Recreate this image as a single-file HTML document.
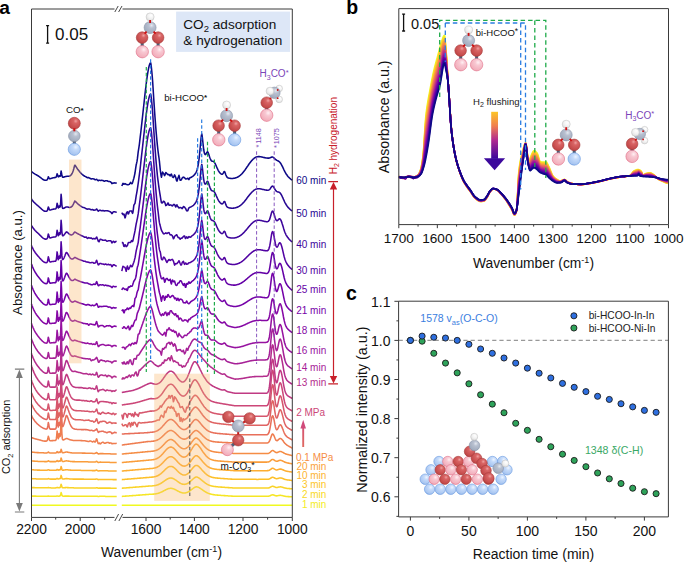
<!DOCTYPE html>
<html><head><meta charset="utf-8"><style>
html,body{margin:0;padding:0;background:#fff;}
svg{display:block;font-family:"Liberation Sans", sans-serif;}
</style></head><body>
<svg width="685" height="562" viewBox="0 0 685 562">
<defs>
<radialGradient id="gO" cx="0.62" cy="0.32" r="0.75"><stop offset="0" stop-color="#f0a0a0"/><stop offset="0.25" stop-color="#d86464"/><stop offset="0.8" stop-color="#c44a4a"/><stop offset="1" stop-color="#b03c3c"/></radialGradient>
<radialGradient id="gP" cx="0.62" cy="0.32" r="0.75"><stop offset="0" stop-color="#fff0f3"/><stop offset="0.3" stop-color="#f8c8d2"/><stop offset="0.85" stop-color="#f2aebb"/><stop offset="1" stop-color="#e8788e"/></radialGradient>
<radialGradient id="gB" cx="0.62" cy="0.32" r="0.75"><stop offset="0" stop-color="#eef5ff"/><stop offset="0.3" stop-color="#c4dafa"/><stop offset="0.85" stop-color="#a6c4f0"/><stop offset="1" stop-color="#6a9ae0"/></radialGradient>
<radialGradient id="gC" cx="0.62" cy="0.32" r="0.75"><stop offset="0" stop-color="#e4e8f0"/><stop offset="0.3" stop-color="#b8c0d0"/><stop offset="0.85" stop-color="#a2acbe"/><stop offset="1" stop-color="#8a94a8"/></radialGradient>
<radialGradient id="gH" cx="0.62" cy="0.32" r="0.75"><stop offset="0" stop-color="#ffffff"/><stop offset="0.5" stop-color="#f2f2f2"/><stop offset="0.9" stop-color="#e0e0e0"/><stop offset="1" stop-color="#c8c8c8"/></radialGradient>
<linearGradient id="gArrowB" x1="0" y1="0" x2="0" y2="1"><stop offset="0" stop-color="#fcc527"/><stop offset="0.3" stop-color="#f07f4f"/><stop offset="0.6" stop-color="#b12a90"/><stop offset="1" stop-color="#3a069c"/></linearGradient>
<linearGradient id="gArrowR" gradientUnits="userSpaceOnUse" x1="0" y1="447" x2="0" y2="420"><stop offset="0" stop-color="#e06a60"/><stop offset="1" stop-color="#d04a7a"/></linearGradient>
</defs>
<text x="-0.80" y="13.60" font-size="19.20" fill="#000" text-anchor="start" font-weight="bold" >a</text>
<path d="M31.5 505.3 31.9 505.3 32.3 505.3 32.7 505.3 33.1 505.3 33.5 505.3 33.9 505.3 34.3 505.3 34.7 505.3 35.1 505.3 35.5 505.3 35.9 505.3 36.3 505.3 36.7 505.3 37.1 505.3 37.5 505.3 37.9 505.3 38.3 505.3 38.7 505.3 39.1 505.3 39.5 505.3 39.9 505.3 40.3 505.3 40.7 505.3 41.1 505.3 41.5 505.3 41.9 505.3 42.3 505.3 42.7 505.3 43.1 505.3 43.5 505.3 43.9 505.3 44.3 505.3 44.7 505.3 45.1 505.3 45.5 505.3 45.9 505.3 46.3 505.3 46.7 505.3 47.1 505.3 47.5 505.3 47.9 505.3 48.3 505.3 48.7 505.3 49.1 505.3 49.5 505.3 49.9 505.3 50.3 505.3 50.7 505.3 51.1 505.3 51.5 505.3 51.9 505.3 52.3 505.3 52.7 505.3 53.1 505.3 53.5 505.3 53.9 505.3 54.3 505.3 54.7 505.3 55.1 505.3 55.5 505.3 55.9 505.3 56.3 505.3 56.7 505.3 57.1 505.3 57.5 505.3 57.9 505.3 58.3 505.3 58.7 505.3 59.1 505.3 59.5 505.3 59.9 505.3 60.3 505.3 60.7 505.3 61.1 505.3 61.5 505.3 61.9 505.3 62.3 505.3 62.7 505.3 63.1 505.3 63.5 505.3 63.9 505.3 64.3 505.3 64.7 505.3 65.1 505.3 65.5 505.3 65.9 505.3 66.3 505.3 66.7 505.3 67.1 505.3 67.5 505.3 67.9 505.3 68.3 505.3 68.7 505.3 69.1 505.3 69.5 505.3 69.9 505.3 70.3 505.3 70.7 505.3 71.1 505.3 71.5 505.3 71.9 505.3 72.3 505.3 72.7 505.3 73.1 505.3 73.5 505.3 73.9 505.3 74.3 505.3 74.7 505.3 75.1 505.3 75.5 505.3 75.9 505.3 76.3 505.3 76.7 505.3 77.1 505.3 77.5 505.3 77.9 505.3 78.3 505.3 78.7 505.3 79.1 505.3 79.5 505.3 79.9 505.3 80.3 505.3 80.7 505.3 81.1 505.3 81.5 505.3 81.9 505.3 82.3 505.3 82.7 505.3 83.1 505.3 83.5 505.3 83.9 505.3 84.3 505.3 84.7 505.3 85.1 505.3 85.5 505.3 85.9 505.3 86.3 505.3 86.7 505.3 87.1 505.3 87.5 505.3 87.9 505.3 88.3 505.3 88.7 505.3 89.1 505.3 89.5 505.3 89.9 505.3 90.3 505.3 90.7 505.3 91.1 505.3 91.5 505.3 91.9 505.3 92.3 505.3 92.7 505.3 93.1 505.3 93.5 505.3 93.9 505.3 94.3 505.3 94.7 505.3 95.1 505.3 95.5 505.3 95.9 505.3 96.3 505.3 96.7 505.3 97.1 505.3 97.5 505.3 97.9 505.3 98.3 505.3 98.7 505.3 99.1 505.3 99.5 505.3 99.9 505.3 100.3 505.3 100.7 505.3 101.1 505.3 101.5 505.3 101.9 505.3 102.3 505.3 102.7 505.3 103.1 505.3 103.5 505.3 103.9 505.3 104.3 505.3 104.7 505.3 105.1 505.3 105.5 505.3 105.9 505.3 106.3 505.3 106.7 505.3 107.1 505.3 107.5 505.3 107.9 505.3 108.3 505.3 108.7 505.3 109.1 505.3 109.5 505.3 109.9 505.3 110.3 505.3 110.7 505.3 111.1 505.3 111.5 505.3 111.9 505.3 112.3 505.3 112.7 505.3 113.1 505.3 113.5 505.3 113.9 505.3 114.3 505.3 114.7 505.3 115.1 505.3 115.5 505.3 115.9 505.3 116.3 505.3 116.7 505.3" fill="none" stroke="#f0f921" stroke-width="1.55" stroke-linejoin="round"/>
<path d="M121.8 505.3 122.2 505.3 122.6 505.3 123.0 505.3 123.4 505.3 123.8 505.3 124.2 505.3 124.6 505.3 125.0 505.3 125.4 505.3 125.8 505.3 126.2 505.3 126.6 505.3 127.0 505.3 127.4 505.3 127.8 505.3 128.2 505.3 128.6 505.3 129.0 505.3 129.4 505.3 129.8 505.3 130.2 505.3 130.6 505.3 131.0 505.3 131.4 505.3 131.8 505.3 132.2 505.3 132.6 505.3 133.0 505.3 133.4 505.3 133.8 505.3 134.2 505.3 134.6 505.3 135.0 505.3 135.4 505.3 135.8 505.3 136.2 505.3 136.6 505.3 137.0 505.3 137.4 505.3 137.8 505.3 138.2 505.3 138.6 505.3 139.0 505.3 139.4 505.3 139.8 505.3 140.2 505.3 140.6 505.3 141.0 505.3 141.4 505.3 141.8 505.3 142.2 505.3 142.6 505.3 143.0 505.3 143.4 505.3 143.8 505.3 144.2 505.3 144.6 505.3 145.0 505.3 145.4 505.3 145.8 505.3 146.2 505.3 146.6 505.3 147.0 505.3 147.4 505.3 147.8 505.3 148.2 505.3 148.6 505.3 149.0 505.3 149.4 505.3 149.8 505.3 150.2 505.3 150.6 505.3 151.0 505.3 151.4 505.3 151.8 505.3 152.2 505.3 152.6 505.3 153.0 505.3 153.4 505.3 153.8 505.3 154.2 505.3 154.6 505.3 155.0 505.3 155.4 505.3 155.8 505.3 156.2 505.3 156.6 505.3 157.0 505.3 157.4 505.3 157.8 505.3 158.2 505.3 158.6 505.3 159.0 505.3 159.4 505.3 159.8 505.3 160.2 505.3 160.6 505.3 161.0 505.3 161.4 505.3 161.8 505.3 162.2 505.3 162.6 505.3 163.0 505.3 163.4 505.3 163.8 505.3 164.2 505.3 164.6 505.3 165.0 505.3 165.4 505.3 165.8 505.3 166.2 505.3 166.6 505.3 167.0 505.3 167.4 505.3 167.8 505.3 168.2 505.3 168.6 505.3 169.0 505.3 169.4 505.3 169.8 505.3 170.2 505.3 170.6 505.3 171.0 505.3 171.4 505.3 171.8 505.3 172.2 505.3 172.6 505.3 173.0 505.3 173.4 505.3 173.8 505.3 174.2 505.3 174.6 505.3 175.0 505.3 175.4 505.3 175.8 505.3 176.2 505.3 176.6 505.3 177.0 505.3 177.4 505.3 177.8 505.3 178.2 505.3 178.6 505.3 179.0 505.3 179.4 505.3 179.8 505.3 180.2 505.3 180.6 505.3 181.0 505.3 181.4 505.3 181.8 505.3 182.2 505.3 182.6 505.3 183.0 505.3 183.4 505.3 183.8 505.3 184.2 505.3 184.6 505.3 185.0 505.3 185.4 505.3 185.8 505.3 186.2 505.3 186.6 505.3 187.0 505.3 187.4 505.3 187.8 505.3 188.2 505.3 188.6 505.3 189.0 505.3 189.4 505.3 189.8 505.3 190.2 505.3 190.6 505.3 191.0 505.3 191.4 505.3 191.8 505.3 192.2 505.3 192.6 505.3 193.0 505.3 193.4 505.3 193.8 505.3 194.2 505.3 194.6 505.3 195.0 505.3 195.4 505.3 195.8 505.3 196.2 505.3 196.6 505.3 197.0 505.3 197.4 505.3 197.8 505.3 198.2 505.3 198.6 505.3 199.0 505.3 199.4 505.3 199.8 505.3 200.2 505.3 200.6 505.3 201.0 505.3 201.4 505.3 201.8 505.3 202.2 505.3 202.6 505.3 203.0 505.3 203.4 505.3 203.8 505.3 204.2 505.3 204.6 505.3 205.0 505.3 205.4 505.3 205.8 505.3 206.2 505.3 206.6 505.3 207.0 505.3 207.4 505.3 207.8 505.3 208.2 505.3 208.6 505.3 209.0 505.3 209.4 505.3 209.8 505.3 210.2 505.3 210.6 505.3 211.0 505.3 211.4 505.3 211.8 505.3 212.2 505.3 212.6 505.3 213.0 505.3 213.4 505.3 213.8 505.3 214.2 505.3 214.6 505.3 215.0 505.3 215.4 505.3 215.8 505.3 216.2 505.3 216.6 505.3 217.0 505.3 217.4 505.3 217.8 505.3 218.2 505.3 218.6 505.3 219.0 505.3 219.4 505.3 219.8 505.3 220.2 505.3 220.6 505.3 221.0 505.3 221.4 505.3 221.8 505.3 222.2 505.3 222.6 505.3 223.0 505.3 223.4 505.3 223.8 505.3 224.2 505.3 224.6 505.3 225.0 505.3 225.4 505.3 225.8 505.3 226.2 505.3 226.6 505.3 227.0 505.3 227.4 505.3 227.8 505.3 228.2 505.3 228.6 505.3 229.0 505.3 229.4 505.3 229.8 505.3 230.2 505.3 230.6 505.3 231.0 505.3 231.4 505.3 231.8 505.3 232.2 505.3 232.6 505.3 233.0 505.3 233.4 505.3 233.8 505.3 234.2 505.3 234.6 505.3 235.0 505.3 235.4 505.3 235.8 505.3 236.2 505.3 236.6 505.3 237.0 505.3 237.4 505.3 237.8 505.3 238.2 505.3 238.6 505.3 239.0 505.3 239.4 505.3 239.8 505.3 240.2 505.3 240.6 505.3 241.0 505.3 241.4 505.3 241.8 505.3 242.2 505.3 242.6 505.3 243.0 505.3 243.4 505.3 243.8 505.3 244.2 505.3 244.6 505.3 245.0 505.3 245.4 505.3 245.8 505.3 246.2 505.3 246.6 505.3 247.0 505.3 247.4 505.3 247.8 505.3 248.2 505.3 248.6 505.3 249.0 505.3 249.4 505.3 249.8 505.3 250.2 505.3 250.6 505.3 251.0 505.3 251.4 505.3 251.8 505.3 252.2 505.3 252.6 505.3 253.0 505.3 253.4 505.3 253.8 505.3 254.2 505.3 254.6 505.3 255.0 505.3 255.4 505.3 255.8 505.3 256.2 505.3 256.6 505.3 257.0 505.3 257.4 505.3 257.8 505.3 258.2 505.3 258.6 505.3 259.0 505.3 259.4 505.3 259.8 505.3 260.2 505.3 260.6 505.3 261.0 505.3 261.4 505.3 261.8 505.3 262.2 505.3 262.6 505.3 263.0 505.3 263.4 505.3 263.8 505.3 264.2 505.3 264.6 505.3 265.0 505.3 265.4 505.3 265.8 505.3 266.2 505.3 266.6 505.3 267.0 505.3 267.4 505.3 267.8 505.3 268.2 505.3 268.6 505.3 269.0 505.3 269.4 505.3 269.8 505.3 270.2 505.3 270.6 505.3 271.0 505.3 271.4 505.3 271.8 505.3 272.2 505.3 272.6 505.3 273.0 505.3 273.4 505.3 273.8 505.3 274.2 505.3 274.6 505.3 275.0 505.3 275.4 505.3 275.8 505.3 276.2 505.3 276.6 505.3 277.0 505.3 277.4 505.3 277.8 505.3 278.2 505.3 278.6 505.3 279.0 505.3 279.4 505.3 279.8 505.3 280.2 505.3 280.6 505.3 281.0 505.3 281.4 505.3 281.8 505.3 282.2 505.3 282.6 505.3 283.0 505.3 283.4 505.3 283.8 505.3 284.2 505.3 284.6 505.3 285.0 505.3 285.4 505.3 285.8 505.3 286.2 505.3 286.6 505.3 287.0 505.3 287.4 505.3 287.8 505.3 288.2 505.3 288.6 505.3 289.0 505.3 289.4 505.3 289.8 505.3 290.2 505.3 290.6 505.3 291.0 505.3 291.4 505.3 291.8 505.3 292.2 505.3" fill="none" stroke="#f0f921" stroke-width="1.55" stroke-linejoin="round"/>
<path d="M31.5 496.1 31.9 496.1 32.3 496.1 32.7 496.1 33.1 496.1 33.5 496.1 33.9 496.1 34.3 496.1 34.7 496.1 35.1 496.1 35.5 496.1 35.9 496.1 36.3 496.2 36.7 496.2 37.1 496.2 37.5 496.2 37.9 496.2 38.3 496.2 38.7 496.2 39.1 496.2 39.5 496.2 39.9 496.2 40.3 496.2 40.7 496.2 41.1 496.2 41.5 496.2 41.9 496.2 42.3 496.2 42.7 496.2 43.1 496.2 43.5 496.2 43.9 496.2 44.3 496.2 44.7 496.2 45.1 496.2 45.5 496.2 45.9 496.2 46.3 496.2 46.7 496.2 47.1 496.2 47.5 496.2 47.9 496.1 48.3 496.1 48.7 496.1 49.1 496.2 49.5 496.2 49.9 496.2 50.3 496.2 50.7 496.2 51.1 496.2 51.5 496.2 51.9 496.2 52.3 496.2 52.7 496.2 53.1 496.2 53.5 496.2 53.9 496.2 54.3 496.2 54.7 496.2 55.1 496.2 55.5 496.2 55.9 496.2 56.3 496.2 56.7 496.1 57.1 496.0 57.5 496.1 57.9 496.2 58.3 496.2 58.7 496.2 59.1 496.1 59.5 496.1 59.9 496.0 60.3 495.7 60.7 494.6 61.1 492.6 61.5 493.6 61.9 495.2 62.3 495.9 62.7 496.1 63.1 496.2 63.5 496.2 63.9 496.2 64.3 496.2 64.7 496.1 65.1 496.1 65.5 496.1 65.9 496.1 66.3 496.1 66.7 496.1 67.1 496.1 67.5 496.1 67.9 496.1 68.3 496.1 68.7 496.1 69.1 496.1 69.5 496.2 69.9 496.2 70.3 496.2 70.7 496.2 71.1 496.2 71.5 496.2 71.9 496.2 72.3 496.2 72.7 496.2 73.1 496.2 73.5 496.2 73.9 496.2 74.3 496.2 74.7 496.2 75.1 496.2 75.5 496.2 75.9 496.2 76.3 496.2 76.7 496.2 77.1 496.2 77.5 496.2 77.9 496.2 78.3 496.2 78.7 496.2 79.1 496.2 79.5 496.2 79.9 496.2 80.3 496.2 80.7 496.2 81.1 496.2 81.5 496.2 81.9 496.2 82.3 496.2 82.7 496.2 83.1 496.2 83.5 496.2 83.9 496.3 84.3 496.3 84.7 496.3 85.1 496.3 85.5 496.3 85.9 496.3 86.3 496.3 86.7 496.3 87.1 496.3 87.5 496.3 87.9 496.3 88.3 496.3 88.7 496.3 89.1 496.3 89.5 496.3 89.9 496.3 90.3 496.3 90.7 496.3 91.1 496.3 91.5 496.3 91.9 496.3 92.3 496.3 92.7 496.3 93.1 496.3 93.5 496.3 93.9 496.3 94.3 496.3 94.7 496.3 95.1 496.3 95.5 496.3 95.9 496.2 96.3 496.2 96.7 496.2 97.1 496.2 97.5 496.3 97.9 496.4 98.3 496.4 98.7 496.4 99.1 496.4 99.5 496.3 99.9 496.3 100.3 496.3 100.7 496.3 101.1 496.3 101.5 496.3 101.9 496.3 102.3 496.3 102.7 496.3 103.1 496.3 103.5 496.3 103.9 496.3 104.3 496.3 104.7 496.3 105.1 496.3 105.5 496.4 105.9 496.4 106.3 496.4 106.7 496.4 107.1 496.4 107.5 496.4 107.9 496.4 108.3 496.4 108.7 496.4 109.1 496.4 109.5 496.4 109.9 496.4 110.3 496.4 110.7 496.4 111.1 496.4 111.5 496.4 111.9 496.4 112.3 496.4 112.7 496.4 113.1 496.4 113.5 496.4 113.9 496.4 114.3 496.4 114.7 496.4 115.1 496.4 115.5 496.4 115.9 496.4 116.3 496.4 116.7 496.4" fill="none" stroke="#f6e624" stroke-width="1.55" stroke-linejoin="round"/>
<path d="M121.8 496.4 122.2 496.4 122.6 496.3 123.0 496.3 123.4 496.3 123.8 496.3 124.2 496.2 124.6 496.2 125.0 496.2 125.4 496.1 125.8 496.1 126.2 496.1 126.6 496.0 127.0 496.0 127.4 496.0 127.8 496.0 128.2 495.9 128.6 495.9 129.0 495.9 129.4 495.8 129.8 495.8 130.2 495.8 130.6 495.7 131.0 495.7 131.4 495.7 131.8 495.7 132.2 495.6 132.6 495.6 133.0 495.6 133.4 495.5 133.8 495.5 134.2 495.5 134.6 495.4 135.0 495.4 135.4 495.4 135.8 495.4 136.2 495.3 136.6 495.3 137.0 495.3 137.4 495.2 137.8 495.2 138.2 495.2 138.6 495.1 139.0 495.1 139.4 495.1 139.8 495.1 140.2 495.0 140.6 495.0 141.0 495.0 141.4 494.9 141.8 494.9 142.2 494.9 142.6 494.8 143.0 494.8 143.4 494.8 143.8 494.8 144.2 494.7 144.6 494.7 145.0 494.7 145.4 494.6 145.8 494.6 146.2 494.6 146.6 494.5 147.0 494.5 147.4 494.5 147.8 494.4 148.2 494.4 148.6 494.4 149.0 494.3 149.4 494.3 149.8 494.3 150.2 494.3 150.6 494.3 151.0 494.2 151.4 494.2 151.8 494.2 152.2 494.2 152.6 494.2 153.0 494.1 153.4 494.1 153.8 494.1 154.2 494.0 154.6 494.0 155.0 493.9 155.4 493.9 155.8 493.8 156.2 493.8 156.6 493.7 157.0 493.6 157.4 493.5 157.8 493.4 158.2 493.3 158.6 493.2 159.0 493.0 159.4 492.9 159.8 492.7 160.2 492.6 160.6 492.4 161.0 492.2 161.4 492.1 161.8 491.9 162.2 491.7 162.6 491.5 163.0 491.3 163.4 491.0 163.8 490.8 164.2 490.6 164.6 490.4 165.0 490.2 165.4 490.0 165.8 489.8 166.2 489.6 166.6 489.4 167.0 489.2 167.4 489.0 167.8 488.9 168.2 488.7 168.6 488.6 169.0 488.5 169.4 488.4 169.8 488.4 170.2 488.3 170.6 488.3 171.0 488.3 171.4 488.3 171.8 488.4 172.2 488.5 172.6 488.5 173.0 488.7 173.4 488.8 173.8 488.9 174.2 489.1 174.6 489.3 175.0 489.5 175.4 489.7 175.8 489.9 176.2 490.1 176.6 490.3 177.0 490.6 177.4 490.8 177.8 491.0 178.2 491.2 178.6 491.4 179.0 491.6 179.4 491.8 179.8 492.0 180.2 492.2 180.6 492.3 181.0 492.5 181.4 492.6 181.8 492.7 182.2 492.8 182.6 492.9 183.0 492.9 183.4 493.0 183.8 493.0 184.2 493.0 184.6 493.0 185.0 493.0 185.4 492.9 185.8 492.8 186.2 492.7 186.6 492.6 187.0 492.5 187.4 492.3 187.8 492.1 188.2 491.9 188.6 491.7 189.0 491.5 189.4 491.2 189.8 490.9 190.2 490.6 190.6 490.4 191.0 490.0 191.4 489.7 191.8 489.4 192.2 489.1 192.6 488.8 193.0 488.5 193.4 488.2 193.8 487.9 194.2 487.7 194.6 487.4 195.0 487.2 195.4 487.0 195.8 486.9 196.2 486.8 196.6 486.8 197.0 486.9 197.4 486.9 197.8 487.1 198.2 487.2 198.6 487.4 199.0 487.6 199.4 487.8 199.8 488.1 200.2 488.3 200.6 488.6 201.0 488.9 201.4 489.1 201.8 489.4 202.2 489.7 202.6 490.0 203.0 490.3 203.4 490.5 203.8 490.8 204.2 491.1 204.6 491.3 205.0 491.6 205.4 491.8 205.8 492.1 206.2 492.3 206.6 492.5 207.0 492.7 207.4 492.9 207.8 493.1 208.2 493.3 208.6 493.4 209.0 493.6 209.4 493.7 209.8 493.8 210.2 494.0 210.6 494.1 211.0 494.2 211.4 494.3 211.8 494.3 212.2 494.4 212.6 494.5 213.0 494.6 213.4 494.6 213.8 494.7 214.2 494.8 214.6 494.8 215.0 494.9 215.4 494.9 215.8 494.9 216.2 495.0 216.6 495.0 217.0 495.1 217.4 495.1 217.8 495.1 218.2 495.2 218.6 495.2 219.0 495.2 219.4 495.3 219.8 495.3 220.2 495.3 220.6 495.3 221.0 495.4 221.4 495.4 221.8 495.4 222.2 495.5 222.6 495.5 223.0 495.5 223.4 495.5 223.8 495.6 224.2 495.6 224.6 495.6 225.0 495.6 225.4 495.7 225.8 495.7 226.2 495.7 226.6 495.8 227.0 495.8 227.4 495.8 227.8 495.8 228.2 495.9 228.6 495.9 229.0 495.9 229.4 495.9 229.8 496.0 230.2 496.0 230.6 496.0 231.0 496.0 231.4 496.1 231.8 496.1 232.2 496.1 232.6 496.2 233.0 496.2 233.4 496.2 233.8 496.2 234.2 496.3 234.6 496.3 235.0 496.3 235.4 496.3 235.8 496.3 236.2 496.3 236.6 496.3 237.0 496.3 237.4 496.3 237.8 496.3 238.2 496.3 238.6 496.3 239.0 496.3 239.4 496.3 239.8 496.3 240.2 496.3 240.6 496.3 241.0 496.3 241.4 496.3 241.8 496.3 242.2 496.3 242.6 496.3 243.0 496.3 243.4 496.3 243.8 496.3 244.2 496.3 244.6 496.3 245.0 496.3 245.4 496.3 245.8 496.3 246.2 496.3 246.6 496.3 247.0 496.3 247.4 496.3 247.8 496.3 248.2 496.3 248.6 496.3 249.0 496.3 249.4 496.3 249.8 496.3 250.2 496.3 250.6 496.3 251.0 496.3 251.4 496.3 251.8 496.3 252.2 496.3 252.6 496.3 253.0 496.3 253.4 496.3 253.8 496.3 254.2 496.3 254.6 496.3 255.0 496.3 255.4 496.3 255.8 496.3 256.2 496.3 256.6 496.3 257.0 496.3 257.4 496.3 257.8 496.3 258.2 496.3 258.6 496.3 259.0 496.3 259.4 496.3 259.8 496.3 260.2 496.3 260.6 496.3 261.0 496.3 261.4 496.3 261.8 496.3 262.2 496.3 262.6 496.3 263.0 496.3 263.4 496.3 263.8 496.3 264.2 496.3 264.6 496.3 265.0 496.3 265.4 496.3 265.8 496.3 266.2 496.3 266.6 496.3 267.0 496.3 267.4 496.3 267.8 496.3 268.2 496.2 268.6 496.2 269.0 496.1 269.4 496.0 269.8 495.9 270.2 495.7 270.6 495.5 271.0 495.3 271.4 495.1 271.8 495.0 272.2 494.9 272.6 494.8 273.0 494.8 273.4 494.9 273.8 495.0 274.2 495.2 274.6 495.4 275.0 495.5 275.4 495.7 275.8 495.8 276.2 495.8 276.6 495.9 277.0 495.8 277.4 495.8 277.8 495.7 278.2 495.6 278.6 495.5 279.0 495.5 279.4 495.4 279.8 495.3 280.2 495.3 280.6 495.3 281.0 495.4 281.4 495.4 281.8 495.5 282.2 495.6 282.6 495.7 283.0 495.8 283.4 495.9 283.8 496.0 284.2 496.1 284.6 496.2 285.0 496.3 285.4 496.3 285.8 496.4 286.2 496.4 286.6 496.5 287.0 496.5 287.4 496.5 287.8 496.6 288.2 496.6 288.6 496.6 289.0 496.6 289.4 496.7 289.8 496.7 290.2 496.7 290.6 496.7 291.0 496.8 291.4 496.8 291.8 496.8 292.2 496.8" fill="none" stroke="#f6e624" stroke-width="1.55" stroke-linejoin="round"/>
<path d="M31.5 487.5 31.9 487.6 32.3 487.6 32.7 487.6 33.1 487.6 33.5 487.6 33.9 487.6 34.3 487.6 34.7 487.7 35.1 487.7 35.5 487.7 35.9 487.7 36.3 487.7 36.7 487.7 37.1 487.7 37.5 487.7 37.9 487.7 38.3 487.7 38.7 487.8 39.1 487.8 39.5 487.8 39.9 487.8 40.3 487.8 40.7 487.8 41.1 487.8 41.5 487.8 41.9 487.8 42.3 487.8 42.7 487.8 43.1 487.8 43.5 487.8 43.9 487.8 44.3 487.8 44.7 487.8 45.1 487.8 45.5 487.8 45.9 487.8 46.3 487.8 46.7 487.8 47.1 487.8 47.5 487.8 47.9 487.7 48.3 487.5 48.7 487.6 49.1 487.7 49.5 487.8 49.9 487.8 50.3 487.8 50.7 487.8 51.1 487.9 51.5 487.9 51.9 487.9 52.3 487.9 52.7 487.9 53.1 487.9 53.5 487.9 53.9 487.9 54.3 487.9 54.7 487.9 55.1 487.9 55.5 487.9 55.9 487.8 56.3 487.8 56.7 487.6 57.1 487.4 57.5 487.5 57.9 487.7 58.3 487.8 58.7 487.7 59.1 487.6 59.5 487.6 59.9 487.6 60.3 487.3 60.7 486.2 61.1 484.2 61.5 485.2 61.9 486.9 62.3 487.5 62.7 487.7 63.1 487.8 63.5 487.8 63.9 487.7 64.3 487.7 64.7 487.7 65.1 487.6 65.5 487.6 65.9 487.6 66.3 487.5 66.7 487.5 67.1 487.6 67.5 487.6 67.9 487.6 68.3 487.6 68.7 487.7 69.1 487.7 69.5 487.7 69.9 487.7 70.3 487.8 70.7 487.8 71.1 487.8 71.5 487.8 71.9 487.8 72.3 487.8 72.7 487.8 73.1 487.8 73.5 487.8 73.9 487.9 74.3 487.9 74.7 487.9 75.1 487.9 75.5 487.9 75.9 487.9 76.3 487.9 76.7 487.9 77.1 487.9 77.5 487.9 77.9 487.9 78.3 487.9 78.7 487.9 79.1 487.9 79.5 487.9 79.9 487.9 80.3 487.9 80.7 487.9 81.1 487.9 81.5 487.9 81.9 487.9 82.3 487.9 82.7 487.9 83.1 487.9 83.5 487.9 83.9 487.9 84.3 487.9 84.7 487.9 85.1 487.9 85.5 487.9 85.9 487.9 86.3 487.9 86.7 487.9 87.1 487.9 87.5 487.9 87.9 487.9 88.3 487.9 88.7 487.9 89.1 488.0 89.5 488.0 89.9 488.0 90.3 488.0 90.7 488.0 91.1 488.0 91.5 488.0 91.9 488.0 92.3 488.0 92.7 488.0 93.1 488.0 93.5 488.0 93.9 488.0 94.3 488.0 94.7 488.0 95.1 488.0 95.5 487.9 95.9 487.9 96.3 487.8 96.7 487.7 97.1 487.8 97.5 488.0 97.9 488.1 98.3 488.2 98.7 488.2 99.1 488.1 99.5 488.1 99.9 488.1 100.3 488.1 100.7 488.1 101.1 488.1 101.5 488.1 101.9 488.1 102.3 488.1 102.7 488.1 103.1 488.1 103.5 488.1 103.9 488.1 104.3 488.1 104.7 488.1 105.1 488.1 105.5 488.1 105.9 488.1 106.3 488.1 106.7 488.1 107.1 488.1 107.5 488.1 107.9 488.1 108.3 488.1 108.7 488.1 109.1 488.1 109.5 488.1 109.9 488.1 110.3 488.1 110.7 488.2 111.1 488.2 111.5 488.2 111.9 488.2 112.3 488.2 112.7 488.2 113.1 488.2 113.5 488.2 113.9 488.2 114.3 488.2 114.7 488.2 115.1 488.2 115.5 488.2 115.9 488.2 116.3 488.2 116.7 488.2" fill="none" stroke="#fad326" stroke-width="1.55" stroke-linejoin="round"/>
<path d="M121.8 488.2 122.2 488.2 122.6 488.1 123.0 488.1 123.4 488.1 123.8 488.0 124.2 488.0 124.6 488.0 125.0 488.0 125.4 487.9 125.8 487.9 126.2 487.9 126.6 487.8 127.0 487.8 127.4 487.8 127.8 487.7 128.2 487.7 128.6 487.7 129.0 487.6 129.4 487.6 129.8 487.6 130.2 487.5 130.6 487.5 131.0 487.5 131.4 487.5 131.8 487.4 132.2 487.4 132.6 487.4 133.0 487.3 133.4 487.3 133.8 487.3 134.2 487.2 134.6 487.2 135.0 487.2 135.4 487.1 135.8 487.1 136.2 487.1 136.6 487.0 137.0 487.0 137.4 487.0 137.8 487.0 138.2 486.9 138.6 486.9 139.0 486.9 139.4 486.8 139.8 486.8 140.2 486.8 140.6 486.7 141.0 486.7 141.4 486.7 141.8 486.6 142.2 486.6 142.6 486.6 143.0 486.5 143.4 486.5 143.8 486.5 144.2 486.4 144.6 486.4 145.0 486.4 145.4 486.4 145.8 486.3 146.2 486.3 146.6 486.3 147.0 486.2 147.4 486.2 147.8 486.2 148.2 486.1 148.6 486.1 149.0 486.0 149.4 486.0 149.8 486.0 150.2 486.0 150.6 485.9 151.0 485.9 151.4 485.9 151.8 485.9 152.2 485.9 152.6 485.8 153.0 485.8 153.4 485.8 153.8 485.7 154.2 485.7 154.6 485.6 155.0 485.5 155.4 485.5 155.8 485.4 156.2 485.3 156.6 485.2 157.0 485.1 157.4 484.9 157.8 484.8 158.2 484.7 158.6 484.5 159.0 484.3 159.4 484.1 159.8 483.9 160.2 483.7 160.6 483.5 161.0 483.3 161.4 483.0 161.8 482.8 162.2 482.5 162.6 482.2 163.0 482.0 163.4 481.7 163.8 481.4 164.2 481.1 164.6 480.8 165.0 480.5 165.4 480.2 165.8 480.0 166.2 479.7 166.6 479.5 167.0 479.2 167.4 479.0 167.8 478.8 168.2 478.6 168.6 478.5 169.0 478.3 169.4 478.2 169.8 478.1 170.2 478.1 170.6 478.0 171.0 478.0 171.4 478.1 171.8 478.1 172.2 478.2 172.6 478.3 173.0 478.5 173.4 478.7 173.8 478.9 174.2 479.1 174.6 479.3 175.0 479.6 175.4 479.9 175.8 480.1 176.2 480.4 176.6 480.7 177.0 481.0 177.4 481.3 177.8 481.6 178.2 481.9 178.6 482.2 179.0 482.5 179.4 482.7 179.8 483.0 180.2 483.2 180.6 483.4 181.0 483.6 181.4 483.8 181.8 483.9 182.2 484.0 182.6 484.2 183.0 484.2 183.4 484.3 183.8 484.3 184.2 484.4 184.6 484.3 185.0 484.3 185.4 484.2 185.8 484.1 186.2 484.0 186.6 483.9 187.0 483.7 187.4 483.5 187.8 483.3 188.2 483.1 188.6 482.8 189.0 482.5 189.4 482.2 189.8 481.9 190.2 481.5 190.6 481.2 191.0 480.8 191.4 480.4 191.8 480.1 192.2 479.7 192.6 479.3 193.0 479.0 193.4 478.6 193.8 478.3 194.2 478.0 194.6 477.7 195.0 477.5 195.4 477.3 195.8 477.1 196.2 477.0 196.6 477.0 197.0 477.1 197.4 477.2 197.8 477.4 198.2 477.6 198.6 477.8 199.0 478.0 199.4 478.3 199.8 478.6 200.2 478.9 200.6 479.2 201.0 479.6 201.4 479.9 201.8 480.2 202.2 480.6 202.6 480.9 203.0 481.2 203.4 481.6 203.8 481.9 204.2 482.2 204.6 482.5 205.0 482.8 205.4 483.1 205.8 483.4 206.2 483.6 206.6 483.9 207.0 484.1 207.4 484.4 207.8 484.6 208.2 484.8 208.6 484.9 209.0 485.1 209.4 485.3 209.8 485.4 210.2 485.6 210.6 485.7 211.0 485.8 211.4 485.9 211.8 486.0 212.2 486.1 212.6 486.2 213.0 486.2 213.4 486.3 213.8 486.4 214.2 486.4 214.6 486.5 215.0 486.5 215.4 486.6 215.8 486.6 216.2 486.7 216.6 486.7 217.0 486.8 217.4 486.8 217.8 486.8 218.2 486.9 218.6 486.9 219.0 486.9 219.4 487.0 219.8 487.0 220.2 487.0 220.6 487.1 221.0 487.1 221.4 487.1 221.8 487.1 222.2 487.2 222.6 487.2 223.0 487.2 223.4 487.3 223.8 487.3 224.2 487.3 224.6 487.3 225.0 487.4 225.4 487.4 225.8 487.4 226.2 487.4 226.6 487.5 227.0 487.5 227.4 487.5 227.8 487.6 228.2 487.6 228.6 487.6 229.0 487.6 229.4 487.7 229.8 487.7 230.2 487.7 230.6 487.7 231.0 487.8 231.4 487.8 231.8 487.8 232.2 487.8 232.6 487.9 233.0 487.9 233.4 487.9 233.8 488.0 234.2 488.0 234.6 488.0 235.0 488.0 235.4 488.0 235.8 488.0 236.2 488.0 236.6 488.0 237.0 488.0 237.4 488.0 237.8 488.0 238.2 488.0 238.6 488.0 239.0 488.0 239.4 488.0 239.8 488.0 240.2 488.0 240.6 488.0 241.0 488.0 241.4 488.0 241.8 488.0 242.2 488.0 242.6 488.0 243.0 488.0 243.4 488.0 243.8 488.0 244.2 488.0 244.6 488.0 245.0 488.0 245.4 488.0 245.8 488.0 246.2 488.0 246.6 488.0 247.0 488.0 247.4 488.0 247.8 488.0 248.2 488.0 248.6 488.0 249.0 488.0 249.4 488.0 249.8 488.0 250.2 488.0 250.6 488.0 251.0 488.0 251.4 488.0 251.8 488.0 252.2 488.0 252.6 488.0 253.0 488.0 253.4 488.0 253.8 488.0 254.2 488.0 254.6 488.0 255.0 488.0 255.4 488.0 255.8 488.0 256.2 488.0 256.6 488.0 257.0 488.0 257.4 488.0 257.8 488.0 258.2 488.0 258.6 488.0 259.0 488.0 259.4 488.0 259.8 488.0 260.2 488.0 260.6 488.0 261.0 488.0 261.4 488.0 261.8 488.0 262.2 488.0 262.6 488.0 263.0 488.0 263.4 488.0 263.8 488.0 264.2 488.0 264.6 488.0 265.0 488.0 265.4 488.0 265.8 488.0 266.2 488.0 266.6 488.0 267.0 488.0 267.4 488.0 267.8 488.0 268.2 488.0 268.6 487.9 269.0 487.8 269.4 487.7 269.8 487.5 270.2 487.3 270.6 487.1 271.0 486.8 271.4 486.6 271.8 486.4 272.2 486.3 272.6 486.2 273.0 486.3 273.4 486.4 273.8 486.5 274.2 486.7 274.6 486.9 275.0 487.1 275.4 487.2 275.8 487.4 276.2 487.5 276.6 487.5 277.0 487.5 277.4 487.4 277.8 487.3 278.2 487.2 278.6 487.1 279.0 487.0 279.4 486.9 279.8 486.9 280.2 486.8 280.6 486.8 281.0 486.9 281.4 487.0 281.8 487.1 282.2 487.2 282.6 487.3 283.0 487.4 283.4 487.5 283.8 487.7 284.2 487.8 284.6 487.9 285.0 488.0 285.4 488.1 285.8 488.2 286.2 488.3 286.6 488.3 287.0 488.4 287.4 488.4 287.8 488.4 288.2 488.5 288.6 488.5 289.0 488.6 289.4 488.6 289.8 488.6 290.2 488.7 290.6 488.7 291.0 488.7 291.4 488.8 291.8 488.8 292.2 488.8" fill="none" stroke="#fad326" stroke-width="1.55" stroke-linejoin="round"/>
<path d="M31.5 478.6 31.9 478.6 32.3 478.7 32.7 478.7 33.1 478.7 33.5 478.7 33.9 478.8 34.3 478.8 34.7 478.8 35.1 478.8 35.5 478.8 35.9 478.8 36.3 478.9 36.7 478.9 37.1 478.9 37.5 478.9 37.9 478.9 38.3 478.9 38.7 478.9 39.1 478.9 39.5 479.0 39.9 479.0 40.3 479.0 40.7 479.0 41.1 479.0 41.5 479.0 41.9 479.0 42.3 479.0 42.7 479.0 43.1 479.0 43.5 479.0 43.9 479.0 44.3 479.0 44.7 479.0 45.1 479.0 45.5 479.0 45.9 479.0 46.3 479.0 46.7 479.0 47.1 479.0 47.5 478.9 47.9 478.8 48.3 478.6 48.7 478.7 49.1 478.9 49.5 479.0 49.9 479.0 50.3 479.1 50.7 479.1 51.1 479.1 51.5 479.1 51.9 479.1 52.3 479.1 52.7 479.1 53.1 479.1 53.5 479.1 53.9 479.1 54.3 479.1 54.7 479.1 55.1 479.1 55.5 479.1 55.9 479.1 56.3 479.0 56.7 478.7 57.1 478.4 57.5 478.6 57.9 478.9 58.3 479.0 58.7 478.9 59.1 478.7 59.5 478.6 59.9 478.8 60.3 478.5 60.7 477.4 61.1 475.4 61.5 476.5 61.9 478.1 62.3 478.8 62.7 478.9 63.1 479.0 63.5 479.0 63.9 478.9 64.3 478.9 64.7 478.8 65.1 478.8 65.5 478.7 65.9 478.6 66.3 478.6 66.7 478.6 67.1 478.6 67.5 478.7 67.9 478.7 68.3 478.7 68.7 478.8 69.1 478.8 69.5 478.9 69.9 478.9 70.3 478.9 70.7 479.0 71.1 479.0 71.5 479.0 71.9 479.0 72.3 479.0 72.7 479.1 73.1 479.1 73.5 479.1 73.9 479.1 74.3 479.1 74.7 479.1 75.1 479.1 75.5 479.1 75.9 479.1 76.3 479.1 76.7 479.1 77.1 479.1 77.5 479.1 77.9 479.1 78.3 479.1 78.7 479.1 79.1 479.1 79.5 479.1 79.9 479.1 80.3 479.1 80.7 479.1 81.1 479.1 81.5 479.1 81.9 479.1 82.3 479.1 82.7 479.1 83.1 479.1 83.5 479.1 83.9 479.2 84.3 479.2 84.7 479.2 85.1 479.2 85.5 479.2 85.9 479.2 86.3 479.2 86.7 479.2 87.1 479.2 87.5 479.2 87.9 479.2 88.3 479.2 88.7 479.2 89.1 479.2 89.5 479.2 89.9 479.2 90.3 479.2 90.7 479.2 91.1 479.3 91.5 479.3 91.9 479.3 92.3 479.3 92.7 479.3 93.1 479.3 93.5 479.3 93.9 479.3 94.3 479.3 94.7 479.3 95.1 479.3 95.5 479.2 95.9 479.1 96.3 478.9 96.7 478.9 97.1 479.1 97.5 479.3 97.9 479.5 98.3 479.6 98.7 479.6 99.1 479.5 99.5 479.4 99.9 479.4 100.3 479.4 100.7 479.4 101.1 479.4 101.5 479.4 101.9 479.4 102.3 479.4 102.7 479.4 103.1 479.4 103.5 479.4 103.9 479.4 104.3 479.4 104.7 479.4 105.1 479.4 105.5 479.5 105.9 479.5 106.3 479.5 106.7 479.5 107.1 479.5 107.5 479.5 107.9 479.5 108.3 479.5 108.7 479.5 109.1 479.5 109.5 479.5 109.9 479.5 110.3 479.5 110.7 479.5 111.1 479.5 111.5 479.5 111.9 479.5 112.3 479.5 112.7 479.6 113.1 479.6 113.5 479.6 113.9 479.6 114.3 479.6 114.7 479.6 115.1 479.6 115.5 479.6 115.9 479.6 116.3 479.6 116.7 479.6" fill="none" stroke="#fdc029" stroke-width="1.55" stroke-linejoin="round"/>
<path d="M121.8 479.6 122.2 479.6 122.6 479.5 123.0 479.5 123.4 479.5 123.8 479.4 124.2 479.4 124.6 479.4 125.0 479.3 125.4 479.3 125.8 479.3 126.2 479.2 126.6 479.2 127.0 479.2 127.4 479.1 127.8 479.1 128.2 479.1 128.6 479.0 129.0 479.0 129.4 479.0 129.8 479.0 130.2 478.9 130.6 478.9 131.0 478.9 131.4 478.8 131.8 478.8 132.2 478.8 132.6 478.7 133.0 478.7 133.4 478.7 133.8 478.6 134.2 478.6 134.6 478.6 135.0 478.5 135.4 478.5 135.8 478.5 136.2 478.4 136.6 478.4 137.0 478.4 137.4 478.3 137.8 478.3 138.2 478.3 138.6 478.2 139.0 478.2 139.4 478.2 139.8 478.1 140.2 478.1 140.6 478.1 141.0 478.0 141.4 478.0 141.8 478.0 142.2 477.9 142.6 477.9 143.0 477.9 143.4 477.8 143.8 477.8 144.2 477.8 144.6 477.7 145.0 477.7 145.4 477.7 145.8 477.6 146.2 477.6 146.6 477.6 147.0 477.5 147.4 477.5 147.8 477.5 148.2 477.4 148.6 477.4 149.0 477.4 149.4 477.3 149.8 477.3 150.2 477.3 150.6 477.2 151.0 477.2 151.4 477.2 151.8 477.1 152.2 477.1 152.6 477.1 153.0 477.0 153.4 477.0 153.8 476.9 154.2 476.8 154.6 476.7 155.0 476.7 155.4 476.6 155.8 476.4 156.2 476.3 156.6 476.2 157.0 476.0 157.4 475.8 157.8 475.7 158.2 475.5 158.6 475.2 159.0 475.0 159.4 474.7 159.8 474.5 160.2 474.2 160.6 473.9 161.0 473.6 161.4 473.2 161.8 472.9 162.2 472.5 162.6 472.1 163.0 471.7 163.4 471.4 163.8 471.0 164.2 470.6 164.6 470.2 165.0 469.8 165.4 469.4 165.8 469.0 166.2 468.6 166.6 468.3 167.0 468.0 167.4 467.7 167.8 467.4 168.2 467.1 168.6 466.9 169.0 466.7 169.4 466.6 169.8 466.5 170.2 466.4 170.6 466.4 171.0 466.4 171.4 466.4 171.8 466.5 172.2 466.6 172.6 466.8 173.0 467.0 173.4 467.2 173.8 467.5 174.2 467.8 174.6 468.1 175.0 468.5 175.4 468.9 175.8 469.2 176.2 469.6 176.6 470.0 177.0 470.5 177.4 470.9 177.8 471.3 178.2 471.7 178.6 472.1 179.0 472.4 179.4 472.8 179.8 473.1 180.2 473.4 180.6 473.7 181.0 474.0 181.4 474.2 181.8 474.4 182.2 474.6 182.6 474.8 183.0 474.9 183.4 475.0 183.8 475.0 184.2 475.0 184.6 475.0 185.0 475.0 185.4 474.9 185.8 474.8 186.2 474.6 186.6 474.4 187.0 474.2 187.4 473.9 187.8 473.6 188.2 473.3 188.6 473.0 189.0 472.6 189.4 472.2 189.8 471.7 190.2 471.3 190.6 470.8 191.0 470.3 191.4 469.8 191.8 469.3 192.2 468.8 192.6 468.3 193.0 467.8 193.4 467.4 193.8 466.9 194.2 466.5 194.6 466.2 195.0 465.9 195.4 465.6 195.8 465.4 196.2 465.4 196.6 465.4 197.0 465.5 197.4 465.6 197.8 465.8 198.2 466.1 198.6 466.4 199.0 466.7 199.4 467.1 199.8 467.5 200.2 467.9 200.6 468.4 201.0 468.8 201.4 469.3 201.8 469.7 202.2 470.2 202.6 470.6 203.0 471.1 203.4 471.5 203.8 471.9 204.2 472.3 204.6 472.7 205.0 473.1 205.4 473.5 205.8 473.8 206.2 474.2 206.6 474.5 207.0 474.8 207.4 475.1 207.8 475.4 208.2 475.6 208.6 475.9 209.0 476.1 209.4 476.3 209.8 476.5 210.2 476.6 210.6 476.8 211.0 476.9 211.4 477.0 211.8 477.2 212.2 477.3 212.6 477.4 213.0 477.5 213.4 477.6 213.8 477.6 214.2 477.7 214.6 477.8 215.0 477.8 215.4 477.9 215.8 477.9 216.2 478.0 216.6 478.0 217.0 478.1 217.4 478.1 217.8 478.1 218.2 478.2 218.6 478.2 219.0 478.2 219.4 478.3 219.8 478.3 220.2 478.3 220.6 478.4 221.0 478.4 221.4 478.4 221.8 478.5 222.2 478.5 222.6 478.5 223.0 478.5 223.4 478.6 223.8 478.6 224.2 478.6 224.6 478.7 225.0 478.7 225.4 478.7 225.8 478.7 226.2 478.8 226.6 478.8 227.0 478.8 227.4 478.8 227.8 478.9 228.2 478.9 228.6 478.9 229.0 478.9 229.4 479.0 229.8 479.0 230.2 479.0 230.6 479.1 231.0 479.1 231.4 479.1 231.8 479.1 232.2 479.2 232.6 479.2 233.0 479.2 233.4 479.2 233.8 479.3 234.2 479.3 234.6 479.3 235.0 479.3 235.4 479.3 235.8 479.3 236.2 479.3 236.6 479.3 237.0 479.3 237.4 479.3 237.8 479.3 238.2 479.3 238.6 479.3 239.0 479.3 239.4 479.3 239.8 479.3 240.2 479.3 240.6 479.3 241.0 479.3 241.4 479.3 241.8 479.3 242.2 479.3 242.6 479.3 243.0 479.3 243.4 479.3 243.8 479.3 244.2 479.3 244.6 479.3 245.0 479.3 245.4 479.3 245.8 479.3 246.2 479.3 246.6 479.3 247.0 479.3 247.4 479.3 247.8 479.3 248.2 479.3 248.6 479.3 249.0 479.3 249.4 479.3 249.8 479.3 250.2 479.3 250.6 479.3 251.0 479.3 251.4 479.3 251.8 479.3 252.2 479.3 252.6 479.3 253.0 479.3 253.4 479.3 253.8 479.3 254.2 479.3 254.6 479.3 255.0 479.3 255.4 479.3 255.8 479.3 256.2 479.3 256.6 479.4 257.0 479.4 257.4 479.4 257.8 479.4 258.2 479.4 258.6 479.3 259.0 479.3 259.4 479.3 259.8 479.3 260.2 479.3 260.6 479.3 261.0 479.3 261.4 479.3 261.8 479.3 262.2 479.3 262.6 479.3 263.0 479.3 263.4 479.3 263.8 479.3 264.2 479.3 264.6 479.3 265.0 479.3 265.4 479.3 265.8 479.3 266.2 479.3 266.6 479.3 267.0 479.3 267.4 479.3 267.8 479.3 268.2 479.3 268.6 479.2 269.0 479.1 269.4 478.9 269.8 478.8 270.2 478.5 270.6 478.2 271.0 478.0 271.4 477.7 271.8 477.5 272.2 477.3 272.6 477.2 273.0 477.3 273.4 477.4 273.8 477.6 274.2 477.8 274.6 478.0 275.0 478.2 275.4 478.4 275.8 478.6 276.2 478.7 276.6 478.7 277.0 478.7 277.4 478.6 277.8 478.5 278.2 478.4 278.6 478.3 279.0 478.1 279.4 478.0 279.8 478.0 280.2 477.9 280.6 478.0 281.0 478.0 281.4 478.1 281.8 478.2 282.2 478.3 282.6 478.5 283.0 478.6 283.4 478.8 283.8 479.0 284.2 479.1 284.6 479.3 285.0 479.4 285.4 479.5 285.8 479.6 286.2 479.7 286.6 479.7 287.0 479.8 287.4 479.9 287.8 479.9 288.2 480.0 288.6 480.0 289.0 480.1 289.4 480.1 289.8 480.2 290.2 480.2 290.6 480.3 291.0 480.3 291.4 480.4 291.8 480.4 292.2 480.4" fill="none" stroke="#fdc029" stroke-width="1.55" stroke-linejoin="round"/>
<path d="M31.5 469.7 31.9 469.7 32.3 469.7 32.7 469.8 33.1 469.8 33.5 469.8 33.9 469.9 34.3 469.9 34.7 469.9 35.1 470.0 35.5 470.0 35.9 470.0 36.3 470.0 36.7 470.0 37.1 470.1 37.5 470.1 37.9 470.1 38.3 470.1 38.7 470.1 39.1 470.1 39.5 470.1 39.9 470.2 40.3 470.2 40.7 470.2 41.1 470.2 41.5 470.2 41.9 470.2 42.3 470.2 42.7 470.2 43.1 470.2 43.5 470.2 43.9 470.2 44.3 470.2 44.7 470.2 45.1 470.3 45.5 470.3 45.9 470.3 46.3 470.3 46.7 470.3 47.1 470.2 47.5 470.1 47.9 469.9 48.3 469.7 48.7 469.8 49.1 470.0 49.5 470.2 49.9 470.3 50.3 470.3 50.7 470.3 51.1 470.3 51.5 470.3 51.9 470.3 52.3 470.3 52.7 470.3 53.1 470.3 53.5 470.3 53.9 470.3 54.3 470.3 54.7 470.3 55.1 470.3 55.5 470.3 55.9 470.3 56.3 470.2 56.7 469.9 57.1 469.4 57.5 469.6 57.9 470.0 58.3 470.2 58.7 470.1 59.1 469.8 59.5 469.7 59.9 469.9 60.3 469.7 60.7 468.6 61.1 466.6 61.5 467.7 61.9 469.3 62.3 470.0 62.7 470.2 63.1 470.2 63.5 470.1 63.9 470.1 64.3 470.0 64.7 469.9 65.1 469.9 65.5 469.8 65.9 469.7 66.3 469.7 66.7 469.7 67.1 469.7 67.5 469.7 67.9 469.8 68.3 469.9 68.7 469.9 69.1 470.0 69.5 470.0 69.9 470.1 70.3 470.1 70.7 470.1 71.1 470.2 71.5 470.2 71.9 470.2 72.3 470.3 72.7 470.3 73.1 470.3 73.5 470.3 73.9 470.3 74.3 470.3 74.7 470.3 75.1 470.3 75.5 470.3 75.9 470.3 76.3 470.3 76.7 470.3 77.1 470.3 77.5 470.3 77.9 470.3 78.3 470.3 78.7 470.3 79.1 470.3 79.5 470.3 79.9 470.3 80.3 470.3 80.7 470.3 81.1 470.4 81.5 470.4 81.9 470.4 82.3 470.4 82.7 470.4 83.1 470.4 83.5 470.4 83.9 470.4 84.3 470.4 84.7 470.4 85.1 470.4 85.5 470.4 85.9 470.4 86.3 470.4 86.7 470.5 87.1 470.5 87.5 470.5 87.9 470.5 88.3 470.5 88.7 470.5 89.1 470.5 89.5 470.5 89.9 470.5 90.3 470.5 90.7 470.5 91.1 470.5 91.5 470.5 91.9 470.6 92.3 470.6 92.7 470.6 93.1 470.6 93.5 470.6 93.9 470.6 94.3 470.6 94.7 470.6 95.1 470.6 95.5 470.5 95.9 470.3 96.3 470.1 96.7 470.0 97.1 470.3 97.5 470.6 97.9 470.8 98.3 471.0 98.7 471.0 99.1 470.9 99.5 470.8 99.9 470.7 100.3 470.7 100.7 470.7 101.1 470.7 101.5 470.7 101.9 470.7 102.3 470.7 102.7 470.8 103.1 470.8 103.5 470.8 103.9 470.8 104.3 470.8 104.7 470.8 105.1 470.8 105.5 470.8 105.9 470.8 106.3 470.8 106.7 470.8 107.1 470.8 107.5 470.8 107.9 470.8 108.3 470.9 108.7 470.9 109.1 470.9 109.5 470.9 109.9 470.9 110.3 470.9 110.7 470.9 111.1 470.9 111.5 470.9 111.9 470.9 112.3 470.9 112.7 470.9 113.1 470.9 113.5 471.0 113.9 471.0 114.3 471.0 114.7 471.0 115.1 471.0 115.5 471.0 115.9 471.0 116.3 471.0 116.7 471.0" fill="none" stroke="#fdae32" stroke-width="1.55" stroke-linejoin="round"/>
<path d="M121.8 471.0 122.2 471.0 122.6 470.9 123.0 470.9 123.4 470.9 123.8 470.8 124.2 470.8 124.6 470.8 125.0 470.7 125.4 470.7 125.8 470.7 126.2 470.6 126.6 470.6 127.0 470.6 127.4 470.5 127.8 470.5 128.2 470.5 128.6 470.4 129.0 470.4 129.4 470.4 129.8 470.3 130.2 470.3 130.6 470.3 131.0 470.2 131.4 470.2 131.8 470.2 132.2 470.1 132.6 470.1 133.0 470.1 133.4 470.0 133.8 470.0 134.2 470.0 134.6 469.9 135.0 469.9 135.4 469.8 135.8 469.8 136.2 469.8 136.6 469.7 137.0 469.7 137.4 469.7 137.8 469.6 138.2 469.6 138.6 469.6 139.0 469.5 139.4 469.5 139.8 469.5 140.2 469.4 140.6 469.4 141.0 469.4 141.4 469.3 141.8 469.3 142.2 469.3 142.6 469.2 143.0 469.2 143.4 469.2 143.8 469.1 144.2 469.1 144.6 469.1 145.0 469.0 145.4 469.0 145.8 469.0 146.2 468.9 146.6 468.9 147.0 468.8 147.4 468.8 147.8 468.8 148.2 468.7 148.6 468.7 149.0 468.7 149.4 468.6 149.8 468.6 150.2 468.6 150.6 468.5 151.0 468.5 151.4 468.5 151.8 468.4 152.2 468.4 152.6 468.4 153.0 468.3 153.4 468.2 153.8 468.2 154.2 468.1 154.6 468.0 155.0 467.9 155.4 467.8 155.8 467.7 156.2 467.5 156.6 467.4 157.0 467.2 157.4 467.0 157.8 466.8 158.2 466.6 158.6 466.4 159.0 466.1 159.4 465.8 159.8 465.5 160.2 465.2 160.6 464.9 161.0 464.5 161.4 464.2 161.8 463.8 162.2 463.4 162.6 463.0 163.0 462.6 163.4 462.1 163.8 461.7 164.2 461.3 164.6 460.8 165.0 460.4 165.4 460.0 165.8 459.6 166.2 459.2 166.6 458.8 167.0 458.4 167.4 458.1 167.8 457.8 168.2 457.5 168.6 457.3 169.0 457.1 169.4 456.9 169.8 456.8 170.2 456.7 170.6 456.7 171.0 456.7 171.4 456.7 171.8 456.8 172.2 456.9 172.6 457.1 173.0 457.4 173.4 457.6 173.8 457.9 174.2 458.3 174.6 458.6 175.0 459.0 175.4 459.4 175.8 459.8 176.2 460.3 176.6 460.7 177.0 461.1 177.4 461.6 177.8 462.0 178.2 462.5 178.6 462.9 179.0 463.3 179.4 463.7 179.8 464.0 180.2 464.4 180.6 464.7 181.0 465.0 181.4 465.2 181.8 465.5 182.2 465.7 182.6 465.8 183.0 466.0 183.4 466.0 183.8 466.1 184.2 466.1 184.6 466.1 185.0 466.0 185.4 465.9 185.8 465.8 186.2 465.6 186.6 465.4 187.0 465.2 187.4 464.9 187.8 464.6 188.2 464.2 188.6 463.8 189.0 463.4 189.4 462.9 189.8 462.5 190.2 462.0 190.6 461.4 191.0 460.9 191.4 460.4 191.8 459.8 192.2 459.3 192.6 458.7 193.0 458.2 193.4 457.7 193.8 457.3 194.2 456.9 194.6 456.5 195.0 456.2 195.4 455.9 195.8 455.7 196.2 455.7 196.6 455.7 197.0 455.8 197.4 456.0 197.8 456.3 198.2 456.6 198.6 456.9 199.0 457.3 199.4 457.7 199.8 458.1 200.2 458.6 200.6 459.0 201.0 459.5 201.4 460.0 201.8 460.5 202.2 461.0 202.6 461.5 203.0 462.0 203.4 462.4 203.8 462.9 204.2 463.3 204.6 463.7 205.0 464.1 205.4 464.5 205.8 464.9 206.2 465.3 206.6 465.6 207.0 466.0 207.4 466.3 207.8 466.6 208.2 466.8 208.6 467.1 209.0 467.3 209.4 467.5 209.8 467.7 210.2 467.9 210.6 468.0 211.0 468.2 211.4 468.3 211.8 468.5 212.2 468.6 212.6 468.7 213.0 468.8 213.4 468.8 213.8 468.9 214.2 469.0 214.6 469.1 215.0 469.1 215.4 469.2 215.8 469.2 216.2 469.3 216.6 469.3 217.0 469.4 217.4 469.4 217.8 469.5 218.2 469.5 218.6 469.5 219.0 469.6 219.4 469.6 219.8 469.6 220.2 469.7 220.6 469.7 221.0 469.7 221.4 469.7 221.8 469.8 222.2 469.8 222.6 469.8 223.0 469.9 223.4 469.9 223.8 469.9 224.2 469.9 224.6 470.0 225.0 470.0 225.4 470.0 225.8 470.1 226.2 470.1 226.6 470.1 227.0 470.1 227.4 470.2 227.8 470.2 228.2 470.2 228.6 470.2 229.0 470.3 229.4 470.3 229.8 470.3 230.2 470.3 230.6 470.4 231.0 470.4 231.4 470.4 231.8 470.5 232.2 470.5 232.6 470.5 233.0 470.5 233.4 470.6 233.8 470.6 234.2 470.6 234.6 470.6 235.0 470.7 235.4 470.7 235.8 470.7 236.2 470.7 236.6 470.7 237.0 470.7 237.4 470.7 237.8 470.7 238.2 470.7 238.6 470.7 239.0 470.7 239.4 470.7 239.8 470.7 240.2 470.7 240.6 470.7 241.0 470.7 241.4 470.7 241.8 470.7 242.2 470.7 242.6 470.7 243.0 470.7 243.4 470.7 243.8 470.7 244.2 470.7 244.6 470.7 245.0 470.7 245.4 470.7 245.8 470.7 246.2 470.7 246.6 470.7 247.0 470.7 247.4 470.7 247.8 470.7 248.2 470.7 248.6 470.7 249.0 470.7 249.4 470.7 249.8 470.7 250.2 470.7 250.6 470.7 251.0 470.7 251.4 470.7 251.8 470.7 252.2 470.7 252.6 470.7 253.0 470.7 253.4 470.7 253.8 470.7 254.2 470.7 254.6 470.7 255.0 470.7 255.4 470.7 255.8 470.7 256.2 470.7 256.6 470.7 257.0 470.7 257.4 470.7 257.8 470.7 258.2 470.7 258.6 470.7 259.0 470.7 259.4 470.7 259.8 470.7 260.2 470.7 260.6 470.7 261.0 470.7 261.4 470.7 261.8 470.7 262.2 470.7 262.6 470.7 263.0 470.7 263.4 470.7 263.8 470.7 264.2 470.7 264.6 470.7 265.0 470.7 265.4 470.7 265.8 470.7 266.2 470.7 266.6 470.7 267.0 470.7 267.4 470.6 267.8 470.6 268.2 470.6 268.6 470.5 269.0 470.4 269.4 470.2 269.8 470.0 270.2 469.7 270.6 469.4 271.0 469.1 271.4 468.8 271.8 468.5 272.2 468.3 272.6 468.3 273.0 468.3 273.4 468.4 273.8 468.6 274.2 468.9 274.6 469.1 275.0 469.4 275.4 469.6 275.8 469.8 276.2 469.9 276.6 469.9 277.0 469.9 277.4 469.8 277.8 469.7 278.2 469.6 278.6 469.4 279.0 469.3 279.4 469.2 279.8 469.1 280.2 469.1 280.6 469.1 281.0 469.1 281.4 469.2 281.8 469.4 282.2 469.5 282.6 469.7 283.0 469.8 283.4 470.0 283.8 470.2 284.2 470.4 284.6 470.6 285.0 470.7 285.4 470.9 285.8 471.0 286.2 471.1 286.6 471.2 287.0 471.3 287.4 471.3 287.8 471.4 288.2 471.5 288.6 471.5 289.0 471.6 289.4 471.7 289.8 471.7 290.2 471.8 290.6 471.8 291.0 471.9 291.4 472.0 291.8 472.0 292.2 472.1" fill="none" stroke="#fdae32" stroke-width="1.55" stroke-linejoin="round"/>
<path d="M31.5 460.8 31.9 460.9 32.3 460.9 32.7 461.0 33.1 461.0 33.5 461.1 33.9 461.1 34.3 461.1 34.7 461.2 35.1 461.2 35.5 461.2 35.9 461.2 36.3 461.3 36.7 461.3 37.1 461.3 37.5 461.3 37.9 461.4 38.3 461.4 38.7 461.4 39.1 461.4 39.5 461.4 39.9 461.4 40.3 461.5 40.7 461.5 41.1 461.5 41.5 461.5 41.9 461.5 42.3 461.5 42.7 461.5 43.1 461.5 43.5 461.5 43.9 461.5 44.3 461.6 44.7 461.6 45.1 461.6 45.5 461.6 45.9 461.6 46.3 461.6 46.7 461.6 47.1 461.5 47.5 461.4 47.9 461.1 48.3 460.8 48.7 461.0 49.1 461.3 49.5 461.5 49.9 461.6 50.3 461.6 50.7 461.6 51.1 461.6 51.5 461.6 51.9 461.6 52.3 461.6 52.7 461.6 53.1 461.6 53.5 461.6 53.9 461.6 54.3 461.6 54.7 461.6 55.1 461.6 55.5 461.6 55.9 461.6 56.3 461.4 56.7 461.1 57.1 460.5 57.5 460.8 57.9 461.3 58.3 461.5 58.7 461.3 59.1 461.0 59.5 460.9 59.9 461.2 60.3 461.0 60.7 459.9 61.1 458.0 61.5 459.0 61.9 460.6 62.3 461.3 62.7 461.5 63.1 461.5 63.5 461.4 63.9 461.4 64.3 461.3 64.7 461.2 65.1 461.1 65.5 461.0 65.9 460.9 66.3 460.8 66.7 460.8 67.1 460.9 67.5 460.9 67.9 461.0 68.3 461.1 68.7 461.1 69.1 461.2 69.5 461.3 69.9 461.3 70.3 461.4 70.7 461.4 71.1 461.5 71.5 461.5 71.9 461.5 72.3 461.6 72.7 461.6 73.1 461.6 73.5 461.6 73.9 461.6 74.3 461.6 74.7 461.6 75.1 461.7 75.5 461.7 75.9 461.7 76.3 461.7 76.7 461.7 77.1 461.7 77.5 461.7 77.9 461.7 78.3 461.7 78.7 461.7 79.1 461.7 79.5 461.7 79.9 461.7 80.3 461.7 80.7 461.7 81.1 461.7 81.5 461.7 81.9 461.7 82.3 461.7 82.7 461.7 83.1 461.7 83.5 461.7 83.9 461.8 84.3 461.8 84.7 461.8 85.1 461.8 85.5 461.8 85.9 461.8 86.3 461.8 86.7 461.8 87.1 461.8 87.5 461.8 87.9 461.8 88.3 461.9 88.7 461.9 89.1 461.9 89.5 461.9 89.9 461.9 90.3 461.9 90.7 461.9 91.1 461.9 91.5 461.9 91.9 461.9 92.3 462.0 92.7 462.0 93.1 462.0 93.5 462.0 93.9 462.0 94.3 462.0 94.7 462.0 95.1 462.0 95.5 461.9 95.9 461.7 96.3 461.4 96.7 461.3 97.1 461.6 97.5 462.0 97.9 462.3 98.3 462.5 98.7 462.5 99.1 462.3 99.5 462.2 99.9 462.2 100.3 462.1 100.7 462.1 101.1 462.2 101.5 462.2 101.9 462.2 102.3 462.2 102.7 462.2 103.1 462.2 103.5 462.2 103.9 462.2 104.3 462.2 104.7 462.2 105.1 462.2 105.5 462.3 105.9 462.3 106.3 462.3 106.7 462.3 107.1 462.3 107.5 462.3 107.9 462.3 108.3 462.3 108.7 462.3 109.1 462.3 109.5 462.3 109.9 462.4 110.3 462.4 110.7 462.4 111.1 462.4 111.5 462.4 111.9 462.4 112.3 462.4 112.7 462.4 113.1 462.4 113.5 462.4 113.9 462.5 114.3 462.5 114.7 462.5 115.1 462.5 115.5 462.5 115.9 462.5 116.3 462.5 116.7 462.5" fill="none" stroke="#fa9d3b" stroke-width="1.55" stroke-linejoin="round"/>
<path d="M121.8 462.5 122.2 462.5 122.6 462.4 123.0 462.4 123.4 462.4 123.8 462.3 124.2 462.3 124.6 462.3 125.0 462.2 125.4 462.2 125.8 462.2 126.2 462.1 126.6 462.1 127.0 462.0 127.4 462.0 127.8 462.0 128.2 461.9 128.6 461.9 129.0 461.9 129.4 461.8 129.8 461.8 130.2 461.8 130.6 461.7 131.0 461.7 131.4 461.7 131.8 461.6 132.2 461.6 132.6 461.6 133.0 461.5 133.4 461.5 133.8 461.4 134.2 461.4 134.6 461.4 135.0 461.3 135.4 461.3 135.8 461.3 136.2 461.2 136.6 461.2 137.0 461.2 137.4 461.1 137.8 461.1 138.2 461.1 138.6 461.0 139.0 461.0 139.4 461.0 139.8 460.9 140.2 460.9 140.6 460.8 141.0 460.8 141.4 460.8 141.8 460.7 142.2 460.7 142.6 460.7 143.0 460.6 143.4 460.6 143.8 460.6 144.2 460.5 144.6 460.5 145.0 460.5 145.4 460.4 145.8 460.4 146.2 460.3 146.6 460.3 147.0 460.3 147.4 460.2 147.8 460.2 148.2 460.2 148.6 460.1 149.0 460.1 149.4 460.0 149.8 460.0 150.2 460.0 150.6 459.9 151.0 459.9 151.4 459.9 151.8 459.8 152.2 459.8 152.6 459.8 153.0 459.7 153.4 459.6 153.8 459.6 154.2 459.5 154.6 459.4 155.0 459.3 155.4 459.1 155.8 459.0 156.2 458.9 156.6 458.7 157.0 458.5 157.4 458.3 157.8 458.1 158.2 457.8 158.6 457.6 159.0 457.3 159.4 457.0 159.8 456.7 160.2 456.3 160.6 456.0 161.0 455.6 161.4 455.2 161.8 454.8 162.2 454.4 162.6 453.9 163.0 453.5 163.4 453.0 163.8 452.5 164.2 452.1 164.6 451.6 165.0 451.1 165.4 450.7 165.8 450.2 166.2 449.8 166.6 449.4 167.0 449.0 167.4 448.6 167.8 448.3 168.2 448.0 168.6 447.8 169.0 447.5 169.4 447.4 169.8 447.2 170.2 447.1 170.6 447.1 171.0 447.1 171.4 447.1 171.8 447.2 172.2 447.4 172.6 447.6 173.0 447.8 173.4 448.1 173.8 448.4 174.2 448.8 174.6 449.2 175.0 449.6 175.4 450.0 175.8 450.5 176.2 451.0 176.6 451.4 177.0 451.9 177.4 452.4 177.8 452.9 178.2 453.3 178.6 453.8 179.0 454.2 179.4 454.6 179.8 455.0 180.2 455.4 180.6 455.7 181.0 456.0 181.4 456.3 181.8 456.5 182.2 456.7 182.6 456.9 183.0 457.0 183.4 457.1 183.8 457.1 184.2 457.1 184.6 457.0 185.0 456.9 185.4 456.8 185.8 456.6 186.2 456.4 186.6 456.1 187.0 455.8 187.4 455.4 187.8 455.0 188.2 454.5 188.6 454.0 189.0 453.5 189.4 452.9 189.8 452.3 190.2 451.7 190.6 451.1 191.0 450.4 191.4 449.7 191.8 449.1 192.2 448.4 192.6 447.7 193.0 447.1 193.4 446.5 193.8 446.0 194.2 445.4 194.6 445.0 195.0 444.6 195.4 444.3 195.8 444.1 196.2 444.1 196.6 444.2 197.0 444.3 197.4 444.6 197.8 444.9 198.2 445.3 198.6 445.7 199.0 446.2 199.4 446.7 199.8 447.2 200.2 447.8 200.6 448.3 201.0 448.9 201.4 449.5 201.8 450.2 202.2 450.8 202.6 451.4 203.0 451.9 203.4 452.5 203.8 453.1 204.2 453.6 204.6 454.1 205.0 454.6 205.4 455.1 205.8 455.6 206.2 456.0 206.6 456.4 207.0 456.8 207.4 457.2 207.8 457.5 208.2 457.8 208.6 458.1 209.0 458.4 209.4 458.6 209.8 458.9 210.2 459.1 210.6 459.3 211.0 459.4 211.4 459.6 211.8 459.7 212.2 459.9 212.6 460.0 213.0 460.1 213.4 460.2 213.8 460.3 214.2 460.4 214.6 460.4 215.0 460.5 215.4 460.6 215.8 460.6 216.2 460.7 216.6 460.7 217.0 460.8 217.4 460.8 217.8 460.9 218.2 460.9 218.6 460.9 219.0 461.0 219.4 461.0 219.8 461.0 220.2 461.1 220.6 461.1 221.0 461.1 221.4 461.2 221.8 461.2 222.2 461.2 222.6 461.2 223.0 461.3 223.4 461.3 223.8 461.3 224.2 461.4 224.6 461.4 225.0 461.4 225.4 461.4 225.8 461.5 226.2 461.5 226.6 461.5 227.0 461.5 227.4 461.6 227.8 461.6 228.2 461.6 228.6 461.7 229.0 461.7 229.4 461.7 229.8 461.7 230.2 461.8 230.6 461.8 231.0 461.8 231.4 461.8 231.8 461.9 232.2 461.9 232.6 461.9 233.0 461.9 233.4 462.0 233.8 462.0 234.2 462.0 234.6 462.1 235.0 462.1 235.4 462.1 235.8 462.1 236.2 462.1 236.6 462.1 237.0 462.1 237.4 462.1 237.8 462.1 238.2 462.1 238.6 462.1 239.0 462.1 239.4 462.1 239.8 462.1 240.2 462.1 240.6 462.1 241.0 462.1 241.4 462.1 241.8 462.1 242.2 462.1 242.6 462.1 243.0 462.1 243.4 462.1 243.8 462.1 244.2 462.1 244.6 462.1 245.0 462.1 245.4 462.1 245.8 462.1 246.2 462.1 246.6 462.1 247.0 462.1 247.4 462.1 247.8 462.1 248.2 462.1 248.6 462.1 249.0 462.1 249.4 462.1 249.8 462.1 250.2 462.1 250.6 462.1 251.0 462.1 251.4 462.1 251.8 462.1 252.2 462.1 252.6 462.1 253.0 462.1 253.4 462.1 253.8 462.1 254.2 462.1 254.6 462.1 255.0 462.1 255.4 462.1 255.8 462.1 256.2 462.1 256.6 462.1 257.0 462.1 257.4 462.1 257.8 462.1 258.2 462.1 258.6 462.1 259.0 462.1 259.4 462.1 259.8 462.1 260.2 462.1 260.6 462.1 261.0 462.1 261.4 462.1 261.8 462.1 262.2 462.1 262.6 462.1 263.0 462.1 263.4 462.1 263.8 462.1 264.2 462.1 264.6 462.1 265.0 462.1 265.4 462.1 265.8 462.1 266.2 462.1 266.6 462.1 267.0 462.1 267.4 462.0 267.8 462.0 268.2 462.0 268.6 461.9 269.0 461.7 269.4 461.6 269.8 461.3 270.2 461.0 270.6 460.7 271.0 460.3 271.4 459.9 271.8 459.6 272.2 459.4 272.6 459.4 273.0 459.4 273.4 459.6 273.8 459.8 274.2 460.1 274.6 460.4 275.0 460.7 275.4 460.9 275.8 461.1 276.2 461.2 276.6 461.3 277.0 461.2 277.4 461.2 277.8 461.0 278.2 460.9 278.6 460.7 279.0 460.5 279.4 460.4 279.8 460.3 280.2 460.3 280.6 460.3 281.0 460.4 281.4 460.5 281.8 460.6 282.2 460.8 282.6 461.0 283.0 461.1 283.4 461.4 283.8 461.6 284.2 461.8 284.6 462.0 285.0 462.2 285.4 462.3 285.8 462.5 286.2 462.6 286.6 462.7 287.0 462.8 287.4 462.9 287.8 463.0 288.2 463.1 288.6 463.1 289.0 463.2 289.4 463.3 289.8 463.4 290.2 463.4 290.6 463.5 291.0 463.6 291.4 463.7 291.8 463.7 292.2 463.8" fill="none" stroke="#fa9d3b" stroke-width="1.55" stroke-linejoin="round"/>
<path d="M31.5 452.0 31.9 452.1 32.3 452.1 32.7 452.2 33.1 452.2 33.5 452.3 33.9 452.3 34.3 452.3 34.7 452.4 35.1 452.4 35.5 452.5 35.9 452.5 36.3 452.5 36.7 452.6 37.1 452.6 37.5 452.6 37.9 452.6 38.3 452.6 38.7 452.7 39.1 452.7 39.5 452.7 39.9 452.7 40.3 452.7 40.7 452.8 41.1 452.8 41.5 452.8 41.9 452.8 42.3 452.8 42.7 452.8 43.1 452.8 43.5 452.8 43.9 452.9 44.3 452.9 44.7 452.9 45.1 452.9 45.5 452.9 45.9 452.9 46.3 452.9 46.7 452.9 47.1 452.8 47.5 452.7 47.9 452.4 48.3 452.0 48.7 452.2 49.1 452.6 49.5 452.8 49.9 452.9 50.3 452.9 50.7 452.9 51.1 453.0 51.5 453.0 51.9 453.0 52.3 453.0 52.7 453.0 53.1 453.0 53.5 453.0 53.9 453.0 54.3 453.0 54.7 453.0 55.1 453.0 55.5 453.0 55.9 452.9 56.3 452.7 56.7 452.3 57.1 451.6 57.5 451.9 57.9 452.5 58.3 452.7 58.7 452.6 59.1 452.1 59.5 452.1 59.9 452.5 60.3 452.3 60.7 451.3 61.1 449.3 61.5 450.3 61.9 451.9 62.3 452.6 62.7 452.8 63.1 452.8 63.5 452.7 63.9 452.6 64.3 452.5 64.7 452.4 65.1 452.3 65.5 452.2 65.9 452.1 66.3 452.0 66.7 452.0 67.1 452.1 67.5 452.1 67.9 452.2 68.3 452.3 68.7 452.4 69.1 452.4 69.5 452.5 69.9 452.6 70.3 452.7 70.7 452.7 71.1 452.8 71.5 452.8 71.9 452.9 72.3 452.9 72.7 452.9 73.1 452.9 73.5 452.9 73.9 453.0 74.3 453.0 74.7 453.0 75.1 453.0 75.5 453.0 75.9 453.0 76.3 453.0 76.7 453.0 77.1 453.0 77.5 453.0 77.9 453.0 78.3 453.0 78.7 453.0 79.1 453.0 79.5 453.0 79.9 453.0 80.3 453.0 80.7 453.0 81.1 453.0 81.5 453.0 81.9 453.1 82.3 453.1 82.7 453.1 83.1 453.1 83.5 453.1 83.9 453.1 84.3 453.1 84.7 453.1 85.1 453.1 85.5 453.2 85.9 453.2 86.3 453.2 86.7 453.2 87.1 453.2 87.5 453.2 87.9 453.2 88.3 453.2 88.7 453.2 89.1 453.3 89.5 453.3 89.9 453.3 90.3 453.3 90.7 453.3 91.1 453.3 91.5 453.3 91.9 453.3 92.3 453.3 92.7 453.4 93.1 453.4 93.5 453.4 93.9 453.4 94.3 453.4 94.7 453.4 95.1 453.3 95.5 453.2 95.9 453.0 96.3 452.7 96.7 452.5 97.1 452.9 97.5 453.4 97.9 453.7 98.3 454.0 98.7 454.0 99.1 453.8 99.5 453.7 99.9 453.6 100.3 453.6 100.7 453.6 101.1 453.6 101.5 453.6 101.9 453.6 102.3 453.6 102.7 453.6 103.1 453.6 103.5 453.7 103.9 453.7 104.3 453.7 104.7 453.7 105.1 453.7 105.5 453.7 105.9 453.7 106.3 453.7 106.7 453.7 107.1 453.8 107.5 453.8 107.9 453.8 108.3 453.8 108.7 453.8 109.1 453.8 109.5 453.8 109.9 453.8 110.3 453.8 110.7 453.9 111.1 453.9 111.5 453.9 111.9 453.9 112.3 453.9 112.7 453.9 113.1 453.9 113.5 453.9 113.9 453.9 114.3 454.0 114.7 454.0 115.1 454.0 115.5 454.0 115.9 454.0 116.3 454.0 116.7 454.0" fill="none" stroke="#f58d45" stroke-width="1.55" stroke-linejoin="round"/>
<path d="M121.8 454.0 122.2 454.0 122.6 453.9 123.0 453.9 123.4 453.9 123.8 453.8 124.2 453.8 124.6 453.7 125.0 453.7 125.4 453.7 125.8 453.6 126.2 453.6 126.6 453.6 127.0 453.5 127.4 453.5 127.8 453.5 128.2 453.4 128.6 453.4 129.0 453.3 129.4 453.3 129.8 453.3 130.2 453.2 130.6 453.2 131.0 453.2 131.4 453.1 131.8 453.1 132.2 453.1 132.6 453.0 133.0 453.0 133.4 452.9 133.8 452.9 134.2 452.9 134.6 452.8 135.0 452.8 135.4 452.8 135.8 452.7 136.2 452.7 136.6 452.7 137.0 452.6 137.4 452.6 137.8 452.5 138.2 452.5 138.6 452.5 139.0 452.4 139.4 452.4 139.8 452.4 140.2 452.3 140.6 452.3 141.0 452.2 141.4 452.2 141.8 452.2 142.2 452.1 142.6 452.1 143.0 452.1 143.4 452.0 143.8 452.0 144.2 452.0 144.6 451.9 145.0 451.9 145.4 451.8 145.8 451.8 146.2 451.8 146.6 451.7 147.0 451.7 147.4 451.6 147.8 451.6 148.2 451.6 148.6 451.5 149.0 451.5 149.4 451.5 149.8 451.4 150.2 451.4 150.6 451.4 151.0 451.3 151.4 451.3 151.8 451.3 152.2 451.2 152.6 451.2 153.0 451.1 153.4 451.1 153.8 451.0 154.2 450.9 154.6 450.8 155.0 450.7 155.4 450.6 155.8 450.5 156.2 450.4 156.6 450.2 157.0 450.0 157.4 449.9 157.8 449.7 158.2 449.4 158.6 449.2 159.0 448.9 159.4 448.7 159.8 448.4 160.2 448.0 160.6 447.7 161.0 447.4 161.4 447.0 161.8 446.6 162.2 446.2 162.6 445.8 163.0 445.4 163.4 445.0 163.8 444.5 164.2 444.1 164.6 443.7 165.0 443.2 165.4 442.8 165.8 442.4 166.2 442.0 166.6 441.6 167.0 441.3 167.4 440.9 167.8 440.6 168.2 440.4 168.6 440.1 169.0 439.9 169.4 439.8 169.8 439.6 170.2 439.5 170.6 439.5 171.0 439.5 171.4 439.6 171.8 439.6 172.2 439.8 172.6 440.0 173.0 440.2 173.4 440.5 173.8 440.8 174.2 441.1 174.6 441.4 175.0 441.8 175.4 442.2 175.8 442.7 176.2 443.1 176.6 443.5 177.0 444.0 177.4 444.4 177.8 444.9 178.2 445.3 178.6 445.7 179.0 446.1 179.4 446.5 179.8 446.8 180.2 447.2 180.6 447.5 181.0 447.8 181.4 448.0 181.8 448.2 182.2 448.4 182.6 448.6 183.0 448.7 183.4 448.8 183.8 448.8 184.2 448.8 184.6 448.8 185.0 448.7 185.4 448.6 185.8 448.4 186.2 448.2 186.6 448.0 187.0 447.7 187.4 447.4 187.8 447.1 188.2 446.7 188.6 446.3 189.0 445.8 189.4 445.3 189.8 444.8 190.2 444.3 190.6 443.8 191.0 443.2 191.4 442.6 191.8 442.1 192.2 441.5 192.6 441.0 193.0 440.4 193.4 439.9 193.8 439.5 194.2 439.1 194.6 438.7 195.0 438.4 195.4 438.2 195.8 438.0 196.2 438.0 196.6 438.1 197.0 438.2 197.4 438.5 197.8 438.7 198.2 439.1 198.6 439.4 199.0 439.8 199.4 440.3 199.8 440.7 200.2 441.2 200.6 441.7 201.0 442.2 201.4 442.7 201.8 443.2 202.2 443.7 202.6 444.2 203.0 444.7 203.4 445.2 203.8 445.7 204.2 446.1 204.6 446.6 205.0 447.0 205.4 447.4 205.8 447.8 206.2 448.1 206.6 448.5 207.0 448.8 207.4 449.1 207.8 449.4 208.2 449.7 208.6 449.9 209.0 450.2 209.4 450.4 209.8 450.6 210.2 450.7 210.6 450.9 211.0 451.0 211.4 451.2 211.8 451.3 212.2 451.4 212.6 451.5 213.0 451.6 213.4 451.7 213.8 451.8 214.2 451.8 214.6 451.9 215.0 452.0 215.4 452.0 215.8 452.1 216.2 452.1 216.6 452.2 217.0 452.2 217.4 452.3 217.8 452.3 218.2 452.3 218.6 452.4 219.0 452.4 219.4 452.4 219.8 452.5 220.2 452.5 220.6 452.5 221.0 452.6 221.4 452.6 221.8 452.6 222.2 452.6 222.6 452.7 223.0 452.7 223.4 452.7 223.8 452.8 224.2 452.8 224.6 452.8 225.0 452.8 225.4 452.9 225.8 452.9 226.2 452.9 226.6 452.9 227.0 453.0 227.4 453.0 227.8 453.0 228.2 453.0 228.6 453.1 229.0 453.1 229.4 453.1 229.8 453.2 230.2 453.2 230.6 453.2 231.0 453.2 231.4 453.3 231.8 453.3 232.2 453.3 232.6 453.3 233.0 453.4 233.4 453.4 233.8 453.4 234.2 453.4 234.6 453.5 235.0 453.5 235.4 453.5 235.8 453.5 236.2 453.5 236.6 453.5 237.0 453.5 237.4 453.5 237.8 453.5 238.2 453.5 238.6 453.5 239.0 453.5 239.4 453.5 239.8 453.5 240.2 453.5 240.6 453.5 241.0 453.5 241.4 453.5 241.8 453.5 242.2 453.5 242.6 453.5 243.0 453.5 243.4 453.5 243.8 453.5 244.2 453.5 244.6 453.5 245.0 453.5 245.4 453.5 245.8 453.5 246.2 453.5 246.6 453.5 247.0 453.5 247.4 453.5 247.8 453.5 248.2 453.5 248.6 453.5 249.0 453.5 249.4 453.5 249.8 453.5 250.2 453.5 250.6 453.5 251.0 453.5 251.4 453.5 251.8 453.5 252.2 453.5 252.6 453.5 253.0 453.5 253.4 453.5 253.8 453.5 254.2 453.5 254.6 453.5 255.0 453.5 255.4 453.5 255.8 453.5 256.2 453.5 256.6 453.5 257.0 453.5 257.4 453.5 257.8 453.5 258.2 453.5 258.6 453.5 259.0 453.5 259.4 453.5 259.8 453.5 260.2 453.5 260.6 453.5 261.0 453.5 261.4 453.5 261.8 453.5 262.2 453.5 262.6 453.5 263.0 453.5 263.4 453.5 263.8 453.5 264.2 453.5 264.6 453.5 265.0 453.5 265.4 453.5 265.8 453.5 266.2 453.5 266.6 453.5 267.0 453.5 267.4 453.5 267.8 453.4 268.2 453.4 268.6 453.3 269.0 453.1 269.4 452.9 269.8 452.6 270.2 452.3 270.6 451.9 271.0 451.5 271.4 451.1 271.8 450.8 272.2 450.6 272.6 450.5 273.0 450.6 273.4 450.7 273.8 451.0 274.2 451.3 274.6 451.6 275.0 451.9 275.4 452.2 275.8 452.4 276.2 452.5 276.6 452.6 277.0 452.6 277.4 452.5 277.8 452.3 278.2 452.1 278.6 451.9 279.0 451.8 279.4 451.6 279.8 451.5 280.2 451.5 280.6 451.5 281.0 451.6 281.4 451.7 281.8 451.9 282.2 452.1 282.6 452.3 283.0 452.4 283.4 452.7 283.8 453.0 284.2 453.2 284.6 453.4 285.0 453.6 285.4 453.8 285.8 454.0 286.2 454.1 286.6 454.2 287.0 454.3 287.4 454.4 287.8 454.5 288.2 454.6 288.6 454.7 289.0 454.8 289.4 454.9 289.8 455.0 290.2 455.1 290.6 455.2 291.0 455.3 291.4 455.4 291.8 455.5 292.2 455.5" fill="none" stroke="#f58d45" stroke-width="1.55" stroke-linejoin="round"/>
<path d="M31.5 437.5 31.9 437.7 32.3 437.8 32.7 438.0 33.1 438.2 33.5 438.3 33.9 438.4 34.3 438.6 34.7 438.7 35.1 438.8 35.5 438.9 35.9 439.0 36.3 439.1 36.7 439.2 37.1 439.3 37.5 439.4 37.9 439.5 38.3 439.6 38.7 439.7 39.1 439.8 39.5 439.9 39.9 440.0 40.3 440.1 40.7 440.2 41.1 440.4 41.5 440.5 41.9 440.6 42.3 440.7 42.7 440.8 43.1 440.9 43.5 440.9 43.9 441.0 44.3 441.1 44.7 441.1 45.1 441.1 45.5 441.1 45.9 441.1 46.3 441.1 46.7 441.0 47.1 440.7 47.5 439.9 47.9 438.3 48.3 436.3 48.7 437.2 49.1 439.1 49.5 440.2 49.9 440.6 50.3 440.7 50.7 440.7 51.1 440.7 51.5 440.7 51.9 440.6 52.3 440.6 52.7 440.6 53.1 440.6 53.5 440.5 53.9 440.5 54.3 440.5 54.7 440.5 55.1 440.5 55.5 440.4 55.9 440.1 56.3 438.9 56.7 435.8 57.1 431.1 57.5 433.4 57.9 437.4 58.3 438.7 58.7 437.3 59.1 433.8 59.5 433.6 59.9 436.6 60.3 436.0 60.7 429.3 61.1 416.6 61.5 423.4 61.9 433.9 62.3 438.4 62.7 439.7 63.1 440.0 63.5 439.9 63.9 439.7 64.3 439.6 64.7 439.3 65.1 439.1 65.5 438.9 65.9 438.7 66.3 438.5 66.7 438.5 67.1 438.6 67.5 438.7 67.9 438.9 68.3 439.1 68.7 439.2 69.1 439.4 69.5 439.5 69.9 439.7 70.3 439.8 70.7 439.9 71.1 440.0 71.5 440.1 71.9 440.2 72.3 440.3 72.7 440.3 73.1 440.4 73.5 440.4 73.9 440.4 74.3 440.4 74.7 440.4 75.1 440.5 75.5 440.5 75.9 440.5 76.3 440.5 76.7 440.5 77.1 440.5 77.5 440.5 77.9 440.5 78.3 440.5 78.7 440.5 79.1 440.5 79.5 440.5 79.9 440.5 80.3 440.5 80.7 440.6 81.1 440.6 81.5 440.6 81.9 440.6 82.3 440.7 82.7 440.7 83.1 440.7 83.5 440.8 83.9 440.8 84.3 440.7 84.7 440.7 85.1 440.8 85.5 440.9 85.9 441.0 86.3 441.1 86.7 441.2 87.1 441.3 87.5 441.3 87.9 441.4 88.3 441.5 88.7 441.5 89.1 441.4 89.5 441.1 89.9 440.9 90.3 440.9 90.7 441.1 91.1 441.2 91.5 441.4 91.9 441.6 92.3 441.9 92.7 442.0 93.1 441.7 93.5 441.4 93.9 441.1 94.3 441.5 94.7 441.8 95.1 442.1 95.5 441.6 95.9 440.6 96.3 439.3 96.7 438.8 97.1 440.0 97.5 441.4 97.9 442.6 98.3 443.6 98.7 443.5 99.1 443.0 99.5 443.1 99.9 443.4 100.3 443.9 100.7 443.7 101.1 443.3 101.5 442.9 101.9 442.6 102.3 442.4 102.7 442.2 103.1 442.2 103.5 442.5 103.9 442.9 104.3 443.2 104.7 443.2 105.1 443.1 105.5 443.1 105.9 442.9 106.3 442.8 106.7 442.6 107.1 442.5 107.5 442.5 107.9 442.5 108.3 442.5 108.7 442.7 109.1 443.0 109.5 443.2 109.9 443.1 110.3 443.0 110.7 442.9 111.1 443.0 111.5 443.4 111.9 443.8 112.3 443.7 112.7 443.5 113.1 443.5 113.5 443.6 113.9 443.5 114.3 443.5 114.7 443.5 115.1 443.4 115.5 443.4 115.9 443.4 116.3 443.3 116.7 443.2" fill="none" stroke="#ef7d50" stroke-width="1.55" stroke-linejoin="round"/>
<path d="M121.8 445.0 122.2 445.0 122.6 444.9 123.0 444.9 123.4 444.8 123.8 444.7 124.2 444.7 124.6 444.6 125.0 444.6 125.4 444.5 125.8 444.5 126.2 444.4 126.6 444.4 127.0 444.3 127.4 444.3 127.8 444.2 128.2 444.2 128.6 444.1 129.0 444.1 129.4 444.0 129.8 443.9 130.2 443.9 130.6 443.8 131.0 443.8 131.4 443.7 131.8 443.7 132.2 443.6 132.6 443.6 133.0 443.5 133.4 443.5 133.8 443.4 134.2 443.4 134.6 443.3 135.0 443.3 135.4 443.2 135.8 443.1 136.2 443.1 136.6 443.0 137.0 443.0 137.4 442.9 137.8 442.9 138.2 442.8 138.6 442.8 139.0 442.7 139.4 442.7 139.8 442.6 140.2 442.6 140.6 442.5 141.0 442.5 141.4 442.4 141.8 442.3 142.2 442.3 142.6 442.2 143.0 442.2 143.4 442.1 143.8 442.1 144.2 442.0 144.6 442.0 145.0 441.9 145.4 441.9 145.8 441.8 146.2 441.7 146.6 441.7 147.0 441.6 147.4 441.6 147.8 441.6 148.2 441.5 148.6 441.5 149.0 441.5 149.4 441.5 149.8 441.4 150.2 441.4 150.6 441.4 151.0 441.4 151.4 441.3 151.8 441.3 152.2 441.3 152.6 441.2 153.0 441.2 153.4 441.1 153.8 441.1 154.2 441.0 154.6 440.9 155.0 440.8 155.4 440.7 155.8 440.6 156.2 440.5 156.6 440.3 157.0 440.2 157.4 440.0 157.8 439.8 158.2 439.6 158.6 439.4 159.0 439.1 159.4 438.9 159.8 438.6 160.2 438.3 160.6 438.0 161.0 437.7 161.4 437.4 161.8 437.0 162.2 436.7 162.6 436.3 163.0 435.9 163.4 435.5 163.8 435.1 164.2 434.7 164.6 434.3 165.0 433.9 165.4 433.5 165.8 433.2 166.2 432.8 166.6 432.5 167.0 432.1 167.4 431.8 167.8 431.5 168.2 431.3 168.6 431.1 169.0 430.9 169.4 430.7 169.8 430.6 170.2 430.5 170.6 430.5 171.0 430.5 171.4 430.5 171.8 430.6 172.2 430.8 172.6 430.9 173.0 431.1 173.4 431.4 173.8 431.6 174.2 432.0 174.6 432.3 175.0 432.6 175.4 433.0 175.8 433.4 176.2 433.8 176.6 434.2 177.0 434.6 177.4 435.0 177.8 435.4 178.2 435.8 178.6 436.2 179.0 436.6 179.4 436.9 179.8 437.3 180.2 437.6 180.6 437.9 181.0 438.1 181.4 438.4 181.8 438.6 182.2 438.7 182.6 438.9 183.0 439.0 183.4 439.1 183.8 439.1 184.2 439.2 184.6 439.1 185.0 439.1 185.4 439.0 185.8 438.9 186.2 438.7 186.6 438.5 187.0 438.3 187.4 438.1 187.8 437.8 188.2 437.5 188.6 437.1 189.0 436.8 189.4 436.4 189.8 436.0 190.2 435.5 190.6 435.1 191.0 434.6 191.4 434.2 191.8 433.7 192.2 433.3 192.6 432.8 193.0 432.4 193.4 432.0 193.8 431.6 194.2 431.3 194.6 431.0 195.0 430.8 195.4 430.6 195.8 430.5 196.2 430.5 196.6 430.6 197.0 430.7 197.4 430.9 197.8 431.2 198.2 431.4 198.6 431.7 199.0 432.1 199.4 432.4 199.8 432.8 200.2 433.2 200.6 433.6 201.0 434.0 201.4 434.4 201.8 434.8 202.2 435.3 202.6 435.7 203.0 436.1 203.4 436.5 203.8 436.8 204.2 437.2 204.6 437.5 205.0 437.9 205.4 438.2 205.8 438.5 206.2 438.8 206.6 439.1 207.0 439.4 207.4 439.6 207.8 439.8 208.2 440.0 208.6 440.2 209.0 440.4 209.4 440.6 209.8 440.7 210.2 440.9 210.6 441.0 211.0 441.1 211.4 441.2 211.8 441.3 212.2 441.4 212.6 441.5 213.0 441.6 213.4 441.6 213.8 441.7 214.2 441.7 214.6 441.8 215.0 441.8 215.4 441.9 215.8 441.9 216.2 442.0 216.6 442.0 217.0 442.0 217.4 442.1 217.8 442.1 218.2 442.1 218.6 442.1 219.0 442.2 219.4 442.2 219.8 442.2 220.2 442.2 220.6 442.3 221.0 442.3 221.4 442.3 221.8 442.3 222.2 442.4 222.6 442.4 223.0 442.4 223.4 442.4 223.8 442.4 224.2 442.5 224.6 442.5 225.0 442.5 225.4 442.5 225.8 442.5 226.2 442.6 226.6 442.6 227.0 442.6 227.4 442.6 227.8 442.6 228.2 442.7 228.6 442.7 229.0 442.7 229.4 442.7 229.8 442.7 230.2 442.8 230.6 442.8 231.0 442.8 231.4 442.8 231.8 442.8 232.2 442.9 232.6 442.9 233.0 442.9 233.4 442.9 233.8 442.9 234.2 443.0 234.6 443.0 235.0 443.0 235.4 443.0 235.8 443.0 236.2 443.0 236.6 443.0 237.0 443.0 237.4 443.0 237.8 443.0 238.2 443.0 238.6 443.0 239.0 443.0 239.4 443.0 239.8 443.0 240.2 443.0 240.6 443.0 241.0 443.0 241.4 443.0 241.8 443.0 242.2 443.0 242.6 443.0 243.0 443.0 243.4 443.0 243.8 443.0 244.2 443.0 244.6 443.0 245.0 443.0 245.4 443.0 245.8 443.0 246.2 443.0 246.6 443.0 247.0 443.0 247.4 443.0 247.8 443.0 248.2 443.0 248.6 443.0 249.0 443.0 249.4 443.0 249.8 443.0 250.2 443.0 250.6 443.0 251.0 443.0 251.4 443.0 251.8 443.0 252.2 443.0 252.6 443.0 253.0 443.0 253.4 443.0 253.8 443.0 254.2 443.0 254.6 443.0 255.0 443.0 255.4 443.0 255.8 443.0 256.2 443.0 256.6 443.0 257.0 443.0 257.4 443.0 257.8 443.0 258.2 443.0 258.6 443.0 259.0 443.0 259.4 443.0 259.8 443.0 260.2 443.0 260.6 443.0 261.0 443.0 261.4 443.0 261.8 443.0 262.2 443.0 262.6 443.0 263.0 443.0 263.4 443.0 263.8 443.0 264.2 443.0 264.6 443.0 265.0 443.0 265.4 443.0 265.8 443.0 266.2 443.0 266.6 443.0 267.0 442.9 267.4 442.9 267.8 442.8 268.2 442.6 268.6 442.3 269.0 441.9 269.4 441.3 269.8 440.4 270.2 439.4 270.6 438.3 271.0 437.0 271.4 435.9 271.8 434.9 272.2 434.2 272.6 434.0 273.0 434.2 273.4 434.7 273.8 435.4 274.2 436.3 274.6 437.3 275.0 438.3 275.4 439.2 275.8 439.9 276.2 440.4 276.6 440.6 277.0 440.7 277.4 440.5 277.8 440.3 278.2 439.9 278.6 439.5 279.0 439.1 279.4 438.8 279.8 438.6 280.2 438.5 280.6 438.6 281.0 438.7 281.4 439.0 281.8 439.3 282.2 439.8 282.6 440.2 283.0 440.6 283.4 441.3 283.8 441.9 284.2 442.4 284.6 443.0 285.0 443.4 285.4 443.8 285.8 444.2 286.2 444.5 286.6 444.8 287.0 445.1 287.4 445.4 287.8 445.6 288.2 445.9 288.6 446.1 289.0 446.3 289.4 446.6 289.8 446.8 290.2 447.0 290.6 447.2 291.0 447.4 291.4 447.7 291.8 447.9 292.2 448.0" fill="none" stroke="#ef7d50" stroke-width="1.55" stroke-linejoin="round"/>
<path d="M31.5 415.4 31.9 416.3 32.3 417.0 32.7 417.8 33.1 418.5 33.5 419.1 33.9 419.7 34.3 420.3 34.7 420.9 35.1 421.4 35.5 421.9 35.9 422.3 36.3 422.8 36.7 423.2 37.1 423.6 37.5 424.0 37.9 424.3 38.3 424.7 38.7 425.0 39.1 425.4 39.5 425.7 39.9 426.0 40.3 426.3 40.7 426.6 41.1 426.9 41.5 427.1 41.9 427.4 42.3 427.6 42.7 427.9 43.1 428.1 43.5 428.3 43.9 428.5 44.3 428.6 44.7 428.7 45.1 428.9 45.5 428.9 45.9 429.0 46.3 429.1 46.7 429.0 47.1 428.6 47.5 427.6 47.9 425.4 48.3 422.6 48.7 423.9 49.1 426.6 49.5 428.2 49.9 428.9 50.3 429.1 50.7 429.1 51.1 429.1 51.5 429.1 51.9 429.1 52.3 429.1 52.7 429.1 53.1 429.1 53.5 429.1 53.9 429.1 54.3 429.1 54.7 429.1 55.1 429.1 55.5 429.0 55.9 428.6 56.3 426.9 56.7 422.6 57.1 416.1 57.5 419.3 57.9 425.0 58.3 427.1 58.7 426.0 59.1 422.6 59.5 422.4 59.9 425.3 60.3 424.5 60.7 417.7 61.1 404.6 61.5 411.3 61.9 421.6 62.3 425.8 62.7 426.6 63.1 426.2 63.5 425.3 63.9 424.2 64.3 422.8 64.7 421.3 65.1 419.7 65.5 418.1 65.9 416.6 66.3 415.6 66.7 415.5 67.1 416.1 67.5 417.1 67.9 418.1 68.3 419.3 68.7 420.5 69.1 421.6 69.5 422.7 69.9 423.8 70.3 424.7 70.7 425.5 71.1 426.2 71.5 426.8 71.9 427.3 72.3 427.8 72.7 428.1 73.1 428.4 73.5 428.6 73.9 428.8 74.3 429.0 74.7 429.1 75.1 429.2 75.5 429.2 75.9 429.3 76.3 429.3 76.7 429.3 77.1 429.4 77.5 429.4 77.9 429.4 78.3 429.4 78.7 429.4 79.1 429.4 79.5 429.4 79.9 429.4 80.3 429.4 80.7 429.5 81.1 429.6 81.5 429.6 81.9 429.6 82.3 429.7 82.7 429.6 83.1 429.6 83.5 429.6 83.9 429.6 84.3 429.6 84.7 429.5 85.1 429.6 85.5 429.6 85.9 429.6 86.3 429.6 86.7 429.7 87.1 429.7 87.5 429.8 87.9 429.9 88.3 429.9 88.7 430.0 89.1 430.2 89.5 430.4 89.9 430.6 90.3 430.5 90.7 430.4 91.1 430.2 91.5 430.2 91.9 430.4 92.3 430.5 92.7 430.7 93.1 430.7 93.5 430.8 93.9 430.9 94.3 430.7 94.7 430.5 95.1 430.2 95.5 430.1 95.9 429.9 96.3 429.3 96.7 428.9 97.1 429.7 97.5 430.6 97.9 431.4 98.3 432.4 98.7 432.3 99.1 431.8 99.5 431.5 99.9 431.4 100.3 431.5 100.7 431.5 101.1 431.4 101.5 431.3 101.9 431.2 102.3 431.2 102.7 431.2 103.1 431.2 103.5 431.5 103.9 431.7 104.3 431.9 104.7 432.0 105.1 432.0 105.5 432.0 105.9 432.3 106.3 432.5 106.7 432.8 107.1 432.8 107.5 432.5 107.9 432.2 108.3 432.0 108.7 431.9 109.1 431.9 109.5 431.8 109.9 431.9 110.3 432.0 110.7 432.1 111.1 432.4 111.5 433.0 111.9 433.7 112.3 433.5 112.7 433.2 113.1 433.0 113.5 432.9 113.9 432.7 114.3 432.5 114.7 432.3 115.1 432.5 115.5 432.6 115.9 432.8 116.3 432.7 116.7 432.4" fill="none" stroke="#e86f5a" stroke-width="1.55" stroke-linejoin="round"/>
<path d="M121.8 434.0 122.2 434.0 122.6 434.0 123.0 433.9 123.4 433.9 123.8 433.9 124.2 433.9 124.6 433.8 125.0 433.8 125.4 433.8 125.8 433.8 126.2 433.8 126.6 433.7 127.0 433.7 127.4 433.7 127.8 433.7 128.2 433.7 128.6 433.6 129.0 433.6 129.4 433.6 129.8 433.6 130.2 433.6 130.6 433.5 131.0 433.5 131.4 433.5 131.8 433.5 132.2 433.5 132.6 433.4 133.0 433.4 133.4 433.4 133.8 433.4 134.2 433.4 134.6 433.3 135.0 433.3 135.4 433.3 135.8 433.3 136.2 433.3 136.6 433.2 137.0 433.2 137.4 433.2 137.8 433.2 138.2 433.2 138.6 433.1 139.0 433.1 139.4 433.1 139.8 433.1 140.2 433.0 140.6 433.0 141.0 433.0 141.4 433.0 141.8 433.0 142.2 432.9 142.6 432.9 143.0 432.9 143.4 432.9 143.8 432.9 144.2 432.8 144.6 432.8 145.0 432.8 145.4 432.8 145.8 432.7 146.2 432.7 146.6 432.7 147.0 432.7 147.4 432.6 147.8 432.6 148.2 432.6 148.6 432.5 149.0 432.5 149.4 432.4 149.8 432.4 150.2 432.3 150.6 432.3 151.0 432.3 151.4 432.3 151.8 432.2 152.2 432.2 152.6 432.1 153.0 432.1 153.4 432.0 153.8 431.9 154.2 431.9 154.6 431.8 155.0 431.6 155.4 431.5 155.8 431.4 156.2 431.2 156.6 431.1 157.0 430.9 157.4 430.7 157.8 430.5 158.2 430.2 158.6 430.0 159.0 429.7 159.4 429.4 159.8 429.1 160.2 428.7 160.6 428.4 161.0 428.0 161.4 427.6 161.8 427.2 162.2 426.7 162.6 426.3 163.0 425.8 163.4 425.4 163.8 424.9 164.2 424.4 164.6 424.0 165.0 423.5 165.4 423.1 165.8 422.6 166.2 422.2 166.6 421.8 167.0 421.4 167.4 421.0 167.8 420.7 168.2 420.4 168.6 420.1 169.0 419.9 169.4 419.7 169.8 419.6 170.2 419.5 170.6 419.5 171.0 419.5 171.4 419.5 171.8 419.6 172.2 419.8 172.6 420.0 173.0 420.2 173.4 420.5 173.8 420.8 174.2 421.2 174.6 421.6 175.0 422.0 175.4 422.4 175.8 422.9 176.2 423.3 176.6 423.8 177.0 424.3 177.4 424.8 177.8 425.3 178.2 425.7 178.6 426.2 179.0 426.6 179.4 427.0 179.8 427.4 180.2 427.8 180.6 428.1 181.0 428.4 181.4 428.7 181.8 428.9 182.2 429.1 182.6 429.3 183.0 429.4 183.4 429.5 183.8 429.6 184.2 429.6 184.6 429.5 185.0 429.5 185.4 429.3 185.8 429.2 186.2 429.0 186.6 428.7 187.0 428.5 187.4 428.2 187.8 427.8 188.2 427.4 188.6 427.0 189.0 426.5 189.4 426.1 189.8 425.6 190.2 425.1 190.6 424.5 191.0 424.0 191.4 423.4 191.8 422.9 192.2 422.4 192.6 421.9 193.0 421.4 193.4 420.9 193.8 420.5 194.2 420.2 194.6 419.9 195.0 419.7 195.4 419.5 195.8 419.5 196.2 419.5 196.6 419.7 197.0 419.9 197.4 420.1 197.8 420.4 198.2 420.8 198.6 421.2 199.0 421.6 199.4 422.0 199.8 422.5 200.2 423.0 200.6 423.5 201.0 423.9 201.4 424.4 201.8 424.9 202.2 425.4 202.6 425.9 203.0 426.4 203.4 426.8 203.8 427.2 204.2 427.7 204.6 428.0 205.0 428.4 205.4 428.8 205.8 429.2 206.2 429.5 206.6 429.8 207.0 430.2 207.4 430.4 207.8 430.7 208.2 430.9 208.6 431.2 209.0 431.4 209.4 431.6 209.8 431.7 210.2 431.9 210.6 432.1 211.0 432.2 211.4 432.3 211.8 432.4 212.2 432.5 212.6 432.6 213.0 432.7 213.4 432.8 213.8 432.9 214.2 433.0 214.6 433.0 215.0 433.1 215.4 433.1 215.8 433.2 216.2 433.2 216.6 433.3 217.0 433.3 217.4 433.4 217.8 433.4 218.2 433.5 218.6 433.5 219.0 433.5 219.4 433.6 219.8 433.6 220.2 433.6 220.6 433.7 221.0 433.7 221.4 433.7 221.8 433.8 222.2 433.8 222.6 433.8 223.0 433.9 223.4 433.9 223.8 433.9 224.2 434.0 224.6 434.0 225.0 434.0 225.4 434.1 225.8 434.1 226.2 434.1 226.6 434.1 227.0 434.2 227.4 434.2 227.8 434.2 228.2 434.3 228.6 434.3 229.0 434.3 229.4 434.4 229.8 434.4 230.2 434.4 230.6 434.5 231.0 434.5 231.4 434.5 231.8 434.6 232.2 434.6 232.6 434.6 233.0 434.6 233.4 434.7 233.8 434.7 234.2 434.7 234.6 434.8 235.0 434.8 235.4 434.8 235.8 434.8 236.2 434.8 236.6 434.8 237.0 434.8 237.4 434.8 237.8 434.8 238.2 434.8 238.6 434.8 239.0 434.8 239.4 434.8 239.8 434.8 240.2 434.8 240.6 434.8 241.0 434.8 241.4 434.8 241.8 434.8 242.2 434.8 242.6 434.8 243.0 434.8 243.4 434.8 243.8 434.8 244.2 434.8 244.6 434.8 245.0 434.8 245.4 434.8 245.8 434.8 246.2 434.8 246.6 434.8 247.0 434.8 247.4 434.8 247.8 434.8 248.2 434.8 248.6 434.8 249.0 434.8 249.4 434.8 249.8 434.8 250.2 434.8 250.6 434.8 251.0 434.8 251.4 434.8 251.8 434.8 252.2 434.8 252.6 434.8 253.0 434.8 253.4 434.8 253.8 434.8 254.2 434.8 254.6 434.8 255.0 434.8 255.4 434.8 255.8 434.8 256.2 434.8 256.6 434.8 257.0 434.8 257.4 434.8 257.8 434.8 258.2 434.8 258.6 434.8 259.0 434.8 259.4 434.8 259.8 434.8 260.2 434.8 260.6 434.8 261.0 434.8 261.4 434.8 261.8 434.8 262.2 434.8 262.6 434.8 263.0 434.8 263.4 434.8 263.8 434.8 264.2 434.8 264.6 434.8 265.0 434.8 265.4 434.8 265.8 434.8 266.2 434.8 266.6 434.7 267.0 434.7 267.4 434.5 267.8 434.3 268.2 433.9 268.6 433.3 269.0 432.4 269.4 431.1 269.8 429.4 270.2 427.2 270.6 424.8 271.0 422.2 271.4 419.7 271.8 417.6 272.2 416.3 272.6 415.8 273.0 416.1 273.4 417.2 273.8 418.8 274.2 420.7 274.6 422.8 275.0 424.9 275.4 426.7 275.8 428.2 276.2 429.2 276.6 429.7 277.0 429.7 277.4 429.4 277.8 428.7 278.2 427.9 278.6 427.0 279.0 426.1 279.4 425.4 279.8 424.9 280.2 424.8 280.6 424.9 281.0 425.3 281.4 425.9 281.8 426.7 282.2 427.6 282.6 428.6 283.0 429.5 283.4 430.7 283.8 431.8 284.2 432.8 284.6 433.6 285.0 434.4 285.4 435.0 285.8 435.6 286.2 436.0 286.6 436.4 287.0 436.8 287.4 437.1 287.8 437.4 288.2 437.6 288.6 437.9 289.0 438.1 289.4 438.3 289.8 438.6 290.2 438.8 290.6 439.0 291.0 439.2 291.4 439.5 291.8 439.7 292.2 439.8" fill="none" stroke="#e86f5a" stroke-width="1.55" stroke-linejoin="round"/>
<path d="M31.5 403.8 31.9 404.8 32.3 405.7 32.7 406.5 33.1 407.3 33.5 408.1 33.9 408.8 34.3 409.4 34.7 410.1 35.1 410.7 35.5 411.2 35.9 411.8 36.3 412.3 36.7 412.7 37.1 413.2 37.5 413.6 37.9 414.0 38.3 414.4 38.7 414.8 39.1 415.2 39.5 415.6 39.9 415.9 40.3 416.3 40.7 416.6 41.1 416.9 41.5 417.2 41.9 417.5 42.3 417.8 42.7 418.1 43.1 418.3 43.5 418.5 43.9 418.7 44.3 418.9 44.7 419.1 45.1 419.2 45.5 419.3 45.9 419.4 46.3 419.4 46.7 419.4 47.1 419.0 47.5 418.0 47.9 415.8 48.3 413.1 48.7 414.4 49.1 417.1 49.5 418.6 49.9 419.3 50.3 419.5 50.7 419.5 51.1 419.5 51.5 419.5 51.9 419.5 52.3 419.5 52.7 419.5 53.1 419.5 53.5 419.5 53.9 419.5 54.3 419.5 54.7 419.5 55.1 419.5 55.5 419.4 55.9 418.9 56.3 417.3 56.7 413.0 57.1 406.6 57.5 409.8 57.9 415.4 58.3 417.5 58.7 416.5 59.1 413.1 59.5 413.0 59.9 415.7 60.3 414.9 60.7 407.9 61.1 394.6 61.5 401.4 61.9 411.9 62.3 416.2 62.7 417.0 63.1 416.6 63.5 415.8 63.9 414.6 64.3 413.3 64.7 411.8 65.1 410.2 65.5 408.6 65.9 407.2 66.3 406.2 66.7 406.1 67.1 406.7 67.5 407.6 67.9 408.7 68.3 409.9 68.7 411.0 69.1 412.2 69.5 413.2 69.9 414.2 70.3 415.2 70.7 416.0 71.1 416.7 71.5 417.3 71.9 417.8 72.3 418.2 72.7 418.5 73.1 418.8 73.5 419.0 73.9 419.2 74.3 419.4 74.7 419.5 75.1 419.6 75.5 419.6 75.9 419.7 76.3 419.7 76.7 419.7 77.1 419.8 77.5 419.8 77.9 419.8 78.3 419.8 78.7 419.8 79.1 419.8 79.5 419.8 79.9 419.8 80.3 419.8 80.7 419.8 81.1 419.9 81.5 419.9 81.9 419.9 82.3 420.0 82.7 420.1 83.1 420.2 83.5 420.4 83.9 420.4 84.3 420.4 84.7 420.5 85.1 420.4 85.5 420.3 85.9 420.2 86.3 420.2 86.7 420.2 87.1 420.2 87.5 420.2 87.9 420.2 88.3 420.1 88.7 420.0 89.1 420.2 89.5 420.5 89.9 420.7 90.3 420.9 90.7 421.0 91.1 421.1 91.5 421.1 91.9 421.1 92.3 421.0 92.7 421.1 93.1 421.4 93.5 421.8 93.9 422.2 94.3 421.9 94.7 421.7 95.1 421.4 95.5 420.9 95.9 420.2 96.3 419.1 96.7 418.7 97.1 419.9 97.5 421.2 97.9 422.4 98.3 423.4 98.7 423.3 99.1 422.8 99.5 422.2 99.9 421.9 100.3 421.6 100.7 421.6 101.1 421.6 101.5 421.7 101.9 421.6 102.3 421.5 102.7 421.3 103.1 421.3 103.5 421.3 103.9 421.3 104.3 421.3 104.7 421.4 105.1 421.5 105.5 421.7 105.9 422.1 106.3 422.6 106.7 423.1 107.1 423.3 107.5 423.1 107.9 422.9 108.3 422.7 108.7 422.5 109.1 422.3 109.5 422.1 109.9 422.2 110.3 422.3 110.7 422.5 111.1 422.7 111.5 423.0 111.9 423.5 112.3 423.3 112.7 423.0 113.1 422.9 113.5 422.9 113.9 423.0 114.3 423.0 114.7 423.1 115.1 423.1 115.5 423.1 115.9 423.2 116.3 423.0 116.7 422.9" fill="none" stroke="#df6363" stroke-width="1.55" stroke-linejoin="round"/>
<path d="M121.8 423.6 122.2 424.4 122.6 425.2 123.0 425.7 123.4 425.7 123.8 425.7 124.2 425.5 124.6 425.1 125.0 424.7 125.4 424.7 125.8 424.8 126.2 425.0 126.6 425.8 127.0 426.6 127.4 426.9 127.8 425.6 128.2 424.2 128.6 423.4 129.0 423.1 129.4 422.8 129.8 423.8 130.2 425.3 130.6 426.7 131.0 425.1 131.4 423.4 131.8 422.5 132.2 423.8 132.6 425.1 133.0 425.1 133.4 423.8 133.8 422.5 134.2 422.3 134.6 422.4 135.0 422.5 135.4 423.3 135.8 424.1 136.2 424.9 136.6 425.8 137.0 426.7 137.4 426.0 137.8 424.4 138.2 423.1 138.6 422.7 139.0 422.6 139.4 422.5 139.8 422.7 140.2 422.9 140.6 422.9 141.0 422.9 141.4 422.9 141.8 422.9 142.2 422.8 142.6 422.8 143.0 422.8 143.4 422.7 143.8 422.7 144.2 422.7 144.6 422.6 145.0 422.6 145.4 422.6 145.8 422.5 146.2 422.5 146.6 422.5 147.0 422.4 147.4 422.4 147.8 422.3 148.2 422.3 148.6 422.2 149.0 422.1 149.4 422.1 149.8 422.0 150.2 422.0 150.6 422.0 151.0 421.9 151.4 421.9 151.8 421.9 152.2 421.8 152.6 421.8 153.0 421.7 153.4 421.6 153.8 421.5 154.2 421.4 154.6 421.3 155.0 421.2 155.4 421.0 155.8 420.9 156.2 420.7 156.6 420.5 157.0 420.3 157.4 420.2 157.8 420.1 158.2 420.0 158.6 420.0 159.0 420.1 159.4 419.7 159.8 418.7 160.2 417.3 160.6 416.5 161.0 415.8 161.4 415.2 161.8 415.6 162.2 415.9 162.6 416.3 163.0 416.9 163.4 417.4 163.8 416.5 164.2 414.0 164.6 411.5 165.0 411.3 165.4 411.9 165.8 412.6 166.2 411.3 166.6 410.0 167.0 408.9 167.4 408.1 167.8 407.4 168.2 407.0 168.6 407.1 169.0 407.2 169.4 407.5 169.8 407.8 170.2 408.3 170.6 407.4 171.0 406.7 171.4 406.3 171.8 407.2 172.2 408.1 172.6 408.4 173.0 407.9 173.4 407.4 173.8 408.3 174.2 409.7 174.6 411.1 175.0 411.2 175.4 411.4 175.8 412.0 176.2 414.0 176.6 416.1 177.0 416.4 177.4 415.1 177.8 413.8 178.2 413.5 178.6 413.7 179.0 413.8 179.4 416.7 179.8 419.5 180.2 421.2 180.6 419.6 181.0 417.9 181.4 418.0 181.8 419.9 182.2 421.7 182.6 421.2 183.0 420.0 183.4 418.8 183.8 419.2 184.2 419.7 184.6 419.9 185.0 419.5 185.4 419.1 185.8 418.9 186.2 418.7 186.6 418.5 187.0 418.1 187.4 417.6 187.8 417.1 188.2 416.1 188.6 415.3 189.0 414.5 189.4 414.1 189.8 413.7 190.2 413.1 190.6 412.4 191.0 411.8 191.4 411.2 191.8 410.6 192.2 410.1 192.6 409.5 193.0 409.0 193.4 408.5 193.8 408.1 194.2 407.7 194.6 407.4 195.0 407.2 195.4 407.1 195.8 407.2 196.2 407.3 196.6 407.5 197.0 407.8 197.4 408.1 197.8 408.5 198.2 409.0 198.6 409.4 199.0 409.9 199.4 410.4 199.8 411.0 200.2 411.5 200.6 412.1 201.0 412.7 201.4 413.2 201.8 413.8 202.2 414.4 202.6 414.9 203.0 415.4 203.4 415.9 203.8 416.4 204.2 416.9 204.6 417.3 205.0 417.7 205.4 418.2 205.8 418.6 206.2 419.0 206.6 419.3 207.0 419.7 207.4 420.0 207.8 420.3 208.2 420.6 208.6 420.8 209.0 421.1 209.4 421.3 209.8 421.5 210.2 421.7 210.6 421.8 211.0 422.0 211.4 422.1 211.8 422.3 212.2 422.4 212.6 422.5 213.0 422.6 213.4 422.7 213.8 422.8 214.2 422.9 214.6 422.9 215.0 423.0 215.4 423.1 215.8 423.2 216.2 423.2 216.6 423.3 217.0 423.3 217.4 423.4 217.8 423.4 218.2 423.5 218.6 423.5 219.0 423.6 219.4 423.6 219.8 423.7 220.2 423.7 220.6 423.8 221.0 423.8 221.4 423.9 221.8 423.9 222.2 423.9 222.6 424.0 223.0 424.0 223.4 424.1 223.8 424.1 224.2 424.2 224.6 424.2 225.0 424.2 225.4 424.3 225.8 424.3 226.2 424.4 226.6 424.4 227.0 424.5 227.4 424.5 227.8 424.5 228.2 424.6 228.6 424.6 229.0 424.7 229.4 424.7 229.8 424.8 230.2 424.8 230.6 424.8 231.0 424.9 231.4 424.9 231.8 425.0 232.2 425.0 232.6 425.0 233.0 425.1 233.4 425.1 233.8 425.2 234.2 425.2 234.6 425.3 235.0 425.3 235.4 425.3 235.8 425.3 236.2 425.3 236.6 425.3 237.0 425.3 237.4 425.3 237.8 425.3 238.2 425.3 238.6 425.3 239.0 425.3 239.4 425.3 239.8 425.3 240.2 425.3 240.6 425.3 241.0 425.3 241.4 425.3 241.8 425.3 242.2 425.3 242.6 425.3 243.0 425.3 243.4 425.3 243.8 425.3 244.2 425.3 244.6 425.3 245.0 425.3 245.4 425.3 245.8 425.3 246.2 425.3 246.6 425.3 247.0 425.3 247.4 425.3 247.8 425.3 248.2 425.3 248.6 425.3 249.0 425.3 249.4 425.3 249.8 425.3 250.2 425.3 250.6 425.3 251.0 425.3 251.4 425.3 251.8 425.3 252.2 425.3 252.6 425.3 253.0 425.3 253.4 425.3 253.8 425.3 254.2 425.3 254.6 425.3 255.0 425.3 255.4 425.3 255.8 425.3 256.2 425.3 256.6 425.3 257.0 425.3 257.4 425.3 257.8 425.3 258.2 425.3 258.6 425.3 259.0 425.3 259.4 425.3 259.8 425.3 260.2 425.3 260.6 425.3 261.0 425.3 261.4 425.3 261.8 425.3 262.2 425.3 262.6 425.3 263.0 425.3 263.4 425.3 263.8 425.3 264.2 425.3 264.6 425.3 265.0 425.3 265.4 425.3 265.8 425.3 266.2 425.3 266.6 425.2 267.0 425.1 267.4 425.0 267.8 424.7 268.2 424.2 268.6 423.4 269.0 422.2 269.4 420.5 269.8 418.3 270.2 415.6 270.6 412.4 271.0 409.0 271.4 405.8 271.8 403.2 272.2 401.4 272.6 400.8 273.0 401.2 273.4 402.5 273.8 404.6 274.2 407.1 274.6 409.8 275.0 412.4 275.4 414.7 275.8 416.4 276.2 417.6 276.6 418.0 277.0 417.9 277.4 417.2 277.8 416.1 278.2 414.7 278.6 413.2 279.0 411.9 279.4 410.7 279.8 410.0 280.2 409.8 280.6 410.0 281.0 410.6 281.4 411.5 281.8 412.7 282.2 414.1 282.6 415.6 283.0 417.1 283.4 418.8 283.8 420.4 284.2 421.8 284.6 423.0 285.0 424.0 285.4 424.9 285.8 425.7 286.2 426.3 286.6 426.8 287.0 427.2 287.4 427.5 287.8 427.8 288.2 428.1 288.6 428.4 289.0 428.6 289.4 428.8 289.8 429.1 290.2 429.3 290.6 429.5 291.0 429.7 291.4 430.0 291.8 430.2 292.2 430.3" fill="none" stroke="#df6363" stroke-width="1.55" stroke-linejoin="round"/>
<path d="M31.5 392.8 31.9 393.8 32.3 394.8 32.7 395.8 33.1 396.7 33.5 397.5 33.9 398.3 34.3 399.1 34.7 399.8 35.1 400.4 35.5 401.1 35.9 401.7 36.3 402.2 36.7 402.8 37.1 403.3 37.5 403.8 37.9 404.2 38.3 404.7 38.7 405.1 39.1 405.5 39.5 405.9 39.9 406.3 40.3 406.7 40.7 407.1 41.1 407.5 41.5 407.8 41.9 408.1 42.3 408.5 42.7 408.8 43.1 409.0 43.5 409.3 43.9 409.5 44.3 409.7 44.7 409.9 45.1 410.0 45.5 410.1 45.9 410.2 46.3 410.3 46.7 410.2 47.1 409.9 47.5 408.9 47.9 406.8 48.3 404.0 48.7 405.3 49.1 408.0 49.5 409.5 49.9 410.2 50.3 410.4 50.7 410.4 51.1 410.4 51.5 410.4 51.9 410.4 52.3 410.4 52.7 410.3 53.1 410.3 53.5 410.3 53.9 410.3 54.3 410.3 54.7 410.3 55.1 410.3 55.5 410.3 55.9 409.8 56.3 408.2 56.7 404.0 57.1 397.5 57.5 400.7 57.9 406.3 58.3 408.4 58.7 407.4 59.1 404.2 59.5 404.0 59.9 406.6 60.3 405.7 60.7 398.6 61.1 385.2 61.5 392.0 61.9 402.8 62.3 407.1 62.7 408.0 63.1 407.6 63.5 406.7 63.9 405.6 64.3 404.3 64.7 402.8 65.1 401.3 65.5 399.7 65.9 398.3 66.3 397.3 66.7 397.2 67.1 397.8 67.5 398.7 67.9 399.8 68.3 400.9 68.7 402.1 69.1 403.2 69.5 404.3 69.9 405.2 70.3 406.1 70.7 406.9 71.1 407.6 71.5 408.2 71.9 408.7 72.3 409.1 72.7 409.5 73.1 409.7 73.5 410.0 73.9 410.2 74.3 410.3 74.7 410.4 75.1 410.5 75.5 410.6 75.9 410.6 76.3 410.6 76.7 410.7 77.1 410.7 77.5 410.7 77.9 410.7 78.3 410.7 78.7 410.7 79.1 410.7 79.5 410.7 79.9 410.7 80.3 410.8 80.7 410.8 81.1 410.8 81.5 410.9 81.9 410.9 82.3 411.0 82.7 411.0 83.1 410.9 83.5 410.9 83.9 410.9 84.3 411.1 84.7 411.2 85.1 411.2 85.5 411.2 85.9 411.2 86.3 411.2 86.7 411.2 87.1 411.1 87.5 411.2 87.9 411.3 88.3 411.4 88.7 411.5 89.1 411.6 89.5 411.6 89.9 411.7 90.3 411.7 90.7 411.7 91.1 411.7 91.5 411.7 91.9 411.6 92.3 411.5 92.7 411.4 93.1 411.6 93.5 411.9 93.9 412.1 94.3 411.9 94.7 411.7 95.1 411.4 95.5 411.0 95.9 410.3 96.3 409.3 96.7 409.0 97.1 410.3 97.5 411.7 97.9 412.9 98.3 413.8 98.7 413.6 99.1 413.0 99.5 413.2 99.9 413.7 100.3 414.3 100.7 414.1 101.1 413.6 101.5 413.1 101.9 412.7 102.3 412.5 102.7 412.3 103.1 412.2 103.5 412.6 103.9 412.9 104.3 413.3 104.7 413.3 105.1 413.4 105.5 413.4 105.9 413.4 106.3 413.4 106.7 413.4 107.1 413.3 107.5 413.1 107.9 412.8 108.3 412.7 108.7 413.0 109.1 413.2 109.5 413.4 109.9 413.5 110.3 413.6 110.7 413.8 111.1 413.8 111.5 414.1 111.9 414.4 112.3 414.0 112.7 413.5 113.1 413.2 113.5 413.2 113.9 413.7 114.3 414.2 114.7 414.7 115.1 414.4 115.5 414.1 115.9 413.8 116.3 413.7 116.7 413.7" fill="none" stroke="#d6566d" stroke-width="1.55" stroke-linejoin="round"/>
<path d="M121.8 414.5 122.2 416.4 122.6 418.2 123.0 419.1 123.4 416.9 123.8 414.7 124.2 413.6 124.6 413.5 125.0 413.4 125.4 413.6 125.8 414.0 126.2 414.3 126.6 415.6 127.0 416.9 127.4 417.4 127.8 415.9 128.2 414.3 128.6 413.6 129.0 413.8 129.4 414.1 129.8 414.0 130.2 413.8 130.6 413.6 131.0 414.5 131.4 415.4 131.8 415.9 132.2 414.9 132.6 413.9 133.0 414.1 133.4 415.4 133.8 416.7 134.2 415.7 134.6 414.0 135.0 412.3 135.4 413.3 135.8 414.2 136.2 414.9 136.6 414.5 137.0 414.2 137.4 414.6 137.8 415.6 138.2 416.4 138.6 415.2 139.0 413.9 139.4 412.9 139.8 412.8 140.2 412.8 140.6 412.9 141.0 412.9 141.4 412.9 141.8 412.8 142.2 412.7 142.6 412.6 143.0 412.6 143.4 412.5 143.8 412.4 144.2 412.3 144.6 412.3 145.0 412.2 145.4 412.1 145.8 412.0 146.2 411.9 146.6 411.9 147.0 411.8 147.4 411.7 147.8 411.6 148.2 411.5 148.6 411.4 149.0 411.4 149.4 411.3 149.8 411.2 150.2 411.1 150.6 411.1 151.0 411.1 151.4 411.1 151.8 411.1 152.2 411.0 152.6 411.0 153.0 411.0 153.4 411.0 153.8 410.9 154.2 410.9 154.6 410.8 155.0 410.7 155.4 410.6 155.8 410.5 156.2 410.3 156.6 410.1 157.0 409.9 157.4 409.7 157.8 409.4 158.2 409.0 158.6 408.8 159.0 408.6 159.4 408.0 159.8 407.1 160.2 406.0 160.6 406.0 161.0 406.5 161.4 407.1 161.8 406.3 162.2 405.4 162.6 404.6 163.0 404.2 163.4 403.8 163.8 403.2 164.2 402.5 164.6 401.8 165.0 401.3 165.4 400.8 165.8 400.4 166.2 399.8 166.6 399.3 167.0 398.8 167.4 398.6 167.8 398.5 168.2 397.8 168.6 396.7 169.0 395.6 169.4 396.1 169.8 397.1 170.2 398.2 170.6 397.2 171.0 396.3 171.4 395.7 171.8 395.6 172.2 395.6 172.6 396.8 173.0 399.3 173.4 401.8 173.8 400.9 174.2 398.8 174.6 396.8 175.0 397.2 175.4 397.7 175.8 398.2 176.2 398.9 176.6 399.6 177.0 400.3 177.4 401.2 177.8 402.0 178.2 402.6 178.6 403.0 179.0 403.5 179.4 405.0 179.8 406.4 180.2 407.4 180.6 407.4 181.0 407.3 181.4 407.1 181.8 406.8 182.2 406.5 182.6 407.2 183.0 408.1 183.4 408.9 183.8 409.9 184.2 410.9 184.6 411.7 185.0 412.0 185.4 412.2 185.8 411.3 186.2 409.3 186.6 407.3 187.0 407.3 187.4 407.7 187.8 407.9 188.2 406.6 188.6 405.4 189.0 404.2 189.4 403.0 189.8 402.0 190.2 401.3 190.6 400.8 191.0 400.3 191.4 399.5 191.8 398.8 192.2 398.2 192.6 397.6 193.0 397.0 193.4 396.5 193.8 396.1 194.2 395.7 194.6 395.5 195.0 395.3 195.4 395.3 195.8 395.4 196.2 395.7 196.6 395.9 197.0 396.3 197.4 396.7 197.8 397.2 198.2 397.7 198.6 398.3 199.0 398.9 199.4 399.5 199.8 400.1 200.2 400.7 200.6 401.4 201.0 402.0 201.4 402.7 201.8 403.3 202.2 403.9 202.6 404.5 203.0 405.1 203.4 405.6 203.8 406.2 204.2 406.7 204.6 407.2 205.0 407.6 205.4 408.1 205.8 408.6 206.2 409.0 206.6 409.4 207.0 409.8 207.4 410.1 207.8 410.4 208.2 410.7 208.6 411.0 209.0 411.3 209.4 411.5 209.8 411.7 210.2 411.9 210.6 412.1 211.0 412.3 211.4 412.5 211.8 412.6 212.2 412.7 212.6 412.9 213.0 413.0 213.4 413.1 213.8 413.2 214.2 413.3 214.6 413.4 215.0 413.5 215.4 413.5 215.8 413.6 216.2 413.7 216.6 413.8 217.0 413.8 217.4 413.9 217.8 414.0 218.2 414.0 218.6 414.1 219.0 414.1 219.4 414.2 219.8 414.3 220.2 414.3 220.6 414.4 221.0 414.4 221.4 414.5 221.8 414.5 222.2 414.6 222.6 414.6 223.0 414.7 223.4 414.8 223.8 414.8 224.2 414.9 224.6 414.9 225.0 415.0 225.4 415.0 225.8 415.1 226.2 415.1 226.6 415.2 227.0 415.2 227.4 415.3 227.8 415.3 228.2 415.4 228.6 415.4 229.0 415.5 229.4 415.6 229.8 415.6 230.2 415.7 230.6 415.7 231.0 415.8 231.4 415.8 231.8 415.9 232.2 415.9 232.6 416.0 233.0 416.0 233.4 416.1 233.8 416.1 234.2 416.2 234.6 416.2 235.0 416.3 235.4 416.3 235.8 416.3 236.2 416.3 236.6 416.3 237.0 416.3 237.4 416.3 237.8 416.3 238.2 416.3 238.6 416.3 239.0 416.3 239.4 416.3 239.8 416.3 240.2 416.3 240.6 416.3 241.0 416.3 241.4 416.3 241.8 416.3 242.2 416.3 242.6 416.3 243.0 416.3 243.4 416.3 243.8 416.3 244.2 416.3 244.6 416.3 245.0 416.3 245.4 416.3 245.8 416.3 246.2 416.3 246.6 416.3 247.0 416.3 247.4 416.3 247.8 416.3 248.2 416.3 248.6 416.3 249.0 416.3 249.4 416.3 249.8 416.3 250.2 416.3 250.6 416.3 251.0 416.3 251.4 416.3 251.8 416.3 252.2 416.3 252.6 416.3 253.0 416.3 253.4 416.3 253.8 416.3 254.2 416.3 254.6 416.3 255.0 416.3 255.4 416.3 255.8 416.3 256.2 416.3 256.6 416.3 257.0 416.3 257.4 416.3 257.8 416.3 258.2 416.3 258.6 416.3 259.0 416.3 259.4 416.3 259.8 416.3 260.2 416.3 260.6 416.3 261.0 416.3 261.4 416.3 261.8 416.3 262.2 416.3 262.6 416.3 263.0 416.3 263.4 416.3 263.8 416.3 264.2 416.3 264.6 416.3 265.0 416.3 265.4 416.3 265.8 416.3 266.2 416.3 266.6 416.2 267.0 416.1 267.4 415.9 267.8 415.5 268.2 414.9 268.6 413.9 269.0 412.3 269.4 410.2 269.8 407.3 270.2 403.8 270.6 399.7 271.0 395.4 271.4 391.3 271.8 387.9 272.2 385.6 272.6 384.8 273.0 385.3 273.4 387.0 273.8 389.7 274.2 392.9 274.6 396.3 275.0 399.7 275.4 402.6 275.8 404.8 276.2 406.2 276.6 406.8 277.0 406.6 277.4 405.6 277.8 404.1 278.2 402.3 278.6 400.4 279.0 398.5 279.4 397.1 279.8 396.1 280.2 395.8 280.6 396.1 281.0 396.8 281.4 398.1 281.8 399.7 282.2 401.5 282.6 403.5 283.0 405.5 283.4 407.6 283.8 409.6 284.2 411.4 284.6 413.0 285.0 414.3 285.4 415.4 285.8 416.3 286.2 417.0 286.6 417.6 287.0 418.1 287.4 418.4 287.8 418.8 288.2 419.1 288.6 419.3 289.0 419.6 289.4 419.8 289.8 420.1 290.2 420.3 290.6 420.5 291.0 420.7 291.4 421.0 291.8 421.2 292.2 421.3" fill="none" stroke="#d6566d" stroke-width="1.55" stroke-linejoin="round"/>
<path d="M31.5 380.2 31.9 381.4 32.3 382.5 32.7 383.5 33.1 384.5 33.5 385.5 33.9 386.4 34.3 387.2 34.7 388.0 35.1 388.7 35.5 389.4 35.9 390.1 36.3 390.7 36.7 391.3 37.1 391.9 37.5 392.4 37.9 392.9 38.3 393.4 38.7 393.9 39.1 394.4 39.5 394.8 39.9 395.3 40.3 395.7 40.7 396.1 41.1 396.5 41.5 396.9 41.9 397.3 42.3 397.6 42.7 397.9 43.1 398.3 43.5 398.5 43.9 398.8 44.3 399.0 44.7 399.2 45.1 399.4 45.5 399.5 45.9 399.6 46.3 399.7 46.7 399.6 47.1 399.3 47.5 398.3 47.9 396.2 48.3 393.5 48.7 394.8 49.1 397.4 49.5 398.9 49.9 399.6 50.3 399.7 50.7 399.8 51.1 399.8 51.5 399.8 51.9 399.7 52.3 399.7 52.7 399.7 53.1 399.7 53.5 399.7 53.9 399.7 54.3 399.7 54.7 399.7 55.1 399.7 55.5 399.6 55.9 399.2 56.3 397.6 56.7 393.4 57.1 387.0 57.5 390.2 57.9 395.7 58.3 397.8 58.7 396.9 59.1 393.7 59.5 393.5 59.9 396.1 60.3 395.1 60.7 387.9 61.1 374.2 61.5 381.2 61.9 392.1 62.3 396.5 62.7 397.4 63.1 397.0 63.5 396.2 63.9 395.1 64.3 393.8 64.7 392.4 65.1 390.8 65.5 389.3 65.9 387.9 66.3 386.9 66.7 386.8 67.1 387.4 67.5 388.3 67.9 389.3 68.3 390.5 68.7 391.6 69.1 392.7 69.5 393.8 69.9 394.7 70.3 395.6 70.7 396.4 71.1 397.1 71.5 397.7 71.9 398.1 72.3 398.6 72.7 398.9 73.1 399.2 73.5 399.4 73.9 399.6 74.3 399.7 74.7 399.8 75.1 399.9 75.5 400.0 75.9 400.0 76.3 400.1 76.7 400.1 77.1 400.1 77.5 400.1 77.9 400.1 78.3 400.1 78.7 400.1 79.1 400.1 79.5 400.1 79.9 400.2 80.3 400.2 80.7 400.2 81.1 400.3 81.5 400.4 81.9 400.5 82.3 400.7 82.7 400.6 83.1 400.5 83.5 400.4 83.9 400.5 84.3 400.7 84.7 400.9 85.1 400.9 85.5 400.8 85.9 400.6 86.3 400.6 86.7 400.8 87.1 401.0 87.5 401.2 87.9 401.2 88.3 401.3 88.7 401.3 89.1 401.3 89.5 401.4 89.9 401.4 90.3 401.2 90.7 400.9 91.1 400.7 91.5 400.7 91.9 401.1 92.3 401.5 92.7 401.8 93.1 401.8 93.5 401.8 93.9 401.9 94.3 401.8 94.7 401.7 95.1 401.6 95.5 401.1 95.9 400.3 96.3 399.2 96.7 398.8 97.1 400.2 97.5 401.7 97.9 402.9 98.3 403.6 98.7 403.2 99.1 402.4 99.5 402.0 99.9 401.8 100.3 401.7 100.7 401.6 101.1 401.5 101.5 401.4 101.9 401.4 102.3 401.5 102.7 401.5 103.1 401.5 103.5 401.6 103.9 401.6 104.3 401.7 104.7 401.7 105.1 401.8 105.5 401.8 105.9 401.9 106.3 401.9 106.7 401.8 107.1 401.9 107.5 402.0 107.9 402.1 108.3 402.2 108.7 402.4 109.1 402.5 109.5 402.7 109.9 402.6 110.3 402.5 110.7 402.5 111.1 402.7 111.5 403.2 111.9 403.8 112.3 403.6 112.7 403.0 113.1 402.7 113.5 402.7 113.9 402.8 114.3 403.1 114.7 403.3 115.1 403.2 115.5 403.2 115.9 403.1 116.3 403.2 116.7 403.3" fill="none" stroke="#cc4778" stroke-width="1.55" stroke-linejoin="round"/>
<path d="M121.8 405.0 122.2 404.9 122.6 404.9 123.0 404.8 123.4 404.8 123.8 404.7 124.2 404.6 124.6 404.6 125.0 404.5 125.4 404.5 125.8 404.4 126.2 404.3 126.6 404.3 127.0 404.2 127.4 404.2 127.8 404.1 128.2 404.1 128.6 404.0 129.0 403.9 129.4 403.9 129.8 403.8 130.2 403.8 130.6 403.7 131.0 403.6 131.4 403.6 131.8 403.5 132.2 403.5 132.6 403.4 133.0 403.3 133.4 403.2 133.8 403.1 134.2 403.1 134.6 403.0 135.0 402.9 135.4 402.8 135.8 402.7 136.2 402.6 136.6 402.5 137.0 402.4 137.4 402.3 137.8 402.2 138.2 402.1 138.6 402.0 139.0 401.9 139.4 401.8 139.8 401.7 140.2 401.6 140.6 401.4 141.0 401.3 141.4 401.2 141.8 401.1 142.2 401.0 142.6 400.8 143.0 400.7 143.4 400.6 143.8 400.5 144.2 400.4 144.6 400.2 145.0 400.1 145.4 400.0 145.8 399.9 146.2 399.8 146.6 399.6 147.0 399.5 147.4 399.4 147.8 399.3 148.2 399.2 148.6 399.0 149.0 398.9 149.4 398.8 149.8 398.7 150.2 398.7 150.6 398.6 151.0 398.6 151.4 398.6 151.8 398.6 152.2 398.7 152.6 398.7 153.0 398.7 153.4 398.8 153.8 398.8 154.2 398.8 154.6 398.7 155.0 398.7 155.4 398.6 155.8 398.6 156.2 398.5 156.6 398.3 157.0 398.2 157.4 398.0 157.8 397.8 158.2 397.5 158.6 397.2 159.0 396.9 159.4 396.6 159.8 396.2 160.2 395.8 160.6 395.4 161.0 395.0 161.4 394.5 161.8 394.0 162.2 393.4 162.6 392.9 163.0 392.3 163.4 391.7 163.8 391.1 164.2 390.5 164.6 389.9 165.0 389.3 165.4 388.8 165.8 388.2 166.2 387.7 166.6 387.1 167.0 386.7 167.4 386.2 167.8 385.8 168.2 385.4 168.6 385.1 169.0 384.8 169.4 384.6 169.8 384.4 170.2 384.3 170.6 384.2 171.0 384.2 171.4 384.3 171.8 384.4 172.2 384.6 172.6 384.9 173.0 385.2 173.4 385.5 173.8 386.0 174.2 386.4 174.6 386.9 175.0 387.4 175.4 388.0 175.8 388.5 176.2 389.1 176.6 389.7 177.0 390.3 177.4 390.9 177.8 391.5 178.2 392.1 178.6 392.6 179.0 393.1 179.4 393.6 179.8 394.1 180.2 394.5 180.6 394.9 181.0 395.2 181.4 395.5 181.8 395.7 182.2 395.9 182.6 396.0 183.0 396.1 183.4 396.1 183.8 396.0 184.2 395.9 184.6 395.7 185.0 395.4 185.4 395.1 185.8 394.7 186.2 394.3 186.6 393.8 187.0 393.2 187.4 392.6 187.8 391.9 188.2 391.2 188.6 390.4 189.0 389.6 189.4 388.8 189.8 387.9 190.2 387.1 190.6 386.2 191.0 385.3 191.4 384.5 191.8 383.7 192.2 382.9 192.6 382.2 193.0 381.5 193.4 380.9 193.8 380.5 194.2 380.1 194.6 379.9 195.0 379.8 195.4 379.9 195.8 380.1 196.2 380.5 196.6 380.9 197.0 381.4 197.4 381.9 197.8 382.6 198.2 383.2 198.6 383.9 199.0 384.7 199.4 385.5 199.8 386.2 200.2 387.0 200.6 387.8 201.0 388.6 201.4 389.4 201.8 390.2 202.2 390.9 202.6 391.6 203.0 392.3 203.4 393.0 203.8 393.7 204.2 394.3 204.6 394.8 205.0 395.4 205.4 396.0 205.8 396.5 206.2 397.0 206.6 397.5 207.0 397.9 207.4 398.3 207.8 398.7 208.2 399.1 208.6 399.4 209.0 399.7 209.4 400.0 209.8 400.2 210.2 400.5 210.6 400.7 211.0 400.9 211.4 401.1 211.8 401.3 212.2 401.4 212.6 401.6 213.0 401.7 213.4 401.8 213.8 402.0 214.2 402.1 214.6 402.2 215.0 402.3 215.4 402.4 215.8 402.5 216.2 402.6 216.6 402.6 217.0 402.7 217.4 402.8 217.8 402.9 218.2 403.0 218.6 403.0 219.0 403.1 219.4 403.2 219.8 403.2 220.2 403.3 220.6 403.4 221.0 403.5 221.4 403.5 221.8 403.6 222.2 403.7 222.6 403.7 223.0 403.8 223.4 403.9 223.8 403.9 224.2 404.0 224.6 404.1 225.0 404.1 225.4 404.2 225.8 404.3 226.2 404.3 226.6 404.4 227.0 404.5 227.4 404.5 227.8 404.6 228.2 404.7 228.6 404.7 229.0 404.8 229.4 404.9 229.8 404.9 230.2 405.0 230.6 405.1 231.0 405.1 231.4 405.2 231.8 405.3 232.2 405.3 232.6 405.4 233.0 405.5 233.4 405.5 233.8 405.6 234.2 405.7 234.6 405.7 235.0 405.8 235.4 405.8 235.8 405.8 236.2 405.8 236.6 405.8 237.0 405.8 237.4 405.8 237.8 405.8 238.2 405.8 238.6 405.8 239.0 405.8 239.4 405.8 239.8 405.8 240.2 405.8 240.6 405.8 241.0 405.8 241.4 405.8 241.8 405.8 242.2 405.8 242.6 405.8 243.0 405.8 243.4 405.8 243.8 405.8 244.2 405.8 244.6 405.8 245.0 405.8 245.4 405.8 245.8 405.8 246.2 405.8 246.6 405.8 247.0 405.8 247.4 405.8 247.8 405.8 248.2 405.8 248.6 405.8 249.0 405.8 249.4 405.8 249.8 405.8 250.2 405.8 250.6 405.8 251.0 405.8 251.4 405.8 251.8 405.8 252.2 405.8 252.6 405.8 253.0 405.8 253.4 405.8 253.8 405.8 254.2 405.8 254.6 405.8 255.0 405.8 255.4 405.8 255.8 405.8 256.2 405.8 256.6 405.8 257.0 405.8 257.4 405.8 257.8 405.8 258.2 405.8 258.6 405.8 259.0 405.8 259.4 405.8 259.8 405.8 260.2 405.8 260.6 405.8 261.0 405.8 261.4 405.8 261.8 405.8 262.2 405.8 262.6 405.8 263.0 405.8 263.4 405.8 263.8 405.8 264.2 405.8 264.6 405.8 265.0 405.8 265.4 405.8 265.8 405.8 266.2 405.7 266.6 405.7 267.0 405.6 267.4 405.3 267.8 404.9 268.2 404.2 268.6 403.1 269.0 401.3 269.4 398.9 269.8 395.7 270.2 391.7 270.6 387.1 271.0 382.2 271.4 377.6 271.8 373.7 272.2 371.2 272.6 370.3 273.0 370.9 273.4 372.8 273.8 375.8 274.2 379.4 274.6 383.3 275.0 387.1 275.4 390.3 275.8 392.9 276.2 394.5 276.6 395.1 277.0 394.9 277.4 393.8 277.8 392.1 278.2 390.1 278.6 387.9 279.0 385.9 279.4 384.2 279.8 383.1 280.2 382.8 280.6 383.1 281.0 384.0 281.4 385.3 281.8 387.1 282.2 389.2 282.6 391.4 283.0 393.7 283.4 396.1 283.8 398.3 284.2 400.2 284.6 402.0 285.0 403.4 285.4 404.6 285.8 405.6 286.2 406.4 286.6 407.0 287.0 407.5 287.4 407.9 287.8 408.3 288.2 408.6 288.6 408.8 289.0 409.1 289.4 409.3 289.8 409.6 290.2 409.8 290.6 410.0 291.0 410.2 291.4 410.5 291.8 410.7 292.2 410.8" fill="none" stroke="#cc4778" stroke-width="1.55" stroke-linejoin="round"/>
<path d="M31.5 365.6 31.9 366.9 32.3 368.1 32.7 369.3 33.1 370.4 33.5 371.4 33.9 372.4 34.3 373.3 34.7 374.2 35.1 375.0 35.5 375.7 35.9 376.5 36.3 377.2 36.7 377.8 37.1 378.4 37.5 379.0 37.9 379.6 38.3 380.2 38.7 380.7 39.1 381.2 39.5 381.7 39.9 382.2 40.3 382.7 40.7 383.1 41.1 383.6 41.5 384.0 41.9 384.4 42.3 384.8 42.7 385.1 43.1 385.5 43.5 385.8 43.9 386.1 44.3 386.3 44.7 386.5 45.1 386.7 45.5 386.8 45.9 387.0 46.3 387.0 46.7 387.0 47.1 386.7 47.5 385.7 47.9 383.6 48.3 381.0 48.7 382.3 49.1 384.8 49.5 386.3 49.9 386.9 50.3 387.1 50.7 387.2 51.1 387.2 51.5 387.1 51.9 387.1 52.3 387.1 52.7 387.1 53.1 387.1 53.5 387.1 53.9 387.1 54.3 387.1 54.7 387.1 55.1 387.1 55.5 387.0 55.9 386.6 56.3 385.0 56.7 380.8 57.1 374.5 57.5 377.6 57.9 383.2 58.3 385.2 58.7 384.3 59.1 381.2 59.5 381.1 59.9 383.5 60.3 382.4 60.7 375.1 61.1 361.2 61.5 368.3 61.9 379.4 62.3 383.9 62.7 384.8 63.1 384.5 63.5 383.7 63.9 382.6 64.3 381.3 64.7 379.9 65.1 378.4 65.5 376.8 65.9 375.5 66.3 374.5 66.7 374.4 67.1 375.0 67.5 375.9 67.9 376.9 68.3 378.0 68.7 379.1 69.1 380.2 69.5 381.3 69.9 382.2 70.3 383.1 70.7 383.9 71.1 384.5 71.5 385.1 71.9 385.6 72.3 386.0 72.7 386.3 73.1 386.6 73.5 386.8 73.9 387.0 74.3 387.1 74.7 387.2 75.1 387.3 75.5 387.4 75.9 387.4 76.3 387.5 76.7 387.5 77.1 387.5 77.5 387.5 77.9 387.5 78.3 387.6 78.7 387.6 79.1 387.6 79.5 387.6 79.9 387.6 80.3 387.6 80.7 387.6 81.1 387.6 81.5 387.6 81.9 387.7 82.3 387.7 82.7 387.8 83.1 388.0 83.5 388.2 83.9 388.2 84.3 388.2 84.7 388.1 85.1 388.1 85.5 388.2 85.9 388.3 86.3 388.3 86.7 388.4 87.1 388.5 87.5 388.5 87.9 388.4 88.3 388.2 88.7 388.0 89.1 388.0 89.5 387.9 89.9 387.8 90.3 388.1 90.7 388.4 91.1 388.7 91.5 388.7 91.9 388.6 92.3 388.4 92.7 388.3 93.1 388.6 93.5 388.8 93.9 389.1 94.3 389.2 94.7 389.2 95.1 389.1 95.5 388.6 95.9 387.5 96.3 386.2 96.7 385.9 97.1 387.7 97.5 389.6 97.9 391.1 98.3 391.7 98.7 391.3 99.1 390.4 99.5 390.1 99.9 389.9 100.3 389.9 100.7 389.9 101.1 389.8 101.5 389.8 101.9 389.7 102.3 389.6 102.7 389.4 103.1 389.3 103.5 389.6 103.9 389.8 104.3 390.1 104.7 390.4 105.1 390.7 105.5 391.0 105.9 390.8 106.3 390.4 106.7 390.0 107.1 389.9 107.5 390.1 107.9 390.3 108.3 390.4 108.7 390.4 109.1 390.4 109.5 390.4 109.9 390.4 110.3 390.4 110.7 390.5 111.1 390.7 111.5 391.1 111.9 391.6 112.3 391.4 112.7 391.0 113.1 390.8 113.5 390.9 113.9 391.0 114.3 391.1 114.7 391.3 115.1 390.9 115.5 390.5 115.9 390.2 116.3 390.2 116.7 390.4" fill="none" stroke="#c03a83" stroke-width="1.55" stroke-linejoin="round"/>
<path d="M121.8 392.5 122.2 392.4 122.6 392.3 123.0 392.3 123.4 392.2 123.8 392.1 124.2 392.1 124.6 392.0 125.0 391.9 125.4 391.8 125.8 391.8 126.2 391.7 126.6 391.6 127.0 391.5 127.4 391.5 127.8 391.4 128.2 391.3 128.6 391.3 129.0 391.2 129.4 391.1 129.8 391.0 130.2 391.0 130.6 390.9 131.0 390.8 131.4 390.7 131.8 390.7 132.2 390.6 132.6 390.5 133.0 390.4 133.4 390.3 133.8 390.1 134.2 390.0 134.6 389.9 135.0 389.7 135.4 389.6 135.8 389.5 136.2 389.3 136.6 389.2 137.0 389.0 137.4 388.9 137.8 388.7 138.2 388.5 138.6 388.4 139.0 388.2 139.4 388.0 139.8 387.8 140.2 387.7 140.6 387.5 141.0 387.3 141.4 387.1 141.8 386.9 142.2 386.7 142.6 386.5 143.0 386.3 143.4 386.1 143.8 385.9 144.2 385.7 144.6 385.5 145.0 385.3 145.4 385.1 145.8 384.9 146.2 384.7 146.6 384.6 147.0 384.4 147.4 384.2 147.8 384.0 148.2 383.8 148.6 383.7 149.0 383.5 149.4 383.4 149.8 383.2 150.2 383.2 150.6 383.1 151.0 383.1 151.4 383.2 151.8 383.3 152.2 383.4 152.6 383.5 153.0 383.7 153.4 383.8 153.8 383.9 154.2 384.0 154.6 384.1 155.0 384.2 155.4 384.2 155.8 384.2 156.2 384.2 156.6 384.2 157.0 384.1 157.4 384.0 157.8 383.8 158.2 383.6 158.6 383.4 159.0 383.2 159.4 382.9 159.8 382.6 160.2 382.3 160.6 381.9 161.0 381.5 161.4 381.1 161.8 380.6 162.2 380.0 162.6 379.5 163.0 379.0 163.4 378.4 163.8 377.8 164.2 377.2 164.6 376.7 165.0 376.1 165.4 375.5 165.8 375.0 166.2 374.5 166.6 374.0 167.0 373.5 167.4 373.1 167.8 372.7 168.2 372.3 168.6 372.0 169.0 371.7 169.4 371.5 169.8 371.3 170.2 371.2 170.6 371.2 171.0 371.2 171.4 371.2 171.8 371.4 172.2 371.6 172.6 371.8 173.0 372.1 173.4 372.4 173.8 372.8 174.2 373.3 174.6 373.8 175.0 374.3 175.4 374.8 175.8 375.3 176.2 375.9 176.6 376.5 177.0 377.0 177.4 377.6 177.8 378.2 178.2 378.7 178.6 379.2 179.0 379.7 179.4 380.1 179.8 380.6 180.2 380.9 180.6 381.2 181.0 381.5 181.4 381.7 181.8 381.9 182.2 382.0 182.6 382.0 183.0 382.0 183.4 381.9 183.8 381.7 184.2 381.5 184.6 381.2 185.0 380.8 185.4 380.3 185.8 379.8 186.2 379.2 186.6 378.5 187.0 377.8 187.4 377.0 187.8 376.1 188.2 375.2 188.6 374.3 189.0 373.3 189.4 372.3 189.8 371.2 190.2 370.1 190.6 369.1 191.0 368.0 191.4 367.0 191.8 366.0 192.2 365.1 192.6 364.3 193.0 363.5 193.4 362.8 193.8 362.3 194.2 361.9 194.6 361.7 195.0 361.7 195.4 361.8 195.8 362.1 196.2 362.5 196.6 363.0 197.0 363.5 197.4 364.1 197.8 364.8 198.2 365.5 198.6 366.3 199.0 367.1 199.4 367.9 199.8 368.7 200.2 369.6 200.6 370.4 201.0 371.2 201.4 372.0 201.8 372.8 202.2 373.6 202.6 374.4 203.0 375.1 203.4 375.8 203.8 376.5 204.2 377.1 204.6 377.7 205.0 378.3 205.4 378.9 205.8 379.5 206.2 380.1 206.6 380.7 207.0 381.2 207.4 381.7 207.8 382.1 208.2 382.5 208.6 382.9 209.0 383.3 209.4 383.7 209.8 384.0 210.2 384.3 210.6 384.6 211.0 384.9 211.4 385.2 211.8 385.5 212.2 385.7 212.6 386.0 213.0 386.2 213.4 386.4 213.8 386.6 214.2 386.8 214.6 387.0 215.0 387.2 215.4 387.4 215.8 387.6 216.2 387.8 216.6 388.0 217.0 388.1 217.4 388.3 217.8 388.5 218.2 388.6 218.6 388.8 219.0 389.0 219.4 389.1 219.8 389.3 220.2 389.4 220.6 389.5 221.0 389.7 221.4 389.8 221.8 389.9 222.2 390.0 222.6 390.0 223.0 389.9 223.4 389.9 223.8 389.8 224.2 389.8 224.6 389.8 225.0 390.1 225.4 390.4 225.8 390.7 226.2 390.9 226.6 391.2 227.0 391.4 227.4 391.5 227.8 391.7 228.2 391.8 228.6 391.9 229.0 392.0 229.4 392.1 229.8 392.2 230.2 392.2 230.6 392.3 231.0 392.4 231.4 392.5 231.8 392.6 232.2 392.7 232.6 392.8 233.0 392.9 233.4 392.9 233.8 393.0 234.2 393.1 234.6 393.2 235.0 393.3 235.4 393.3 235.8 393.3 236.2 393.3 236.6 393.3 237.0 393.3 237.4 393.3 237.8 393.3 238.2 393.3 238.6 393.3 239.0 393.3 239.4 393.3 239.8 393.3 240.2 393.3 240.6 393.3 241.0 393.3 241.4 393.3 241.8 393.3 242.2 393.3 242.6 393.3 243.0 393.3 243.4 393.3 243.8 393.3 244.2 393.3 244.6 393.3 245.0 393.3 245.4 393.3 245.8 393.3 246.2 393.3 246.6 393.3 247.0 393.3 247.4 393.3 247.8 393.3 248.2 393.3 248.6 393.3 249.0 393.3 249.4 393.3 249.8 393.3 250.2 393.3 250.6 393.3 251.0 393.3 251.4 393.3 251.8 393.3 252.2 393.3 252.6 393.3 253.0 393.3 253.4 393.3 253.8 393.3 254.2 393.3 254.6 393.3 255.0 393.3 255.4 393.3 255.8 393.3 256.2 393.3 256.6 393.3 257.0 393.3 257.4 393.3 257.8 393.3 258.2 393.3 258.6 393.3 259.0 393.3 259.4 393.3 259.8 393.3 260.2 393.3 260.6 393.3 261.0 393.3 261.4 393.3 261.8 393.3 262.2 393.3 262.6 393.3 263.0 393.3 263.4 393.3 263.8 393.3 264.2 393.3 264.6 393.3 265.0 393.3 265.4 393.3 265.8 393.3 266.2 393.3 266.6 393.2 267.0 393.1 267.4 392.9 267.8 392.4 268.2 391.8 268.6 390.7 269.0 389.0 269.4 386.7 269.8 383.6 270.2 379.8 270.6 375.4 271.0 370.7 271.4 366.3 271.8 362.6 272.2 360.1 272.6 359.3 273.0 359.9 273.4 361.7 273.8 364.5 274.2 368.0 274.6 371.7 275.0 375.3 275.4 378.4 275.8 380.8 276.2 382.3 276.6 382.8 277.0 382.5 277.4 381.4 277.8 379.7 278.2 377.6 278.6 375.4 279.0 373.4 279.4 371.7 279.8 370.6 280.2 370.3 280.6 370.6 281.0 371.5 281.4 372.8 281.8 374.6 282.2 376.7 282.6 378.9 283.0 381.2 283.4 383.6 283.8 385.8 284.2 387.7 284.6 389.5 285.0 390.9 285.4 392.1 285.8 393.1 286.2 393.9 286.6 394.5 287.0 395.0 287.4 395.4 287.8 395.8 288.2 396.1 288.6 396.3 289.0 396.6 289.4 396.8 289.8 397.1 290.2 397.3 290.6 397.5 291.0 397.7 291.4 398.0 291.8 398.2 292.2 398.3" fill="none" stroke="#c03a83" stroke-width="1.55" stroke-linejoin="round"/>
<path d="M31.5 353.5 31.9 354.7 32.3 355.8 32.7 356.9 33.1 357.9 33.5 358.8 33.9 359.7 34.3 360.5 34.7 361.3 35.1 362.0 35.5 362.7 35.9 363.4 36.3 364.0 36.7 364.6 37.1 365.2 37.5 365.8 37.9 366.3 38.3 366.8 38.7 367.3 39.1 367.8 39.5 368.3 39.9 368.7 40.3 369.2 40.7 369.6 41.1 370.0 41.5 370.4 41.9 370.8 42.3 371.2 42.7 371.5 43.1 371.9 43.5 372.2 43.9 372.4 44.3 372.7 44.7 372.9 45.1 373.0 45.5 373.2 45.9 373.3 46.3 373.3 46.7 373.3 47.1 372.9 47.5 372.0 47.9 369.9 48.3 367.3 48.7 368.5 49.1 371.0 49.5 372.5 49.9 373.1 50.3 373.2 50.7 373.3 51.1 373.2 51.5 373.2 51.9 373.2 52.3 373.1 52.7 373.1 53.1 373.1 53.5 373.1 53.9 373.1 54.3 373.1 54.7 373.1 55.1 373.1 55.5 373.0 55.9 372.6 56.3 371.0 56.7 366.8 57.1 360.6 57.5 363.7 57.9 369.1 58.3 371.2 58.7 370.3 59.1 367.3 59.5 367.1 59.9 369.5 60.3 368.5 60.7 361.3 61.1 347.8 61.5 354.7 61.9 365.5 62.3 369.9 62.7 370.8 63.1 370.5 63.5 369.6 63.9 368.6 64.3 367.3 64.7 365.9 65.1 364.4 65.5 362.9 65.9 361.6 66.3 360.6 66.7 360.5 67.1 361.1 67.5 361.9 67.9 362.9 68.3 364.0 68.7 365.1 69.1 366.1 69.5 367.1 69.9 368.0 70.3 368.8 70.7 369.5 71.1 370.1 71.5 370.6 71.9 371.0 72.3 371.2 72.7 371.4 73.1 371.5 73.5 371.5 73.9 371.5 74.3 371.3 74.7 371.2 75.1 371.3 75.5 371.5 75.9 371.6 76.3 371.7 76.7 371.9 77.1 372.0 77.5 372.1 77.9 372.2 78.3 372.3 78.7 372.4 79.1 372.5 79.5 372.5 79.9 372.6 80.3 372.7 80.7 372.8 81.1 372.9 81.5 373.1 81.9 373.2 82.3 373.4 82.7 373.5 83.1 373.6 83.5 373.8 83.9 373.8 84.3 373.8 84.7 373.8 85.1 373.7 85.5 373.7 85.9 373.6 86.3 373.6 86.7 373.7 87.1 373.9 87.5 374.1 87.9 374.2 88.3 374.4 88.7 374.5 89.1 374.4 89.5 374.2 89.9 374.0 90.3 374.2 90.7 374.5 91.1 374.8 91.5 374.8 91.9 374.5 92.3 374.2 92.7 374.1 93.1 374.3 93.5 374.6 93.9 374.9 94.3 375.0 94.7 375.0 95.1 375.0 95.5 374.6 95.9 373.8 96.3 372.7 96.7 372.4 97.1 373.7 97.5 375.2 97.9 376.4 98.3 377.3 98.7 377.1 99.1 376.4 99.5 375.9 99.9 375.5 100.3 375.3 100.7 375.1 101.1 375.0 101.5 374.9 101.9 375.0 102.3 375.1 102.7 375.3 103.1 375.4 103.5 375.5 103.9 375.5 104.3 375.6 104.7 375.4 105.1 375.2 105.5 375.1 105.9 375.5 106.3 376.0 106.7 376.6 107.1 376.7 107.5 376.2 107.9 375.7 108.3 375.4 108.7 375.5 109.1 375.7 109.5 375.8 109.9 375.9 110.3 376.1 110.7 376.3 111.1 376.6 111.5 377.2 111.9 378.0 112.3 377.7 112.7 377.1 113.1 376.7 113.5 376.5 113.9 376.4 114.3 376.3 114.7 376.3 115.1 376.5 115.5 376.7 115.9 376.9 116.3 377.0 116.7 377.0" fill="none" stroke="#b42d8d" stroke-width="1.55" stroke-linejoin="round"/>
<path d="M121.8 379.7 122.2 378.9 122.6 378.2 123.0 377.7 123.4 378.2 123.8 378.7 124.2 378.8 124.6 378.4 125.0 378.1 125.4 377.6 125.8 377.2 126.2 376.7 126.6 377.0 127.0 377.4 127.4 377.5 127.8 376.8 128.2 376.2 128.6 375.7 129.0 375.3 129.4 375.0 129.8 375.5 130.2 376.3 130.6 377.1 131.0 376.4 131.4 375.7 131.8 375.1 132.2 375.1 132.6 375.0 133.0 375.1 133.4 375.5 133.8 375.9 134.2 375.2 134.6 374.2 135.0 373.1 135.4 372.5 135.8 372.0 136.2 372.0 136.6 373.8 137.0 375.6 137.4 376.0 137.8 375.3 138.2 374.6 138.6 372.9 139.0 371.2 139.4 370.0 139.8 370.2 140.2 370.2 140.6 369.7 141.0 369.0 141.4 368.7 141.8 368.3 142.2 367.9 142.6 367.5 143.0 367.1 143.4 366.7 143.8 366.3 144.2 365.9 144.6 365.5 145.0 365.1 145.4 364.7 145.8 364.3 146.2 364.0 146.6 363.6 147.0 363.3 147.4 362.9 147.8 362.6 148.2 362.3 148.6 362.0 149.0 361.7 149.4 361.4 149.8 361.2 150.2 361.1 150.6 361.1 151.0 361.1 151.4 361.4 151.8 361.6 152.2 362.0 152.6 362.3 153.0 362.7 153.4 363.1 153.8 363.6 154.2 364.0 154.6 364.3 155.0 364.7 155.4 365.0 155.8 365.2 156.2 365.5 156.6 365.7 157.0 365.8 157.4 366.1 157.8 366.4 158.2 366.6 158.6 366.4 159.0 365.9 159.4 365.5 159.8 365.6 160.2 365.6 160.6 365.4 161.0 365.0 161.4 364.6 161.8 363.9 162.2 363.1 162.6 362.6 163.0 362.9 163.4 363.3 163.8 362.8 164.2 361.4 164.6 360.0 165.0 359.9 165.4 360.2 165.8 360.6 166.2 360.4 166.6 360.3 167.0 360.0 167.4 359.3 167.8 358.6 168.2 358.2 168.6 357.9 169.0 357.7 169.4 358.4 169.8 359.5 170.2 360.6 170.6 358.7 171.0 356.9 171.4 355.8 171.8 357.0 172.2 358.2 172.6 359.4 173.0 360.5 173.4 361.6 173.8 361.6 174.2 361.1 174.6 360.7 175.0 361.1 175.4 361.5 175.8 361.9 176.2 362.1 176.6 362.3 177.0 362.4 177.4 362.5 177.8 362.5 178.2 363.2 178.6 364.2 179.0 365.0 179.4 365.2 179.8 365.4 180.2 365.4 180.6 365.3 181.0 365.1 181.4 365.5 181.8 366.4 182.2 367.3 182.6 367.1 183.0 366.5 183.4 365.9 183.8 366.2 184.2 366.5 184.6 366.6 185.0 366.3 185.4 365.8 185.8 365.1 186.2 364.2 186.6 363.2 187.0 362.8 187.4 362.5 187.8 362.2 188.2 360.8 188.6 359.6 189.0 358.6 189.4 358.2 189.8 357.7 190.2 356.9 190.6 356.0 191.0 355.1 191.4 354.2 191.8 353.4 192.2 352.8 192.6 352.1 193.0 351.6 193.4 351.1 193.8 350.7 194.2 350.4 194.6 350.3 195.0 350.3 195.4 350.4 195.8 350.6 196.2 350.9 196.6 351.2 197.0 351.6 197.4 352.0 197.8 352.4 198.2 352.9 198.6 353.4 199.0 353.9 199.4 354.4 199.8 355.0 200.2 355.5 200.6 356.0 201.0 356.6 201.4 357.1 201.8 357.6 202.2 358.0 202.6 358.5 203.0 359.0 203.4 359.4 203.8 359.9 204.2 360.3 204.6 360.7 205.0 361.1 205.4 361.6 205.8 362.1 206.2 362.5 206.6 363.0 207.0 363.4 207.4 363.9 207.8 364.3 208.2 364.7 208.6 365.0 209.0 365.4 209.4 365.8 209.8 366.1 210.2 366.5 210.6 366.8 211.0 367.1 211.4 367.4 211.8 367.7 212.2 368.0 212.6 368.3 213.0 368.6 213.4 368.9 213.8 369.2 214.2 369.5 214.6 369.8 215.0 370.1 215.4 370.3 215.8 370.6 216.2 370.9 216.6 371.1 217.0 371.4 217.4 371.7 217.8 371.9 218.2 372.2 218.6 372.4 219.0 372.6 219.4 372.9 219.8 373.1 220.2 373.3 220.6 373.5 221.0 373.7 221.4 373.9 221.8 374.1 222.2 374.2 222.6 374.2 223.0 374.2 223.4 374.1 223.8 374.0 224.2 373.9 224.6 374.0 225.0 374.4 225.4 374.8 225.8 375.3 226.2 375.7 226.6 376.1 227.0 376.3 227.4 376.6 227.8 376.8 228.2 376.9 228.6 377.1 229.0 377.2 229.4 377.4 229.8 377.5 230.2 377.6 230.6 377.8 231.0 377.9 231.4 378.0 231.8 378.2 232.2 378.3 232.6 378.4 233.0 378.5 233.4 378.6 233.8 378.8 234.2 378.9 234.6 379.0 235.0 379.1 235.4 379.1 235.8 379.1 236.2 379.0 236.6 379.0 237.0 379.0 237.4 379.0 237.8 378.9 238.2 378.9 238.6 378.9 239.0 378.8 239.4 378.8 239.8 378.8 240.2 378.7 240.6 378.7 241.0 378.6 241.4 378.6 241.8 378.5 242.2 378.5 242.6 378.4 243.0 378.3 243.4 378.3 243.8 378.2 244.2 378.1 244.6 378.1 245.0 378.0 245.4 377.9 245.8 377.8 246.2 377.8 246.6 377.7 247.0 377.6 247.4 377.5 247.8 377.5 248.2 377.4 248.6 377.3 249.0 377.3 249.4 377.2 249.8 377.1 250.2 377.1 250.6 377.0 251.0 377.0 251.4 376.9 251.8 376.9 252.2 376.8 252.6 376.8 253.0 376.7 253.4 376.7 253.8 376.7 254.2 376.6 254.6 376.6 255.0 376.6 255.4 376.6 255.8 376.5 256.2 376.5 256.6 376.5 257.0 376.5 257.4 376.5 257.8 376.5 258.2 376.4 258.6 376.4 259.0 376.4 259.4 376.4 259.8 376.4 260.2 376.4 260.6 376.4 261.0 376.4 261.4 376.4 261.8 376.4 262.2 376.4 262.6 376.4 263.0 376.4 263.4 376.3 263.8 376.3 264.2 376.3 264.6 376.3 265.0 376.3 265.4 376.3 265.8 376.3 266.2 376.3 266.6 376.2 267.0 376.1 267.4 375.9 267.8 375.6 268.2 374.9 268.6 373.9 269.0 372.4 269.4 370.2 269.8 367.4 270.2 363.8 270.6 359.8 271.0 355.5 271.4 351.4 271.8 348.0 272.2 345.7 272.6 344.9 273.0 345.5 273.4 347.2 273.8 349.8 274.2 353.1 274.6 356.5 275.0 359.8 275.4 362.7 275.8 364.9 276.2 366.3 276.6 366.7 277.0 366.4 277.4 365.3 277.8 363.6 278.2 361.6 278.6 359.5 279.0 357.5 279.4 356.0 279.8 355.0 280.2 354.7 280.6 355.1 281.0 356.0 281.4 357.5 281.8 359.3 282.2 361.4 282.6 363.7 283.0 365.9 283.4 368.4 283.8 370.6 284.2 372.6 284.6 374.4 285.0 375.9 285.4 377.2 285.8 378.2 286.2 379.0 286.6 379.7 287.0 380.3 287.4 380.8 287.8 381.2 288.2 381.5 288.6 381.8 289.0 382.1 289.4 382.4 289.8 382.7 290.2 383.0 290.6 383.2 291.0 383.5 291.4 383.7 291.8 384.0 292.2 384.1" fill="none" stroke="#b42d8d" stroke-width="1.55" stroke-linejoin="round"/>
<path d="M31.5 338.7 31.9 339.9 32.3 341.0 32.7 342.0 33.1 343.0 33.5 344.0 33.9 344.8 34.3 345.7 34.7 346.4 35.1 347.2 35.5 347.9 35.9 348.5 36.3 349.1 36.7 349.7 37.1 350.3 37.5 350.9 37.9 351.4 38.3 351.9 38.7 352.4 39.1 352.9 39.5 353.4 39.9 353.8 40.3 354.3 40.7 354.7 41.1 355.2 41.5 355.6 41.9 356.0 42.3 356.4 42.7 356.7 43.1 357.1 43.5 357.4 43.9 357.6 44.3 357.9 44.7 358.1 45.1 358.2 45.5 358.4 45.9 358.5 46.3 358.5 46.7 358.4 47.1 358.1 47.5 357.1 47.9 355.1 48.3 352.5 48.7 353.7 49.1 356.2 49.5 357.6 49.9 358.2 50.3 358.3 50.7 358.3 51.1 358.3 51.5 358.3 51.9 358.2 52.3 358.2 52.7 358.2 53.1 358.1 53.5 358.1 53.9 358.1 54.3 358.1 54.7 358.1 55.1 358.1 55.5 358.0 55.9 357.6 56.3 356.0 56.7 351.9 57.1 345.7 57.5 348.8 57.9 354.2 58.3 356.3 58.7 355.4 59.1 352.4 59.5 352.3 59.9 354.6 60.3 353.6 60.7 346.6 61.1 333.4 61.5 340.2 61.9 350.7 62.3 355.0 62.7 355.9 63.1 355.6 63.5 354.8 63.9 353.8 64.3 352.6 64.7 351.3 65.1 349.8 65.5 348.4 65.9 347.1 66.3 346.2 66.7 346.1 67.1 346.7 67.5 347.5 67.9 348.4 68.3 349.4 68.7 350.5 69.1 351.5 69.5 352.4 69.9 353.3 70.3 354.0 70.7 354.7 71.1 355.2 71.5 355.6 71.9 356.0 72.3 356.2 72.7 356.3 73.1 356.4 73.5 356.3 73.9 356.2 74.3 356.1 74.7 355.9 75.1 356.0 75.5 356.2 75.9 356.3 76.3 356.5 76.7 356.6 77.1 356.7 77.5 356.9 77.9 357.0 78.3 357.1 78.7 357.2 79.1 357.3 79.5 357.4 79.9 357.5 80.3 357.6 80.7 357.7 81.1 357.8 81.5 357.9 81.9 358.0 82.3 358.2 82.7 358.2 83.1 358.3 83.5 358.4 83.9 358.4 84.3 358.5 84.7 358.6 85.1 358.6 85.5 358.7 85.9 358.7 86.3 358.7 86.7 358.7 87.1 358.7 87.5 358.7 87.9 358.8 88.3 358.9 88.7 359.1 89.1 359.0 89.5 358.9 89.9 358.8 90.3 359.3 90.7 359.9 91.1 360.6 91.5 360.8 91.9 360.4 92.3 360.1 92.7 359.8 93.1 359.9 93.5 359.9 93.9 359.9 94.3 359.6 94.7 359.4 95.1 359.0 95.5 358.8 95.9 358.4 96.3 357.7 96.7 357.4 97.1 358.3 97.5 359.4 97.9 360.4 98.3 361.9 98.7 362.3 99.1 362.3 99.5 361.4 99.9 360.8 100.3 360.3 100.7 360.1 101.1 360.1 101.5 360.1 101.9 360.2 102.3 360.4 102.7 360.5 103.1 360.7 103.5 360.7 103.9 360.7 104.3 360.7 104.7 361.0 105.1 361.4 105.5 361.7 105.9 361.6 106.3 361.3 106.7 361.0 107.1 360.9 107.5 361.0 107.9 361.0 108.3 361.1 108.7 361.3 109.1 361.4 109.5 361.5 109.9 361.5 110.3 361.6 110.7 361.8 111.1 362.0 111.5 362.4 111.9 362.9 112.3 362.6 112.7 362.0 113.1 361.7 113.5 361.5 113.9 361.3 114.3 361.1 114.7 361.0 115.1 361.0 115.5 361.1 115.9 361.1 116.3 361.1 116.7 361.1" fill="none" stroke="#a62097" stroke-width="1.55" stroke-linejoin="round"/>
<path d="M121.8 362.2 122.2 362.9 122.6 363.7 123.0 364.0 123.4 363.0 123.8 361.9 124.2 361.9 124.6 362.9 125.0 363.9 125.4 364.1 125.8 364.0 126.2 363.9 126.6 363.0 127.0 362.1 127.4 361.7 127.8 362.7 128.2 363.7 128.6 363.5 129.0 362.0 129.4 360.5 129.8 360.1 130.2 360.1 130.6 360.1 131.0 361.5 131.4 363.0 131.8 364.1 132.2 364.4 132.6 364.6 133.0 363.6 133.4 361.5 133.8 359.4 134.2 358.8 134.6 358.7 135.0 358.6 135.4 358.9 135.8 359.2 136.2 359.0 136.6 357.4 137.0 355.9 137.4 355.2 137.8 355.3 138.2 355.2 138.6 355.0 139.0 354.6 139.4 354.1 139.8 353.4 140.2 352.7 140.6 352.0 141.0 351.3 141.4 350.7 141.8 350.1 142.2 349.5 142.6 348.9 143.0 348.3 143.4 347.7 143.8 347.1 144.2 346.5 144.6 345.9 145.0 345.3 145.4 344.8 145.8 344.2 146.2 343.6 146.6 343.1 147.0 342.6 147.4 342.1 147.8 341.6 148.2 341.2 148.6 340.8 149.0 340.4 149.4 340.0 149.8 339.8 150.2 339.6 150.6 339.6 151.0 339.7 151.4 340.2 151.8 340.7 152.2 341.2 152.6 341.9 153.0 342.7 153.4 343.5 153.8 344.3 154.2 345.0 154.6 345.7 155.0 346.4 155.4 347.0 155.8 347.6 156.2 348.2 156.6 348.6 157.0 349.0 157.4 349.5 157.8 349.8 158.2 350.1 158.6 350.3 159.0 350.5 159.4 350.8 159.8 351.0 160.2 351.3 160.6 352.3 161.0 353.9 161.4 355.1 161.8 352.7 162.2 350.3 162.6 348.5 163.0 348.9 163.4 349.3 163.8 349.1 164.2 348.3 164.6 347.5 165.0 347.4 165.4 347.6 165.8 347.7 166.2 346.2 166.6 344.8 167.0 343.6 167.4 343.4 167.8 343.3 168.2 343.0 168.6 342.6 169.0 342.3 169.4 342.8 169.8 343.6 170.2 344.5 170.6 343.6 171.0 342.7 171.4 342.2 171.8 342.7 172.2 343.3 172.6 344.1 173.0 345.1 173.4 346.1 173.8 345.7 174.2 344.7 174.6 343.8 175.0 344.5 175.4 345.2 175.8 346.3 176.2 348.4 176.6 350.5 177.0 351.2 177.4 350.5 177.8 349.9 178.2 349.8 178.6 349.9 179.0 349.9 179.4 349.8 179.8 349.6 180.2 349.6 180.6 350.1 181.0 350.6 181.4 351.0 181.8 351.4 182.2 351.7 182.6 351.3 183.0 350.8 183.4 350.2 183.8 351.6 184.2 353.0 184.6 353.9 185.0 353.3 185.4 352.5 185.8 351.4 186.2 349.9 186.6 348.4 187.0 348.9 187.4 349.7 187.8 350.3 188.2 348.9 188.6 347.6 189.0 346.6 189.4 346.1 189.8 345.6 190.2 344.8 190.6 343.9 191.0 343.1 191.4 342.3 191.8 341.6 192.2 341.0 192.6 340.5 193.0 340.0 193.4 339.6 193.8 339.3 194.2 339.2 194.6 339.1 195.0 339.1 195.4 339.3 195.8 339.5 196.2 339.7 196.6 340.0 197.0 340.3 197.4 340.6 197.8 341.0 198.2 341.3 198.6 341.6 199.0 341.8 199.4 342.1 199.8 342.3 200.2 342.4 200.6 342.5 201.0 342.7 201.4 342.9 201.8 343.3 202.2 344.0 202.6 344.9 203.0 345.7 203.4 346.5 203.8 347.3 204.2 347.9 204.6 348.3 205.0 348.7 205.4 349.0 205.8 349.3 206.2 349.4 206.6 349.6 207.0 349.7 207.4 350.0 207.8 350.3 208.2 350.8 208.6 351.3 209.0 351.8 209.4 352.3 209.8 352.9 210.2 353.3 210.6 353.7 211.0 354.0 211.4 354.3 211.8 354.5 212.2 354.7 212.6 354.8 213.0 354.9 213.4 355.0 213.8 355.2 214.2 355.4 214.6 355.6 215.0 355.8 215.4 356.1 215.8 356.4 216.2 356.7 216.6 357.0 217.0 357.3 217.4 357.6 217.8 357.8 218.2 358.1 218.6 358.3 219.0 358.5 219.4 358.7 219.8 358.9 220.2 359.1 220.6 359.3 221.0 359.4 221.4 359.5 221.8 359.6 222.2 359.7 222.6 359.6 223.0 359.5 223.4 359.3 223.8 359.1 224.2 358.9 224.6 359.0 225.0 359.3 225.4 359.8 225.8 360.3 226.2 360.8 226.6 361.1 227.0 361.4 227.4 361.6 227.8 361.8 228.2 362.0 228.6 362.1 229.0 362.2 229.4 362.3 229.8 362.5 230.2 362.6 230.6 362.7 231.0 362.8 231.4 362.9 231.8 363.0 232.2 363.1 232.6 363.2 233.0 363.3 233.4 363.4 233.8 363.5 234.2 363.6 234.6 363.7 235.0 363.8 235.4 363.8 235.8 363.8 236.2 363.7 236.6 363.7 237.0 363.7 237.4 363.6 237.8 363.6 238.2 363.6 238.6 363.5 239.0 363.5 239.4 363.4 239.8 363.3 240.2 363.3 240.6 363.2 241.0 363.1 241.4 363.1 241.8 363.0 242.2 362.9 242.6 362.8 243.0 362.7 243.4 362.6 243.8 362.5 244.2 362.4 244.6 362.3 245.0 362.2 245.4 362.1 245.8 362.0 246.2 361.9 246.6 361.8 247.0 361.7 247.4 361.6 247.8 361.5 248.2 361.4 248.6 361.3 249.0 361.2 249.4 361.1 249.8 361.0 250.2 360.9 250.6 360.8 251.0 360.8 251.4 360.7 251.8 360.6 252.2 360.6 252.6 360.5 253.0 360.4 253.4 360.4 253.8 360.3 254.2 360.3 254.6 360.2 255.0 360.2 255.4 360.2 255.8 360.1 256.2 360.1 256.6 360.1 257.0 360.1 257.4 360.0 257.8 360.0 258.2 360.0 258.6 360.0 259.0 360.0 259.4 360.0 259.8 359.9 260.2 359.9 260.6 359.9 261.0 359.9 261.4 359.9 261.8 359.9 262.2 359.9 262.6 359.9 263.0 359.9 263.4 359.9 263.8 359.9 264.2 359.9 264.6 359.9 265.0 359.9 265.4 359.9 265.8 359.8 266.2 359.8 266.6 359.8 267.0 359.7 267.4 359.5 267.8 359.1 268.2 358.5 268.6 357.5 269.0 356.0 269.4 353.9 269.8 351.1 270.2 347.6 270.6 343.6 271.0 339.4 271.4 335.3 271.8 332.0 272.2 329.8 272.6 329.0 273.0 329.6 273.4 331.3 273.8 333.9 274.2 337.0 274.6 340.5 275.0 343.7 275.4 346.6 275.8 348.8 276.2 350.1 276.6 350.6 277.0 350.3 277.4 349.2 277.8 347.6 278.2 345.7 278.6 343.7 279.0 341.8 279.4 340.3 279.8 339.4 280.2 339.1 280.6 339.5 281.0 340.5 281.4 341.9 281.8 343.7 282.2 345.8 282.6 348.1 283.0 350.3 283.4 352.8 283.8 355.0 284.2 357.0 284.6 358.8 285.0 360.3 285.4 361.6 285.8 362.6 286.2 363.5 286.6 364.2 287.0 364.8 287.4 365.3 287.8 365.7 288.2 366.1 288.6 366.4 289.0 366.7 289.4 367.0 289.8 367.3 290.2 367.6 290.6 367.9 291.0 368.1 291.4 368.4 291.8 368.7 292.2 368.8" fill="none" stroke="#a62097" stroke-width="1.55" stroke-linejoin="round"/>
<path d="M31.5 323.4 31.9 324.6 32.3 325.7 32.7 326.7 33.1 327.7 33.5 328.6 33.9 329.5 34.3 330.3 34.7 331.1 35.1 331.8 35.5 332.5 35.9 333.1 36.3 333.7 36.7 334.3 37.1 334.9 37.5 335.5 37.9 336.0 38.3 336.5 38.7 337.0 39.1 337.5 39.5 338.0 39.9 338.4 40.3 338.9 40.7 339.4 41.1 339.8 41.5 340.2 41.9 340.6 42.3 341.0 42.7 341.4 43.1 341.7 43.5 342.0 43.9 342.3 44.3 342.6 44.7 342.8 45.1 342.9 45.5 343.0 45.9 343.1 46.3 343.2 46.7 343.1 47.1 342.8 47.5 341.8 47.9 339.8 48.3 337.2 48.7 338.4 49.1 340.8 49.5 342.2 49.9 342.8 50.3 342.9 50.7 342.9 51.1 342.9 51.5 342.8 51.9 342.8 52.3 342.7 52.7 342.7 53.1 342.7 53.5 342.6 53.9 342.6 54.3 342.6 54.7 342.6 55.1 342.6 55.5 342.5 55.9 342.1 56.3 340.5 56.7 336.5 57.1 330.3 57.5 333.3 57.9 338.7 58.3 340.8 58.7 340.0 59.1 337.1 59.5 336.9 59.9 339.2 60.3 338.2 60.7 331.4 61.1 318.6 61.5 325.2 61.9 335.4 62.3 339.6 62.7 340.5 63.1 340.2 63.5 339.5 63.9 338.5 64.3 337.4 64.7 336.1 65.1 334.8 65.5 333.4 65.9 332.2 66.3 331.3 66.7 331.2 67.1 331.8 67.5 332.5 67.9 333.4 68.3 334.4 68.7 335.4 69.1 336.3 69.5 337.2 69.9 338.0 70.3 338.7 70.7 339.3 71.1 339.8 71.5 340.2 71.9 340.5 72.3 340.7 72.7 340.7 73.1 340.8 73.5 340.7 73.9 340.5 74.3 340.3 74.7 340.1 75.1 340.2 75.5 340.4 75.9 340.5 76.3 340.7 76.7 340.8 77.1 341.0 77.5 341.1 77.9 341.3 78.3 341.4 78.7 341.5 79.1 341.6 79.5 341.7 79.9 341.8 80.3 341.9 80.7 342.1 81.1 342.2 81.5 342.3 81.9 342.5 82.3 342.6 82.7 342.6 83.1 342.7 83.5 342.7 83.9 342.8 84.3 342.9 84.7 343.0 85.1 343.2 85.5 343.3 85.9 343.4 86.3 343.4 86.7 343.3 87.1 343.1 87.5 343.0 87.9 343.2 88.3 343.4 88.7 343.6 89.1 343.7 89.5 343.8 89.9 343.9 90.3 343.9 90.7 343.7 91.1 343.6 91.5 343.7 91.9 344.0 92.3 344.3 92.7 344.4 93.1 344.3 93.5 344.1 93.9 343.9 94.3 344.2 94.7 344.4 95.1 344.5 95.5 344.1 95.9 343.3 96.3 342.2 96.7 341.7 97.1 343.0 97.5 344.3 97.9 345.4 98.3 346.5 98.7 346.5 99.1 346.0 99.5 345.5 99.9 345.2 100.3 345.0 100.7 344.9 101.1 344.8 101.5 344.7 101.9 344.6 102.3 344.5 102.7 344.5 103.1 344.5 103.5 344.6 103.9 344.8 104.3 344.9 104.7 345.1 105.1 345.3 105.5 345.4 105.9 345.4 106.3 345.4 106.7 345.3 107.1 345.2 107.5 345.2 107.9 345.1 108.3 345.1 108.7 345.1 109.1 345.2 109.5 345.3 109.9 345.3 110.3 345.4 110.7 345.5 111.1 345.8 111.5 346.2 111.9 346.8 112.3 346.5 112.7 346.0 113.1 345.8 113.5 345.7 113.9 345.5 114.3 345.4 114.7 345.4 115.1 345.5 115.5 345.7 115.9 345.9 116.3 346.2 116.7 346.5" fill="none" stroke="#9713a0" stroke-width="1.55" stroke-linejoin="round"/>
<path d="M121.8 348.0 122.2 347.7 122.6 347.4 123.0 347.2 123.4 347.2 123.8 347.2 124.2 347.6 124.6 348.4 125.0 349.2 125.4 348.8 125.8 348.0 126.2 347.2 126.6 347.0 127.0 346.7 127.4 346.5 127.8 346.1 128.2 345.8 128.6 345.3 129.0 344.8 129.4 344.3 129.8 344.6 130.2 345.1 130.6 345.6 131.0 344.9 131.4 344.1 131.8 343.6 132.2 343.5 132.6 343.3 133.0 343.3 133.4 343.7 133.8 344.1 134.2 343.7 134.6 343.1 135.0 342.5 135.4 343.0 135.8 343.5 136.2 343.6 136.6 342.6 137.0 341.6 137.4 339.4 137.8 336.7 138.2 334.4 138.6 334.0 139.0 333.9 139.4 333.5 139.8 331.8 140.2 330.3 140.6 329.2 141.0 328.2 141.4 327.1 141.8 325.9 142.2 324.8 142.6 323.7 143.0 322.5 143.4 321.3 143.8 320.2 144.2 319.0 144.6 317.9 145.0 316.8 145.4 315.7 145.8 314.6 146.2 313.6 146.6 312.6 147.0 311.6 147.4 310.7 147.8 309.9 148.2 309.1 148.6 308.4 149.0 307.7 149.4 307.2 149.8 306.7 150.2 306.5 150.6 306.4 151.0 306.8 151.4 307.7 151.8 308.8 152.2 310.1 152.6 311.4 153.0 313.2 153.4 315.0 153.8 316.7 154.2 318.4 154.6 320.0 155.0 321.6 155.4 323.1 155.8 324.5 156.2 325.8 156.6 326.9 157.0 328.0 157.4 329.2 157.8 330.1 158.2 331.0 158.6 331.6 159.0 331.9 159.4 332.3 159.8 332.7 160.2 333.2 160.6 333.6 161.0 334.0 161.4 334.3 161.8 334.7 162.2 334.9 162.6 335.1 163.0 334.7 163.4 334.4 163.8 333.8 164.2 333.1 164.6 332.4 165.0 333.2 165.4 334.6 165.8 336.0 166.2 333.7 166.6 331.3 167.0 329.6 167.4 329.8 167.8 329.9 168.2 329.5 168.6 328.6 169.0 327.7 169.4 328.1 169.8 329.1 170.2 330.0 170.6 329.9 171.0 329.8 171.4 329.9 171.8 330.6 172.2 331.3 172.6 331.3 173.0 330.7 173.4 330.2 173.8 330.7 174.2 331.5 174.6 332.4 175.0 331.9 175.4 331.4 175.8 331.4 176.2 332.5 176.6 333.7 177.0 334.8 177.4 335.8 177.8 336.8 178.2 336.0 178.6 334.7 179.0 333.3 179.4 334.1 179.8 334.8 180.2 335.5 180.6 335.9 181.0 336.3 181.4 336.7 181.8 337.2 182.2 337.7 182.6 337.6 183.0 337.3 183.4 337.0 183.8 336.4 184.2 335.7 184.6 335.2 185.0 335.3 185.4 335.3 185.8 335.4 186.2 335.4 186.6 335.4 187.0 335.0 187.4 334.4 187.8 333.8 188.2 333.6 188.6 333.4 189.0 333.0 189.4 332.5 189.8 332.0 190.2 331.8 190.6 331.7 191.0 331.3 191.4 330.4 191.8 329.6 192.2 329.2 192.6 328.8 193.0 328.5 193.4 328.2 193.8 328.0 194.2 327.9 194.6 327.9 195.0 327.9 195.4 328.0 195.8 328.1 196.2 328.3 196.6 328.4 197.0 328.5 197.4 328.5 197.8 328.4 198.2 328.2 198.6 327.8 199.0 327.2 199.4 326.4 199.8 325.4 200.2 324.3 200.6 323.1 201.0 322.0 201.4 321.1 201.8 321.2 202.2 322.8 202.6 325.0 203.0 327.3 203.4 329.4 203.8 331.3 204.2 332.7 204.6 333.8 205.0 334.5 205.4 335.0 205.8 335.2 206.2 335.3 206.6 335.2 207.0 335.2 207.4 335.2 207.8 335.5 208.2 336.0 208.6 336.6 209.0 337.3 209.4 337.9 209.8 338.5 210.2 339.0 210.6 339.5 211.0 339.8 211.4 340.0 211.8 340.1 212.2 340.1 212.6 340.0 213.0 340.0 213.4 339.9 213.8 339.9 214.2 340.0 214.6 340.1 215.0 340.4 215.4 340.7 215.8 341.0 216.2 341.3 216.6 341.7 217.0 342.0 217.4 342.4 217.8 342.7 218.2 342.9 218.6 343.2 219.0 343.4 219.4 343.5 219.8 343.7 220.2 343.8 220.6 344.0 221.0 344.1 221.4 344.1 221.8 344.2 222.2 344.1 222.6 344.0 223.0 343.8 223.4 343.5 223.8 343.2 224.2 343.0 224.6 343.0 225.0 343.3 225.4 343.8 225.8 344.4 226.2 344.9 226.6 345.3 227.0 345.5 227.4 345.8 227.8 345.9 228.2 346.1 228.6 346.2 229.0 346.3 229.4 346.4 229.8 346.5 230.2 346.6 230.6 346.7 231.0 346.8 231.4 346.9 231.8 347.0 232.2 347.1 232.6 347.2 233.0 347.2 233.4 347.3 233.8 347.4 234.2 347.5 234.6 347.6 235.0 347.7 235.4 347.6 235.8 347.6 236.2 347.5 236.6 347.5 237.0 347.5 237.4 347.4 237.8 347.3 238.2 347.3 238.6 347.2 239.0 347.2 239.4 347.1 239.8 347.0 240.2 346.9 240.6 346.8 241.0 346.7 241.4 346.6 241.8 346.5 242.2 346.4 242.6 346.3 243.0 346.2 243.4 346.0 243.8 345.9 244.2 345.8 244.6 345.6 245.0 345.5 245.4 345.4 245.8 345.2 246.2 345.1 246.6 344.9 247.0 344.8 247.4 344.7 247.8 344.5 248.2 344.4 248.6 344.3 249.0 344.1 249.4 344.0 249.8 343.9 250.2 343.8 250.6 343.7 251.0 343.6 251.4 343.5 251.8 343.4 252.2 343.3 252.6 343.2 253.0 343.1 253.4 343.1 253.8 343.0 254.2 343.0 254.6 342.9 255.0 342.8 255.4 342.8 255.8 342.8 256.2 342.7 256.6 342.7 257.0 342.6 257.4 342.6 257.8 342.6 258.2 342.6 258.6 342.5 259.0 342.5 259.4 342.5 259.8 342.5 260.2 342.5 260.6 342.5 261.0 342.4 261.4 342.4 261.8 342.4 262.2 342.4 262.6 342.4 263.0 342.4 263.4 342.4 263.8 342.4 264.2 342.4 264.6 342.4 265.0 342.4 265.4 342.4 265.8 342.4 266.2 342.3 266.6 342.3 267.0 342.2 267.4 342.0 267.8 341.7 268.2 341.1 268.6 340.2 269.0 338.8 269.4 336.9 269.8 334.3 270.2 331.1 270.6 327.4 271.0 323.6 271.4 319.9 271.8 316.8 272.2 314.8 272.6 314.0 273.0 314.6 273.4 316.2 273.8 318.6 274.2 321.5 274.6 324.7 275.0 327.7 275.4 330.4 275.8 332.4 276.2 333.7 276.6 334.3 277.0 334.1 277.4 333.2 277.8 331.8 278.2 330.2 278.6 328.4 279.0 326.8 279.4 325.5 279.8 324.7 280.2 324.5 280.6 325.0 281.0 325.8 281.4 327.2 281.8 328.8 282.2 330.8 282.6 332.8 283.0 334.9 283.4 337.1 283.8 339.1 284.2 341.0 284.6 342.7 285.0 344.1 285.4 345.3 285.8 346.3 286.2 347.1 286.6 347.8 287.0 348.4 287.4 348.9 287.8 349.3 288.2 349.7 288.6 350.1 289.0 350.4 289.4 350.7 289.8 351.1 290.2 351.3 290.6 351.6 291.0 351.9 291.4 352.2 291.8 352.5 292.2 352.6" fill="none" stroke="#9713a0" stroke-width="1.55" stroke-linejoin="round"/>
<path d="M31.5 304.1 31.9 305.3 32.3 306.4 32.7 307.4 33.1 308.3 33.5 309.3 33.9 310.1 34.3 310.9 34.7 311.7 35.1 312.4 35.5 313.1 35.9 313.7 36.3 314.4 36.7 314.9 37.1 315.5 37.5 316.1 37.9 316.6 38.3 317.1 38.7 317.6 39.1 318.1 39.5 318.6 39.9 319.1 40.3 319.5 40.7 320.0 41.1 320.4 41.5 320.9 41.9 321.3 42.3 321.7 42.7 322.1 43.1 322.4 43.5 322.7 43.9 323.0 44.3 323.2 44.7 323.4 45.1 323.6 45.5 323.7 45.9 323.8 46.3 323.9 46.7 323.8 47.1 323.5 47.5 322.5 47.9 320.5 48.3 317.9 48.7 319.1 49.1 321.5 49.5 322.8 49.9 323.4 50.3 323.5 50.7 323.5 51.1 323.4 51.5 323.4 51.9 323.3 52.3 323.3 52.7 323.2 53.1 323.2 53.5 323.2 53.9 323.2 54.3 323.1 54.7 323.1 55.1 323.1 55.5 323.0 55.9 322.6 56.3 321.1 56.7 317.0 57.1 310.9 57.5 313.9 57.9 319.3 58.3 321.3 58.7 320.5 59.1 317.7 59.5 317.6 59.9 319.8 60.3 318.9 60.7 312.2 61.1 299.7 61.5 306.1 61.9 316.2 62.3 320.2 62.7 321.1 63.1 320.9 63.5 320.2 63.9 319.3 64.3 318.2 64.7 317.0 65.1 315.7 65.5 314.4 65.9 313.3 66.3 312.4 66.7 312.4 67.1 312.9 67.5 313.6 67.9 314.4 68.3 315.3 68.7 316.2 69.1 317.1 69.5 317.9 69.9 318.7 70.3 319.4 70.7 319.9 71.1 320.4 71.5 320.7 71.9 321.0 72.3 321.1 72.7 321.2 73.1 321.1 73.5 321.0 73.9 320.8 74.3 320.5 74.7 320.3 75.1 320.4 75.5 320.6 75.9 320.7 76.3 320.9 76.7 321.1 77.1 321.3 77.5 321.4 77.9 321.6 78.3 321.7 78.7 321.8 79.1 321.9 79.5 322.1 79.9 322.2 80.3 322.3 80.7 322.5 81.1 322.6 81.5 322.7 81.9 322.8 82.3 322.9 82.7 323.1 83.1 323.3 83.5 323.5 83.9 323.5 84.3 323.5 84.7 323.5 85.1 323.6 85.5 323.7 85.9 323.8 86.3 323.9 86.7 323.8 87.1 323.7 87.5 323.8 87.9 324.2 88.3 324.7 88.7 325.3 89.1 324.9 89.5 324.4 89.9 323.9 90.3 323.9 90.7 324.0 91.1 324.1 91.5 324.2 91.9 324.3 92.3 324.4 92.7 324.5 93.1 324.6 93.5 324.6 93.9 324.7 94.3 324.8 94.7 324.9 95.1 324.9 95.5 324.3 95.9 323.4 96.3 322.1 96.7 321.6 97.1 323.1 97.5 324.6 97.9 325.9 98.3 326.9 98.7 326.8 99.1 326.3 99.5 325.9 99.9 325.8 100.3 325.7 100.7 325.6 101.1 325.5 101.5 325.4 101.9 325.4 102.3 325.5 102.7 325.6 103.1 325.8 103.5 326.2 103.9 326.5 104.3 326.9 104.7 326.7 105.1 326.6 105.5 326.5 105.9 326.3 106.3 326.0 106.7 325.8 107.1 325.7 107.5 325.8 107.9 325.8 108.3 325.9 108.7 325.8 109.1 325.7 109.5 325.6 109.9 325.8 110.3 326.0 110.7 326.2 111.1 326.4 111.5 326.8 111.9 327.4 112.3 327.1 112.7 326.7 113.1 326.6 113.5 326.5 113.9 326.3 114.3 326.2 114.7 326.0 115.1 326.2 115.5 326.3 115.9 326.4 116.3 326.4 116.7 326.5" fill="none" stroke="#8608a5" stroke-width="1.55" stroke-linejoin="round"/>
<path d="M121.8 328.3 122.2 328.2 122.6 328.2 123.0 328.0 123.4 327.4 123.8 326.7 124.2 326.7 124.6 327.2 125.0 327.8 125.4 328.2 125.8 328.4 126.2 328.7 126.6 328.3 127.0 327.9 127.4 327.4 127.8 326.7 128.2 326.1 128.6 326.5 129.0 328.1 129.4 329.8 129.8 329.6 130.2 328.9 130.6 328.2 131.0 327.1 131.4 326.0 131.8 325.4 132.2 326.1 132.6 326.5 133.0 325.9 133.4 324.6 133.8 323.3 134.2 322.2 134.6 321.2 135.0 320.2 135.4 320.1 135.8 320.0 136.2 319.3 136.6 316.9 137.0 314.6 137.4 313.0 137.8 312.1 138.2 311.1 138.6 310.2 139.0 309.3 139.4 308.1 139.8 306.4 140.2 304.7 140.6 303.1 141.0 301.6 141.4 300.0 141.8 298.3 142.2 296.7 142.6 295.0 143.0 293.3 143.4 291.6 143.8 289.9 144.2 288.2 144.6 286.5 145.0 284.9 145.4 283.2 145.8 281.7 146.2 280.1 146.6 278.7 147.0 277.3 147.4 276.0 147.8 274.8 148.2 273.7 148.6 272.6 149.0 271.8 149.4 271.0 149.8 270.4 150.2 270.1 150.6 269.9 151.0 270.6 151.4 271.9 151.8 273.7 152.2 275.7 152.6 277.8 153.0 280.5 153.4 283.3 153.8 286.0 154.2 288.7 154.6 291.2 155.0 293.7 155.4 296.0 155.8 298.2 156.2 300.3 156.6 302.2 157.0 304.0 157.4 305.6 157.8 307.1 158.2 308.3 158.6 309.7 159.0 310.9 159.4 312.1 159.8 313.1 160.2 314.1 160.6 314.8 161.0 315.2 161.4 315.6 161.8 315.0 162.2 314.3 162.6 313.9 163.0 314.5 163.4 315.2 163.8 315.0 164.2 314.0 164.6 312.9 165.0 312.5 165.4 312.3 165.8 312.1 166.2 313.5 166.6 314.9 167.0 315.6 167.4 314.4 167.8 313.1 168.2 312.9 168.6 313.8 169.0 314.7 169.4 313.8 169.8 312.3 170.2 310.9 170.6 310.8 171.0 310.7 171.4 310.8 171.8 311.6 172.2 312.5 172.6 313.0 173.0 313.2 173.4 313.4 173.8 313.9 174.2 314.4 174.6 315.0 175.0 314.4 175.4 313.8 175.8 313.7 176.2 315.0 176.6 316.2 177.0 316.6 177.4 316.1 177.8 315.5 178.2 316.6 178.6 318.1 179.0 319.6 179.4 319.0 179.8 318.4 180.2 318.0 180.6 318.3 181.0 318.6 181.4 319.2 181.8 320.0 182.2 320.7 182.6 320.9 183.0 320.9 183.4 320.9 183.8 320.6 184.2 320.2 184.6 319.9 185.0 320.0 185.4 319.9 185.8 320.0 186.2 320.3 186.6 320.5 187.0 321.0 187.4 321.5 187.8 321.9 188.2 320.8 188.6 319.8 189.0 319.2 189.4 319.5 189.8 319.6 190.2 319.1 190.6 318.4 191.0 317.8 191.4 317.6 191.8 317.3 192.2 317.0 192.6 316.8 193.0 316.5 193.4 316.3 193.8 316.1 194.2 315.9 194.6 315.6 195.0 315.4 195.4 315.2 195.8 314.9 196.2 314.6 196.6 314.2 197.0 313.8 197.4 313.2 197.8 312.5 198.2 311.5 198.6 310.4 199.0 308.9 199.4 307.2 199.8 305.3 200.2 303.2 200.6 300.9 201.0 298.8 201.4 297.1 201.8 296.5 202.2 297.9 202.6 300.0 203.0 302.2 203.4 304.3 203.8 306.0 204.2 307.4 204.6 308.2 205.0 308.7 205.4 308.9 205.8 308.8 206.2 308.5 206.6 308.1 207.0 307.8 207.4 307.6 207.8 307.9 208.2 308.4 208.6 309.2 209.0 310.0 209.4 310.9 209.8 311.7 210.2 312.4 210.6 313.0 211.0 313.5 211.4 313.8 211.8 314.0 212.2 314.1 212.6 314.1 213.0 314.0 213.4 314.1 213.8 314.2 214.2 314.4 214.6 314.8 215.0 315.2 215.4 315.8 215.8 316.4 216.2 317.0 216.6 317.7 217.0 318.3 217.4 319.0 217.8 319.5 218.2 320.1 218.6 320.5 219.0 321.0 219.4 321.3 219.8 321.7 220.2 322.0 220.6 322.3 221.0 322.5 221.4 322.7 221.8 322.9 222.2 322.9 222.6 322.9 223.0 322.7 223.4 322.5 223.8 322.2 224.2 322.0 224.6 322.1 225.0 322.5 225.4 323.2 225.8 323.8 226.2 324.4 226.6 324.9 227.0 325.3 227.4 325.5 227.8 325.8 228.2 325.9 228.6 326.1 229.0 326.2 229.4 326.3 229.8 326.4 230.2 326.5 230.6 326.6 231.0 326.7 231.4 326.8 231.8 326.9 232.2 327.0 232.6 327.1 233.0 327.2 233.4 327.2 233.8 327.3 234.2 327.4 234.6 327.4 235.0 327.5 235.4 327.5 235.8 327.4 236.2 327.4 236.6 327.3 237.0 327.3 237.4 327.2 237.8 327.1 238.2 327.0 238.6 327.0 239.0 326.9 239.4 326.8 239.8 326.7 240.2 326.6 240.6 326.4 241.0 326.3 241.4 326.2 241.8 326.0 242.2 325.9 242.6 325.7 243.0 325.6 243.4 325.4 243.8 325.2 244.2 325.1 244.6 324.9 245.0 324.7 245.4 324.5 245.8 324.3 246.2 324.1 246.6 323.9 247.0 323.7 247.4 323.5 247.8 323.3 248.2 323.1 248.6 322.9 249.0 322.8 249.4 322.6 249.8 322.4 250.2 322.2 250.6 322.1 251.0 321.9 251.4 321.8 251.8 321.6 252.2 321.5 252.6 321.3 253.0 321.2 253.4 321.1 253.8 321.0 254.2 320.9 254.6 320.8 255.0 320.7 255.4 320.7 255.8 320.6 256.2 320.5 256.6 320.5 257.0 320.5 257.4 320.4 257.8 320.4 258.2 320.4 258.6 320.4 259.0 320.3 259.4 320.3 259.8 320.3 260.2 320.3 260.6 320.3 261.0 320.3 261.4 320.4 261.8 320.4 262.2 320.4 262.6 320.4 263.0 320.4 263.4 320.4 263.8 320.4 264.2 320.5 264.6 320.5 265.0 320.5 265.4 320.5 265.8 320.5 266.2 320.5 266.6 320.5 267.0 320.4 267.4 320.3 267.8 320.0 268.2 319.6 268.6 318.9 269.0 317.9 269.4 316.4 269.8 314.4 270.2 311.9 270.6 309.1 271.0 306.1 271.4 303.3 271.8 300.9 272.2 299.4 272.6 298.8 273.0 299.3 273.4 300.5 273.8 302.4 274.2 304.6 274.6 307.0 275.0 309.3 275.4 311.3 275.8 312.7 276.2 313.6 276.6 313.8 277.0 313.3 277.4 312.3 277.8 310.9 278.2 309.2 278.6 307.5 279.0 305.9 279.4 304.7 279.8 303.9 280.2 303.8 280.6 304.3 281.0 305.2 281.4 306.5 281.8 308.2 282.2 310.1 282.6 312.2 283.0 314.2 283.4 316.5 283.8 318.5 284.2 320.4 284.6 322.1 285.0 323.5 285.4 324.7 285.8 325.8 286.2 326.6 286.6 327.4 287.0 328.0 287.4 328.5 287.8 329.0 288.2 329.4 288.6 329.8 289.0 330.2 289.4 330.5 289.8 330.8 290.2 331.1 290.6 331.5 291.0 331.8 291.4 332.0 291.8 332.3 292.2 332.5" fill="none" stroke="#8608a5" stroke-width="1.55" stroke-linejoin="round"/>
<path d="M31.5 285.3 31.9 286.4 32.3 287.5 32.7 288.5 33.1 289.5 33.5 290.4 33.9 291.2 34.3 292.0 34.7 292.8 35.1 293.5 35.5 294.2 35.9 294.8 36.3 295.5 36.7 296.0 37.1 296.6 37.5 297.2 37.9 297.7 38.3 298.2 38.7 298.7 39.1 299.2 39.5 299.7 39.9 300.2 40.3 300.6 40.7 301.1 41.1 301.6 41.5 302.0 41.9 302.4 42.3 302.8 42.7 303.2 43.1 303.6 43.5 303.9 43.9 304.2 44.3 304.4 44.7 304.6 45.1 304.8 45.5 304.9 45.9 305.0 46.3 305.0 46.7 305.0 47.1 304.6 47.5 303.7 47.9 301.7 48.3 299.2 48.7 300.3 49.1 302.6 49.5 304.0 49.9 304.5 50.3 304.6 50.7 304.6 51.1 304.5 51.5 304.4 51.9 304.4 52.3 304.3 52.7 304.3 53.1 304.2 53.5 304.2 53.9 304.2 54.3 304.2 54.7 304.2 55.1 304.1 55.5 304.0 55.9 303.6 56.3 302.1 56.7 298.1 57.1 292.0 57.5 295.0 57.9 300.3 58.3 302.4 58.7 301.6 59.1 298.9 59.5 298.7 59.9 300.9 60.3 300.0 60.7 293.5 61.1 281.3 61.5 287.6 61.9 297.4 62.3 301.3 62.7 302.2 63.1 302.0 63.5 301.4 63.9 300.5 64.3 299.5 64.7 298.3 65.1 297.1 65.5 295.9 65.9 294.8 66.3 294.0 66.7 294.0 67.1 294.4 67.5 295.1 67.9 295.9 68.3 296.8 68.7 297.6 69.1 298.4 69.5 299.2 69.9 299.9 70.3 300.5 70.7 301.0 71.1 301.4 71.5 301.8 71.9 302.0 72.3 302.1 72.7 302.1 73.1 302.0 73.5 301.8 73.9 301.6 74.3 301.3 74.7 301.0 75.1 301.0 75.5 301.3 75.9 301.5 76.3 301.6 76.7 301.8 77.1 302.0 77.5 302.2 77.9 302.3 78.3 302.5 78.7 302.6 79.1 302.8 79.5 302.9 79.9 303.0 80.3 303.2 80.7 303.4 81.1 303.5 81.5 303.6 81.9 303.7 82.3 303.7 82.7 303.8 83.1 304.0 83.5 304.2 83.9 304.3 84.3 304.4 84.7 304.6 85.1 304.7 85.5 304.9 85.9 305.1 86.3 305.1 86.7 304.9 87.1 304.7 87.5 304.5 87.9 304.6 88.3 304.6 88.7 304.6 89.1 304.8 89.5 305.0 89.9 305.2 90.3 305.4 90.7 305.5 91.1 305.6 91.5 305.6 91.9 305.4 92.3 305.2 92.7 305.1 93.1 305.3 93.5 305.6 93.9 305.8 94.3 305.6 94.7 305.4 95.1 305.0 95.5 304.9 95.9 304.5 96.3 303.8 96.7 303.5 97.1 304.4 97.5 305.3 97.9 306.2 98.3 307.3 98.7 307.2 99.1 306.8 99.5 306.5 99.9 306.3 100.3 306.4 100.7 306.4 101.1 306.5 101.5 306.6 101.9 306.6 102.3 306.5 102.7 306.4 103.1 306.4 103.5 306.3 103.9 306.3 104.3 306.3 104.7 306.3 105.1 306.3 105.5 306.3 105.9 306.3 106.3 306.3 106.7 306.3 107.1 306.4 107.5 306.7 107.9 306.9 108.3 307.1 108.7 307.1 109.1 307.0 109.5 307.0 109.9 307.1 110.3 307.3 110.7 307.5 111.1 307.7 111.5 308.0 111.9 308.5 112.3 308.2 112.7 307.8 113.1 307.5 113.5 307.5 113.9 307.7 114.3 307.8 114.7 308.0 115.1 307.9 115.5 307.9 115.9 307.8 116.3 307.7 116.7 307.7" fill="none" stroke="#7502a8" stroke-width="1.55" stroke-linejoin="round"/>
<path d="M121.8 311.1 122.2 310.5 122.6 309.9 123.0 309.8 123.4 311.3 123.8 312.7 124.2 312.8 124.6 311.4 125.0 310.1 125.4 309.7 125.8 309.8 126.2 309.8 126.6 309.1 127.0 308.3 127.4 308.0 127.8 308.7 128.2 309.4 128.6 309.4 129.0 308.7 129.4 308.1 129.8 308.0 130.2 308.2 130.6 308.4 131.0 307.6 131.4 306.8 131.8 306.2 132.2 306.2 132.6 305.7 133.0 305.6 133.4 306.1 133.8 306.6 134.2 304.5 134.6 301.5 135.0 298.4 135.4 298.0 135.8 297.5 136.2 296.6 136.6 294.7 137.0 292.7 137.4 291.4 137.8 290.7 138.2 289.8 138.6 287.3 139.0 284.6 139.4 282.1 139.8 280.5 140.2 278.7 140.6 276.6 141.0 274.5 141.4 272.3 141.8 270.1 142.2 267.9 142.6 265.6 143.0 263.3 143.4 261.1 143.8 258.8 144.2 256.5 144.6 254.3 145.0 252.1 145.4 249.9 145.8 247.8 146.2 245.8 146.6 243.9 147.0 242.0 147.4 240.3 147.8 238.7 148.2 237.3 148.6 236.0 149.0 234.8 149.4 233.9 149.8 233.1 150.2 232.6 150.6 232.5 151.0 233.3 151.4 235.2 151.8 237.6 152.2 240.3 152.6 243.2 153.0 247.0 153.4 250.7 153.8 254.4 154.2 258.1 154.6 261.6 155.0 265.0 155.4 268.2 155.8 271.3 156.2 274.1 156.6 276.8 157.0 279.4 157.4 281.7 157.8 283.9 158.2 286.0 158.6 288.3 159.0 290.5 159.4 292.5 159.8 293.9 160.2 295.2 160.6 297.2 161.0 299.4 161.4 301.2 161.8 299.5 162.2 297.5 162.6 296.1 163.0 296.0 163.4 295.9 163.8 296.8 164.2 298.5 164.6 300.2 165.0 299.4 165.4 297.8 165.8 296.3 166.2 296.7 166.6 297.2 167.0 297.2 167.4 296.0 167.8 294.8 168.2 294.6 168.6 295.4 169.0 296.2 169.4 296.7 169.8 297.1 170.2 297.5 170.6 297.1 171.0 296.7 171.4 296.4 171.8 295.9 172.2 295.5 172.6 295.5 173.0 295.7 173.4 296.1 173.8 296.8 174.2 297.7 174.6 298.7 175.0 298.3 175.4 297.9 175.8 297.9 176.2 299.0 176.6 300.2 177.0 300.2 177.4 299.3 177.8 298.3 178.2 298.8 178.6 299.8 179.0 300.7 179.4 300.1 179.8 299.5 180.2 299.1 180.6 299.2 181.0 299.2 181.4 299.4 181.8 299.7 182.2 299.9 182.6 300.7 183.0 301.7 183.4 302.7 183.8 302.7 184.2 302.7 184.6 302.7 185.0 302.9 185.4 303.0 185.8 302.7 186.2 301.8 186.6 301.0 187.0 301.5 187.4 302.3 187.8 303.0 188.2 303.4 188.6 303.7 189.0 303.7 189.4 303.3 189.8 302.9 190.2 302.4 190.6 301.9 191.0 301.5 191.4 301.3 191.8 301.0 192.2 300.8 192.6 300.5 193.0 300.3 193.4 300.1 193.8 299.8 194.2 299.5 194.6 299.1 195.0 298.7 195.4 298.3 195.8 297.8 196.2 297.2 196.6 296.5 197.0 295.6 197.4 294.6 197.8 293.4 198.2 291.9 198.6 290.1 199.0 288.0 199.4 285.6 199.8 282.8 200.2 279.8 200.6 276.7 201.0 273.8 201.4 271.3 201.8 270.3 202.2 271.7 202.6 274.0 203.0 276.5 203.4 278.9 203.8 280.8 204.2 282.3 204.6 283.2 205.0 283.5 205.4 283.6 205.8 283.2 206.2 282.7 206.6 282.1 207.0 281.5 207.4 281.3 207.8 281.5 208.2 282.1 208.6 283.0 209.0 284.0 209.4 285.1 209.8 286.2 210.2 287.1 210.6 287.9 211.0 288.6 211.4 289.0 211.8 289.4 212.2 289.6 212.6 289.7 213.0 289.8 213.4 289.9 213.8 290.1 214.2 290.5 214.6 291.0 215.0 291.6 215.4 292.3 215.8 293.0 216.2 293.8 216.6 294.7 217.0 295.5 217.4 296.2 217.8 296.9 218.2 297.6 218.6 298.2 219.0 298.7 219.4 299.2 219.8 299.7 220.2 300.1 220.6 300.5 221.0 300.8 221.4 301.1 221.8 301.3 222.2 301.4 222.6 301.4 223.0 301.2 223.4 300.8 223.8 300.5 224.2 300.2 224.6 300.3 225.0 300.9 225.4 301.7 225.8 302.5 226.2 303.3 226.6 303.9 227.0 304.3 227.4 304.7 227.8 304.9 228.2 305.1 228.6 305.3 229.0 305.4 229.4 305.5 229.8 305.6 230.2 305.8 230.6 305.9 231.0 305.9 231.4 306.0 231.8 306.1 232.2 306.2 232.6 306.3 233.0 306.3 233.4 306.4 233.8 306.4 234.2 306.5 234.6 306.5 235.0 306.5 235.4 306.5 235.8 306.4 236.2 306.4 236.6 306.3 237.0 306.3 237.4 306.2 237.8 306.1 238.2 306.0 238.6 305.9 239.0 305.8 239.4 305.7 239.8 305.5 240.2 305.4 240.6 305.3 241.0 305.1 241.4 304.9 241.8 304.8 242.2 304.6 242.6 304.4 243.0 304.2 243.4 304.0 243.8 303.7 244.2 303.5 244.6 303.3 245.0 303.0 245.4 302.8 245.8 302.5 246.2 302.3 246.6 302.0 247.0 301.7 247.4 301.5 247.8 301.2 248.2 300.9 248.6 300.7 249.0 300.4 249.4 300.2 249.8 299.9 250.2 299.7 250.6 299.4 251.0 299.2 251.4 299.0 251.8 298.7 252.2 298.5 252.6 298.3 253.0 298.1 253.4 297.9 253.8 297.8 254.2 297.6 254.6 297.5 255.0 297.4 255.4 297.3 255.8 297.2 256.2 297.1 256.6 297.0 257.0 297.0 257.4 296.9 257.8 296.9 258.2 296.9 258.6 296.9 259.0 296.9 259.4 296.9 259.8 297.0 260.2 297.0 260.6 297.1 261.0 297.1 261.4 297.2 261.8 297.2 262.2 297.3 262.6 297.4 263.0 297.4 263.4 297.5 263.8 297.5 264.2 297.6 264.6 297.6 265.0 297.7 265.4 297.7 265.8 297.8 266.2 297.8 266.6 297.8 267.0 297.7 267.4 297.6 267.8 297.3 268.2 296.8 268.6 296.1 269.0 294.9 269.4 293.2 269.8 291.0 270.2 288.2 270.6 285.0 271.0 281.6 271.4 278.4 271.8 275.7 272.2 273.9 272.6 273.3 273.0 273.8 273.4 275.2 273.8 277.4 274.2 280.0 274.6 282.8 275.0 285.5 275.4 287.9 275.8 289.8 276.2 291.0 276.6 291.5 277.0 291.4 277.4 290.7 277.8 289.6 278.2 288.2 278.6 286.8 279.0 285.4 279.4 284.4 279.8 283.8 280.2 283.8 280.6 284.2 281.0 285.1 281.4 286.4 281.8 288.0 282.2 289.8 282.6 291.7 283.0 293.6 283.4 295.7 283.8 297.6 284.2 299.4 284.6 301.0 285.0 302.4 285.4 303.5 285.8 304.6 286.2 305.4 286.6 306.2 287.0 306.8 287.4 307.3 287.8 307.8 288.2 308.3 288.6 308.7 289.0 309.1 289.4 309.5 289.8 309.8 290.2 310.1 290.6 310.5 291.0 310.8 291.4 311.1 291.8 311.4 292.2 311.6" fill="none" stroke="#7502a8" stroke-width="1.55" stroke-linejoin="round"/>
<path d="M31.5 264.0 31.9 265.1 32.3 266.2 32.7 267.2 33.1 268.2 33.5 269.0 33.9 269.9 34.3 270.7 34.7 271.4 35.1 272.1 35.5 272.8 35.9 273.4 36.3 274.1 36.7 274.6 37.1 275.2 37.5 275.8 37.9 276.3 38.3 276.8 38.7 277.3 39.1 277.8 39.5 278.3 39.9 278.8 40.3 279.3 40.7 279.7 41.1 280.2 41.5 280.7 41.9 281.1 42.3 281.5 42.7 281.9 43.1 282.3 43.5 282.6 43.9 282.9 44.3 283.1 44.7 283.3 45.1 283.5 45.5 283.6 45.9 283.7 46.3 283.7 46.7 283.6 47.1 283.3 47.5 282.3 47.9 280.4 48.3 277.9 48.7 279.0 49.1 281.3 49.5 282.6 49.9 283.1 50.3 283.2 50.7 283.1 51.1 283.1 51.5 283.0 51.9 282.9 52.3 282.9 52.7 282.8 53.1 282.8 53.5 282.7 53.9 282.7 54.3 282.7 54.7 282.7 55.1 282.6 55.5 282.6 55.9 282.2 56.3 280.8 56.7 277.3 57.1 271.9 57.5 274.6 57.9 279.3 58.3 281.0 58.7 280.2 59.1 277.5 59.5 277.4 59.9 279.5 60.3 278.6 60.7 272.3 61.1 260.5 61.5 266.6 61.9 276.1 62.3 280.0 62.7 280.9 63.1 280.7 63.5 280.1 63.9 279.3 64.3 278.3 64.7 277.3 65.1 276.1 65.5 275.0 65.9 274.0 66.3 273.3 66.7 273.2 67.1 273.6 67.5 274.3 67.9 275.0 68.3 275.8 68.7 276.6 69.1 277.3 69.5 278.0 69.9 278.7 70.3 279.2 70.7 279.7 71.1 280.1 71.5 280.3 71.9 280.5 72.3 280.5 72.7 280.5 73.1 280.4 73.5 280.2 73.9 279.9 74.3 279.5 74.7 279.2 75.1 279.2 75.5 279.5 75.9 279.7 76.3 279.9 76.7 280.1 77.1 280.3 77.5 280.5 77.9 280.6 78.3 280.8 78.7 281.0 79.1 281.1 79.5 281.2 79.9 281.4 80.3 281.6 80.7 281.7 81.1 281.9 81.5 282.0 81.9 282.1 82.3 282.2 82.7 282.3 83.1 282.5 83.5 282.6 83.9 282.7 84.3 282.8 84.7 282.9 85.1 283.0 85.5 283.0 85.9 283.0 86.3 283.0 86.7 283.0 87.1 283.0 87.5 283.1 87.9 283.3 88.3 283.6 88.7 283.8 89.1 283.9 89.5 284.1 89.9 284.2 90.3 284.3 90.7 284.5 91.1 284.7 91.5 284.8 91.9 284.7 92.3 284.7 92.7 284.7 93.1 284.4 93.5 284.2 93.9 284.0 94.3 284.2 94.7 284.4 95.1 284.5 95.5 284.1 95.9 283.3 96.3 282.2 96.7 281.6 97.1 282.7 97.5 283.9 97.9 284.9 98.3 285.8 98.7 285.7 99.1 285.2 99.5 284.9 99.9 284.8 100.3 284.8 100.7 284.8 101.1 284.9 101.5 284.9 101.9 284.9 102.3 284.8 102.7 284.8 103.1 284.8 103.5 285.1 103.9 285.3 104.3 285.6 104.7 285.4 105.1 285.3 105.5 285.1 105.9 285.2 106.3 285.4 106.7 285.6 107.1 285.6 107.5 285.6 107.9 285.6 108.3 285.6 108.7 285.8 109.1 285.9 109.5 286.1 109.9 286.2 110.3 286.3 110.7 286.5 111.1 286.7 111.5 287.1 111.9 287.6 112.3 287.3 112.7 286.7 113.1 286.3 113.5 286.2 113.9 286.4 114.3 286.6 114.7 286.8 115.1 286.7 115.5 286.7 115.9 286.6 116.3 286.6 116.7 286.8" fill="none" stroke="#6400a6" stroke-width="1.55" stroke-linejoin="round"/>
<path d="M121.8 290.0 122.2 289.2 122.6 288.5 123.0 288.0 123.4 288.2 123.8 288.5 124.2 288.8 124.6 289.1 125.0 289.5 125.4 289.4 125.8 289.2 126.2 288.9 126.6 289.6 127.0 290.3 127.4 290.4 127.8 289.0 128.2 287.5 128.6 286.9 129.0 287.1 129.4 287.2 129.8 286.9 130.2 286.4 130.6 285.9 131.0 286.1 131.4 286.3 131.8 286.3 132.2 286.0 132.6 285.0 133.0 283.7 133.4 282.6 133.8 281.3 134.2 280.7 134.6 280.1 135.0 279.5 135.4 278.4 135.8 277.2 136.2 275.5 136.6 272.4 137.0 269.1 137.4 267.1 137.8 266.0 138.2 264.6 138.6 262.1 139.0 259.4 139.4 256.6 139.8 254.0 140.2 251.3 140.6 248.8 141.0 246.2 141.4 243.4 141.8 240.7 142.2 237.8 142.6 235.0 143.0 232.1 143.4 229.3 143.8 226.4 144.2 223.6 144.6 220.7 145.0 218.0 145.4 215.2 145.8 212.6 146.2 210.0 146.6 207.6 147.0 205.3 147.4 203.1 147.8 201.1 148.2 199.3 148.6 197.7 149.0 196.3 149.4 195.1 149.8 194.2 150.2 193.6 150.6 193.4 151.0 194.5 151.4 197.0 151.8 200.1 152.2 203.6 152.6 207.3 153.0 212.1 153.4 217.0 153.8 221.8 154.2 226.5 154.6 231.1 155.0 235.5 155.4 239.7 155.8 243.7 156.2 247.4 156.6 251.0 157.0 254.3 157.4 257.3 157.8 260.0 158.2 262.6 158.6 265.4 159.0 268.1 159.4 270.6 159.8 272.6 160.2 274.5 160.6 276.0 161.0 277.4 161.4 278.5 161.8 278.7 162.2 278.7 162.6 278.5 163.0 278.0 163.4 277.5 163.8 278.3 164.2 280.2 164.6 282.2 165.0 281.7 165.4 280.4 165.8 279.1 166.2 278.8 166.6 278.5 167.0 278.4 167.4 279.0 167.8 279.6 168.2 280.0 168.6 280.3 169.0 280.5 169.4 280.2 169.8 279.7 170.2 279.2 170.6 281.1 171.0 283.0 171.4 284.0 171.8 282.2 172.2 280.5 172.6 280.1 173.0 280.9 173.4 281.8 173.8 281.8 174.2 281.5 174.6 281.1 175.0 282.5 175.4 283.9 175.8 285.0 176.2 285.3 176.6 285.5 177.0 285.2 177.4 284.3 177.8 283.3 178.2 283.1 178.6 283.0 179.0 283.0 179.4 282.2 179.8 281.4 180.2 280.8 180.6 280.8 181.0 280.9 181.4 281.3 181.8 282.2 182.2 283.1 182.6 283.9 183.0 284.7 183.4 285.4 183.8 284.6 184.2 283.8 184.6 283.6 185.0 285.5 185.4 287.2 185.8 287.3 186.2 285.5 186.6 283.7 187.0 283.6 187.4 283.9 187.8 284.2 188.2 283.1 188.6 282.2 189.0 281.9 189.4 282.7 189.8 283.3 190.2 283.2 190.6 282.8 191.0 282.4 191.4 281.9 191.8 281.5 192.2 281.2 192.6 280.9 193.0 280.6 193.4 280.3 193.8 279.9 194.2 279.5 194.6 279.1 195.0 278.6 195.4 278.0 195.8 277.3 196.2 276.6 196.6 275.7 197.0 274.6 197.4 273.3 197.8 271.6 198.2 269.7 198.6 267.3 199.0 264.6 199.4 261.3 199.8 257.6 200.2 253.6 200.6 249.5 201.0 245.5 201.4 242.3 201.8 240.9 202.2 242.8 202.6 246.0 203.0 249.5 203.4 252.7 203.8 255.4 204.2 257.4 204.6 258.7 205.0 259.3 205.4 259.3 205.8 259.0 206.2 258.3 206.6 257.5 207.0 256.8 207.4 256.4 207.8 256.7 208.2 257.4 208.6 258.5 209.0 259.7 209.4 261.0 209.8 262.3 210.2 263.4 210.6 264.4 211.0 265.2 211.4 265.8 211.8 266.3 212.2 266.5 212.6 266.7 213.0 266.9 213.4 267.1 213.8 267.4 214.2 267.8 214.6 268.4 215.0 269.1 215.4 269.9 215.8 270.7 216.2 271.6 216.6 272.5 217.0 273.4 217.4 274.3 217.8 275.1 218.2 275.8 218.6 276.5 219.0 277.1 219.4 277.7 219.8 278.2 220.2 278.7 220.6 279.1 221.0 279.5 221.4 279.8 221.8 280.0 222.2 280.1 222.6 280.0 223.0 279.7 223.4 279.3 223.8 278.9 224.2 278.5 224.6 278.6 225.0 279.3 225.4 280.2 225.8 281.2 226.2 282.1 226.6 282.8 227.0 283.3 227.4 283.6 227.8 283.9 228.2 284.1 228.6 284.3 229.0 284.4 229.4 284.5 229.8 284.6 230.2 284.7 230.6 284.8 231.0 284.8 231.4 284.9 231.8 285.0 232.2 285.0 232.6 285.0 233.0 285.1 233.4 285.1 233.8 285.1 234.2 285.1 234.6 285.1 235.0 285.1 235.4 285.1 235.8 285.0 236.2 284.9 236.6 284.8 237.0 284.7 237.4 284.6 237.8 284.5 238.2 284.4 238.6 284.3 239.0 284.1 239.4 284.0 239.8 283.8 240.2 283.6 240.6 283.4 241.0 283.2 241.4 283.0 241.8 282.7 242.2 282.5 242.6 282.2 243.0 281.9 243.4 281.7 243.8 281.4 244.2 281.1 244.6 280.7 245.0 280.4 245.4 280.1 245.8 279.7 246.2 279.4 246.6 279.1 247.0 278.7 247.4 278.4 247.8 278.0 248.2 277.7 248.6 277.3 249.0 277.0 249.4 276.6 249.8 276.3 250.2 276.0 250.6 275.7 251.0 275.4 251.4 275.1 251.8 274.8 252.2 274.5 252.6 274.3 253.0 274.0 253.4 273.8 253.8 273.6 254.2 273.4 254.6 273.2 255.0 273.0 255.4 272.9 255.8 272.8 256.2 272.7 256.6 272.6 257.0 272.5 257.4 272.5 257.8 272.4 258.2 272.4 258.6 272.4 259.0 272.4 259.4 272.4 259.8 272.5 260.2 272.5 260.6 272.6 261.0 272.6 261.4 272.7 261.8 272.8 262.2 272.8 262.6 272.9 263.0 273.0 263.4 273.0 263.8 273.1 264.2 273.1 264.6 273.2 265.0 273.3 265.4 273.3 265.8 273.4 266.2 273.4 266.6 273.4 267.0 273.4 267.4 273.3 267.8 273.0 268.2 272.6 268.6 272.0 269.0 271.0 269.4 269.5 269.8 267.6 270.2 265.2 270.6 262.5 271.0 259.6 271.4 256.9 271.8 254.6 272.2 253.1 272.6 252.6 273.0 253.1 273.4 254.3 273.8 256.2 274.2 258.5 274.6 260.9 275.0 263.3 275.4 265.4 275.8 267.1 276.2 268.2 276.6 268.8 277.0 268.8 277.4 268.3 277.8 267.5 278.2 266.5 278.6 265.4 279.0 264.4 279.4 263.7 279.8 263.3 280.2 263.4 280.6 263.9 281.0 264.7 281.4 265.9 281.8 267.3 282.2 268.9 282.6 270.6 283.0 272.4 283.4 274.3 283.8 276.0 284.2 277.7 284.6 279.2 285.0 280.5 285.4 281.6 285.8 282.6 286.2 283.5 286.6 284.2 287.0 284.9 287.4 285.5 287.8 286.0 288.2 286.5 288.6 287.0 289.0 287.4 289.4 287.8 289.8 288.2 290.2 288.6 290.6 288.9 291.0 289.3 291.4 289.6 291.8 290.0 292.2 290.2" fill="none" stroke="#6400a6" stroke-width="1.55" stroke-linejoin="round"/>
<path d="M31.5 245.5 31.9 246.5 32.3 247.4 32.7 248.2 33.1 249.0 33.5 249.8 33.9 250.5 34.3 251.1 34.7 251.8 35.1 252.4 35.5 252.9 35.9 253.5 36.3 254.0 36.7 254.5 37.1 255.0 37.5 255.5 37.9 255.9 38.3 256.4 38.7 256.8 39.1 257.3 39.5 257.7 39.9 258.2 40.3 258.6 40.7 259.0 41.1 259.5 41.5 259.9 41.9 260.3 42.3 260.7 42.7 261.1 43.1 261.4 43.5 261.7 43.9 262.0 44.3 262.2 44.7 262.4 45.1 262.5 45.5 262.6 45.9 262.7 46.3 262.7 46.7 262.6 47.1 262.2 47.5 261.3 47.9 259.3 48.3 256.8 48.7 257.9 49.1 260.1 49.5 261.4 49.9 261.8 50.3 261.9 50.7 261.9 51.1 261.8 51.5 261.7 51.9 261.6 52.3 261.5 52.7 261.5 53.1 261.4 53.5 261.4 53.9 261.3 54.3 261.3 54.7 261.3 55.1 261.2 55.5 261.2 55.9 260.8 56.3 259.6 56.7 256.6 57.1 251.9 57.5 254.2 57.9 258.2 58.3 259.7 58.7 258.8 59.1 256.2 59.5 256.1 59.9 258.2 60.3 257.6 60.7 252.2 61.1 241.8 61.5 247.1 61.9 255.4 62.3 258.8 62.7 259.6 63.1 259.4 63.5 258.8 63.9 258.1 64.3 257.2 64.7 256.2 65.1 255.2 65.5 254.1 65.9 253.2 66.3 252.5 66.7 252.5 67.1 252.9 67.5 253.4 67.9 254.1 68.3 254.8 68.7 255.5 69.1 256.2 69.5 256.9 69.9 257.5 70.3 258.0 70.7 258.4 71.1 258.7 71.5 258.9 71.9 259.0 72.3 259.0 72.7 258.9 73.1 258.8 73.5 258.5 73.9 258.2 74.3 257.8 74.7 257.4 75.1 257.4 75.5 257.7 75.9 257.9 76.3 258.1 76.7 258.3 77.1 258.5 77.5 258.7 77.9 258.9 78.3 259.1 78.7 259.3 79.1 259.4 79.5 259.6 79.9 259.7 80.3 259.9 80.7 260.1 81.1 260.2 81.5 260.3 81.9 260.4 82.3 260.6 82.7 260.7 83.1 260.9 83.5 261.2 83.9 261.2 84.3 261.2 84.7 261.2 85.1 261.3 85.5 261.5 85.9 261.7 86.3 261.9 86.7 261.9 87.1 262.0 87.5 262.1 87.9 262.1 88.3 262.2 88.7 262.3 89.1 262.5 89.5 262.6 89.9 262.8 90.3 262.8 90.7 262.8 91.1 262.7 91.5 262.6 91.9 262.5 92.3 262.4 92.7 262.4 93.1 262.7 93.5 263.0 93.9 263.2 94.3 263.2 94.7 263.1 95.1 263.0 95.5 262.6 95.9 261.8 96.3 260.8 96.7 260.4 97.1 261.6 97.5 263.0 97.9 264.1 98.3 264.9 98.7 264.7 99.1 264.1 99.5 263.7 99.9 263.5 100.3 263.4 100.7 263.5 101.1 263.6 101.5 263.8 101.9 263.9 102.3 263.9 102.7 263.9 103.1 263.9 103.5 264.2 103.9 264.4 104.3 264.6 104.7 264.4 105.1 264.2 105.5 264.0 105.9 264.1 106.3 264.4 106.7 264.7 107.1 264.8 107.5 264.6 107.9 264.4 108.3 264.3 108.7 264.5 109.1 264.7 109.5 264.9 109.9 264.7 110.3 264.7 110.7 264.6 111.1 265.0 111.5 265.8 111.9 266.7 112.3 266.4 112.7 265.6 113.1 265.0 113.5 264.8 113.9 264.8 114.3 265.0 114.7 265.1 115.1 265.4 115.5 265.6 115.9 265.9 116.3 265.8 116.7 265.6" fill="none" stroke="#5102a2" stroke-width="1.55" stroke-linejoin="round"/>
<path d="M121.8 271.1 122.2 269.3 122.6 267.6 123.0 266.3 123.4 266.6 123.8 266.9 124.2 267.1 124.6 267.2 125.0 267.4 125.4 268.5 125.8 269.9 126.2 271.3 126.6 269.2 127.0 267.2 127.4 266.0 127.8 267.5 128.2 269.1 128.6 269.4 129.0 268.6 129.4 267.8 129.8 267.0 130.2 266.1 130.6 265.2 131.0 265.8 131.4 266.4 131.8 266.8 132.2 266.5 132.6 265.6 133.0 264.4 133.4 263.3 133.8 262.2 134.2 260.9 134.6 259.4 135.0 257.9 135.4 255.6 135.8 253.2 136.2 250.8 136.6 249.1 137.0 247.3 137.4 245.8 137.8 244.3 138.2 242.6 138.6 239.4 139.0 235.9 139.4 232.6 139.8 230.1 140.2 227.4 140.6 224.2 141.0 220.8 141.4 217.8 141.8 214.7 142.2 211.5 142.6 208.3 143.0 205.1 143.4 201.9 143.8 198.6 144.2 195.4 144.6 192.3 145.0 189.1 145.4 186.1 145.8 183.1 146.2 180.3 146.6 177.5 147.0 174.9 147.4 172.5 147.8 170.2 148.2 168.2 148.6 166.4 149.0 164.8 149.4 163.5 149.8 162.5 150.2 161.8 150.6 161.5 151.0 162.8 151.4 165.6 151.8 169.2 152.2 173.1 152.6 177.3 153.0 182.8 153.4 188.3 153.8 193.8 154.2 199.1 154.6 204.3 155.0 209.3 155.4 214.0 155.8 218.5 156.2 222.8 156.6 226.8 157.0 230.6 157.4 234.0 157.8 237.2 158.2 240.4 158.6 243.6 159.0 246.9 159.4 249.4 159.8 250.8 160.2 251.6 160.6 253.7 161.0 256.3 161.4 258.9 161.8 259.5 162.2 259.8 162.6 259.7 163.0 258.6 163.4 257.4 163.8 257.1 164.2 257.5 164.6 257.9 165.0 258.6 165.4 259.4 165.8 260.2 166.2 261.1 166.6 262.0 167.0 262.5 167.4 261.7 167.8 261.0 168.2 260.4 168.6 259.9 169.0 259.5 169.4 259.7 169.8 260.1 170.2 260.5 170.6 260.2 171.0 259.9 171.4 259.7 171.8 259.6 172.2 259.4 172.6 259.7 173.0 260.4 173.4 261.1 173.8 262.3 174.2 263.7 174.6 265.1 175.0 264.5 175.4 263.9 175.8 263.6 176.2 263.7 176.6 263.8 177.0 263.6 177.4 263.1 177.8 262.6 178.2 262.0 178.6 261.4 179.0 260.7 179.4 261.6 179.8 262.6 180.2 263.5 180.6 264.3 181.0 265.1 181.4 264.9 181.8 263.8 182.2 262.6 182.6 262.0 183.0 261.7 183.4 261.3 183.8 262.5 184.2 263.7 184.6 264.4 185.0 263.8 185.4 263.0 185.8 263.0 186.2 263.6 186.6 264.2 187.0 264.2 187.4 264.1 187.8 264.0 188.2 263.4 188.6 263.0 189.0 262.7 189.4 262.7 189.8 262.7 190.2 262.6 190.6 262.3 191.0 262.1 191.4 261.8 191.8 261.6 192.2 261.3 192.6 261.1 193.0 260.8 193.4 260.5 193.8 260.1 194.2 259.7 194.6 259.2 195.0 258.7 195.4 258.1 195.8 257.5 196.2 256.7 196.6 255.8 197.0 254.7 197.4 253.3 197.8 251.7 198.2 249.7 198.6 247.3 199.0 244.5 199.4 241.2 199.8 237.4 200.2 233.3 200.6 229.1 201.0 225.1 201.4 221.8 201.8 220.4 202.2 222.4 202.6 225.6 203.0 229.2 203.4 232.5 203.8 235.3 204.2 237.4 204.6 238.7 205.0 239.3 205.4 239.4 205.8 239.1 206.2 238.4 206.6 237.6 207.0 236.9 207.4 236.5 207.8 236.7 208.2 237.5 208.6 238.5 209.0 239.8 209.4 241.1 209.8 242.3 210.2 243.4 210.6 244.4 211.0 245.2 211.4 245.8 211.8 246.2 212.2 246.4 212.6 246.6 213.0 246.7 213.4 246.9 213.8 247.1 214.2 247.6 214.6 248.1 215.0 248.8 215.4 249.6 215.8 250.5 216.2 251.4 216.6 252.3 217.0 253.2 217.4 254.1 217.8 254.9 218.2 255.6 218.6 256.3 219.0 256.9 219.4 257.4 219.8 258.0 220.2 258.4 220.6 258.8 221.0 259.2 221.4 259.5 221.8 259.7 222.2 259.7 222.6 259.6 223.0 259.2 223.4 258.6 223.8 258.0 224.2 257.6 224.6 257.6 225.0 258.4 225.4 259.4 225.8 260.5 226.2 261.5 226.6 262.2 227.0 262.8 227.4 263.2 227.8 263.5 228.2 263.6 228.6 263.8 229.0 263.9 229.4 264.0 229.8 264.1 230.2 264.2 230.6 264.2 231.0 264.3 231.4 264.3 231.8 264.4 232.2 264.4 232.6 264.4 233.0 264.5 233.4 264.5 233.8 264.5 234.2 264.4 234.6 264.4 235.0 264.4 235.4 264.3 235.8 264.3 236.2 264.2 236.6 264.1 237.0 264.0 237.4 263.8 237.8 263.7 238.2 263.6 238.6 263.4 239.0 263.2 239.4 263.0 239.8 262.8 240.2 262.6 240.6 262.4 241.0 262.1 241.4 261.9 241.8 261.6 242.2 261.3 242.6 261.0 243.0 260.7 243.4 260.4 243.8 260.0 244.2 259.7 244.6 259.3 245.0 258.9 245.4 258.5 245.8 258.1 246.2 257.7 246.6 257.3 247.0 256.9 247.4 256.5 247.8 256.1 248.2 255.7 248.6 255.3 249.0 254.9 249.4 254.5 249.8 254.2 250.2 253.8 250.6 253.4 251.0 253.1 251.4 252.7 251.8 252.4 252.2 252.1 252.6 251.8 253.0 251.5 253.4 251.2 253.8 251.0 254.2 250.8 254.6 250.6 255.0 250.4 255.4 250.2 255.8 250.1 256.2 250.0 256.6 249.9 257.0 249.8 257.4 249.7 257.8 249.7 258.2 249.7 258.6 249.7 259.0 249.7 259.4 249.7 259.8 249.7 260.2 249.8 260.6 249.8 261.0 249.9 261.4 250.0 261.8 250.1 262.2 250.1 262.6 250.2 263.0 250.3 263.4 250.4 263.8 250.4 264.2 250.5 264.6 250.6 265.0 250.6 265.4 250.7 265.8 250.7 266.2 250.8 266.6 250.8 267.0 250.8 267.4 250.7 267.8 250.5 268.2 250.1 268.6 249.5 269.0 248.6 269.4 247.3 269.8 245.5 270.2 243.3 270.6 240.8 271.0 238.1 271.4 235.5 271.8 233.4 272.2 232.0 272.6 231.6 273.0 232.0 273.4 233.2 273.8 235.0 274.2 237.1 274.6 239.5 275.0 241.7 275.4 243.7 275.8 245.3 276.2 246.4 276.6 247.0 277.0 247.1 277.4 246.8 277.8 246.1 278.2 245.3 278.6 244.4 279.0 243.6 279.4 243.0 279.8 242.7 280.2 242.9 280.6 243.4 281.0 244.3 281.4 245.4 281.8 246.8 282.2 248.3 282.6 249.9 283.0 251.6 283.4 253.4 283.8 255.1 284.2 256.7 284.6 258.1 285.0 259.4 285.4 260.5 285.8 261.5 286.2 262.4 286.6 263.1 287.0 263.8 287.4 264.5 287.8 265.0 288.2 265.5 288.6 266.0 289.0 266.5 289.4 266.9 289.8 267.4 290.2 267.8 290.6 268.1 291.0 268.5 291.4 268.9 291.8 269.2 292.2 269.4" fill="none" stroke="#5102a2" stroke-width="1.55" stroke-linejoin="round"/>
<path d="M31.5 225.5 31.9 226.2 32.3 226.8 32.7 227.4 33.1 228.0 33.5 228.6 33.9 229.1 34.3 229.6 34.7 230.0 35.1 230.5 35.5 230.9 35.9 231.3 36.3 231.7 36.7 232.1 37.1 232.4 37.5 232.8 37.9 233.2 38.3 233.5 38.7 233.9 39.1 234.3 39.5 234.7 39.9 235.1 40.3 235.5 40.7 235.9 41.1 236.3 41.5 236.7 41.9 237.1 42.3 237.4 42.7 237.8 43.1 238.1 43.5 238.4 43.9 238.6 44.3 238.8 44.7 239.0 45.1 239.1 45.5 239.1 45.9 239.2 46.3 239.1 46.7 239.0 47.1 238.7 47.5 237.8 47.9 236.1 48.3 234.0 48.7 234.8 49.1 236.6 49.5 237.6 49.9 237.9 50.3 237.9 50.7 237.8 51.1 237.7 51.5 237.6 51.9 237.4 52.3 237.3 52.7 237.2 53.1 237.2 53.5 237.1 53.9 237.0 54.3 237.0 54.7 236.9 55.1 236.9 55.5 236.8 55.9 236.6 56.3 235.7 56.7 233.6 57.1 230.3 57.5 231.9 57.9 234.7 58.3 235.7 58.7 235.0 59.1 232.9 59.5 232.8 59.9 234.4 60.3 233.8 60.7 229.1 61.1 220.2 61.5 224.9 61.9 232.0 62.3 235.0 62.7 235.8 63.1 235.8 63.5 235.5 63.9 235.1 64.3 234.6 64.7 234.0 65.1 233.5 65.5 232.9 65.9 232.4 66.3 232.0 66.7 231.9 67.1 232.1 67.5 232.4 67.9 232.8 68.3 233.2 68.7 233.6 69.1 233.9 69.5 234.2 69.9 234.5 70.3 234.7 70.7 234.8 71.1 234.9 71.5 234.9 71.9 234.8 72.3 234.6 72.7 234.4 73.1 234.0 73.5 233.6 73.9 233.1 74.3 232.5 74.7 232.0 75.1 232.0 75.5 232.3 75.9 232.6 76.3 232.8 76.7 233.1 77.1 233.3 77.5 233.6 77.9 233.8 78.3 234.0 78.7 234.2 79.1 234.4 79.5 234.6 79.9 234.8 80.3 235.0 80.7 235.3 81.1 235.5 81.5 235.7 81.9 235.8 82.3 235.9 82.7 236.1 83.1 236.3 83.5 236.6 83.9 236.8 84.3 237.0 84.7 237.3 85.1 237.3 85.5 237.2 85.9 237.0 86.3 237.1 86.7 237.6 87.1 238.2 87.5 238.5 87.9 238.3 88.3 238.0 88.7 237.6 89.1 237.8 89.5 237.9 89.9 238.1 90.3 238.1 90.7 238.1 91.1 238.0 91.5 238.1 91.9 238.5 92.3 238.8 92.7 239.0 93.1 238.8 93.5 238.6 93.9 238.4 94.3 238.6 94.7 238.8 95.1 239.0 95.5 238.7 95.9 238.2 96.3 237.3 96.7 237.0 97.1 238.0 97.5 239.1 97.9 240.1 98.3 241.3 98.7 241.6 99.1 241.7 99.5 240.7 99.9 239.9 100.3 239.2 100.7 239.2 101.1 239.4 101.5 239.6 101.9 239.8 102.3 240.0 102.7 240.2 103.1 240.3 103.5 240.3 103.9 240.3 104.3 240.3 104.7 240.2 105.1 240.1 105.5 240.0 105.9 240.3 106.3 240.7 106.7 241.1 107.1 241.3 107.5 241.1 107.9 240.9 108.3 240.8 108.7 240.8 109.1 240.8 109.5 240.8 109.9 240.7 110.3 240.7 110.7 240.7 111.1 241.1 111.5 242.0 111.9 242.9 112.3 242.7 112.7 241.9 113.1 241.4 113.5 241.2 113.9 241.6 114.3 242.1 114.7 242.5 115.1 242.1 115.5 241.7 115.9 241.4 116.3 241.4 116.7 241.5" fill="none" stroke="#3c049b" stroke-width="1.55" stroke-linejoin="round"/>
<path d="M121.8 242.6 122.2 242.6 122.6 242.5 123.0 242.9 123.4 244.5 123.8 246.2 124.2 246.5 124.6 245.6 125.0 244.7 125.4 245.0 125.8 245.8 126.2 246.6 126.6 246.3 127.0 246.0 127.4 245.5 127.8 244.2 128.2 243.0 128.6 242.4 129.0 242.4 129.4 242.5 129.8 242.5 130.2 242.5 130.6 242.5 131.0 241.7 131.4 240.9 131.8 240.5 132.2 241.4 132.6 241.4 133.0 240.3 133.4 238.4 133.8 236.4 134.2 234.6 134.6 232.8 135.0 230.9 135.4 228.5 135.8 226.1 136.2 223.8 136.6 222.1 137.0 220.2 137.4 218.3 137.8 216.2 138.2 213.9 138.6 210.9 139.0 207.7 139.4 204.5 139.8 201.7 140.2 198.6 140.6 195.4 141.0 192.1 141.4 188.7 141.8 185.3 142.2 181.9 142.6 178.4 143.0 174.9 143.4 171.4 143.8 167.9 144.2 164.4 144.6 161.0 145.0 157.6 145.4 154.3 145.8 151.1 146.2 148.0 146.6 145.0 147.0 142.1 147.4 139.5 147.8 137.1 148.2 134.9 148.6 133.0 149.0 131.3 149.4 129.9 149.8 128.8 150.2 128.1 150.6 127.8 151.0 129.2 151.4 132.2 151.8 136.0 152.2 140.3 152.6 144.8 153.0 150.7 153.4 156.7 153.8 162.6 154.2 168.4 154.6 174.0 155.0 179.3 155.4 184.5 155.8 189.3 156.2 193.9 156.6 198.3 157.0 202.3 157.4 206.0 157.8 209.3 158.2 212.5 158.6 216.0 159.0 219.6 159.4 222.4 159.8 224.3 160.2 225.7 160.6 227.2 161.0 228.7 161.4 230.1 161.8 231.0 162.2 231.6 162.6 232.3 163.0 233.0 163.4 233.7 163.8 234.0 164.2 233.8 164.6 233.6 165.0 233.4 165.4 233.1 165.8 232.8 166.2 233.1 166.6 233.4 167.0 233.5 167.4 233.3 167.8 233.0 168.2 232.8 168.6 232.7 169.0 232.6 169.4 233.2 169.8 234.1 170.2 234.9 170.6 234.8 171.0 234.8 171.4 234.8 171.8 235.2 172.2 235.6 172.6 236.4 173.0 237.6 173.4 238.8 173.8 238.4 174.2 237.4 174.6 236.3 175.0 236.0 175.4 235.7 175.8 235.3 176.2 235.0 176.6 234.7 177.0 235.1 177.4 236.1 177.8 237.0 178.2 237.4 178.6 237.5 179.0 237.6 179.4 238.2 179.8 238.8 180.2 239.1 180.6 238.7 181.0 238.3 181.4 238.1 181.8 238.1 182.2 238.1 182.6 237.6 183.0 237.0 183.4 236.4 183.8 236.2 184.2 236.0 184.6 236.1 185.0 237.3 185.4 238.4 185.8 238.5 186.2 237.7 186.6 236.9 187.0 237.2 187.4 237.7 187.8 238.1 188.2 237.4 188.6 236.9 189.0 236.6 189.4 236.9 189.8 237.1 190.2 237.1 190.6 237.1 191.0 236.9 191.4 236.4 191.8 236.0 192.2 235.7 192.6 235.4 193.0 235.1 193.4 234.8 193.8 234.4 194.2 234.0 194.6 233.6 195.0 233.1 195.4 232.5 195.8 231.8 196.2 231.0 196.6 230.1 197.0 229.0 197.4 227.6 197.8 226.0 198.2 224.0 198.6 221.5 199.0 218.6 199.4 215.2 199.8 211.4 200.2 207.2 200.6 202.9 201.0 198.8 201.4 195.5 201.8 194.0 202.2 196.1 202.6 199.4 203.0 203.1 203.4 206.6 203.8 209.4 204.2 211.5 204.6 212.9 205.0 213.6 205.4 213.7 205.8 213.4 206.2 212.7 206.6 211.9 207.0 211.2 207.4 210.8 207.8 211.0 208.2 211.7 208.6 212.8 209.0 214.0 209.4 215.3 209.8 216.5 210.2 217.7 210.6 218.6 211.0 219.4 211.4 219.9 211.8 220.3 212.2 220.5 212.6 220.6 213.0 220.7 213.4 220.9 213.8 221.1 214.2 221.5 214.6 222.1 215.0 222.7 215.4 223.5 215.8 224.4 216.2 225.3 216.6 226.3 217.0 227.2 217.4 228.0 217.8 228.8 218.2 229.6 218.6 230.3 219.0 230.9 219.4 231.4 219.8 231.9 220.2 232.4 220.6 232.8 221.0 233.1 221.4 233.4 221.8 233.6 222.2 233.6 222.6 233.4 223.0 233.0 223.4 232.4 223.8 231.7 224.2 231.3 224.6 231.3 225.0 232.0 225.4 233.1 225.8 234.2 226.2 235.2 226.6 236.0 227.0 236.6 227.4 236.9 227.8 237.2 228.2 237.4 228.6 237.5 229.0 237.6 229.4 237.7 229.8 237.8 230.2 237.8 230.6 237.9 231.0 237.9 231.4 238.0 231.8 238.0 232.2 238.0 232.6 238.0 233.0 238.0 233.4 238.0 233.8 238.0 234.2 237.9 234.6 237.9 235.0 237.8 235.4 237.8 235.8 237.7 236.2 237.5 236.6 237.4 237.0 237.3 237.4 237.1 237.8 237.0 238.2 236.8 238.6 236.6 239.0 236.4 239.4 236.2 239.8 236.0 240.2 235.7 240.6 235.4 241.0 235.1 241.4 234.8 241.8 234.5 242.2 234.2 242.6 233.8 243.0 233.4 243.4 233.0 243.8 232.6 244.2 232.2 244.6 231.8 245.0 231.3 245.4 230.8 245.8 230.4 246.2 229.9 246.6 229.4 247.0 228.9 247.4 228.5 247.8 228.0 248.2 227.5 248.6 227.0 249.0 226.5 249.4 226.1 249.8 225.6 250.2 225.2 250.6 224.7 251.0 224.3 251.4 223.9 251.8 223.5 252.2 223.1 252.6 222.8 253.0 222.4 253.4 222.1 253.8 221.8 254.2 221.5 254.6 221.3 255.0 221.1 255.4 220.9 255.8 220.7 256.2 220.6 256.6 220.4 257.0 220.4 257.4 220.3 257.8 220.2 258.2 220.2 258.6 220.2 259.0 220.2 259.4 220.3 259.8 220.3 260.2 220.4 260.6 220.5 261.0 220.5 261.4 220.6 261.8 220.7 262.2 220.8 262.6 220.9 263.0 221.0 263.4 221.1 263.8 221.2 264.2 221.3 264.6 221.4 265.0 221.5 265.4 221.5 265.8 221.6 266.2 221.7 266.6 221.7 267.0 221.7 267.4 221.7 267.8 221.6 268.2 221.4 268.6 221.1 269.0 220.6 269.4 219.9 269.8 218.9 270.2 217.6 270.6 216.2 271.0 214.7 271.4 213.3 271.8 212.1 272.2 211.3 272.6 211.1 273.0 211.4 273.4 212.2 273.8 213.2 274.2 214.5 274.6 215.9 275.0 217.3 275.4 218.5 275.8 219.5 276.2 220.2 276.6 220.6 277.0 220.7 277.4 220.6 277.8 220.3 278.2 219.8 278.6 219.4 279.0 219.0 279.4 218.8 279.8 218.8 280.2 219.1 280.6 219.7 281.0 220.4 281.4 221.4 281.8 222.4 282.2 223.7 282.6 224.9 283.0 226.2 283.4 227.6 283.8 229.0 284.2 230.2 284.6 231.4 285.0 232.5 285.4 233.4 285.8 234.3 286.2 235.1 286.6 235.8 287.0 236.4 287.4 237.0 287.8 237.6 288.2 238.1 288.6 238.6 289.0 239.0 289.4 239.5 289.8 239.9 290.2 240.2 290.6 240.6 291.0 241.0 291.4 241.3 291.8 241.6 292.2 241.8" fill="none" stroke="#3c049b" stroke-width="1.55" stroke-linejoin="round"/>
<path d="M31.5 199.0 31.9 199.6 32.3 200.2 32.7 200.7 33.1 201.2 33.5 201.7 33.9 202.1 34.3 202.5 34.7 202.9 35.1 203.3 35.5 203.7 35.9 204.0 36.3 204.4 36.7 204.7 37.1 205.1 37.5 205.4 37.9 205.7 38.3 206.1 38.7 206.4 39.1 206.8 39.5 207.1 39.9 207.5 40.3 207.9 40.7 208.2 41.1 208.6 41.5 209.0 41.9 209.4 42.3 209.7 42.7 210.0 43.1 210.4 43.5 210.6 43.9 210.9 44.3 211.0 44.7 211.2 45.1 211.3 45.5 211.3 45.9 211.3 46.3 211.3 46.7 211.2 47.1 210.9 47.5 210.2 47.9 208.8 48.3 207.0 48.7 207.7 49.1 209.1 49.5 209.8 49.9 210.0 50.3 210.0 50.7 209.9 51.1 209.8 51.5 209.6 51.9 209.5 52.3 209.4 52.7 209.3 53.1 209.2 53.5 209.1 53.9 209.1 54.3 209.0 54.7 209.0 55.1 208.9 55.5 208.9 55.9 208.6 56.3 207.9 56.7 206.1 57.1 203.3 57.5 204.6 57.9 207.1 58.3 208.0 58.7 207.5 59.1 206.1 59.5 206.0 59.9 207.1 60.3 206.3 60.7 202.1 61.1 194.2 61.5 198.4 61.9 204.8 62.3 207.5 62.7 208.3 63.1 208.4 63.5 208.3 63.9 208.2 64.3 208.0 64.7 207.8 65.1 207.5 65.5 207.3 65.9 207.1 66.3 206.9 66.7 206.9 67.1 206.9 67.5 207.0 67.9 207.1 68.3 207.2 68.7 207.3 69.1 207.4 69.5 207.4 69.9 207.4 70.3 207.3 70.7 207.2 71.1 207.0 71.5 206.8 71.9 206.4 72.3 205.9 72.7 205.4 73.1 204.7 73.5 203.9 73.9 203.0 74.3 202.1 74.7 201.1 75.1 201.2 75.5 201.5 75.9 201.9 76.3 202.4 76.7 202.8 77.1 203.2 77.5 203.5 77.9 203.9 78.3 204.3 78.7 204.6 79.1 204.9 79.5 205.2 79.9 205.5 80.3 205.8 80.7 206.1 81.1 206.3 81.5 206.6 81.9 206.9 82.3 207.1 82.7 207.3 83.1 207.4 83.5 207.4 83.9 207.6 84.3 207.7 84.7 207.9 85.1 208.1 85.5 208.3 85.9 208.6 86.3 208.8 86.7 209.0 87.1 209.1 87.5 209.2 87.9 209.1 88.3 209.0 88.7 208.9 89.1 209.0 89.5 209.1 89.9 209.2 90.3 209.3 90.7 209.6 91.1 209.8 91.5 209.8 91.9 209.7 92.3 209.5 92.7 209.5 93.1 209.8 93.5 210.0 93.9 210.3 94.3 210.2 94.7 210.1 95.1 210.0 95.5 209.9 95.9 209.6 96.3 209.2 96.7 209.0 97.1 209.6 97.5 210.3 97.9 210.8 98.3 211.2 98.7 210.9 99.1 210.4 99.5 210.3 99.9 210.3 100.3 210.3 100.7 210.5 101.1 210.6 101.5 210.8 101.9 210.8 102.3 210.7 102.7 210.5 103.1 210.5 103.5 210.7 103.9 210.8 104.3 211.0 104.7 210.9 105.1 210.8 105.5 210.7 105.9 210.7 106.3 210.7 106.7 210.7 107.1 210.7 107.5 210.8 107.9 210.9 108.3 211.0 108.7 211.1 109.1 211.3 109.5 211.4 109.9 211.6 110.3 211.8 110.7 212.1 111.1 212.4 111.5 213.0 111.9 213.7 112.3 213.4 112.7 212.6 113.1 212.1 113.5 211.8 113.9 211.8 114.3 211.8 114.7 211.8 115.1 211.9 115.5 212.0 115.9 212.1 116.3 212.1 116.7 212.0" fill="none" stroke="#260692" stroke-width="1.55" stroke-linejoin="round"/>
<path d="M121.8 212.7 122.2 213.4 122.6 214.1 123.0 214.6 123.4 214.3 123.8 214.0 124.2 214.7 124.6 216.3 125.0 217.9 125.4 217.1 125.8 215.4 126.2 213.7 126.6 212.9 127.0 212.1 127.4 211.8 127.8 212.8 128.2 213.9 128.6 213.8 129.0 212.5 129.4 211.3 129.8 211.0 130.2 211.0 130.6 211.0 131.0 210.9 131.4 210.9 131.8 211.2 132.2 212.7 132.6 213.4 133.0 212.0 133.4 208.9 133.8 205.6 134.2 204.4 134.6 203.9 135.0 203.3 135.4 200.8 135.8 198.3 136.2 195.7 136.6 193.6 137.0 191.3 137.4 188.8 137.8 186.2 138.2 183.4 138.6 180.5 139.0 177.4 139.4 174.3 139.8 171.3 140.2 168.1 140.6 164.5 141.0 160.7 141.4 157.2 141.8 153.7 142.2 150.2 142.6 146.6 143.0 142.9 143.4 139.3 143.8 135.7 144.2 132.1 144.6 128.5 145.0 125.0 145.4 121.5 145.8 118.2 146.2 114.9 146.6 111.8 147.0 108.9 147.4 106.2 147.8 103.7 148.2 101.4 148.6 99.4 149.0 97.7 149.4 96.2 149.8 95.1 150.2 94.3 150.6 94.0 151.0 95.5 151.4 98.6 151.8 102.6 152.2 107.0 152.6 111.7 153.0 117.9 153.4 124.1 153.8 130.2 154.2 136.2 154.6 142.0 155.0 147.6 155.4 152.9 155.8 157.9 156.2 162.7 156.6 167.2 157.0 171.4 157.4 175.5 157.8 178.9 158.2 181.9 158.6 185.0 159.0 187.8 159.4 190.5 159.8 193.1 160.2 195.5 160.6 198.0 161.0 200.4 161.4 202.6 161.8 202.9 162.2 202.9 162.6 202.7 163.0 202.0 163.4 201.3 163.8 201.2 164.2 201.6 164.6 202.0 165.0 203.1 165.4 204.3 165.8 205.6 166.2 205.4 166.6 205.2 167.0 204.8 167.4 203.9 167.8 203.0 168.2 203.0 168.6 204.1 169.0 205.2 169.4 205.3 169.8 205.1 170.2 204.9 170.6 205.0 171.0 205.1 171.4 205.3 171.8 205.6 172.2 205.9 172.6 205.8 173.0 205.2 173.4 204.6 173.8 204.5 174.2 204.6 174.6 204.6 175.0 205.5 175.4 206.4 175.8 206.9 176.2 205.9 176.6 205.0 177.0 204.9 177.4 205.8 177.8 206.6 178.2 207.1 178.6 207.6 179.0 208.0 179.4 207.8 179.8 207.6 180.2 207.5 180.6 207.6 181.0 207.8 181.4 208.0 181.8 208.3 182.2 208.6 182.6 208.1 183.0 207.3 183.4 206.5 183.8 206.7 184.2 206.9 184.6 207.2 185.0 207.8 185.4 208.2 185.8 208.9 186.2 209.9 186.6 210.7 187.0 210.9 187.4 210.8 187.8 210.7 188.2 209.5 188.6 208.5 189.0 207.8 189.4 207.6 189.8 207.3 190.2 207.2 190.6 207.1 191.0 206.9 191.4 206.6 191.8 206.4 192.2 206.1 192.6 205.9 193.0 205.6 193.4 205.3 193.8 204.9 194.2 204.5 194.6 204.0 195.0 203.5 195.4 202.9 195.8 202.3 196.2 201.5 196.6 200.6 197.0 199.4 197.4 198.1 197.8 196.4 198.2 194.4 198.6 192.0 199.0 189.1 199.4 185.7 199.8 181.8 200.2 177.6 200.6 173.3 201.0 169.2 201.4 165.8 201.8 164.4 202.2 166.4 202.6 169.8 203.0 173.5 203.4 177.0 203.8 179.8 204.2 182.0 204.6 183.4 205.0 184.0 205.4 184.1 205.8 183.8 206.2 183.1 206.6 182.3 207.0 181.6 207.4 181.2 207.8 181.4 208.2 182.2 208.6 183.2 209.0 184.4 209.4 185.7 209.8 186.9 210.2 188.1 210.6 189.0 211.0 189.7 211.4 190.3 211.8 190.6 212.2 190.8 212.6 190.9 213.0 191.0 213.4 191.1 213.8 191.3 214.2 191.7 214.6 192.3 215.0 193.0 215.4 193.8 215.8 194.6 216.2 195.6 216.6 196.5 217.0 197.4 217.4 198.3 217.8 199.1 218.2 199.9 218.6 200.6 219.0 201.2 219.4 201.7 219.8 202.2 220.2 202.7 220.6 203.1 221.0 203.5 221.4 203.7 221.8 203.9 222.2 203.9 222.6 203.7 223.0 203.2 223.4 202.6 223.8 201.9 224.2 201.4 224.6 201.4 225.0 202.2 225.4 203.3 225.8 204.4 226.2 205.4 226.6 206.2 227.0 206.8 227.4 207.2 227.8 207.4 228.2 207.6 228.6 207.7 229.0 207.8 229.4 207.9 229.8 208.0 230.2 208.0 230.6 208.1 231.0 208.1 231.4 208.2 231.8 208.2 232.2 208.2 232.6 208.2 233.0 208.2 233.4 208.1 233.8 208.1 234.2 208.0 234.6 208.0 235.0 207.9 235.4 207.8 235.8 207.7 236.2 207.6 236.6 207.5 237.0 207.3 237.4 207.2 237.8 207.0 238.2 206.8 238.6 206.6 239.0 206.4 239.4 206.1 239.8 205.8 240.2 205.6 240.6 205.3 241.0 204.9 241.4 204.6 241.8 204.2 242.2 203.9 242.6 203.5 243.0 203.0 243.4 202.6 243.8 202.2 244.2 201.7 244.6 201.2 245.0 200.7 245.4 200.2 245.8 199.7 246.2 199.2 246.6 198.7 247.0 198.1 247.4 197.6 247.8 197.1 248.2 196.6 248.6 196.0 249.0 195.5 249.4 195.0 249.8 194.5 250.2 194.0 250.6 193.6 251.0 193.1 251.4 192.7 251.8 192.2 252.2 191.8 252.6 191.5 253.0 191.1 253.4 190.8 253.8 190.4 254.2 190.1 254.6 189.9 255.0 189.6 255.4 189.4 255.8 189.2 256.2 189.1 256.6 189.0 257.0 188.9 257.4 188.8 257.8 188.7 258.2 188.7 258.6 188.7 259.0 188.7 259.4 188.7 259.8 188.8 260.2 188.8 260.6 188.9 261.0 189.0 261.4 189.1 261.8 189.2 262.2 189.3 262.6 189.4 263.0 189.4 263.4 189.5 263.8 189.6 264.2 189.7 264.6 189.8 265.0 189.9 265.4 190.0 265.8 190.0 266.2 190.1 266.6 190.1 267.0 190.2 267.4 190.2 267.8 190.2 268.2 190.2 268.6 190.1 269.0 189.9 269.4 189.6 269.8 189.2 270.2 188.7 270.6 188.1 271.0 187.5 271.4 186.9 271.8 186.4 272.2 186.2 272.6 186.1 273.0 186.3 273.4 186.7 273.8 187.3 274.2 187.9 274.6 188.6 275.0 189.3 275.4 190.0 275.8 190.6 276.2 191.0 276.6 191.4 277.0 191.6 277.4 191.8 277.8 191.9 278.2 192.0 278.6 192.1 279.0 192.2 279.4 192.4 279.8 192.7 280.2 193.1 280.6 193.6 281.0 194.2 281.4 194.9 281.8 195.7 282.2 196.5 282.6 197.3 283.0 198.1 283.4 199.1 283.8 200.0 284.2 200.9 284.6 201.8 285.0 202.6 285.4 203.3 285.8 204.0 286.2 204.7 286.6 205.3 287.0 205.9 287.4 206.4 287.8 206.9 288.2 207.4 288.6 207.9 289.0 208.3 289.4 208.7 289.8 209.1 290.2 209.4 290.6 209.8 291.0 210.1 291.4 210.4 291.8 210.7 292.2 210.9" fill="none" stroke="#260692" stroke-width="1.55" stroke-linejoin="round"/>
<path d="M31.5 171.5 31.9 171.9 32.3 172.2 32.7 172.5 33.1 172.8 33.5 173.1 33.9 173.4 34.3 173.6 34.7 173.9 35.1 174.1 35.5 174.4 35.9 174.6 36.3 174.8 36.7 175.0 37.1 175.3 37.5 175.5 37.9 175.7 38.3 176.0 38.7 176.2 39.1 176.5 39.5 176.8 39.9 177.1 40.3 177.4 40.7 177.7 41.1 178.0 41.5 178.4 41.9 178.7 42.3 179.0 42.7 179.3 43.1 179.5 43.5 179.8 43.9 179.9 44.3 180.1 44.7 180.2 45.1 180.3 45.5 180.3 45.9 180.3 46.3 180.2 46.7 180.1 47.1 179.8 47.5 179.2 47.9 178.1 48.3 176.8 48.7 177.2 49.1 178.2 49.5 178.7 49.9 178.8 50.3 178.7 50.7 178.6 51.1 178.4 51.5 178.3 51.9 178.2 52.3 178.1 52.7 177.9 53.1 177.8 53.5 177.8 53.9 177.7 54.3 177.6 54.7 177.6 55.1 177.5 55.5 177.5 55.9 177.3 56.3 176.8 56.7 175.6 57.1 173.7 57.5 174.6 57.9 176.2 58.3 176.9 58.7 176.6 59.1 175.7 59.5 175.7 59.9 176.4 60.3 176.2 60.7 174.4 61.1 171.0 61.5 172.8 61.9 175.6 62.3 176.8 62.7 177.2 63.1 177.2 63.5 177.1 63.9 177.1 64.3 177.0 64.7 176.8 65.1 176.7 65.5 176.6 65.9 176.5 66.3 176.4 66.7 176.3 67.1 176.3 67.5 176.3 67.9 176.3 68.3 176.3 68.7 176.3 69.1 176.2 69.5 176.1 69.9 175.9 70.3 175.7 70.7 175.3 71.1 174.9 71.5 174.4 71.9 173.8 72.3 173.0 72.7 172.1 73.1 171.0 73.5 169.7 73.9 168.3 74.3 166.7 74.7 165.2 75.1 165.3 75.5 165.9 75.9 166.5 76.3 167.1 76.7 167.8 77.1 168.4 77.5 169.0 77.9 169.5 78.3 170.1 78.7 170.6 79.1 171.1 79.5 171.6 79.9 172.0 80.3 172.5 80.7 172.9 81.1 173.4 81.5 173.8 81.9 174.1 82.3 174.5 82.7 174.8 83.1 175.1 83.5 175.5 83.9 175.7 84.3 176.0 84.7 176.2 85.1 176.4 85.5 176.6 85.9 176.8 86.3 177.0 86.7 177.3 87.1 177.5 87.5 177.7 87.9 177.7 88.3 177.6 88.7 177.6 89.1 177.8 89.5 178.1 89.9 178.3 90.3 178.5 90.7 178.7 91.1 178.9 91.5 178.9 91.9 178.8 92.3 178.7 92.7 178.7 93.1 178.8 93.5 178.9 93.9 178.9 94.3 179.2 94.7 179.5 95.1 179.7 95.5 179.8 95.9 179.6 96.3 179.4 96.7 179.3 97.1 179.8 97.5 180.2 97.9 180.6 98.3 180.7 98.7 180.5 99.1 180.2 99.5 180.2 99.9 180.3 100.3 180.4 100.7 180.4 101.1 180.4 101.5 180.3 101.9 180.3 102.3 180.4 102.7 180.4 103.1 180.5 103.5 180.8 103.9 181.0 104.3 181.3 104.7 181.1 105.1 180.9 105.5 180.8 105.9 180.7 106.3 180.7 106.7 180.7 107.1 180.8 107.5 181.0 107.9 181.2 108.3 181.4 108.7 181.4 109.1 181.4 109.5 181.4 109.9 181.6 110.3 181.8 110.7 182.0 111.1 182.3 111.5 182.9 111.9 183.6 112.3 183.5 112.7 183.1 113.1 183.1 113.5 183.1 113.9 183.0 114.3 182.9 114.7 182.8 115.1 182.9 115.5 183.0 115.9 183.0 116.3 183.2 116.7 183.4" fill="none" stroke="#0d0887" stroke-width="1.55" stroke-linejoin="round"/>
<path d="M121.8 186.0 122.2 185.1 122.6 184.1 123.0 183.4 123.4 183.8 123.8 184.2 124.2 184.2 124.6 183.9 125.0 183.6 125.4 183.8 125.8 184.1 126.2 184.4 126.6 184.5 127.0 184.6 127.4 184.7 127.8 184.7 128.2 184.8 128.6 184.6 129.0 184.4 129.4 184.2 129.8 183.6 130.2 183.0 130.6 182.3 131.0 182.9 131.4 183.4 131.8 183.8 132.2 183.5 132.6 182.5 133.0 181.1 133.4 179.8 133.8 178.4 134.2 176.7 134.6 174.9 135.0 173.0 135.4 170.2 135.8 167.4 136.2 164.8 136.6 163.2 137.0 161.4 137.4 158.7 137.8 155.3 138.2 151.9 138.6 149.4 139.0 146.9 139.4 144.1 139.8 140.6 140.2 137.2 140.6 133.8 141.0 130.5 141.4 126.9 141.8 123.4 142.2 119.7 142.6 116.1 143.0 112.4 143.4 108.7 143.8 105.0 144.2 101.4 144.6 97.7 145.0 94.2 145.4 90.7 145.8 87.3 146.2 84.0 146.6 80.8 147.0 77.8 147.4 75.1 147.8 72.6 148.2 70.3 148.6 68.2 149.0 66.5 149.4 65.0 149.8 63.9 150.2 63.1 150.6 62.8 151.0 64.3 151.4 67.5 151.8 71.5 152.2 75.9 152.6 80.7 153.0 87.0 153.4 93.3 153.8 99.5 154.2 105.6 154.6 111.5 155.0 117.2 155.4 122.6 155.8 127.7 156.2 132.6 156.6 137.1 157.0 141.4 157.4 145.4 157.8 149.0 158.2 152.3 158.6 155.3 159.0 158.0 159.4 161.2 159.8 165.1 160.2 169.1 160.6 172.3 161.0 175.1 161.4 177.2 161.8 175.5 162.2 173.5 162.6 172.1 163.0 172.7 163.4 173.2 163.8 173.9 164.2 174.8 164.6 175.6 165.0 174.9 165.4 173.7 165.8 172.5 166.2 172.9 166.6 173.3 167.0 173.7 167.4 174.1 167.8 174.5 168.2 174.7 168.6 174.6 169.0 174.5 169.4 174.9 169.8 175.4 170.2 175.9 170.6 175.2 171.0 174.4 171.4 174.1 171.8 175.2 172.2 176.3 172.6 177.0 173.0 177.3 173.4 177.5 173.8 176.9 174.2 175.9 174.6 174.9 175.0 175.7 175.4 176.5 175.8 177.5 176.2 179.2 176.6 180.9 177.0 181.1 177.4 179.9 177.8 178.6 178.2 177.5 178.6 176.4 179.0 175.3 179.4 177.1 179.8 178.9 180.2 180.3 180.6 180.2 181.0 180.1 181.4 179.7 181.8 178.8 182.2 178.0 182.6 177.6 183.0 177.3 183.4 177.1 183.8 177.3 184.2 177.5 184.6 177.8 185.0 178.3 185.4 178.8 185.8 179.0 186.2 178.9 186.6 178.8 187.0 178.6 187.4 178.4 187.8 178.2 188.2 178.9 188.6 179.4 189.0 179.5 189.4 178.5 189.8 177.8 190.2 177.5 190.6 177.6 191.0 177.5 191.4 177.2 191.8 177.0 192.2 176.7 192.6 176.4 193.0 176.1 193.4 175.8 193.8 175.4 194.2 175.0 194.6 174.6 195.0 174.1 195.4 173.5 195.8 172.8 196.2 172.0 196.6 171.1 197.0 169.9 197.4 168.6 197.8 166.9 198.2 164.8 198.6 162.3 199.0 159.3 199.4 155.8 199.8 151.9 200.2 147.5 200.6 143.1 201.0 138.9 201.4 135.4 201.8 133.9 202.2 136.1 202.6 139.6 203.0 143.5 203.4 147.1 203.8 150.0 204.2 152.3 204.6 153.7 205.0 154.5 205.4 154.6 205.8 154.3 206.2 153.6 206.6 152.9 207.0 152.2 207.4 151.8 207.8 152.0 208.2 152.7 208.6 153.7 209.0 154.9 209.4 156.2 209.8 157.4 210.2 158.5 210.6 159.5 211.0 160.2 211.4 160.7 211.8 161.1 212.2 161.2 212.6 161.3 213.0 161.3 213.4 161.4 213.8 161.6 214.2 162.0 214.6 162.6 215.0 163.3 215.4 164.1 215.8 165.0 216.2 165.9 216.6 166.9 217.0 167.8 217.4 168.7 217.8 169.5 218.2 170.3 218.6 171.0 219.0 171.6 219.4 172.2 219.8 172.7 220.2 173.1 220.6 173.5 221.0 173.9 221.4 174.1 221.8 174.3 222.2 174.3 222.6 174.0 223.0 173.5 223.4 172.9 223.8 172.1 224.2 171.6 224.6 171.6 225.0 172.4 225.4 173.5 225.8 174.7 226.2 175.7 226.6 176.5 227.0 177.1 227.4 177.5 227.8 177.8 228.2 177.9 228.6 178.1 229.0 178.2 229.4 178.2 229.8 178.3 230.2 178.3 230.6 178.4 231.0 178.4 231.4 178.4 231.8 178.4 232.2 178.4 232.6 178.4 233.0 178.4 233.4 178.3 233.8 178.3 234.2 178.2 234.6 178.2 235.0 178.1 235.4 178.0 235.8 177.8 236.2 177.7 236.6 177.6 237.0 177.4 237.4 177.2 237.8 177.0 238.2 176.8 238.6 176.5 239.0 176.3 239.4 176.0 239.8 175.7 240.2 175.4 240.6 175.0 241.0 174.7 241.4 174.3 241.8 173.9 242.2 173.5 242.6 173.0 243.0 172.5 243.4 172.0 243.8 171.5 244.2 171.0 244.6 170.5 245.0 169.9 245.4 169.4 245.8 168.8 246.2 168.2 246.6 167.6 247.0 167.0 247.4 166.4 247.8 165.9 248.2 165.3 248.6 164.7 249.0 164.1 249.4 163.6 249.8 163.0 250.2 162.5 250.6 162.0 251.0 161.5 251.4 161.0 251.8 160.5 252.2 160.1 252.6 159.7 253.0 159.3 253.4 158.9 253.8 158.6 254.2 158.2 254.6 157.9 255.0 157.7 255.4 157.5 255.8 157.2 256.2 157.1 256.6 156.9 257.0 156.8 257.4 156.7 257.8 156.7 258.2 156.6 258.6 156.6 259.0 156.6 259.4 156.6 259.8 156.7 260.2 156.7 260.6 156.8 261.0 156.8 261.4 156.9 261.8 157.0 262.2 157.1 262.6 157.2 263.0 157.3 263.4 157.4 263.8 157.5 264.2 157.6 264.6 157.6 265.0 157.7 265.4 157.8 265.8 157.9 266.2 157.9 266.6 158.0 267.0 158.0 267.4 158.1 267.8 158.1 268.2 158.1 268.6 158.1 269.0 158.1 269.4 158.0 269.8 157.9 270.2 157.7 270.6 157.5 271.0 157.4 271.4 157.2 271.8 157.0 272.2 157.0 272.6 157.1 273.0 157.2 273.4 157.5 273.8 157.8 274.2 158.1 274.6 158.5 275.0 158.9 275.4 159.3 275.8 159.6 276.2 159.9 276.6 160.2 277.0 160.4 277.4 160.6 277.8 160.8 278.2 161.0 278.6 161.2 279.0 161.5 279.4 161.8 279.8 162.2 280.2 162.7 280.6 163.2 281.0 163.9 281.4 164.6 281.8 165.3 282.2 166.1 282.6 166.9 283.0 167.7 283.4 168.6 283.8 169.5 284.2 170.3 284.6 171.1 285.0 171.9 285.4 172.6 285.8 173.3 286.2 174.0 286.6 174.6 287.0 175.1 287.4 175.7 287.8 176.2 288.2 176.7 288.6 177.1 289.0 177.5 289.4 177.9 289.8 178.3 290.2 178.7 290.6 179.0 291.0 179.3 291.4 179.6 291.8 179.8 292.2 180.1" fill="none" stroke="#0d0887" stroke-width="1.55" stroke-linejoin="round"/>
<rect x="69" y="159.6" width="12.5" height="203.7" fill="#f9b56a" fill-opacity="0.34"/>
<rect x="154.2" y="373.7" width="55.6" height="127.2" fill="#f9b56a" fill-opacity="0.34"/>
<line x1="150.60" y1="59.20" x2="150.60" y2="362.00" stroke="#2a7de1" stroke-width="1.20" stroke-dasharray="3.5 2.2"/>
<line x1="146.30" y1="67.00" x2="146.30" y2="372.00" stroke="#1faa4a" stroke-width="1.20" stroke-dasharray="3.5 2.2"/>
<line x1="197.60" y1="138.30" x2="197.60" y2="363.00" stroke="#2a7de1" stroke-width="1.20" stroke-dasharray="3.5 2.2"/>
<line x1="201.70" y1="119.60" x2="201.70" y2="362.00" stroke="#2a7de1" stroke-width="1.20" stroke-dasharray="3.5 2.2"/>
<line x1="207.50" y1="141.80" x2="207.50" y2="372.00" stroke="#1faa4a" stroke-width="1.20" stroke-dasharray="3.5 2.2"/>
<line x1="214.40" y1="159.60" x2="214.40" y2="375.00" stroke="#1faa4a" stroke-width="1.20" stroke-dasharray="3.5 2.2"/>
<line x1="256.60" y1="151.30" x2="256.60" y2="364.00" stroke="#7a44b8" stroke-width="0.90" stroke-dasharray="3.5 2.2"/>
<line x1="274.20" y1="151.30" x2="274.20" y2="340.00" stroke="#7a44b8" stroke-width="0.90" stroke-dasharray="3.5 2.2"/>
<line x1="189.80" y1="378.50" x2="189.80" y2="498.00" stroke="#555" stroke-width="1.00" stroke-dasharray="3.5 2.2"/>
<path d="M31.5 9 H292.3 V517.4 H31.5 Z" fill="none" stroke="#3a3a3a" stroke-width="1"/>
<rect x="114.5" y="6" width="8" height="6" fill="#fff"/>
<path d="M114.8 12 L118.2 6 M118.6 12 L122 6" stroke="#333" stroke-width="0.9"/>
<rect x="114.5" y="514" width="8" height="7" fill="#fff"/>
<path d="M114.8 521 L118.6 514 M118.9 521 L122.7 514" stroke="#333" stroke-width="0.9"/>
<line x1="31.50" y1="517.4" x2="31.50" y2="521" stroke="#3a3a3a" stroke-width="1"/>
<line x1="80.20" y1="517.4" x2="80.20" y2="521" stroke="#3a3a3a" stroke-width="1"/>
<line x1="146.00" y1="517.4" x2="146.00" y2="521" stroke="#3a3a3a" stroke-width="1"/>
<line x1="194.40" y1="517.4" x2="194.40" y2="521" stroke="#3a3a3a" stroke-width="1"/>
<line x1="243.00" y1="517.4" x2="243.00" y2="521" stroke="#3a3a3a" stroke-width="1"/>
<line x1="292.30" y1="517.4" x2="292.30" y2="521" stroke="#3a3a3a" stroke-width="1"/>
<line x1="55.70" y1="517.4" x2="55.70" y2="519.6" stroke="#3a3a3a" stroke-width="1"/>
<line x1="104.70" y1="517.4" x2="104.70" y2="519.6" stroke="#3a3a3a" stroke-width="1"/>
<line x1="170.20" y1="517.4" x2="170.20" y2="519.6" stroke="#3a3a3a" stroke-width="1"/>
<line x1="218.70" y1="517.4" x2="218.70" y2="519.6" stroke="#3a3a3a" stroke-width="1"/>
<line x1="267.60" y1="517.4" x2="267.60" y2="519.6" stroke="#3a3a3a" stroke-width="1"/>
<text x="31.50" y="534.00" font-size="13.80" fill="#111" text-anchor="middle" font-weight="normal" >2200</text>
<text x="80.20" y="534.00" font-size="13.80" fill="#111" text-anchor="middle" font-weight="normal" >2000</text>
<text x="146.00" y="534.00" font-size="13.80" fill="#111" text-anchor="middle" font-weight="normal" >1600</text>
<text x="194.40" y="534.00" font-size="13.80" fill="#111" text-anchor="middle" font-weight="normal" >1400</text>
<text x="243.00" y="534.00" font-size="13.80" fill="#111" text-anchor="middle" font-weight="normal" >1200</text>
<text x="292.30" y="534.00" font-size="13.80" fill="#111" text-anchor="middle" font-weight="normal" >1000</text>
<text x="161.50" y="557.00" font-size="13.80" fill="#111" text-anchor="middle" font-weight="normal" >Wavenumber (cm<tspan dy="-5" font-size="9">-1</tspan><tspan dy="5">)</tspan></text>
<text x="0.00" y="0.00" font-size="13.20" fill="#111" text-anchor="middle" font-weight="normal" transform="translate(22.2 262.5) rotate(-90)">Absorbance (a.u.)</text>
<path d="M47.6 25.7 V43.2 M46.1 25.7 H49.1 M46.1 43.2 H49.1" stroke="#111" stroke-width="1.3" fill="none"/>
<text x="55.00" y="40.00" font-size="17.00" fill="#111" text-anchor="start" font-weight="normal" >0.05</text>
<rect x="176.1" y="11.6" width="113.9" height="40.3" fill="#dde7f7"/>
<text x="183.30" y="28.70" font-size="13.60" fill="#111" text-anchor="start" font-weight="normal" >CO<tspan dy="3" font-size="9.5">2</tspan><tspan dy="-3"> adsorption</tspan></text>
<text x="183.30" y="44.90" font-size="13.60" fill="#111" text-anchor="start" font-weight="normal" >&amp; hydrogenation</text>
<text x="66.00" y="113.30" font-size="9.70" fill="#111" text-anchor="start" font-weight="normal" >CO<tspan dy="-0.8" font-size="8" font-weight="bold">*</tspan></text>
<text x="164.20" y="100.90" font-size="9.70" fill="#111" text-anchor="start" font-weight="normal" >bi-HCOO<tspan dy="-0.8" font-size="8" font-weight="bold">*</tspan></text>
<text x="259.50" y="77.10" font-size="10.00" fill="#7a44b8" text-anchor="start" font-weight="normal" >H<tspan dy="2.5" font-size="7">3</tspan><tspan dy="-2.5">CO</tspan><tspan dy="-2.5" font-size="7.5">*</tspan></text>
<text x="220.60" y="469.60" font-size="10.00" fill="#111" text-anchor="start" font-weight="normal" >m-CO<tspan dy="2.5" font-size="7">3</tspan><tspan dy="-4.5" font-size="9">*</tspan></text>
<text x="0.00" y="0.00" font-size="7.20" fill="#7a44b8" text-anchor="end" font-weight="normal" transform="translate(261.2 128.3) rotate(-90)"><tspan font-size="7.5">*</tspan><tspan dx="0.8">1148</tspan></text>
<text x="0.00" y="0.00" font-size="7.20" fill="#7a44b8" text-anchor="end" font-weight="normal" transform="translate(279.2 128.3) rotate(-90)"><tspan font-size="7.5">*</tspan><tspan dx="0.8">1075</tspan></text>
<line x1="142.10" y1="37.60" x2="142.30" y2="51.70" stroke="#4e5e76" stroke-width="3.00"/>
<line x1="158.10" y1="37.60" x2="158.10" y2="51.70" stroke="#4e5e76" stroke-width="3.00"/>
<circle cx="142.30" cy="51.70" r="6.20" fill="url(#gP)" stroke="#e0708a" stroke-width="0.6"/>
<circle cx="158.10" cy="51.70" r="6.20" fill="url(#gP)" stroke="#e0708a" stroke-width="0.6"/>
<circle cx="150.10" cy="16.90" r="4.00" fill="url(#gH)" stroke="#c4c4c4" stroke-width="0.6"/>
<circle cx="150.10" cy="27.60" r="6.00" fill="url(#gC)" stroke="#8a94a8" stroke-width="0.6"/>
<circle cx="142.10" cy="37.60" r="5.80" fill="url(#gO)" stroke="#a83a3a" stroke-width="0.6"/>
<circle cx="158.10" cy="37.60" r="5.80" fill="url(#gO)" stroke="#a83a3a" stroke-width="0.6"/>
<line x1="150.10" y1="19.90" x2="150.10" y2="22.90" stroke="#d01010" stroke-width="1.80"/>
<line x1="144.60" y1="33.60" x2="146.60" y2="31.60" stroke="#d01010" stroke-width="1.80"/>
<line x1="155.60" y1="33.60" x2="153.60" y2="31.60" stroke="#d01010" stroke-width="1.80"/>
<line x1="74.30" y1="136.00" x2="74.30" y2="149.30" stroke="#4e5e76" stroke-width="3.00"/>
<circle cx="74.30" cy="149.30" r="6.10" fill="url(#gB)" stroke="#6a9ae0" stroke-width="0.6"/>
<circle cx="74.30" cy="136.00" r="5.80" fill="url(#gC)" stroke="#8a94a8" stroke-width="0.6"/>
<circle cx="74.30" cy="123.30" r="6.00" fill="url(#gO)" stroke="#a83a3a" stroke-width="0.6"/>
<line x1="74.30" y1="128.30" x2="74.30" y2="131.30" stroke="#d01010" stroke-width="2.00"/>
<line x1="218.60" y1="125.70" x2="218.80" y2="139.80" stroke="#4e5e76" stroke-width="3.00"/>
<line x1="234.60" y1="125.70" x2="234.60" y2="139.80" stroke="#4e5e76" stroke-width="3.00"/>
<circle cx="218.80" cy="139.80" r="6.20" fill="url(#gP)" stroke="#e0708a" stroke-width="0.6"/>
<circle cx="234.60" cy="139.80" r="6.20" fill="url(#gB)" stroke="#6a9ae0" stroke-width="0.6"/>
<circle cx="226.60" cy="105.00" r="4.00" fill="url(#gH)" stroke="#c4c4c4" stroke-width="0.6"/>
<circle cx="226.60" cy="115.70" r="6.00" fill="url(#gC)" stroke="#8a94a8" stroke-width="0.6"/>
<circle cx="218.60" cy="125.70" r="5.80" fill="url(#gO)" stroke="#a83a3a" stroke-width="0.6"/>
<circle cx="234.60" cy="125.70" r="5.80" fill="url(#gO)" stroke="#a83a3a" stroke-width="0.6"/>
<line x1="226.60" y1="108.00" x2="226.60" y2="111.00" stroke="#d01010" stroke-width="1.80"/>
<line x1="221.10" y1="121.70" x2="223.10" y2="119.70" stroke="#d01010" stroke-width="1.80"/>
<line x1="232.10" y1="121.70" x2="230.10" y2="119.70" stroke="#d01010" stroke-width="1.80"/>
<line x1="266.70" y1="102.70" x2="266.70" y2="115.20" stroke="#4e5e76" stroke-width="3.00"/>
<circle cx="266.70" cy="115.20" r="6.20" fill="url(#gP)" stroke="#e0708a" stroke-width="0.6"/>
<circle cx="279.20" cy="88.50" r="3.30" fill="url(#gH)" stroke="#c4c4c4" stroke-width="0.6"/>
<circle cx="279.20" cy="99.40" r="3.30" fill="url(#gH)" stroke="#c4c4c4" stroke-width="0.6"/>
<circle cx="274.40" cy="92.80" r="5.70" fill="url(#gC)" stroke="#8a94a8" stroke-width="0.6"/>
<circle cx="266.70" cy="102.70" r="5.80" fill="url(#gO)" stroke="#a83a3a" stroke-width="0.6"/>
<circle cx="270.00" cy="91.10" r="3.90" fill="url(#gH)" stroke="#c4c4c4" stroke-width="0.6"/>
<circle cx="277.70" cy="90.00" r="0.9" fill="#d01010"/>
<circle cx="277.70" cy="98.20" r="0.9" fill="#d01010"/>
<line x1="269.70" y1="99.20" x2="271.20" y2="97.70" stroke="#d01010" stroke-width="1.60"/>
<line x1="238.20" y1="440.30" x2="227.40" y2="449.70" stroke="#4e5e76" stroke-width="3.00"/>
<line x1="238.20" y1="426.00" x2="228.30" y2="416.90" stroke="#d01010" stroke-width="2.00"/>
<line x1="238.20" y1="426.00" x2="249.60" y2="418.40" stroke="#d01010" stroke-width="2.00"/>
<line x1="238.20" y1="426.00" x2="238.20" y2="440.30" stroke="#d01010" stroke-width="2.00"/>
<circle cx="227.40" cy="449.70" r="6.00" fill="url(#gP)" stroke="#e0708a" stroke-width="0.6"/>
<circle cx="228.30" cy="416.90" r="5.70" fill="url(#gO)" stroke="#a83a3a" stroke-width="0.6"/>
<circle cx="249.60" cy="418.40" r="5.70" fill="url(#gO)" stroke="#a83a3a" stroke-width="0.6"/>
<circle cx="238.20" cy="426.00" r="6.00" fill="url(#gC)" stroke="#8a94a8" stroke-width="0.6"/>
<circle cx="238.20" cy="440.30" r="5.70" fill="url(#gO)" stroke="#a83a3a" stroke-width="0.6"/>
<text x="296.20" y="183.50" font-size="10.00" fill="#0d0887" text-anchor="start" font-weight="normal" >60 min</text>
<text x="296.20" y="217.00" font-size="10.00" fill="#260692" text-anchor="start" font-weight="normal" >50 min</text>
<text x="296.20" y="247.50" font-size="10.00" fill="#3c049b" text-anchor="start" font-weight="normal" >40 min</text>
<text x="296.20" y="273.50" font-size="10.00" fill="#5102a2" text-anchor="start" font-weight="normal" >30 min</text>
<text x="296.20" y="293.00" font-size="10.00" fill="#6400a6" text-anchor="start" font-weight="normal" >25 min</text>
<text x="296.20" y="314.20" font-size="10.00" fill="#7502a8" text-anchor="start" font-weight="normal" >21 min</text>
<text x="296.20" y="334.10" font-size="10.00" fill="#8608a5" text-anchor="start" font-weight="normal" >18 min</text>
<text x="296.20" y="354.00" font-size="10.00" fill="#9713a0" text-anchor="start" font-weight="normal" >16 min</text>
<text x="296.20" y="370.50" font-size="10.00" fill="#a62097" text-anchor="start" font-weight="normal" >14 min</text>
<text x="296.20" y="386.10" font-size="10.00" fill="#b42d8d" text-anchor="start" font-weight="normal" >13 min</text>
<text x="296.20" y="415.50" font-size="10.00" fill="#cc4778" text-anchor="start" font-weight="normal" >2 MPa</text>
<text x="296.00" y="460.50" font-size="10.00" fill="#f58d45" text-anchor="start" font-weight="normal" >0.1 MPa</text>
<text x="296.40" y="470.20" font-size="10.00" fill="#fba238" text-anchor="start" font-weight="normal" >20 min</text>
<text x="296.40" y="479.00" font-size="10.00" fill="#fdb42f" text-anchor="start" font-weight="normal" >10 min</text>
<text x="301.96" y="488.20" font-size="10.00" fill="#fdc627" text-anchor="start" font-weight="normal" >3 min</text>
<text x="301.96" y="497.90" font-size="10.00" fill="#f9d925" text-anchor="start" font-weight="normal" >2 min</text>
<text x="301.96" y="507.70" font-size="10.00" fill="#f4ec23" text-anchor="start" font-weight="normal" >1 min</text>
<path d="M333.5 186 V379.5 M328.3 181.7 H338 M328.3 383.8 H338" stroke="#c8202a" stroke-width="1.2" fill="none"/>
<path d="M333.5 182 L329.8 189.5 L337.2 189.5 Z M333.5 383.5 L329.8 376 L337.2 376 Z" fill="#c8202a"/>
<text x="0.00" y="0.00" font-size="10.00" fill="#c8202a" text-anchor="middle" font-weight="normal" transform="translate(336.8 135.7) rotate(-90)">H<tspan dy="2.5" font-size="7">2</tspan><tspan dy="-2.5"> hydrogenation</tspan></text>
<path d="M303.2 447 V427" stroke="url(#gArrowR)" stroke-width="1.9"/>
<path d="M303.2 419.8 L300.4 428.5 L306 428.5 Z" fill="#d04a7a"/>
<path d="M19.4 375 V506 M14.9 369.1 H24.3 M14.9 512 H24.3" stroke="#7a7a7a" stroke-width="1.1" fill="none"/>
<path d="M19.4 369.5 L16 378 L22.8 378 Z M19.4 511.5 L16 503 L22.8 503 Z" fill="#7a7a7a"/>
<text x="0.00" y="0.00" font-size="10.90" fill="#111" text-anchor="middle" font-weight="normal" transform="translate(10.4 436.8) rotate(-90)">CO<tspan dy="2.8" font-size="7.5">2</tspan><tspan dy="-2.8"> adsorption</tspan></text>
<text x="346.20" y="14.00" font-size="19.50" fill="#000" text-anchor="start" font-weight="bold" >b</text>
<path d="M399.0 177.0 399.4 177.0 399.8 176.9 400.2 176.8 400.6 177.1 401.0 177.3 401.4 177.6 401.8 177.8 402.2 177.8 402.6 177.8 403.0 177.8 403.4 177.7 403.8 177.5 404.2 177.4 404.6 177.4 405.0 177.4 405.4 177.4 405.8 177.4 406.2 177.3 406.6 177.1 407.0 177.0 407.4 176.8 407.8 176.6 408.2 176.5 408.6 176.5 409.0 176.4 409.4 176.4 409.8 176.5 410.2 176.5 410.6 176.6 411.0 176.7 411.4 176.9 411.8 177.1 412.2 177.2 412.6 177.1 413.0 177.0 413.4 176.9 413.8 176.9 414.2 176.9 414.6 176.8 415.0 176.7 415.4 176.5 415.8 176.4 416.2 176.2 416.6 176.0 417.0 175.7 417.4 175.5 417.8 175.3 418.2 175.0 418.6 174.6 419.0 173.8 419.4 172.9 419.8 171.9 420.2 170.8 420.6 169.6 421.0 168.2 421.4 166.4 421.8 164.2 422.2 161.8 422.6 159.0 423.0 156.0 423.4 152.1 423.8 146.8 424.2 140.7 424.6 134.2 425.0 127.8 425.4 121.9 425.8 116.9 426.2 113.3 426.6 110.1 427.0 107.2 427.4 104.6 427.8 102.1 428.2 99.8 428.6 97.5 429.0 95.4 429.4 93.3 429.8 91.1 430.2 88.9 430.6 86.7 431.0 84.6 431.4 82.4 431.8 80.4 432.2 78.4 432.6 76.4 433.0 74.5 433.4 72.6 433.8 70.9 434.2 69.2 434.6 67.5 435.0 65.9 435.4 64.4 435.8 63.0 436.2 61.5 436.6 60.1 437.0 58.6 437.4 57.2 437.8 55.7 438.2 54.2 438.6 52.7 439.0 51.1 439.4 49.5 439.8 47.9 440.2 46.4 440.6 44.9 441.0 43.5 441.4 42.3 441.8 41.1 442.2 39.9 442.6 38.7 443.0 37.6 443.4 36.6 443.8 35.9 444.2 35.5 444.6 35.8 445.0 38.4 445.4 42.7 445.8 47.6 446.2 52.5 446.6 58.3 447.0 64.9 447.4 71.7 447.8 78.0 448.2 83.8 448.6 89.3 449.0 94.9 449.4 100.5 449.8 106.7 450.2 113.3 450.6 119.7 451.0 125.0 451.4 129.3 451.8 133.1 452.2 136.5 452.6 139.6 453.0 142.5 453.4 145.2 453.8 147.8 454.2 150.2 454.6 152.5 455.0 154.7 455.4 156.7 455.8 158.5 456.2 160.2 456.6 161.8 457.0 163.3 457.4 164.7 457.8 166.1 458.2 167.4 458.6 168.6 459.0 169.8 459.4 171.0 459.8 172.1 460.2 173.2 460.6 174.3 461.0 175.4 461.4 176.4 461.8 177.4 462.2 178.4 462.6 179.3 463.0 180.2 463.4 181.0 463.8 181.8 464.2 182.6 464.6 183.3 465.0 183.9 465.4 184.6 465.8 185.2 466.2 185.8 466.6 186.4 467.0 187.0 467.4 187.6 467.8 188.1 468.2 188.7 468.6 189.2 469.0 189.8 469.4 190.3 469.8 190.8 470.2 191.4 470.6 191.9 471.0 192.5 471.4 193.1 471.8 193.7 472.2 194.4 472.6 195.0 473.0 195.6 473.4 196.1 473.8 196.7 474.2 197.2 474.6 197.6 475.0 198.0 475.4 198.3 475.8 198.7 476.2 199.0 476.6 199.4 477.0 199.7 477.4 200.0 477.8 200.3 478.2 200.6 478.6 200.8 479.0 201.1 479.4 201.2 479.8 201.4 480.2 201.5 480.6 201.5 481.0 201.5 481.4 201.5 481.8 201.4 482.2 201.4 482.6 201.3 483.0 201.2 483.4 201.2 483.8 201.1 484.2 200.9 484.6 200.7 485.0 200.3 485.4 199.8 485.8 199.3 486.2 198.7 486.6 198.1 487.0 197.5 487.4 196.9 487.8 196.1 488.2 195.3 488.6 194.5 489.0 193.7 489.4 192.9 489.8 192.3 490.2 191.7 490.6 191.2 491.0 190.7 491.4 190.2 491.8 189.7 492.2 189.4 492.6 189.1 493.0 189.0 493.4 189.0 493.8 189.0 494.2 189.1 494.6 189.2 495.0 189.3 495.4 189.4 495.8 189.5 496.2 189.7 496.6 189.8 497.0 190.0 497.4 190.2 497.8 190.5 498.2 190.8 498.6 191.2 499.0 191.7 499.4 192.1 499.8 192.6 500.2 193.1 500.6 193.6 501.0 194.0 501.4 194.4 501.8 194.9 502.2 195.3 502.6 195.8 503.0 196.2 503.4 196.7 503.8 197.2 504.2 197.7 504.6 198.2 505.0 198.7 505.4 199.2 505.8 199.8 506.2 200.4 506.6 201.0 507.0 201.6 507.4 202.3 507.8 203.0 508.2 203.7 508.6 204.3 509.0 205.0 509.4 205.7 509.8 206.3 510.2 206.9 510.6 207.6 511.0 208.3 511.4 208.9 511.8 209.6 512.2 210.4 512.6 211.4 513.0 212.4 513.4 213.4 513.8 214.3 514.2 214.9 514.6 215.0 515.0 214.7 515.4 214.1 515.8 213.2 516.2 212.0 516.6 210.5 517.0 206.3 517.4 199.3 517.8 190.8 518.2 182.3 518.6 174.9 519.0 170.0 519.4 167.0 519.8 164.3 520.2 161.8 520.6 159.7 521.0 157.7 521.4 155.9 521.8 154.3 522.2 152.8 522.6 151.4 523.0 150.0 523.4 148.6 523.8 147.1 524.2 145.7 524.6 144.5 525.0 143.6 525.4 143.1 525.8 143.2 526.2 144.8 526.6 147.5 527.0 150.9 527.4 154.4 527.8 157.6 528.2 160.1 528.6 161.3 529.0 161.2 529.4 160.5 529.8 159.4 530.2 158.2 530.6 157.0 531.0 156.0 531.4 155.2 531.8 154.2 532.2 153.3 532.6 152.5 533.0 151.7 533.4 151.1 533.8 150.8 534.2 150.7 534.6 150.8 535.0 151.0 535.4 151.3 535.8 151.7 536.2 152.1 536.6 152.5 537.0 153.0 537.4 153.7 537.8 154.7 538.2 156.0 538.6 157.4 539.0 158.8 539.4 160.1 539.8 161.1 540.2 161.7 540.6 161.9 541.0 161.9 541.4 162.0 541.8 162.0 542.2 162.0 542.6 162.0 543.0 162.0 543.4 162.0 543.8 162.0 544.2 162.0 544.6 162.0 545.0 162.0 545.4 162.0 545.8 162.0 546.2 162.0 546.6 162.3 547.0 162.9 547.4 163.6 547.8 164.4 548.2 165.3 548.6 166.2 549.0 167.0 549.4 167.8 549.8 168.7 550.2 169.7 550.6 170.8 551.0 171.8 551.4 172.8 551.8 173.8 552.2 174.7 552.6 175.4 553.0 176.0 553.4 176.5 553.8 176.9 554.2 177.3 554.6 177.7 555.0 178.1 555.4 178.4 555.8 178.7 556.2 179.0 556.6 179.2 557.0 179.5 557.4 179.8 557.8 180.0 558.2 180.3 558.6 180.5 559.0 180.8 559.4 180.9 559.8 181.0 560.2 181.0 560.6 180.9 561.0 180.8 561.4 180.7 561.8 180.5 562.2 180.3 562.6 180.1 563.0 179.9 563.4 179.7 563.8 179.6 564.2 179.5 564.6 179.5 565.0 179.7 565.4 180.0 565.8 180.4 566.2 180.8 566.6 181.2 567.0 181.5 567.4 181.7 567.8 181.9 568.2 182.1 568.6 182.3 569.0 182.5 569.4 182.7 569.8 182.9 570.2 183.0 570.6 183.1 571.0 183.3 571.4 183.4 571.8 183.5 572.2 183.5 572.6 183.6 573.0 183.7 573.4 183.8 573.8 183.8 574.2 183.9 574.6 183.9 575.0 184.0 575.4 184.1 575.8 184.1 576.2 184.2 576.6 184.2 577.0 184.3 577.4 184.3 577.8 184.4 578.2 184.4 578.6 184.4 579.0 184.4 579.4 184.5 579.8 184.5 580.2 184.5 580.6 184.5 581.0 184.5 581.4 184.5 581.8 184.5 582.2 184.5 582.6 184.4 583.0 184.4 583.4 184.4 583.8 184.3 584.2 184.3 584.6 184.3 585.0 184.2 585.4 184.2 585.8 184.1 586.2 184.1 586.6 184.0 587.0 183.9 587.4 183.9 587.8 183.8 588.2 183.8 588.6 183.7 589.0 183.6 589.4 183.6 589.8 183.5 590.2 183.5 590.6 183.4 591.0 183.3 591.4 183.3 591.8 183.2 592.2 183.1 592.6 183.1 593.0 183.0 593.4 182.9 593.8 182.8 594.2 182.8 594.6 182.7 595.0 182.6 595.4 182.5 595.8 182.4 596.2 182.3 596.6 182.3 597.0 182.2 597.4 182.1 597.8 182.0 598.2 181.9 598.6 181.8 599.0 181.7 599.4 181.6 599.8 181.5 600.2 181.5 600.6 181.4 601.0 181.3 601.4 181.2 601.8 181.1 602.2 181.0 602.6 180.9 603.0 180.8 603.4 180.7 603.8 180.6 604.2 180.4 604.6 180.3 605.0 180.2 605.4 180.1 605.8 180.0 606.2 179.9 606.6 179.8 607.0 179.7 607.4 179.6 607.8 179.5 608.2 179.4 608.6 179.3 609.0 179.2 609.4 179.1 609.8 179.0 610.2 179.0 610.6 178.9 611.0 178.8 611.4 178.7 611.8 178.6 612.2 178.6 612.6 178.5 613.0 178.4 613.4 178.3 613.8 178.3 614.2 178.2 614.6 178.1 615.0 178.0 615.4 178.0 615.8 177.9 616.2 177.8 616.6 177.8 617.0 177.7 617.4 177.6 617.8 177.5 618.2 177.5 618.6 177.4 619.0 177.3 619.4 177.3 619.8 177.2 620.2 177.1 620.6 177.1 621.0 177.0 621.4 176.9 621.8 176.9 622.2 176.8 622.6 176.8 623.0 176.7 623.4 176.7 623.8 176.6 624.2 176.6 624.6 176.5 625.0 176.5 625.4 176.4 625.8 176.4 626.2 176.3 626.6 176.3 627.0 176.2 627.4 176.1 627.8 176.1 628.2 176.0 628.6 175.9 629.0 175.8 629.4 175.7 629.8 175.6 630.2 175.4 630.6 175.1 631.0 174.7 631.4 174.2 631.8 173.7 632.2 173.1 632.6 172.5 633.0 172.0 633.4 171.5 633.8 171.1 634.2 170.9 634.6 170.7 635.0 170.4 635.4 170.2 635.8 170.1 636.2 169.9 636.6 169.7 637.0 169.6 637.4 169.5 637.8 169.5 638.2 169.5 638.6 169.6 639.0 169.7 639.4 169.9 639.8 170.1 640.2 170.4 640.6 170.7 641.0 171.0 641.4 171.6 641.8 172.6 642.2 173.8 642.6 174.6 643.0 175.0 643.4 174.9 643.8 174.8 644.2 174.5 644.6 174.3 645.0 174.0 645.4 173.8 645.8 173.6 646.2 173.4 646.6 173.3 647.0 173.2 647.4 173.1 647.8 173.1 648.2 173.0 648.6 172.9 649.0 172.9 649.4 172.8 649.8 172.8 650.2 172.8 650.6 172.9 651.0 173.0 651.4 173.2 651.8 173.4 652.2 173.7 652.6 174.0 653.0 174.3 653.4 174.6 653.8 174.9 654.2 175.2 654.6 175.5 655.0 175.9 655.4 176.3 655.8 176.8 656.2 177.3 656.6 177.7 657.0 178.1 657.4 178.5 657.8 178.9 658.2 179.1 658.6 179.4 659.0 179.6 659.4 179.8 659.8 180.0 660.2 180.2 660.6 180.4 661.0 180.5 661.4 180.7 661.8 180.9 662.2 181.1 662.6 181.3 663.0 181.5 663.4 181.7 663.8 181.8 664.2 182.0 664.6 182.2 665.0 182.4 665.4 182.6 665.8 182.7 666.2 182.9 666.6 183.1 667.0 183.3 667.4 183.4 667.8 183.6" fill="none" stroke="#f0f921" stroke-width="1.7" stroke-linejoin="round"/>
<path d="M399.0 176.5 399.4 176.8 399.8 177.0 400.2 177.2 400.6 177.3 401.0 177.2 401.4 177.2 401.8 177.2 402.2 177.2 402.6 177.3 403.0 177.3 403.4 177.6 403.8 177.8 404.2 178.1 404.6 178.0 405.0 177.9 405.4 177.7 405.8 177.6 406.2 177.4 406.6 177.2 407.0 177.0 407.4 176.8 407.8 176.6 408.2 176.5 408.6 176.7 409.0 176.8 409.4 177.0 409.8 177.0 410.2 177.0 410.6 177.1 411.0 177.0 411.4 176.8 411.8 176.7 412.2 176.7 412.6 177.0 413.0 177.2 413.4 177.3 413.8 177.3 414.2 177.2 414.6 177.1 415.0 177.0 415.4 176.9 415.8 176.7 416.2 176.5 416.6 176.3 417.0 176.0 417.4 175.7 417.8 175.3 418.2 174.9 418.6 174.4 419.0 173.9 419.4 173.2 419.8 172.3 420.2 171.2 420.6 170.0 421.0 168.6 421.4 166.9 421.8 164.8 422.2 162.5 422.6 159.8 423.0 157.0 423.4 153.2 423.8 148.2 424.2 142.5 424.6 136.3 425.0 130.2 425.4 124.6 425.8 119.9 426.2 116.4 426.6 113.3 427.0 110.4 427.4 107.8 427.8 105.3 428.2 103.0 428.6 100.7 429.0 98.5 429.4 96.3 429.8 94.1 430.2 91.8 430.6 89.6 431.0 87.4 431.4 85.2 431.8 83.1 432.2 81.1 432.6 79.1 433.0 77.2 433.4 75.3 433.8 73.5 434.2 71.8 434.6 70.2 435.0 68.6 435.4 67.1 435.8 65.6 436.2 64.1 436.6 62.7 437.0 61.3 437.4 59.8 437.8 58.4 438.2 56.9 438.6 55.4 439.0 53.8 439.4 52.2 439.8 50.6 440.2 49.1 440.6 47.5 441.0 46.1 441.4 44.8 441.8 43.5 442.2 42.2 442.6 40.9 443.0 39.7 443.4 38.6 443.8 37.9 444.2 37.5 444.6 37.8 445.0 40.3 445.4 44.4 445.8 49.1 446.2 53.8 446.6 59.4 447.0 65.6 447.4 72.1 447.8 78.1 448.2 83.8 448.6 89.3 449.0 94.9 449.4 100.6 449.8 106.7 450.2 113.4 450.6 119.8 451.0 125.1 451.4 129.3 451.8 133.1 452.2 136.5 452.6 139.7 453.0 142.5 453.4 145.3 453.8 147.8 454.2 150.3 454.6 152.5 455.0 154.7 455.4 156.6 455.8 158.5 456.2 160.2 456.6 161.8 457.0 163.3 457.4 164.7 457.8 166.0 458.2 167.3 458.6 168.5 459.0 169.7 459.4 170.9 459.8 172.1 460.2 173.2 460.6 174.3 461.0 175.3 461.4 176.3 461.8 177.3 462.2 178.3 462.6 179.2 463.0 180.1 463.4 180.9 463.8 181.7 464.2 182.5 464.6 183.2 465.0 183.8 465.4 184.5 465.8 185.1 466.2 185.7 466.6 186.3 467.0 186.9 467.4 187.5 467.8 188.0 468.2 188.6 468.6 189.1 469.0 189.7 469.4 190.2 469.8 190.7 470.2 191.3 470.6 191.8 471.0 192.4 471.4 193.0 471.8 193.6 472.2 194.3 472.6 194.9 473.0 195.5 473.4 196.1 473.8 196.6 474.2 197.1 474.6 197.5 475.0 197.9 475.4 198.3 475.8 198.6 476.2 198.9 476.6 199.3 477.0 199.6 477.4 199.9 477.8 200.2 478.2 200.5 478.6 200.7 479.0 201.0 479.4 201.1 479.8 201.3 480.2 201.4 480.6 201.4 481.0 201.4 481.4 201.4 481.8 201.3 482.2 201.3 482.6 201.2 483.0 201.1 483.4 201.0 483.8 200.9 484.2 200.8 484.6 200.6 485.0 200.2 485.4 199.7 485.8 199.2 486.2 198.6 486.6 198.0 487.0 197.4 487.4 196.8 487.8 196.0 488.2 195.2 488.6 194.4 489.0 193.6 489.4 192.8 489.8 192.2 490.2 191.7 490.6 191.1 491.0 190.6 491.4 190.1 491.8 189.7 492.2 189.3 492.6 189.1 493.0 189.0 493.4 189.0 493.8 189.0 494.2 189.1 494.6 189.2 495.0 189.3 495.4 189.4 495.8 189.5 496.2 189.6 496.6 189.8 497.0 190.0 497.4 190.2 497.8 190.4 498.2 190.8 498.6 191.2 499.0 191.6 499.4 192.1 499.8 192.5 500.2 193.0 500.6 193.5 501.0 193.9 501.4 194.4 501.8 194.8 502.2 195.2 502.6 195.7 503.0 196.2 503.4 196.6 503.8 197.1 504.2 197.6 504.6 198.1 505.0 198.6 505.4 199.1 505.8 199.7 506.2 200.3 506.6 200.9 507.0 201.5 507.4 202.2 507.8 202.9 508.2 203.5 508.6 204.2 509.0 204.9 509.4 205.5 509.8 206.2 510.2 206.8 510.6 207.4 511.0 208.1 511.4 208.8 511.8 209.5 512.2 210.3 512.6 211.2 513.0 212.3 513.4 213.3 513.8 214.2 514.2 214.7 514.6 214.9 515.0 214.6 515.4 214.0 515.8 213.1 516.2 211.9 516.6 210.5 517.0 206.4 517.4 199.7 517.8 191.6 518.2 183.4 518.6 176.3 519.0 171.6 519.4 168.5 519.8 165.8 520.2 163.3 520.6 161.1 521.0 159.0 521.4 157.2 521.8 155.5 522.2 153.8 522.6 152.3 523.0 150.8 523.4 149.3 523.8 147.7 524.2 146.2 524.6 144.8 525.0 143.8 525.4 143.2 525.8 143.3 526.2 145.0 526.6 147.8 527.0 151.2 527.4 154.8 527.8 157.9 528.2 160.4 528.6 161.7 529.0 161.7 529.4 161.1 529.8 160.2 530.2 159.1 530.6 157.9 531.0 157.0 531.4 156.2 531.8 155.3 532.2 154.4 532.6 153.6 533.0 152.9 533.4 152.3 533.8 152.0 534.2 151.9 534.6 152.0 535.0 152.2 535.4 152.5 535.8 152.9 536.2 153.3 536.6 153.7 537.0 154.2 537.4 154.8 537.8 155.8 538.2 157.1 538.6 158.4 539.0 159.7 539.4 160.9 539.8 161.9 540.2 162.5 540.6 162.7 541.0 162.7 541.4 162.8 541.8 162.8 542.2 162.8 542.6 162.8 543.0 162.8 543.4 162.8 543.8 162.9 544.2 162.9 544.6 162.9 545.0 162.9 545.4 162.9 545.8 162.9 546.2 163.0 546.6 163.3 547.0 163.8 547.4 164.5 547.8 165.3 548.2 166.1 548.6 167.0 549.0 167.8 549.4 168.6 549.8 169.4 550.2 170.4 550.6 171.4 551.0 172.4 551.4 173.3 551.8 174.3 552.2 175.1 552.6 175.8 553.0 176.4 553.4 176.8 553.8 177.3 554.2 177.7 554.6 178.0 555.0 178.4 555.4 178.7 555.8 179.0 556.2 179.2 556.6 179.5 557.0 179.7 557.4 180.0 557.8 180.2 558.2 180.5 558.6 180.7 559.0 180.9 559.4 181.0 559.8 181.1 560.2 181.1 560.6 181.0 561.0 180.9 561.4 180.8 561.8 180.6 562.2 180.4 562.6 180.2 563.0 180.0 563.4 179.8 563.8 179.7 564.2 179.6 564.6 179.6 565.0 179.7 565.4 180.0 565.8 180.5 566.2 180.9 566.6 181.3 567.0 181.6 567.4 181.8 567.8 182.0 568.2 182.2 568.6 182.4 569.0 182.6 569.4 182.7 569.8 182.9 570.2 183.1 570.6 183.2 571.0 183.3 571.4 183.4 571.8 183.5 572.2 183.6 572.6 183.6 573.0 183.7 573.4 183.8 573.8 183.8 574.2 183.9 574.6 184.0 575.0 184.0 575.4 184.1 575.8 184.1 576.2 184.2 576.6 184.2 577.0 184.3 577.4 184.3 577.8 184.3 578.2 184.4 578.6 184.4 579.0 184.4 579.4 184.4 579.8 184.5 580.2 184.5 580.6 184.5 581.0 184.5 581.4 184.5 581.8 184.5 582.2 184.4 582.6 184.4 583.0 184.4 583.4 184.4 583.8 184.3 584.2 184.3 584.6 184.2 585.0 184.2 585.4 184.1 585.8 184.1 586.2 184.0 586.6 184.0 587.0 183.9 587.4 183.9 587.8 183.8 588.2 183.7 588.6 183.7 589.0 183.6 589.4 183.6 589.8 183.5 590.2 183.4 590.6 183.4 591.0 183.3 591.4 183.2 591.8 183.2 592.2 183.1 592.6 183.0 593.0 183.0 593.4 182.9 593.8 182.8 594.2 182.7 594.6 182.6 595.0 182.6 595.4 182.5 595.8 182.4 596.2 182.3 596.6 182.2 597.0 182.1 597.4 182.0 597.8 182.0 598.2 181.9 598.6 181.8 599.0 181.7 599.4 181.6 599.8 181.5 600.2 181.4 600.6 181.3 601.0 181.2 601.4 181.1 601.8 181.0 602.2 180.9 602.6 180.8 603.0 180.7 603.4 180.6 603.8 180.5 604.2 180.4 604.6 180.3 605.0 180.2 605.4 180.1 605.8 180.0 606.2 179.9 606.6 179.8 607.0 179.7 607.4 179.6 607.8 179.5 608.2 179.4 608.6 179.3 609.0 179.2 609.4 179.1 609.8 179.0 610.2 178.9 610.6 178.8 611.0 178.8 611.4 178.7 611.8 178.6 612.2 178.5 612.6 178.4 613.0 178.4 613.4 178.3 613.8 178.2 614.2 178.1 614.6 178.1 615.0 178.0 615.4 177.9 615.8 177.9 616.2 177.8 616.6 177.7 617.0 177.6 617.4 177.6 617.8 177.5 618.2 177.4 618.6 177.4 619.0 177.3 619.4 177.2 619.8 177.2 620.2 177.1 620.6 177.0 621.0 177.0 621.4 176.9 621.8 176.8 622.2 176.8 622.6 176.7 623.0 176.7 623.4 176.6 623.8 176.6 624.2 176.5 624.6 176.5 625.0 176.5 625.4 176.4 625.8 176.4 626.2 176.3 626.6 176.3 627.0 176.2 627.4 176.1 627.8 176.1 628.2 176.0 628.6 175.9 629.0 175.8 629.4 175.7 629.8 175.6 630.2 175.5 630.6 175.2 631.0 174.8 631.4 174.3 631.8 173.8 632.2 173.3 632.6 172.7 633.0 172.2 633.4 171.8 633.8 171.5 634.2 171.2 634.6 171.0 635.0 170.8 635.4 170.6 635.8 170.5 636.2 170.3 636.6 170.2 637.0 170.1 637.4 170.0 637.8 169.9 638.2 169.9 638.6 169.9 639.0 170.0 639.4 170.3 639.8 170.5 640.2 170.8 640.6 171.1 641.0 171.4 641.4 172.0 641.8 172.9 642.2 173.9 642.6 174.8 643.0 175.1 643.4 175.0 643.8 174.9 644.2 174.7 644.6 174.4 645.0 174.2 645.4 174.0 645.8 173.8 646.2 173.7 646.6 173.6 647.0 173.5 647.4 173.4 647.8 173.3 648.2 173.2 648.6 173.2 649.0 173.1 649.4 173.1 649.8 173.1 650.2 173.1 650.6 173.2 651.0 173.3 651.4 173.5 651.8 173.7 652.2 173.9 652.6 174.2 653.0 174.5 653.4 174.7 653.8 175.0 654.2 175.3 654.6 175.6 655.0 176.0 655.4 176.4 655.8 176.8 656.2 177.3 656.6 177.7 657.0 178.1 657.4 178.5 657.8 178.8 658.2 179.0 658.6 179.3 659.0 179.5 659.4 179.7 659.8 179.9 660.2 180.1 660.6 180.2 661.0 180.4 661.4 180.6 661.8 180.8 662.2 180.9 662.6 181.1 663.0 181.3 663.4 181.5 663.8 181.7 664.2 181.8 664.6 182.0 665.0 182.2 665.4 182.4 665.8 182.5 666.2 182.7 666.6 182.9 667.0 183.0 667.4 183.2 667.8 183.3" fill="none" stroke="#f9db25" stroke-width="1.7" stroke-linejoin="round"/>
<path d="M399.0 176.4 399.4 176.7 399.8 177.0 400.2 177.2 400.6 177.5 401.0 177.7 401.4 177.9 401.8 178.1 402.2 178.2 402.6 178.3 403.0 178.3 403.4 178.0 403.8 177.8 404.2 177.5 404.6 177.4 405.0 177.3 405.4 177.2 405.8 177.1 406.2 177.1 406.6 177.2 407.0 177.1 407.4 177.0 407.8 176.9 408.2 176.9 408.6 176.8 409.0 176.7 409.4 176.7 409.8 176.9 410.2 177.1 410.6 177.3 411.0 177.2 411.4 177.0 411.8 176.9 412.2 176.8 412.6 176.7 413.0 176.7 413.4 176.7 413.8 177.0 414.2 177.2 414.6 177.4 415.0 177.1 415.4 176.7 415.8 176.2 416.2 176.1 416.6 176.1 417.0 176.0 417.4 175.8 417.8 175.5 418.2 175.2 418.6 174.7 419.0 174.0 419.4 173.3 419.8 172.4 420.2 171.5 420.6 170.4 421.0 169.1 421.4 167.4 421.8 165.4 422.2 163.2 422.6 160.7 423.0 157.9 423.4 154.3 423.8 149.6 424.2 144.2 424.6 138.4 425.0 132.7 425.4 127.3 425.8 122.8 426.2 119.4 426.6 116.4 427.0 113.6 427.4 111.0 427.8 108.5 428.2 106.2 428.6 103.9 429.0 101.7 429.4 99.4 429.8 97.1 430.2 94.8 430.6 92.5 431.0 90.2 431.4 88.0 431.8 85.8 432.2 83.8 432.6 81.8 433.0 79.8 433.4 78.0 433.8 76.2 434.2 74.5 434.6 72.8 435.0 71.2 435.4 69.7 435.8 68.2 436.2 66.7 436.6 65.3 437.0 63.9 437.4 62.5 437.8 61.0 438.2 59.6 438.6 58.0 439.0 56.5 439.4 54.9 439.8 53.3 440.2 51.8 440.6 50.2 441.0 48.7 441.4 47.3 441.8 45.9 442.2 44.5 442.6 43.1 443.0 41.8 443.4 40.7 443.8 39.9 444.2 39.5 444.6 39.7 445.0 42.2 445.4 46.1 445.8 50.7 446.2 55.1 446.6 60.4 447.0 66.3 447.4 72.5 447.8 78.3 448.2 83.8 448.6 89.3 449.0 94.9 449.4 100.7 449.8 106.8 450.2 113.5 450.6 119.8 451.0 125.1 451.4 129.4 451.8 133.2 452.2 136.6 452.6 139.7 453.0 142.6 453.4 145.3 453.8 147.8 454.2 150.3 454.6 152.5 455.0 154.6 455.4 156.6 455.8 158.4 456.2 160.1 456.6 161.7 457.0 163.2 457.4 164.6 457.8 166.0 458.2 167.3 458.6 168.5 459.0 169.7 459.4 170.9 459.8 172.0 460.2 173.1 460.6 174.2 461.0 175.2 461.4 176.3 461.8 177.3 462.2 178.2 462.6 179.1 463.0 180.0 463.4 180.8 463.8 181.6 464.2 182.4 464.6 183.1 465.0 183.7 465.4 184.4 465.8 185.0 466.2 185.6 466.6 186.2 467.0 186.8 467.4 187.4 467.8 187.9 468.2 188.5 468.6 189.0 469.0 189.5 469.4 190.1 469.8 190.6 470.2 191.1 470.6 191.7 471.0 192.3 471.4 192.9 471.8 193.5 472.2 194.2 472.6 194.8 473.0 195.4 473.4 196.0 473.8 196.5 474.2 197.0 474.6 197.4 475.0 197.8 475.4 198.2 475.8 198.5 476.2 198.9 476.6 199.2 477.0 199.5 477.4 199.8 477.8 200.1 478.2 200.4 478.6 200.6 479.0 200.8 479.4 201.0 479.8 201.2 480.2 201.2 480.6 201.3 481.0 201.3 481.4 201.3 481.8 201.2 482.2 201.2 482.6 201.1 483.0 201.0 483.4 200.9 483.8 200.8 484.2 200.7 484.6 200.5 485.0 200.1 485.4 199.6 485.8 199.1 486.2 198.5 486.6 197.9 487.0 197.3 487.4 196.7 487.8 195.9 488.2 195.1 488.6 194.3 489.0 193.5 489.4 192.8 489.8 192.1 490.2 191.6 490.6 191.1 491.0 190.6 491.4 190.1 491.8 189.6 492.2 189.3 492.6 189.0 493.0 188.9 493.4 188.9 493.8 189.0 494.2 189.0 494.6 189.1 495.0 189.2 495.4 189.3 495.8 189.5 496.2 189.6 496.6 189.8 497.0 189.9 497.4 190.1 497.8 190.4 498.2 190.7 498.6 191.1 499.0 191.6 499.4 192.0 499.8 192.5 500.2 193.0 500.6 193.4 501.0 193.9 501.4 194.3 501.8 194.7 502.2 195.2 502.6 195.6 503.0 196.1 503.4 196.5 503.8 197.0 504.2 197.5 504.6 198.0 505.0 198.5 505.4 199.1 505.8 199.6 506.2 200.2 506.6 200.8 507.0 201.4 507.4 202.1 507.8 202.7 508.2 203.4 508.6 204.1 509.0 204.7 509.4 205.4 509.8 206.0 510.2 206.6 510.6 207.3 511.0 208.0 511.4 208.6 511.8 209.4 512.2 210.1 512.6 211.1 513.0 212.2 513.4 213.2 513.8 214.1 514.2 214.6 514.6 214.8 515.0 214.5 515.4 213.9 515.8 213.0 516.2 211.8 516.6 210.4 517.0 206.5 517.4 200.1 517.8 192.4 518.2 184.6 518.6 177.8 519.0 173.2 519.4 170.1 519.8 167.3 520.2 164.8 520.6 162.5 521.0 160.4 521.4 158.4 521.8 156.6 522.2 154.9 522.6 153.2 523.0 151.6 523.4 150.0 523.8 148.3 524.2 146.7 524.6 145.1 525.0 144.0 525.4 143.3 525.8 143.4 526.2 145.2 526.6 148.1 527.0 151.6 527.4 155.1 527.8 158.2 528.2 160.7 528.6 162.0 529.0 162.2 529.4 161.8 529.8 161.0 530.2 160.0 530.6 158.9 531.0 158.0 531.4 157.2 531.8 156.4 532.2 155.6 532.6 154.8 533.0 154.1 533.4 153.6 533.8 153.2 534.2 153.1 534.6 153.2 535.0 153.4 535.4 153.7 535.8 154.1 536.2 154.5 536.6 154.9 537.0 155.4 537.4 156.0 537.8 157.0 538.2 158.1 538.6 159.4 539.0 160.6 539.4 161.8 539.8 162.7 540.2 163.3 540.6 163.4 541.0 163.5 541.4 163.5 541.8 163.6 542.2 163.6 542.6 163.7 543.0 163.7 543.4 163.7 543.8 163.7 544.2 163.7 544.6 163.7 545.0 163.8 545.4 163.8 545.8 163.8 546.2 163.9 546.6 164.2 547.0 164.7 547.4 165.4 547.8 166.1 548.2 167.0 548.6 167.8 549.0 168.5 549.4 169.3 549.8 170.1 550.2 171.0 550.6 172.0 551.0 172.9 551.4 173.8 551.8 174.7 552.2 175.5 552.6 176.2 553.0 176.7 553.4 177.2 553.8 177.6 554.2 178.0 554.6 178.3 555.0 178.7 555.4 179.0 555.8 179.2 556.2 179.5 556.6 179.7 557.0 180.0 557.4 180.2 557.8 180.4 558.2 180.7 558.6 180.9 559.0 181.0 559.4 181.2 559.8 181.2 560.2 181.2 560.6 181.2 561.0 181.1 561.4 180.9 561.8 180.7 562.2 180.5 562.6 180.3 563.0 180.1 563.4 179.9 563.8 179.8 564.2 179.7 564.6 179.7 565.0 179.8 565.4 180.1 565.8 180.5 566.2 181.0 566.6 181.4 567.0 181.6 567.4 181.9 567.8 182.1 568.2 182.3 568.6 182.5 569.0 182.6 569.4 182.8 569.8 183.0 570.2 183.1 570.6 183.2 571.0 183.4 571.4 183.5 571.8 183.5 572.2 183.6 572.6 183.7 573.0 183.7 573.4 183.8 573.8 183.9 574.2 183.9 574.6 184.0 575.0 184.0 575.4 184.1 575.8 184.1 576.2 184.2 576.6 184.2 577.0 184.3 577.4 184.3 577.8 184.3 578.2 184.4 578.6 184.4 579.0 184.4 579.4 184.4 579.8 184.4 580.2 184.4 580.6 184.5 581.0 184.5 581.4 184.5 581.8 184.4 582.2 184.4 582.6 184.4 583.0 184.4 583.4 184.3 583.8 184.3 584.2 184.3 584.6 184.2 585.0 184.2 585.4 184.1 585.8 184.1 586.2 184.0 586.6 183.9 587.0 183.9 587.4 183.8 587.8 183.8 588.2 183.7 588.6 183.6 589.0 183.6 589.4 183.5 589.8 183.5 590.2 183.4 590.6 183.3 591.0 183.3 591.4 183.2 591.8 183.1 592.2 183.1 592.6 183.0 593.0 182.9 593.4 182.8 593.8 182.8 594.2 182.7 594.6 182.6 595.0 182.5 595.4 182.4 595.8 182.4 596.2 182.3 596.6 182.2 597.0 182.1 597.4 182.0 597.8 181.9 598.2 181.8 598.6 181.7 599.0 181.7 599.4 181.6 599.8 181.5 600.2 181.4 600.6 181.3 601.0 181.2 601.4 181.1 601.8 181.0 602.2 180.9 602.6 180.8 603.0 180.7 603.4 180.6 603.8 180.5 604.2 180.4 604.6 180.3 605.0 180.2 605.4 180.1 605.8 180.0 606.2 179.8 606.6 179.7 607.0 179.6 607.4 179.5 607.8 179.4 608.2 179.3 608.6 179.2 609.0 179.1 609.4 179.1 609.8 179.0 610.2 178.9 610.6 178.8 611.0 178.7 611.4 178.6 611.8 178.6 612.2 178.5 612.6 178.4 613.0 178.3 613.4 178.2 613.8 178.2 614.2 178.1 614.6 178.0 615.0 177.9 615.4 177.9 615.8 177.8 616.2 177.7 616.6 177.7 617.0 177.6 617.4 177.5 617.8 177.5 618.2 177.4 618.6 177.3 619.0 177.3 619.4 177.2 619.8 177.1 620.2 177.1 620.6 177.0 621.0 176.9 621.4 176.9 621.8 176.8 622.2 176.8 622.6 176.7 623.0 176.7 623.4 176.6 623.8 176.6 624.2 176.5 624.6 176.5 625.0 176.4 625.4 176.4 625.8 176.4 626.2 176.3 626.6 176.2 627.0 176.2 627.4 176.1 627.8 176.1 628.2 176.0 628.6 175.9 629.0 175.8 629.4 175.7 629.8 175.6 630.2 175.5 630.6 175.3 631.0 174.9 631.4 174.5 631.8 174.0 632.2 173.5 632.6 173.0 633.0 172.5 633.4 172.1 633.8 171.8 634.2 171.6 634.6 171.4 635.0 171.2 635.4 171.0 635.8 170.9 636.2 170.7 636.6 170.6 637.0 170.5 637.4 170.4 637.8 170.4 638.2 170.2 638.6 170.2 639.0 170.4 639.4 170.6 639.8 170.9 640.2 171.2 640.6 171.5 641.0 171.7 641.4 172.3 641.8 173.2 642.2 174.1 642.6 174.9 643.0 175.2 643.4 175.2 643.8 175.0 644.2 174.8 644.6 174.6 645.0 174.4 645.4 174.2 645.8 174.0 646.2 173.9 646.6 173.8 647.0 173.7 647.4 173.6 647.8 173.6 648.2 173.5 648.6 173.5 649.0 173.4 649.4 173.4 649.8 173.4 650.2 173.4 650.6 173.5 651.0 173.6 651.4 173.7 651.8 173.9 652.2 174.2 652.6 174.4 653.0 174.7 653.4 174.9 653.8 175.2 654.2 175.5 654.6 175.8 655.0 176.1 655.4 176.5 655.8 176.9 656.2 177.3 656.6 177.7 657.0 178.1 657.4 178.4 657.8 178.7 658.2 179.0 658.6 179.2 659.0 179.4 659.4 179.6 659.8 179.8 660.2 180.0 660.6 180.1 661.0 180.3 661.4 180.5 661.8 180.6 662.2 180.8 662.6 181.0 663.0 181.1 663.4 181.3 663.8 181.5 664.2 181.6 664.6 181.8 665.0 182.0 665.4 182.1 665.8 182.3 666.2 182.4 666.6 182.6 667.0 182.8 667.4 182.9 667.8 183.1" fill="none" stroke="#fdbe2a" stroke-width="1.7" stroke-linejoin="round"/>
<path d="M399.0 176.3 399.4 176.6 399.8 176.9 400.2 177.2 400.6 177.3 401.0 177.5 401.4 177.6 401.8 177.7 402.2 177.9 402.6 178.0 403.0 178.0 403.4 178.0 403.8 178.0 404.2 178.0 404.6 177.9 405.0 177.9 405.4 177.8 405.8 177.6 406.2 177.3 406.6 177.0 407.0 176.8 407.4 176.6 407.8 176.4 408.2 176.2 408.6 176.3 409.0 176.5 409.4 176.7 409.8 176.7 410.2 176.8 410.6 176.9 411.0 177.0 411.4 177.1 411.8 177.2 412.2 177.2 412.6 177.1 413.0 177.1 413.4 177.1 413.8 177.2 414.2 177.4 414.6 177.5 415.0 177.4 415.4 177.3 415.8 177.1 416.2 176.7 416.6 176.3 417.0 175.8 417.4 175.6 417.8 175.7 418.2 175.7 418.6 175.3 419.0 174.4 419.4 173.5 419.8 172.5 420.2 171.6 420.6 170.6 421.0 169.4 421.4 167.9 421.8 166.0 422.2 163.9 422.6 161.5 423.0 158.9 423.4 155.5 423.8 151.1 424.2 146.0 424.6 140.5 425.0 135.1 425.4 130.1 425.8 125.8 426.2 122.5 426.6 119.5 427.0 116.8 427.4 114.2 427.8 111.7 428.2 109.4 428.6 107.1 429.0 104.8 429.4 102.5 429.8 100.2 430.2 97.8 430.6 95.4 431.0 93.0 431.4 90.8 431.8 88.6 432.2 86.5 432.6 84.4 433.0 82.5 433.4 80.6 433.8 78.8 434.2 77.1 434.6 75.5 435.0 73.9 435.4 72.3 435.8 70.8 436.2 69.4 436.6 67.9 437.0 66.5 437.4 65.1 437.8 63.7 438.2 62.2 438.6 60.7 439.0 59.2 439.4 57.6 439.8 56.0 440.2 54.4 440.6 52.9 441.0 51.3 441.4 49.8 441.8 48.3 442.2 46.8 442.6 45.3 443.0 43.9 443.4 42.8 443.8 41.9 444.2 41.5 444.6 41.7 445.0 44.1 445.4 47.9 445.8 52.2 446.2 56.4 446.6 61.4 447.0 67.0 447.4 72.9 447.8 78.4 448.2 83.8 448.6 89.3 449.0 95.0 449.4 100.8 449.8 106.9 450.2 113.5 450.6 119.9 451.0 125.2 451.4 129.5 451.8 133.2 452.2 136.7 452.6 139.7 453.0 142.6 453.4 145.3 453.8 147.9 454.2 150.3 454.6 152.5 455.0 154.6 455.4 156.6 455.8 158.4 456.2 160.1 456.6 161.7 457.0 163.2 457.4 164.6 457.8 165.9 458.2 167.2 458.6 168.4 459.0 169.6 459.4 170.8 459.8 171.9 460.2 173.0 460.6 174.1 461.0 175.2 461.4 176.2 461.8 177.2 462.2 178.1 462.6 179.0 463.0 179.9 463.4 180.8 463.8 181.5 464.2 182.3 464.6 183.0 465.0 183.7 465.4 184.3 465.8 184.9 466.2 185.5 466.6 186.1 467.0 186.7 467.4 187.3 467.8 187.8 468.2 188.4 468.6 188.9 469.0 189.4 469.4 190.0 469.8 190.5 470.2 191.0 470.6 191.6 471.0 192.2 471.4 192.8 471.8 193.4 472.2 194.1 472.6 194.7 473.0 195.3 473.4 195.9 473.8 196.4 474.2 196.9 474.6 197.3 475.0 197.7 475.4 198.1 475.8 198.4 476.2 198.8 476.6 199.1 477.0 199.4 477.4 199.7 477.8 200.0 478.2 200.3 478.6 200.5 479.0 200.7 479.4 200.9 479.8 201.0 480.2 201.1 480.6 201.2 481.0 201.2 481.4 201.2 481.8 201.1 482.2 201.1 482.6 201.0 483.0 200.9 483.4 200.8 483.8 200.7 484.2 200.6 484.6 200.3 485.0 200.0 485.4 199.5 485.8 198.9 486.2 198.4 486.6 197.8 487.0 197.2 487.4 196.5 487.8 195.8 488.2 195.0 488.6 194.2 489.0 193.4 489.4 192.7 489.8 192.1 490.2 191.5 490.6 191.0 491.0 190.5 491.4 190.0 491.8 189.6 492.2 189.3 492.6 189.0 493.0 188.9 493.4 188.9 493.8 188.9 494.2 189.0 494.6 189.1 495.0 189.2 495.4 189.3 495.8 189.4 496.2 189.6 496.6 189.7 497.0 189.9 497.4 190.1 497.8 190.4 498.2 190.7 498.6 191.1 499.0 191.5 499.4 192.0 499.8 192.4 500.2 192.9 500.6 193.3 501.0 193.8 501.4 194.2 501.8 194.6 502.2 195.1 502.6 195.5 503.0 196.0 503.4 196.5 503.8 196.9 504.2 197.4 504.6 197.9 505.0 198.4 505.4 199.0 505.8 199.5 506.2 200.1 506.6 200.7 507.0 201.3 507.4 202.0 507.8 202.6 508.2 203.3 508.6 203.9 509.0 204.6 509.4 205.2 509.8 205.9 510.2 206.5 510.6 207.2 511.0 207.8 511.4 208.5 511.8 209.2 512.2 210.0 512.6 210.9 513.0 212.0 513.4 213.1 513.8 213.9 514.2 214.5 514.6 214.6 515.0 214.4 515.4 213.7 515.8 212.9 516.2 211.7 516.6 210.3 517.0 206.6 517.4 200.5 517.8 193.2 518.2 185.7 518.6 179.2 519.0 174.7 519.4 171.7 519.8 168.8 520.2 166.2 520.6 163.9 521.0 161.7 521.4 159.6 521.8 157.7 522.2 155.9 522.6 154.2 523.0 152.5 523.4 150.7 523.8 149.0 524.2 147.1 524.6 145.5 525.0 144.1 525.4 143.4 525.8 143.5 526.2 145.3 526.6 148.3 527.0 151.9 527.4 155.5 527.8 158.5 528.2 160.9 528.6 162.3 529.0 162.6 529.4 162.4 529.8 161.8 530.2 160.9 530.6 159.9 531.0 159.0 531.4 158.3 531.8 157.4 532.2 156.7 532.6 155.9 533.0 155.3 533.4 154.8 533.8 154.4 534.2 154.4 534.6 154.5 535.0 154.7 535.4 154.9 535.8 155.3 536.2 155.7 536.6 156.1 537.0 156.5 537.4 157.2 537.8 158.1 538.2 159.2 538.6 160.4 539.0 161.5 539.4 162.6 539.8 163.5 540.2 164.0 540.6 164.2 541.0 164.3 541.4 164.3 541.8 164.4 542.2 164.4 542.6 164.5 543.0 164.5 543.4 164.5 543.8 164.6 544.2 164.6 544.6 164.6 545.0 164.6 545.4 164.7 545.8 164.7 546.2 164.8 546.6 165.1 547.0 165.6 547.4 166.3 547.8 167.0 548.2 167.8 548.6 168.6 549.0 169.3 549.4 170.0 549.8 170.8 550.2 171.7 550.6 172.6 551.0 173.5 551.4 174.3 551.8 175.2 552.2 175.9 552.6 176.6 553.0 177.1 553.4 177.5 553.8 177.9 554.2 178.3 554.6 178.6 555.0 178.9 555.4 179.2 555.8 179.5 556.2 179.8 556.6 180.0 557.0 180.2 557.4 180.4 557.8 180.6 558.2 180.8 558.6 181.0 559.0 181.2 559.4 181.3 559.8 181.3 560.2 181.3 560.6 181.3 561.0 181.2 561.4 181.0 561.8 180.8 562.2 180.6 562.6 180.4 563.0 180.2 563.4 180.0 563.8 179.8 564.2 179.7 564.6 179.7 565.0 179.9 565.4 180.2 565.8 180.6 566.2 181.0 566.6 181.4 567.0 181.7 567.4 181.9 567.8 182.1 568.2 182.3 568.6 182.5 569.0 182.7 569.4 182.9 569.8 183.0 570.2 183.2 570.6 183.3 571.0 183.4 571.4 183.5 571.8 183.6 572.2 183.6 572.6 183.7 573.0 183.8 573.4 183.8 573.8 183.9 574.2 183.9 574.6 184.0 575.0 184.0 575.4 184.1 575.8 184.1 576.2 184.2 576.6 184.2 577.0 184.2 577.4 184.3 577.8 184.3 578.2 184.3 578.6 184.4 579.0 184.4 579.4 184.4 579.8 184.4 580.2 184.4 580.6 184.4 581.0 184.4 581.4 184.4 581.8 184.4 582.2 184.4 582.6 184.4 583.0 184.3 583.4 184.3 583.8 184.3 584.2 184.2 584.6 184.2 585.0 184.1 585.4 184.1 585.8 184.0 586.2 184.0 586.6 183.9 587.0 183.9 587.4 183.8 587.8 183.7 588.2 183.7 588.6 183.6 589.0 183.5 589.4 183.5 589.8 183.4 590.2 183.4 590.6 183.3 591.0 183.2 591.4 183.2 591.8 183.1 592.2 183.0 592.6 183.0 593.0 182.9 593.4 182.8 593.8 182.7 594.2 182.7 594.6 182.6 595.0 182.5 595.4 182.4 595.8 182.3 596.2 182.2 596.6 182.1 597.0 182.1 597.4 182.0 597.8 181.9 598.2 181.8 598.6 181.7 599.0 181.6 599.4 181.5 599.8 181.4 600.2 181.3 600.6 181.3 601.0 181.2 601.4 181.1 601.8 181.0 602.2 180.9 602.6 180.8 603.0 180.7 603.4 180.6 603.8 180.4 604.2 180.3 604.6 180.2 605.0 180.1 605.4 180.0 605.8 179.9 606.2 179.8 606.6 179.7 607.0 179.6 607.4 179.5 607.8 179.4 608.2 179.3 608.6 179.2 609.0 179.1 609.4 179.0 609.8 178.9 610.2 178.9 610.6 178.8 611.0 178.7 611.4 178.6 611.8 178.5 612.2 178.4 612.6 178.4 613.0 178.3 613.4 178.2 613.8 178.1 614.2 178.1 614.6 178.0 615.0 177.9 615.4 177.8 615.8 177.8 616.2 177.7 616.6 177.6 617.0 177.5 617.4 177.5 617.8 177.4 618.2 177.3 618.6 177.3 619.0 177.2 619.4 177.1 619.8 177.1 620.2 177.0 620.6 177.0 621.0 176.9 621.4 176.8 621.8 176.8 622.2 176.7 622.6 176.7 623.0 176.6 623.4 176.6 623.8 176.5 624.2 176.5 624.6 176.5 625.0 176.4 625.4 176.4 625.8 176.3 626.2 176.3 626.6 176.2 627.0 176.2 627.4 176.1 627.8 176.1 628.2 176.0 628.6 175.9 629.0 175.8 629.4 175.8 629.8 175.7 630.2 175.5 630.6 175.3 631.0 175.0 631.4 174.6 631.8 174.2 632.2 173.7 632.6 173.2 633.0 172.8 633.4 172.4 633.8 172.2 634.2 172.0 634.6 171.8 635.0 171.6 635.4 171.4 635.8 171.3 636.2 171.2 636.6 171.0 637.0 170.9 637.4 170.9 637.8 170.8 638.2 170.6 638.6 170.6 639.0 170.7 639.4 171.0 639.8 171.3 640.2 171.6 640.6 171.8 641.0 172.1 641.4 172.6 641.8 173.4 642.2 174.3 642.6 175.0 643.0 175.3 643.4 175.3 643.8 175.1 644.2 175.0 644.6 174.8 645.0 174.5 645.4 174.4 645.8 174.2 646.2 174.1 646.6 174.0 647.0 174.0 647.4 173.9 647.8 173.8 648.2 173.8 648.6 173.7 649.0 173.7 649.4 173.7 649.8 173.7 650.2 173.7 650.6 173.7 651.0 173.9 651.4 174.0 651.8 174.2 652.2 174.4 652.6 174.6 653.0 174.9 653.4 175.1 653.8 175.4 654.2 175.6 654.6 175.9 655.0 176.2 655.4 176.6 655.8 176.9 656.2 177.3 656.6 177.7 657.0 178.0 657.4 178.4 657.8 178.7 658.2 178.9 658.6 179.1 659.0 179.3 659.4 179.5 659.8 179.7 660.2 179.8 660.6 180.0 661.0 180.2 661.4 180.3 661.8 180.5 662.2 180.7 662.6 180.8 663.0 181.0 663.4 181.1 663.8 181.3 664.2 181.4 664.6 181.6 665.0 181.8 665.4 181.9 665.8 182.1 666.2 182.2 666.6 182.4 667.0 182.5 667.4 182.6 667.8 182.8" fill="none" stroke="#fba239" stroke-width="1.7" stroke-linejoin="round"/>
<path d="M399.0 177.1 399.4 177.1 399.8 177.1 400.2 177.1 400.6 177.2 401.0 177.2 401.4 177.3 401.8 177.5 402.2 177.9 402.6 178.3 403.0 178.5 403.4 178.3 403.8 178.1 404.2 177.8 404.6 178.1 405.0 178.3 405.4 178.5 405.8 178.3 406.2 177.9 406.6 177.6 407.0 177.3 407.4 177.1 407.8 176.9 408.2 176.8 408.6 176.8 409.0 176.9 409.4 177.0 409.8 176.9 410.2 176.7 410.6 176.6 411.0 176.6 411.4 176.7 411.8 176.9 412.2 177.1 412.6 177.6 413.0 178.0 413.4 178.2 413.8 177.8 414.2 177.3 414.6 176.8 415.0 176.9 415.4 176.9 415.8 176.9 416.2 176.7 416.6 176.5 417.0 176.2 417.4 175.9 417.8 175.4 418.2 175.0 418.6 174.5 419.0 174.0 419.4 173.4 419.8 172.7 420.2 171.9 420.6 171.1 421.0 169.9 421.4 168.4 421.8 166.6 422.2 164.6 422.6 162.3 423.0 159.8 423.4 156.6 423.8 152.5 424.2 147.7 424.6 142.6 425.0 137.6 425.4 132.8 425.8 128.7 426.2 125.5 426.6 122.7 427.0 119.9 427.4 117.4 427.8 115.0 428.2 112.6 428.6 110.3 429.0 108.0 429.4 105.6 429.8 103.2 430.2 100.7 430.6 98.3 431.0 95.9 431.4 93.5 431.8 91.3 432.2 89.2 432.6 87.1 433.0 85.2 433.4 83.3 433.8 81.5 434.2 79.8 434.6 78.1 435.0 76.5 435.4 75.0 435.8 73.5 436.2 72.0 436.6 70.6 437.0 69.1 437.4 67.7 437.8 66.3 438.2 64.9 438.6 63.4 439.0 61.8 439.4 60.3 439.8 58.7 440.2 57.1 440.6 55.5 441.0 53.9 441.4 52.3 441.8 50.7 442.2 49.1 442.6 47.5 443.0 46.1 443.4 44.8 443.8 44.0 444.2 43.5 444.6 43.7 445.0 46.0 445.4 49.6 445.8 53.7 446.2 57.7 446.6 62.5 447.0 67.8 447.4 73.2 447.8 78.6 448.2 83.8 448.6 89.3 449.0 95.0 449.4 100.8 449.8 106.9 450.2 113.6 450.6 120.0 451.0 125.3 451.4 129.5 451.8 133.3 452.2 136.7 452.6 139.8 453.0 142.6 453.4 145.3 453.8 147.9 454.2 150.3 454.6 152.5 455.0 154.6 455.4 156.6 455.8 158.4 456.2 160.0 456.6 161.6 457.0 163.1 457.4 164.5 457.8 165.9 458.2 167.1 458.6 168.4 459.0 169.6 459.4 170.7 459.8 171.9 460.2 173.0 460.6 174.1 461.0 175.1 461.4 176.1 461.8 177.1 462.2 178.1 462.6 179.0 463.0 179.8 463.4 180.7 463.8 181.5 464.2 182.2 464.6 182.9 465.0 183.6 465.4 184.2 465.8 184.8 466.2 185.4 466.6 186.0 467.0 186.6 467.4 187.1 467.8 187.7 468.2 188.3 468.6 188.8 469.0 189.3 469.4 189.9 469.8 190.4 470.2 190.9 470.6 191.5 471.0 192.1 471.4 192.7 471.8 193.3 472.2 194.0 472.6 194.6 473.0 195.2 473.4 195.8 473.8 196.3 474.2 196.8 474.6 197.3 475.0 197.6 475.4 198.0 475.8 198.3 476.2 198.7 476.6 199.0 477.0 199.3 477.4 199.6 477.8 199.9 478.2 200.2 478.6 200.4 479.0 200.6 479.4 200.8 479.8 200.9 480.2 201.0 480.6 201.1 481.0 201.1 481.4 201.0 481.8 201.0 482.2 201.0 482.6 200.9 483.0 200.8 483.4 200.7 483.8 200.6 484.2 200.5 484.6 200.2 485.0 199.9 485.4 199.4 485.8 198.8 486.2 198.2 486.6 197.7 487.0 197.1 487.4 196.4 487.8 195.7 488.2 194.9 488.6 194.1 489.0 193.3 489.4 192.6 489.8 192.0 490.2 191.5 490.6 191.0 491.0 190.5 491.4 190.0 491.8 189.6 492.2 189.2 492.6 189.0 493.0 188.9 493.4 188.9 493.8 188.9 494.2 189.0 494.6 189.0 495.0 189.1 495.4 189.3 495.8 189.4 496.2 189.5 496.6 189.7 497.0 189.9 497.4 190.1 497.8 190.3 498.2 190.7 498.6 191.0 499.0 191.5 499.4 191.9 499.8 192.4 500.2 192.8 500.6 193.3 501.0 193.7 501.4 194.1 501.8 194.6 502.2 195.0 502.6 195.5 503.0 195.9 503.4 196.4 503.8 196.9 504.2 197.4 504.6 197.9 505.0 198.4 505.4 198.9 505.8 199.4 506.2 200.0 506.6 200.6 507.0 201.2 507.4 201.8 507.8 202.5 508.2 203.1 508.6 203.8 509.0 204.4 509.4 205.1 509.8 205.7 510.2 206.4 510.6 207.0 511.0 207.7 511.4 208.4 511.8 209.1 512.2 209.8 512.6 210.8 513.0 211.9 513.4 212.9 513.8 213.8 514.2 214.4 514.6 214.5 515.0 214.2 515.4 213.6 515.8 212.8 516.2 211.7 516.6 210.3 517.0 206.7 517.4 200.9 517.8 193.9 518.2 186.9 518.6 180.7 519.0 176.3 519.4 173.2 519.8 170.4 520.2 167.7 520.6 165.3 521.0 163.0 521.4 160.9 521.8 158.9 522.2 156.9 522.6 155.1 523.0 153.3 523.4 151.5 523.8 149.6 524.2 147.6 524.6 145.8 525.0 144.3 525.4 143.5 525.8 143.6 526.2 145.5 526.6 148.6 527.0 152.3 527.4 155.8 527.8 158.8 528.2 161.2 528.6 162.7 529.0 163.1 529.4 163.0 529.8 162.5 530.2 161.8 530.6 160.9 531.0 160.0 531.4 159.3 531.8 158.5 532.2 157.8 532.6 157.1 533.0 156.4 533.4 156.0 533.8 155.7 534.2 155.6 534.6 155.7 535.0 155.9 535.4 156.1 535.8 156.5 536.2 156.9 536.6 157.3 537.0 157.7 537.4 158.3 537.8 159.2 538.2 160.2 538.6 161.3 539.0 162.5 539.4 163.5 539.8 164.3 540.2 164.8 540.6 165.0 541.0 165.1 541.4 165.1 541.8 165.2 542.2 165.3 542.6 165.3 543.0 165.4 543.4 165.4 543.8 165.4 544.2 165.4 544.6 165.5 545.0 165.5 545.4 165.5 545.8 165.6 546.2 165.7 546.6 166.0 547.0 166.5 547.4 167.2 547.8 167.9 548.2 168.6 548.6 169.4 549.0 170.1 549.4 170.8 549.8 171.5 550.2 172.4 550.6 173.2 551.0 174.0 551.4 174.9 551.8 175.6 552.2 176.3 552.6 176.9 553.0 177.4 553.4 177.8 553.8 178.2 554.2 178.6 554.6 178.9 555.0 179.2 555.4 179.5 555.8 179.8 556.2 180.0 556.6 180.3 557.0 180.4 557.4 180.6 557.8 180.8 558.2 181.0 558.6 181.2 559.0 181.3 559.4 181.4 559.8 181.5 560.2 181.5 560.6 181.4 561.0 181.3 561.4 181.1 561.8 181.0 562.2 180.7 562.6 180.5 563.0 180.3 563.4 180.1 563.8 179.9 564.2 179.8 564.6 179.8 565.0 180.0 565.4 180.3 565.8 180.7 566.2 181.1 566.6 181.5 567.0 181.8 567.4 182.0 567.8 182.2 568.2 182.4 568.6 182.6 569.0 182.7 569.4 182.9 569.8 183.1 570.2 183.2 570.6 183.3 571.0 183.4 571.4 183.5 571.8 183.6 572.2 183.7 572.6 183.7 573.0 183.8 573.4 183.8 573.8 183.9 574.2 183.9 574.6 184.0 575.0 184.0 575.4 184.1 575.8 184.1 576.2 184.2 576.6 184.2 577.0 184.2 577.4 184.3 577.8 184.3 578.2 184.3 578.6 184.4 579.0 184.4 579.4 184.4 579.8 184.4 580.2 184.4 580.6 184.4 581.0 184.4 581.4 184.4 581.8 184.4 582.2 184.4 582.6 184.4 583.0 184.3 583.4 184.3 583.8 184.3 584.2 184.2 584.6 184.2 585.0 184.1 585.4 184.1 585.8 184.0 586.2 183.9 586.6 183.9 587.0 183.8 587.4 183.8 587.8 183.7 588.2 183.6 588.6 183.6 589.0 183.5 589.4 183.4 589.8 183.4 590.2 183.3 590.6 183.3 591.0 183.2 591.4 183.1 591.8 183.1 592.2 183.0 592.6 182.9 593.0 182.9 593.4 182.8 593.8 182.7 594.2 182.6 594.6 182.5 595.0 182.5 595.4 182.4 595.8 182.3 596.2 182.2 596.6 182.1 597.0 182.0 597.4 181.9 597.8 181.8 598.2 181.8 598.6 181.7 599.0 181.6 599.4 181.5 599.8 181.4 600.2 181.3 600.6 181.2 601.0 181.1 601.4 181.0 601.8 180.9 602.2 180.8 602.6 180.7 603.0 180.6 603.4 180.5 603.8 180.4 604.2 180.3 604.6 180.2 605.0 180.1 605.4 180.0 605.8 179.9 606.2 179.8 606.6 179.7 607.0 179.6 607.4 179.5 607.8 179.4 608.2 179.3 608.6 179.2 609.0 179.1 609.4 179.0 609.8 178.9 610.2 178.8 610.6 178.7 611.0 178.6 611.4 178.6 611.8 178.5 612.2 178.4 612.6 178.3 613.0 178.2 613.4 178.2 613.8 178.1 614.2 178.0 614.6 177.9 615.0 177.9 615.4 177.8 615.8 177.7 616.2 177.6 616.6 177.6 617.0 177.5 617.4 177.4 617.8 177.4 618.2 177.3 618.6 177.2 619.0 177.2 619.4 177.1 619.8 177.0 620.2 177.0 620.6 176.9 621.0 176.9 621.4 176.8 621.8 176.7 622.2 176.7 622.6 176.7 623.0 176.6 623.4 176.6 623.8 176.5 624.2 176.5 624.6 176.4 625.0 176.4 625.4 176.4 625.8 176.3 626.2 176.3 626.6 176.2 627.0 176.2 627.4 176.1 627.8 176.1 628.2 176.0 628.6 175.9 629.0 175.9 629.4 175.8 629.8 175.7 630.2 175.6 630.6 175.4 631.0 175.1 631.4 174.7 631.8 174.3 632.2 173.9 632.6 173.5 633.0 173.1 633.4 172.8 633.8 172.5 634.2 172.3 634.6 172.2 635.0 172.0 635.4 171.8 635.8 171.7 636.2 171.6 636.6 171.5 637.0 171.4 637.4 171.3 637.8 171.2 638.2 171.0 638.6 170.9 639.0 171.0 639.4 171.4 639.8 171.8 640.2 172.0 640.6 172.2 641.0 172.5 641.4 172.9 641.8 173.7 642.2 174.5 642.6 175.1 643.0 175.4 643.4 175.4 643.8 175.3 644.2 175.1 644.6 174.9 645.0 174.7 645.4 174.6 645.8 174.4 646.2 174.3 646.6 174.3 647.0 174.2 647.4 174.1 647.8 174.1 648.2 174.0 648.6 174.0 649.0 174.0 649.4 174.0 649.8 174.0 650.2 174.0 650.6 174.0 651.0 174.1 651.4 174.3 651.8 174.5 652.2 174.6 652.6 174.9 653.0 175.1 653.4 175.3 653.8 175.5 654.2 175.8 654.6 176.0 655.0 176.3 655.4 176.6 655.8 177.0 656.2 177.3 656.6 177.7 657.0 178.0 657.4 178.3 657.8 178.6 658.2 178.8 658.6 179.0 659.0 179.2 659.4 179.4 659.8 179.6 660.2 179.7 660.6 179.9 661.0 180.0 661.4 180.2 661.8 180.4 662.2 180.5 662.6 180.7 663.0 180.8 663.4 181.0 663.8 181.1 664.2 181.3 664.6 181.4 665.0 181.5 665.4 181.7 665.8 181.8 666.2 182.0 666.6 182.1 667.0 182.2 667.4 182.4 667.8 182.5" fill="none" stroke="#f38849" stroke-width="1.7" stroke-linejoin="round"/>
<path d="M399.0 177.2 399.4 177.1 399.8 177.1 400.2 177.1 400.6 177.1 401.0 177.2 401.4 177.3 401.8 177.3 402.2 177.4 402.6 177.4 403.0 177.5 403.4 177.6 403.8 177.6 404.2 177.7 404.6 177.6 405.0 177.4 405.4 177.2 405.8 177.1 406.2 176.9 406.6 176.7 407.0 176.5 407.4 176.4 407.8 176.3 408.2 176.3 408.6 176.5 409.0 176.8 409.4 177.1 409.8 177.0 410.2 177.0 410.6 177.0 411.0 177.1 411.4 177.3 411.8 177.5 412.2 177.6 412.6 177.6 413.0 177.5 413.4 177.5 413.8 177.5 414.2 177.5 414.6 177.4 415.0 177.3 415.4 177.1 415.8 176.9 416.2 176.6 416.6 176.3 417.0 175.9 417.4 175.7 417.8 175.6 418.2 175.4 418.6 175.0 419.0 174.5 419.4 173.8 419.8 173.1 420.2 172.3 420.6 171.4 421.0 170.3 421.4 168.9 421.8 167.2 422.2 165.3 422.6 163.1 423.0 160.8 423.4 157.8 423.8 153.9 424.2 149.5 424.6 144.7 425.0 140.0 425.4 135.6 425.8 131.7 426.2 128.6 426.6 125.8 427.0 123.1 427.4 120.6 427.8 118.2 428.2 115.8 428.6 113.5 429.0 111.1 429.4 108.7 429.8 106.2 430.2 103.7 430.6 101.2 431.0 98.7 431.4 96.3 431.8 94.0 432.2 91.8 432.6 89.8 433.0 87.8 433.4 86.0 433.8 84.2 434.2 82.4 434.6 80.8 435.0 79.2 435.4 77.6 435.8 76.1 436.2 74.6 436.6 73.2 437.0 71.8 437.4 70.4 437.8 69.0 438.2 67.5 438.6 66.1 439.0 64.5 439.4 63.0 439.8 61.4 440.2 59.8 440.6 58.2 441.0 56.5 441.4 54.7 441.8 53.1 442.2 51.4 442.6 49.7 443.0 48.2 443.4 46.9 443.8 46.0 444.2 45.5 444.6 45.7 445.0 47.8 445.4 51.3 445.8 55.3 446.2 59.1 446.6 63.5 447.0 68.5 447.4 73.6 447.8 78.7 448.2 83.9 448.6 89.4 449.0 95.1 449.4 100.9 449.8 107.0 450.2 113.7 450.6 120.1 451.0 125.4 451.4 129.6 451.8 133.4 452.2 136.8 452.6 139.8 453.0 142.7 453.4 145.4 453.8 147.9 454.2 150.3 454.6 152.5 455.0 154.6 455.4 156.5 455.8 158.3 456.2 160.0 456.6 161.6 457.0 163.1 457.4 164.5 457.8 165.8 458.2 167.1 458.6 168.3 459.0 169.5 459.4 170.7 459.8 171.8 460.2 172.9 460.6 174.0 461.0 175.0 461.4 176.1 461.8 177.0 462.2 178.0 462.6 178.9 463.0 179.8 463.4 180.6 463.8 181.4 464.2 182.1 464.6 182.8 465.0 183.5 465.4 184.1 465.8 184.7 466.2 185.3 466.6 185.9 467.0 186.5 467.4 187.0 467.8 187.6 468.2 188.1 468.6 188.7 469.0 189.2 469.4 189.7 469.8 190.3 470.2 190.8 470.6 191.4 471.0 192.0 471.4 192.6 471.8 193.2 472.2 193.9 472.6 194.5 473.0 195.1 473.4 195.7 473.8 196.2 474.2 196.7 474.6 197.2 475.0 197.5 475.4 197.9 475.8 198.2 476.2 198.6 476.6 198.9 477.0 199.2 477.4 199.5 477.8 199.8 478.2 200.1 478.6 200.3 479.0 200.5 479.4 200.7 479.8 200.8 480.2 200.9 480.6 201.0 481.0 201.0 481.4 200.9 481.8 200.9 482.2 200.8 482.6 200.8 483.0 200.7 483.4 200.6 483.8 200.5 484.2 200.4 484.6 200.1 485.0 199.7 485.4 199.3 485.8 198.7 486.2 198.1 486.6 197.5 487.0 197.0 487.4 196.3 487.8 195.6 488.2 194.8 488.6 194.0 489.0 193.2 489.4 192.5 489.8 191.9 490.2 191.4 490.6 190.9 491.0 190.4 491.4 189.9 491.8 189.5 492.2 189.2 492.6 188.9 493.0 188.8 493.4 188.8 493.8 188.9 494.2 188.9 494.6 189.0 495.0 189.1 495.4 189.2 495.8 189.4 496.2 189.5 496.6 189.7 497.0 189.8 497.4 190.0 497.8 190.3 498.2 190.6 498.6 191.0 499.0 191.4 499.4 191.8 499.8 192.3 500.2 192.8 500.6 193.2 501.0 193.6 501.4 194.1 501.8 194.5 502.2 194.9 502.6 195.4 503.0 195.8 503.4 196.3 503.8 196.8 504.2 197.3 504.6 197.8 505.0 198.3 505.4 198.8 505.8 199.3 506.2 199.9 506.6 200.5 507.0 201.1 507.4 201.7 507.8 202.4 508.2 203.0 508.6 203.6 509.0 204.3 509.4 204.9 509.8 205.6 510.2 206.2 510.6 206.9 511.0 207.5 511.4 208.2 511.8 208.9 512.2 209.7 512.6 210.7 513.0 211.8 513.4 212.8 513.8 213.7 514.2 214.3 514.6 214.4 515.0 214.1 515.4 213.5 515.8 212.7 516.2 211.6 516.6 210.2 517.0 206.8 517.4 201.3 517.8 194.7 518.2 188.0 518.6 182.2 519.0 177.9 519.4 174.8 519.8 171.9 520.2 169.2 520.6 166.7 521.0 164.3 521.4 162.1 521.8 160.0 522.2 158.0 522.6 156.0 523.0 154.1 523.4 152.2 523.8 150.2 524.2 148.1 524.6 146.1 525.0 144.5 525.4 143.6 525.8 143.7 526.2 145.7 526.6 148.9 527.0 152.6 527.4 156.2 527.8 159.1 528.2 161.5 528.6 163.0 529.0 163.6 529.4 163.7 529.8 163.3 530.2 162.7 530.6 161.8 531.0 161.0 531.4 160.3 531.8 159.6 532.2 158.9 532.6 158.2 533.0 157.6 533.4 157.2 533.8 156.9 534.2 156.8 534.6 156.9 535.0 157.1 535.4 157.4 535.8 157.7 536.2 158.1 536.6 158.5 537.0 158.9 537.4 159.5 537.8 160.3 538.2 161.3 538.6 162.3 539.0 163.4 539.4 164.3 539.8 165.0 540.2 165.6 540.6 165.8 541.0 165.8 541.4 165.9 541.8 166.0 542.2 166.1 542.6 166.1 543.0 166.2 543.4 166.2 543.8 166.3 544.2 166.3 544.6 166.3 545.0 166.4 545.4 166.4 545.8 166.5 546.2 166.6 546.6 166.9 547.0 167.4 547.4 168.0 547.8 168.7 548.2 169.5 548.6 170.2 549.0 170.9 549.4 171.5 549.8 172.2 550.2 173.0 550.6 173.8 551.0 174.6 551.4 175.4 551.8 176.1 552.2 176.7 552.6 177.3 553.0 177.8 553.4 178.2 553.8 178.6 554.2 178.9 554.6 179.2 555.0 179.5 555.4 179.8 555.8 180.1 556.2 180.3 556.6 180.5 557.0 180.7 557.4 180.8 557.8 181.0 558.2 181.2 558.6 181.3 559.0 181.5 559.4 181.5 559.8 181.6 560.2 181.6 560.6 181.5 561.0 181.4 561.4 181.3 561.8 181.1 562.2 180.9 562.6 180.6 563.0 180.4 563.4 180.2 563.8 180.0 564.2 179.9 564.6 179.9 565.0 180.0 565.4 180.3 565.8 180.7 566.2 181.2 566.6 181.6 567.0 181.9 567.4 182.1 567.8 182.3 568.2 182.5 568.6 182.6 569.0 182.8 569.4 183.0 569.8 183.1 570.2 183.3 570.6 183.4 571.0 183.5 571.4 183.6 571.8 183.6 572.2 183.7 572.6 183.8 573.0 183.8 573.4 183.9 573.8 183.9 574.2 184.0 574.6 184.0 575.0 184.0 575.4 184.1 575.8 184.1 576.2 184.2 576.6 184.2 577.0 184.2 577.4 184.3 577.8 184.3 578.2 184.3 578.6 184.3 579.0 184.4 579.4 184.4 579.8 184.4 580.2 184.4 580.6 184.4 581.0 184.4 581.4 184.4 581.8 184.4 582.2 184.4 582.6 184.3 583.0 184.3 583.4 184.3 583.8 184.2 584.2 184.2 584.6 184.1 585.0 184.1 585.4 184.0 585.8 184.0 586.2 183.9 586.6 183.9 587.0 183.8 587.4 183.7 587.8 183.7 588.2 183.6 588.6 183.5 589.0 183.5 589.4 183.4 589.8 183.4 590.2 183.3 590.6 183.2 591.0 183.2 591.4 183.1 591.8 183.0 592.2 183.0 592.6 182.9 593.0 182.8 593.4 182.7 593.8 182.7 594.2 182.6 594.6 182.5 595.0 182.4 595.4 182.3 595.8 182.2 596.2 182.2 596.6 182.1 597.0 182.0 597.4 181.9 597.8 181.8 598.2 181.7 598.6 181.6 599.0 181.5 599.4 181.5 599.8 181.4 600.2 181.3 600.6 181.2 601.0 181.1 601.4 181.0 601.8 180.9 602.2 180.8 602.6 180.7 603.0 180.6 603.4 180.5 603.8 180.4 604.2 180.3 604.6 180.2 605.0 180.1 605.4 180.0 605.8 179.8 606.2 179.7 606.6 179.6 607.0 179.5 607.4 179.4 607.8 179.3 608.2 179.2 608.6 179.1 609.0 179.0 609.4 179.0 609.8 178.9 610.2 178.8 610.6 178.7 611.0 178.6 611.4 178.5 611.8 178.4 612.2 178.4 612.6 178.3 613.0 178.2 613.4 178.1 613.8 178.0 614.2 178.0 614.6 177.9 615.0 177.8 615.4 177.7 615.8 177.7 616.2 177.6 616.6 177.5 617.0 177.5 617.4 177.4 617.8 177.3 618.2 177.3 618.6 177.2 619.0 177.1 619.4 177.1 619.8 177.0 620.2 176.9 620.6 176.9 621.0 176.8 621.4 176.8 621.8 176.7 622.2 176.7 622.6 176.6 623.0 176.6 623.4 176.5 623.8 176.5 624.2 176.5 624.6 176.4 625.0 176.4 625.4 176.4 625.8 176.3 626.2 176.3 626.6 176.2 627.0 176.2 627.4 176.1 627.8 176.1 628.2 176.0 628.6 175.9 629.0 175.9 629.4 175.8 629.8 175.7 630.2 175.6 630.6 175.4 631.0 175.2 631.4 174.8 631.8 174.5 632.2 174.1 632.6 173.7 633.0 173.4 633.4 173.1 633.8 172.8 634.2 172.7 634.6 172.5 635.0 172.4 635.4 172.2 635.8 172.1 636.2 172.0 636.6 171.9 637.0 171.8 637.4 171.7 637.8 171.6 638.2 171.4 638.6 171.2 639.0 171.4 639.4 171.8 639.8 172.2 640.2 172.4 640.6 172.6 641.0 172.9 641.4 173.3 641.8 173.9 642.2 174.7 642.6 175.3 643.0 175.5 643.4 175.5 643.8 175.4 644.2 175.2 644.6 175.1 645.0 174.9 645.4 174.7 645.8 174.6 646.2 174.6 646.6 174.5 647.0 174.4 647.4 174.4 647.8 174.4 648.2 174.3 648.6 174.3 649.0 174.3 649.4 174.3 649.8 174.3 650.2 174.3 650.6 174.3 651.0 174.4 651.4 174.6 651.8 174.7 652.2 174.9 652.6 175.1 653.0 175.3 653.4 175.5 653.8 175.7 654.2 175.9 654.6 176.1 655.0 176.4 655.4 176.7 655.8 177.0 656.2 177.4 656.6 177.7 657.0 178.0 657.4 178.3 657.8 178.5 658.2 178.7 658.6 178.9 659.0 179.1 659.4 179.3 659.8 179.5 660.2 179.6 660.6 179.8 661.0 179.9 661.4 180.1 661.8 180.2 662.2 180.4 662.6 180.5 663.0 180.6 663.4 180.8 663.8 180.9 664.2 181.1 664.6 181.2 665.0 181.3 665.4 181.5 665.8 181.6 666.2 181.7 666.6 181.9 667.0 182.0 667.4 182.1 667.8 182.2" fill="none" stroke="#e97158" stroke-width="1.7" stroke-linejoin="round"/>
<path d="M399.0 177.1 399.4 177.0 399.8 176.9 400.2 176.8 400.6 177.1 401.0 177.5 401.4 177.9 401.8 177.9 402.2 177.7 402.6 177.5 403.0 177.4 403.4 177.6 403.8 177.8 404.2 178.0 404.6 178.2 405.0 178.3 405.4 178.4 405.8 178.0 406.2 177.5 406.6 176.9 407.0 176.7 407.4 176.7 407.8 176.8 408.2 176.9 408.6 176.9 409.0 176.9 409.4 176.9 409.8 176.7 410.2 176.5 410.6 176.3 411.0 176.6 411.4 176.9 411.8 177.3 412.2 177.7 412.6 178.1 413.0 178.4 413.4 178.6 413.8 178.2 414.2 177.7 414.6 177.2 415.0 177.0 415.4 176.7 415.8 176.5 416.2 176.4 416.6 176.3 417.0 176.2 417.4 176.1 417.8 175.8 418.2 175.5 418.6 175.1 419.0 174.6 419.4 173.9 419.8 173.2 420.2 172.5 420.6 171.7 421.0 170.6 421.4 169.4 421.8 167.8 422.2 166.0 422.6 163.9 423.0 161.7 423.4 158.9 423.8 155.3 424.2 151.2 424.6 146.9 425.0 142.5 425.4 138.3 425.8 134.6 426.2 131.7 426.6 128.9 427.0 126.3 427.4 123.8 427.8 121.4 428.2 119.1 428.6 116.7 429.0 114.2 429.4 111.8 429.8 109.2 430.2 106.6 430.6 104.1 431.0 101.5 431.4 99.1 431.8 96.8 432.2 94.5 432.6 92.5 433.0 90.5 433.4 88.6 433.8 86.8 434.2 85.1 434.6 83.4 435.0 81.8 435.4 80.3 435.8 78.7 436.2 77.2 436.6 75.8 437.0 74.4 437.4 73.0 437.8 71.6 438.2 70.2 438.6 68.7 439.0 67.2 439.4 65.7 439.8 64.1 440.2 62.5 440.6 60.8 441.0 59.0 441.4 57.2 441.8 55.5 442.2 53.6 442.6 51.9 443.0 50.3 443.4 49.0 443.8 48.0 444.2 47.5 444.6 47.7 445.0 49.7 445.4 53.0 445.8 56.8 446.2 60.4 446.6 64.5 447.0 69.2 447.4 74.0 447.8 78.9 448.2 83.9 448.6 89.4 449.0 95.1 449.4 101.0 449.8 107.1 450.2 113.7 450.6 120.1 451.0 125.4 451.4 129.7 451.8 133.4 452.2 136.8 452.6 139.9 453.0 142.7 453.4 145.4 453.8 147.9 454.2 150.3 454.6 152.5 455.0 154.6 455.4 156.5 455.8 158.3 456.2 160.0 456.6 161.5 457.0 163.0 457.4 164.4 457.8 165.8 458.2 167.0 458.6 168.3 459.0 169.5 459.4 170.6 459.8 171.7 460.2 172.9 460.6 173.9 461.0 175.0 461.4 176.0 461.8 177.0 462.2 177.9 462.6 178.8 463.0 179.7 463.4 180.5 463.8 181.3 464.2 182.0 464.6 182.7 465.0 183.4 465.4 184.0 465.8 184.6 466.2 185.2 466.6 185.8 467.0 186.4 467.4 186.9 467.8 187.5 468.2 188.0 468.6 188.6 469.0 189.1 469.4 189.6 469.8 190.2 470.2 190.7 470.6 191.3 471.0 191.9 471.4 192.5 471.8 193.1 472.2 193.8 472.6 194.4 473.0 195.0 473.4 195.6 473.8 196.1 474.2 196.6 474.6 197.1 475.0 197.4 475.4 197.8 475.8 198.1 476.2 198.5 476.6 198.8 477.0 199.1 477.4 199.4 477.8 199.7 478.2 200.0 478.6 200.2 479.0 200.4 479.4 200.6 479.8 200.7 480.2 200.8 480.6 200.9 481.0 200.9 481.4 200.8 481.8 200.8 482.2 200.7 482.6 200.7 483.0 200.6 483.4 200.5 483.8 200.4 484.2 200.3 484.6 200.0 485.0 199.6 485.4 199.2 485.8 198.6 486.2 198.0 486.6 197.4 487.0 196.9 487.4 196.2 487.8 195.5 488.2 194.7 488.6 193.9 489.0 193.2 489.4 192.4 489.8 191.8 490.2 191.3 490.6 190.8 491.0 190.3 491.4 189.9 491.8 189.5 492.2 189.1 492.6 188.9 493.0 188.8 493.4 188.8 493.8 188.8 494.2 188.9 494.6 189.0 495.0 189.1 495.4 189.2 495.8 189.3 496.2 189.5 496.6 189.6 497.0 189.8 497.4 190.0 497.8 190.3 498.2 190.6 498.6 190.9 499.0 191.4 499.4 191.8 499.8 192.2 500.2 192.7 500.6 193.1 501.0 193.6 501.4 194.0 501.8 194.4 502.2 194.9 502.6 195.3 503.0 195.8 503.4 196.2 503.8 196.7 504.2 197.2 504.6 197.7 505.0 198.2 505.4 198.7 505.8 199.3 506.2 199.8 506.6 200.4 507.0 201.0 507.4 201.6 507.8 202.2 508.2 202.9 508.6 203.5 509.0 204.1 509.4 204.8 509.8 205.4 510.2 206.1 510.6 206.7 511.0 207.4 511.4 208.1 511.8 208.8 512.2 209.6 512.6 210.5 513.0 211.6 513.4 212.7 513.8 213.6 514.2 214.2 514.6 214.3 515.0 214.0 515.4 213.4 515.8 212.6 516.2 211.5 516.6 210.2 517.0 206.9 517.4 201.7 517.8 195.5 518.2 189.2 518.6 183.6 519.0 179.5 519.4 176.4 519.8 173.4 520.2 170.6 520.6 168.1 521.0 165.6 521.4 163.3 521.8 161.1 522.2 159.0 522.6 156.9 523.0 154.9 523.4 152.9 523.8 150.8 524.2 148.5 524.6 146.4 525.0 144.7 525.4 143.7 525.8 143.8 526.2 145.9 526.6 149.2 527.0 153.0 527.4 156.5 527.8 159.4 528.2 161.7 528.6 163.3 529.0 164.1 529.4 164.3 529.8 164.1 530.2 163.5 530.6 162.8 531.0 162.1 531.4 161.4 531.8 160.6 532.2 160.0 532.6 159.4 533.0 158.8 533.4 158.4 533.8 158.1 534.2 158.0 534.6 158.1 535.0 158.3 535.4 158.6 535.8 158.9 536.2 159.3 536.6 159.7 537.0 160.1 537.4 160.6 537.8 161.4 538.2 162.3 538.6 163.3 539.0 164.3 539.4 165.1 539.8 165.8 540.2 166.3 540.6 166.5 541.0 166.6 541.4 166.7 541.8 166.8 542.2 166.9 542.6 167.0 543.0 167.0 543.4 167.1 543.8 167.1 544.2 167.2 544.6 167.2 545.0 167.3 545.4 167.3 545.8 167.4 546.2 167.5 546.6 167.9 547.0 168.3 547.4 168.9 547.8 169.6 548.2 170.3 548.6 171.0 549.0 171.6 549.4 172.3 549.8 172.9 550.2 173.7 550.6 174.4 551.0 175.1 551.4 175.9 551.8 176.5 552.2 177.2 552.6 177.7 553.0 178.1 553.4 178.5 553.8 178.9 554.2 179.2 554.6 179.5 555.0 179.8 555.4 180.1 555.8 180.3 556.2 180.6 556.6 180.8 557.0 180.9 557.4 181.1 557.8 181.2 558.2 181.4 558.6 181.5 559.0 181.6 559.4 181.7 559.8 181.7 560.2 181.7 560.6 181.6 561.0 181.5 561.4 181.4 561.8 181.2 562.2 181.0 562.6 180.7 563.0 180.5 563.4 180.2 563.8 180.1 564.2 180.0 564.6 179.9 565.0 180.1 565.4 180.4 565.8 180.8 566.2 181.3 566.6 181.6 567.0 181.9 567.4 182.1 567.8 182.3 568.2 182.5 568.6 182.7 569.0 182.9 569.4 183.0 569.8 183.2 570.2 183.3 570.6 183.4 571.0 183.5 571.4 183.6 571.8 183.7 572.2 183.7 572.6 183.8 573.0 183.8 573.4 183.9 573.8 183.9 574.2 184.0 574.6 184.0 575.0 184.1 575.4 184.1 575.8 184.1 576.2 184.2 576.6 184.2 577.0 184.2 577.4 184.3 577.8 184.3 578.2 184.3 578.6 184.3 579.0 184.3 579.4 184.3 579.8 184.4 580.2 184.4 580.6 184.4 581.0 184.4 581.4 184.4 581.8 184.4 582.2 184.3 582.6 184.3 583.0 184.3 583.4 184.2 583.8 184.2 584.2 184.2 584.6 184.1 585.0 184.1 585.4 184.0 585.8 183.9 586.2 183.9 586.6 183.8 587.0 183.8 587.4 183.7 587.8 183.6 588.2 183.6 588.6 183.5 589.0 183.4 589.4 183.4 589.8 183.3 590.2 183.3 590.6 183.2 591.0 183.1 591.4 183.1 591.8 183.0 592.2 182.9 592.6 182.9 593.0 182.8 593.4 182.7 593.8 182.6 594.2 182.5 594.6 182.5 595.0 182.4 595.4 182.3 595.8 182.2 596.2 182.1 596.6 182.0 597.0 182.0 597.4 181.9 597.8 181.8 598.2 181.7 598.6 181.6 599.0 181.5 599.4 181.4 599.8 181.3 600.2 181.2 600.6 181.1 601.0 181.1 601.4 181.0 601.8 180.9 602.2 180.8 602.6 180.7 603.0 180.6 603.4 180.4 603.8 180.3 604.2 180.2 604.6 180.1 605.0 180.0 605.4 179.9 605.8 179.8 606.2 179.7 606.6 179.6 607.0 179.5 607.4 179.4 607.8 179.3 608.2 179.2 608.6 179.1 609.0 179.0 609.4 178.9 609.8 178.8 610.2 178.7 610.6 178.7 611.0 178.6 611.4 178.5 611.8 178.4 612.2 178.3 612.6 178.2 613.0 178.2 613.4 178.1 613.8 178.0 614.2 177.9 614.6 177.9 615.0 177.8 615.4 177.7 615.8 177.6 616.2 177.6 616.6 177.5 617.0 177.4 617.4 177.3 617.8 177.3 618.2 177.2 618.6 177.1 619.0 177.1 619.4 177.0 619.8 177.0 620.2 176.9 620.6 176.8 621.0 176.8 621.4 176.7 621.8 176.7 622.2 176.6 622.6 176.6 623.0 176.6 623.4 176.5 623.8 176.5 624.2 176.4 624.6 176.4 625.0 176.4 625.4 176.3 625.8 176.3 626.2 176.3 626.6 176.2 627.0 176.2 627.4 176.1 627.8 176.1 628.2 176.0 628.6 176.0 629.0 175.9 629.4 175.8 629.8 175.8 630.2 175.7 630.6 175.5 631.0 175.3 631.4 175.0 631.8 174.6 632.2 174.3 632.6 174.0 633.0 173.7 633.4 173.4 633.8 173.2 634.2 173.0 634.6 172.9 635.0 172.8 635.4 172.6 635.8 172.5 636.2 172.4 636.6 172.3 637.0 172.3 637.4 172.2 637.8 172.0 638.2 171.7 638.6 171.5 639.0 171.7 639.4 172.1 639.8 172.6 640.2 172.8 640.6 173.0 641.0 173.2 641.4 173.6 641.8 174.2 642.2 174.9 642.6 175.4 643.0 175.6 643.4 175.6 643.8 175.5 644.2 175.4 644.6 175.2 645.0 175.1 645.4 174.9 645.8 174.8 646.2 174.8 646.6 174.7 647.0 174.7 647.4 174.6 647.8 174.6 648.2 174.6 648.6 174.6 649.0 174.5 649.4 174.5 649.8 174.5 650.2 174.6 650.6 174.6 651.0 174.7 651.4 174.8 651.8 175.0 652.2 175.1 652.6 175.3 653.0 175.5 653.4 175.7 653.8 175.9 654.2 176.1 654.6 176.3 655.0 176.5 655.4 176.8 655.8 177.1 656.2 177.4 656.6 177.7 657.0 177.9 657.4 178.2 657.8 178.4 658.2 178.6 658.6 178.8 659.0 179.0 659.4 179.2 659.8 179.3 660.2 179.5 660.6 179.7 661.0 179.8 661.4 179.9 661.8 180.1 662.2 180.2 662.6 180.3 663.0 180.5 663.4 180.6 663.8 180.7 664.2 180.9 664.6 181.0 665.0 181.1 665.4 181.2 665.8 181.4 666.2 181.5 666.6 181.6 667.0 181.7 667.4 181.8 667.8 181.9" fill="none" stroke="#dc5d67" stroke-width="1.7" stroke-linejoin="round"/>
<path d="M399.0 176.3 399.4 176.8 399.8 177.2 400.2 177.7 400.6 177.8 401.0 177.8 401.4 177.8 401.8 177.8 402.2 177.8 402.6 177.7 403.0 177.7 403.4 177.7 403.8 177.7 404.2 177.7 404.6 177.6 405.0 177.5 405.4 177.3 405.8 177.2 406.2 177.0 406.6 176.8 407.0 176.7 407.4 176.7 407.8 176.7 408.2 176.7 408.6 176.6 409.0 176.4 409.4 176.3 409.8 176.4 410.2 176.5 410.6 176.6 411.0 176.8 411.4 177.1 411.8 177.4 412.2 177.5 412.6 177.3 413.0 177.2 413.4 177.1 413.8 177.4 414.2 177.5 414.6 177.7 415.0 177.6 415.4 177.4 415.8 177.2 416.2 177.0 416.6 176.7 417.0 176.4 417.4 176.2 417.8 176.0 418.2 175.7 418.6 175.4 419.0 174.8 419.4 174.2 419.8 173.5 420.2 172.9 420.6 172.1 421.0 171.2 421.4 169.9 421.8 168.4 422.2 166.7 422.6 164.8 423.0 162.7 423.4 160.0 423.8 156.7 424.2 153.0 424.6 149.0 425.0 144.9 425.4 141.0 425.8 137.6 426.2 134.7 426.6 132.1 427.0 129.5 427.4 127.0 427.8 124.6 428.2 122.3 428.6 119.9 429.0 117.4 429.4 114.8 429.8 112.2 430.2 109.6 430.6 106.9 431.0 104.4 431.4 101.9 431.8 99.5 432.2 97.2 432.6 95.2 433.0 93.2 433.4 91.3 433.8 89.5 434.2 87.7 434.6 86.1 435.0 84.5 435.4 82.9 435.8 81.4 436.2 79.9 436.6 78.4 437.0 77.0 437.4 75.6 437.8 74.2 438.2 72.8 438.6 71.4 439.0 69.9 439.4 68.4 439.8 66.8 440.2 65.2 440.6 63.5 441.0 61.6 441.4 59.7 441.8 57.8 442.2 55.9 442.6 54.1 443.0 52.4 443.4 51.1 443.8 50.0 444.2 49.5 444.6 49.7 445.0 51.6 445.4 54.8 445.8 58.3 446.2 61.7 446.6 65.6 447.0 69.9 447.4 74.4 447.8 79.0 448.2 83.9 448.6 89.4 449.0 95.1 449.4 101.0 449.8 107.1 450.2 113.8 450.6 120.2 451.0 125.5 451.4 129.7 451.8 133.5 452.2 136.9 452.6 139.9 453.0 142.7 453.4 145.4 453.8 147.9 454.2 150.3 454.6 152.5 455.0 154.5 455.4 156.5 455.8 158.2 456.2 159.9 456.6 161.5 457.0 163.0 457.4 164.4 457.8 165.7 458.2 167.0 458.6 168.2 459.0 169.4 459.4 170.6 459.8 171.7 460.2 172.8 460.6 173.9 461.0 174.9 461.4 175.9 461.8 176.9 462.2 177.8 462.6 178.7 463.0 179.6 463.4 180.4 463.8 181.2 464.2 181.9 464.6 182.6 465.0 183.3 465.4 183.9 465.8 184.5 466.2 185.1 466.6 185.7 467.0 186.2 467.4 186.8 467.8 187.4 468.2 187.9 468.6 188.5 469.0 189.0 469.4 189.5 469.8 190.1 470.2 190.6 470.6 191.2 471.0 191.8 471.4 192.4 471.8 193.0 472.2 193.7 472.6 194.3 473.0 194.9 473.4 195.5 473.8 196.0 474.2 196.5 474.6 197.0 475.0 197.3 475.4 197.7 475.8 198.0 476.2 198.4 476.6 198.7 477.0 199.0 477.4 199.3 477.8 199.6 478.2 199.9 478.6 200.1 479.0 200.3 479.4 200.5 479.8 200.6 480.2 200.7 480.6 200.7 481.0 200.7 481.4 200.7 481.8 200.7 482.2 200.6 482.6 200.6 483.0 200.5 483.4 200.4 483.8 200.3 484.2 200.2 484.6 199.9 485.0 199.5 485.4 199.1 485.8 198.5 486.2 197.9 486.6 197.3 487.0 196.8 487.4 196.1 487.8 195.4 488.2 194.6 488.6 193.8 489.0 193.1 489.4 192.4 489.8 191.8 490.2 191.3 490.6 190.8 491.0 190.3 491.4 189.8 491.8 189.4 492.2 189.1 492.6 188.9 493.0 188.8 493.4 188.8 493.8 188.8 494.2 188.9 494.6 188.9 495.0 189.0 495.4 189.2 495.8 189.3 496.2 189.4 496.6 189.6 497.0 189.7 497.4 189.9 497.8 190.2 498.2 190.5 498.6 190.9 499.0 191.3 499.4 191.7 499.8 192.2 500.2 192.6 500.6 193.1 501.0 193.5 501.4 193.9 501.8 194.3 502.2 194.8 502.6 195.2 503.0 195.7 503.4 196.2 503.8 196.6 504.2 197.1 504.6 197.6 505.0 198.1 505.4 198.6 505.8 199.2 506.2 199.7 506.6 200.3 507.0 200.9 507.4 201.5 507.8 202.1 508.2 202.7 508.6 203.4 509.0 204.0 509.4 204.6 509.8 205.3 510.2 205.9 510.6 206.6 511.0 207.2 511.4 207.9 511.8 208.6 512.2 209.4 512.6 210.4 513.0 211.5 513.4 212.6 513.8 213.5 514.2 214.1 514.6 214.2 515.0 213.9 515.4 213.3 515.8 212.5 516.2 211.4 516.6 210.1 517.0 207.0 517.4 202.1 517.8 196.3 518.2 190.3 518.6 185.1 519.0 181.1 519.4 177.9 519.8 174.9 520.2 172.1 520.6 169.5 521.0 167.0 521.4 164.6 521.8 162.3 522.2 160.0 522.6 157.9 523.0 155.7 523.4 153.6 523.8 151.4 524.2 149.0 524.6 146.7 525.0 144.9 525.4 143.8 525.8 144.0 526.2 146.1 526.6 149.5 527.0 153.3 527.4 156.9 527.8 159.7 528.2 162.0 528.6 163.7 529.0 164.5 529.4 164.9 529.8 164.9 530.2 164.4 530.6 163.8 531.0 163.1 531.4 162.4 531.8 161.7 532.2 161.1 532.6 160.5 533.0 160.0 533.4 159.6 533.8 159.3 534.2 159.3 534.6 159.3 535.0 159.5 535.4 159.8 535.8 160.1 536.2 160.5 536.6 160.9 537.0 161.2 537.4 161.8 537.8 162.5 538.2 163.4 538.6 164.3 539.0 165.2 539.4 166.0 539.8 166.6 540.2 167.1 540.6 167.3 541.0 167.4 541.4 167.5 541.8 167.6 542.2 167.7 542.6 167.8 543.0 167.9 543.4 167.9 543.8 168.0 544.2 168.0 544.6 168.1 545.0 168.1 545.4 168.2 545.8 168.3 546.2 168.5 546.6 168.8 547.0 169.2 547.4 169.8 547.8 170.5 548.2 171.1 548.6 171.8 549.0 172.4 549.4 173.0 549.8 173.6 550.2 174.3 550.6 175.0 551.0 175.7 551.4 176.4 551.8 177.0 552.2 177.6 552.6 178.1 553.0 178.5 553.4 178.9 553.8 179.2 554.2 179.5 554.6 179.8 555.0 180.1 555.4 180.4 555.8 180.6 556.2 180.8 556.6 181.0 557.0 181.1 557.4 181.3 557.8 181.4 558.2 181.5 558.6 181.6 559.0 181.7 559.4 181.8 559.8 181.8 560.2 181.8 560.6 181.7 561.0 181.7 561.4 181.5 561.8 181.3 562.2 181.1 562.6 180.8 563.0 180.6 563.4 180.3 563.8 180.1 564.2 180.0 564.6 180.0 565.0 180.2 565.4 180.5 565.8 180.9 566.2 181.3 566.6 181.7 567.0 182.0 567.4 182.2 567.8 182.4 568.2 182.6 568.6 182.8 569.0 182.9 569.4 183.1 569.8 183.2 570.2 183.4 570.6 183.5 571.0 183.6 571.4 183.7 571.8 183.7 572.2 183.8 572.6 183.8 573.0 183.9 573.4 183.9 573.8 183.9 574.2 184.0 574.6 184.0 575.0 184.1 575.4 184.1 575.8 184.1 576.2 184.2 576.6 184.2 577.0 184.2 577.4 184.2 577.8 184.3 578.2 184.3 578.6 184.3 579.0 184.3 579.4 184.3 579.8 184.3 580.2 184.3 580.6 184.3 581.0 184.3 581.4 184.3 581.8 184.3 582.2 184.3 582.6 184.3 583.0 184.3 583.4 184.2 583.8 184.2 584.2 184.1 584.6 184.1 585.0 184.0 585.4 184.0 585.8 183.9 586.2 183.9 586.6 183.8 587.0 183.7 587.4 183.7 587.8 183.6 588.2 183.5 588.6 183.5 589.0 183.4 589.4 183.3 589.8 183.3 590.2 183.2 590.6 183.2 591.0 183.1 591.4 183.0 591.8 183.0 592.2 182.9 592.6 182.8 593.0 182.7 593.4 182.7 593.8 182.6 594.2 182.5 594.6 182.4 595.0 182.3 595.4 182.3 595.8 182.2 596.2 182.1 596.6 182.0 597.0 181.9 597.4 181.8 597.8 181.7 598.2 181.7 598.6 181.6 599.0 181.5 599.4 181.4 599.8 181.3 600.2 181.2 600.6 181.1 601.0 181.0 601.4 180.9 601.8 180.8 602.2 180.7 602.6 180.6 603.0 180.5 603.4 180.4 603.8 180.3 604.2 180.2 604.6 180.1 605.0 180.0 605.4 179.9 605.8 179.8 606.2 179.7 606.6 179.6 607.0 179.5 607.4 179.4 607.8 179.3 608.2 179.2 608.6 179.1 609.0 179.0 609.4 178.9 609.8 178.8 610.2 178.7 610.6 178.6 611.0 178.5 611.4 178.5 611.8 178.4 612.2 178.3 612.6 178.2 613.0 178.1 613.4 178.0 613.8 178.0 614.2 177.9 614.6 177.8 615.0 177.7 615.4 177.7 615.8 177.6 616.2 177.5 616.6 177.4 617.0 177.4 617.4 177.3 617.8 177.2 618.2 177.2 618.6 177.1 619.0 177.0 619.4 177.0 619.8 176.9 620.2 176.9 620.6 176.8 621.0 176.8 621.4 176.7 621.8 176.7 622.2 176.6 622.6 176.6 623.0 176.5 623.4 176.5 623.8 176.5 624.2 176.4 624.6 176.4 625.0 176.4 625.4 176.3 625.8 176.3 626.2 176.2 626.6 176.2 627.0 176.2 627.4 176.1 627.8 176.1 628.2 176.0 628.6 176.0 629.0 175.9 629.4 175.9 629.8 175.8 630.2 175.7 630.6 175.6 631.0 175.3 631.4 175.1 631.8 174.8 632.2 174.5 632.6 174.2 633.0 173.9 633.4 173.7 633.8 173.5 634.2 173.4 634.6 173.3 635.0 173.2 635.4 173.0 635.8 172.9 636.2 172.8 636.6 172.8 637.0 172.7 637.4 172.6 637.8 172.5 638.2 172.1 638.6 171.9 639.0 172.0 639.4 172.5 639.8 173.0 640.2 173.2 640.6 173.4 641.0 173.6 641.4 173.9 641.8 174.5 642.2 175.0 642.6 175.5 643.0 175.7 643.4 175.7 643.8 175.6 644.2 175.5 644.6 175.4 645.0 175.3 645.4 175.1 645.8 175.1 646.2 175.0 646.6 175.0 647.0 174.9 647.4 174.9 647.8 174.9 648.2 174.8 648.6 174.8 649.0 174.8 649.4 174.8 649.8 174.8 650.2 174.9 650.6 174.9 651.0 175.0 651.4 175.1 651.8 175.2 652.2 175.4 652.6 175.5 653.0 175.7 653.4 175.9 653.8 176.0 654.2 176.2 654.6 176.4 655.0 176.6 655.4 176.9 655.8 177.1 656.2 177.4 656.6 177.7 657.0 177.9 657.4 178.2 657.8 178.4 658.2 178.6 658.6 178.7 659.0 178.9 659.4 179.1 659.8 179.2 660.2 179.4 660.6 179.5 661.0 179.7 661.4 179.8 661.8 179.9 662.2 180.1 662.6 180.2 663.0 180.3 663.4 180.4 663.8 180.6 664.2 180.7 664.6 180.8 665.0 180.9 665.4 181.0 665.8 181.1 666.2 181.2 666.6 181.4 667.0 181.5 667.4 181.6 667.8 181.7" fill="none" stroke="#cc4778" stroke-width="1.7" stroke-linejoin="round"/>
<path d="M399.0 177.7 399.4 177.7 399.8 177.7 400.2 177.7 400.6 177.6 401.0 177.6 401.4 177.5 401.8 177.5 402.2 177.5 402.6 177.5 403.0 177.5 403.4 177.9 403.8 178.2 404.2 178.5 404.6 178.4 405.0 178.2 405.4 178.0 405.8 177.8 406.2 177.5 406.6 177.3 407.0 177.1 407.4 176.9 407.8 176.7 408.2 176.6 408.6 176.4 409.0 176.2 409.4 176.1 409.8 176.5 410.2 176.8 410.6 177.2 411.0 177.3 411.4 177.3 411.8 177.3 412.2 177.4 412.6 177.5 413.0 177.5 413.4 177.6 413.8 177.7 414.2 177.7 414.6 177.7 415.0 177.9 415.4 178.0 415.8 178.2 416.2 177.7 416.6 177.1 417.0 176.5 417.4 176.1 417.8 175.9 418.2 175.7 418.6 175.4 419.0 175.0 419.4 174.5 419.8 174.0 420.2 173.3 420.6 172.5 421.0 171.6 421.4 170.4 421.8 169.0 422.2 167.4 422.6 165.6 423.0 163.6 423.4 161.2 423.8 158.2 424.2 154.7 424.6 151.1 425.0 147.4 425.4 143.8 425.8 140.5 426.2 137.8 426.6 135.2 427.0 132.7 427.4 130.2 427.8 127.8 428.2 125.5 428.6 123.1 429.0 120.5 429.4 117.9 429.8 115.3 430.2 112.5 430.6 109.8 431.0 107.2 431.4 104.6 431.8 102.2 432.2 99.9 432.6 97.8 433.0 95.9 433.4 94.0 433.8 92.1 434.2 90.4 434.6 88.7 435.0 87.1 435.4 85.5 435.8 84.0 436.2 82.5 436.6 81.0 437.0 79.6 437.4 78.2 437.8 76.9 438.2 75.5 438.6 74.1 439.0 72.6 439.4 71.1 439.8 69.6 440.2 67.9 440.6 66.1 441.0 64.2 441.4 62.2 441.8 60.2 442.2 58.2 442.6 56.3 443.0 54.6 443.4 53.1 443.8 52.1 444.2 51.5 444.6 51.7 445.0 53.5 445.4 56.5 445.8 59.8 446.2 63.0 446.6 66.6 447.0 70.6 447.4 74.8 447.8 79.1 448.2 83.9 448.6 89.4 449.0 95.2 449.4 101.1 449.8 107.2 450.2 113.9 450.6 120.3 451.0 125.6 451.4 129.8 451.8 133.5 452.2 136.9 452.6 140.0 453.0 142.8 453.4 145.4 453.8 147.9 454.2 150.3 454.6 152.5 455.0 154.5 455.4 156.4 455.8 158.2 456.2 159.9 456.6 161.4 457.0 162.9 457.4 164.3 457.8 165.7 458.2 166.9 458.6 168.2 459.0 169.3 459.4 170.5 459.8 171.6 460.2 172.7 460.6 173.8 461.0 174.8 461.4 175.8 461.8 176.8 462.2 177.8 462.6 178.7 463.0 179.5 463.4 180.3 463.8 181.1 464.2 181.8 464.6 182.5 465.0 183.2 465.4 183.8 465.8 184.4 466.2 185.0 466.6 185.6 467.0 186.1 467.4 186.7 467.8 187.3 468.2 187.8 468.6 188.4 469.0 188.9 469.4 189.4 469.8 190.0 470.2 190.5 470.6 191.1 471.0 191.7 471.4 192.3 471.8 192.9 472.2 193.6 472.6 194.2 473.0 194.8 473.4 195.4 473.8 195.9 474.2 196.4 474.6 196.9 475.0 197.3 475.4 197.6 475.8 197.9 476.2 198.3 476.6 198.6 477.0 198.9 477.4 199.2 477.8 199.5 478.2 199.8 478.6 200.0 479.0 200.2 479.4 200.4 479.8 200.5 480.2 200.6 480.6 200.6 481.0 200.6 481.4 200.6 481.8 200.6 482.2 200.5 482.6 200.5 483.0 200.4 483.4 200.3 483.8 200.2 484.2 200.1 484.6 199.8 485.0 199.4 485.4 198.9 485.8 198.4 486.2 197.8 486.6 197.2 487.0 196.6 487.4 196.0 487.8 195.3 488.2 194.5 488.6 193.8 489.0 193.0 489.4 192.3 489.8 191.7 490.2 191.2 490.6 190.7 491.0 190.2 491.4 189.8 491.8 189.4 492.2 189.1 492.6 188.8 493.0 188.7 493.4 188.7 493.8 188.8 494.2 188.8 494.6 188.9 495.0 189.0 495.4 189.1 495.8 189.3 496.2 189.4 496.6 189.6 497.0 189.7 497.4 189.9 497.8 190.2 498.2 190.5 498.6 190.9 499.0 191.3 499.4 191.7 499.8 192.1 500.2 192.6 500.6 193.0 501.0 193.4 501.4 193.8 501.8 194.3 502.2 194.7 502.6 195.2 503.0 195.6 503.4 196.1 503.8 196.6 504.2 197.0 504.6 197.5 505.0 198.0 505.4 198.6 505.8 199.1 506.2 199.6 506.6 200.2 507.0 200.8 507.4 201.4 507.8 202.0 508.2 202.6 508.6 203.2 509.0 203.9 509.4 204.5 509.8 205.1 510.2 205.8 510.6 206.4 511.0 207.1 511.4 207.8 511.8 208.5 512.2 209.3 512.6 210.3 513.0 211.4 513.4 212.4 513.8 213.3 514.2 213.9 514.6 214.1 515.0 213.8 515.4 213.2 515.8 212.4 516.2 211.3 516.6 210.0 517.0 207.1 517.4 202.5 517.8 197.0 518.2 191.5 518.6 186.5 519.0 182.6 519.4 179.5 519.8 176.5 520.2 173.6 520.6 170.9 521.0 168.3 521.4 165.8 521.8 163.4 522.2 161.1 522.6 158.8 523.0 156.6 523.4 154.4 523.8 152.0 524.2 149.5 524.6 147.0 525.0 145.1 525.4 143.9 525.8 144.1 526.2 146.2 526.6 149.7 527.0 153.7 527.4 157.3 527.8 159.9 528.2 162.3 528.6 164.0 529.0 165.0 529.4 165.6 529.8 165.7 530.2 165.3 530.6 164.7 531.0 164.1 531.4 163.4 531.8 162.8 532.2 162.2 532.6 161.7 533.0 161.2 533.4 160.8 533.8 160.5 534.2 160.5 534.6 160.6 535.0 160.7 535.4 161.0 535.8 161.3 536.2 161.7 536.6 162.0 537.0 162.4 537.4 162.9 537.8 163.6 538.2 164.4 538.6 165.3 539.0 166.1 539.4 166.8 539.8 167.4 540.2 167.8 540.6 168.1 541.0 168.2 541.4 168.3 541.8 168.4 542.2 168.5 542.6 168.6 543.0 168.7 543.4 168.8 543.8 168.8 544.2 168.9 544.6 168.9 545.0 169.0 545.4 169.1 545.8 169.2 546.2 169.4 546.6 169.7 547.0 170.2 547.4 170.7 547.8 171.3 548.2 172.0 548.6 172.6 549.0 173.2 549.4 173.7 549.8 174.3 550.2 175.0 550.6 175.6 551.0 176.2 551.4 176.9 551.8 177.5 552.2 178.0 552.6 178.5 553.0 178.9 553.4 179.2 553.8 179.5 554.2 179.8 554.6 180.1 555.0 180.4 555.4 180.7 555.8 180.9 556.2 181.1 556.6 181.3 557.0 181.4 557.4 181.5 557.8 181.6 558.2 181.7 558.6 181.8 559.0 181.9 559.4 181.9 559.8 181.9 560.2 181.9 560.6 181.9 561.0 181.8 561.4 181.6 561.8 181.4 562.2 181.2 562.6 180.9 563.0 180.7 563.4 180.4 563.8 180.2 564.2 180.1 564.6 180.1 565.0 180.2 565.4 180.6 565.8 181.0 566.2 181.4 566.6 181.8 567.0 182.1 567.4 182.3 567.8 182.5 568.2 182.6 568.6 182.8 569.0 183.0 569.4 183.1 569.8 183.3 570.2 183.4 570.6 183.5 571.0 183.6 571.4 183.7 571.8 183.8 572.2 183.8 572.6 183.8 573.0 183.9 573.4 183.9 573.8 184.0 574.2 184.0 574.6 184.0 575.0 184.1 575.4 184.1 575.8 184.1 576.2 184.2 576.6 184.2 577.0 184.2 577.4 184.2 577.8 184.3 578.2 184.3 578.6 184.3 579.0 184.3 579.4 184.3 579.8 184.3 580.2 184.3 580.6 184.3 581.0 184.3 581.4 184.3 581.8 184.3 582.2 184.3 582.6 184.3 583.0 184.2 583.4 184.2 583.8 184.2 584.2 184.1 584.6 184.1 585.0 184.0 585.4 184.0 585.8 183.9 586.2 183.8 586.6 183.8 587.0 183.7 587.4 183.6 587.8 183.6 588.2 183.5 588.6 183.4 589.0 183.4 589.4 183.3 589.8 183.2 590.2 183.2 590.6 183.1 591.0 183.1 591.4 183.0 591.8 182.9 592.2 182.8 592.6 182.8 593.0 182.7 593.4 182.6 593.8 182.5 594.2 182.5 594.6 182.4 595.0 182.3 595.4 182.2 595.8 182.1 596.2 182.1 596.6 182.0 597.0 181.9 597.4 181.8 597.8 181.7 598.2 181.6 598.6 181.5 599.0 181.4 599.4 181.3 599.8 181.3 600.2 181.2 600.6 181.1 601.0 181.0 601.4 180.9 601.8 180.8 602.2 180.7 602.6 180.6 603.0 180.5 603.4 180.4 603.8 180.3 604.2 180.2 604.6 180.1 605.0 180.0 605.4 179.8 605.8 179.7 606.2 179.6 606.6 179.5 607.0 179.4 607.4 179.3 607.8 179.2 608.2 179.1 608.6 179.0 609.0 178.9 609.4 178.8 609.8 178.8 610.2 178.7 610.6 178.6 611.0 178.5 611.4 178.4 611.8 178.3 612.2 178.3 612.6 178.2 613.0 178.1 613.4 178.0 613.8 177.9 614.2 177.8 614.6 177.8 615.0 177.7 615.4 177.6 615.8 177.5 616.2 177.5 616.6 177.4 617.0 177.3 617.4 177.2 617.8 177.2 618.2 177.1 618.6 177.1 619.0 177.0 619.4 176.9 619.8 176.9 620.2 176.8 620.6 176.8 621.0 176.7 621.4 176.7 621.8 176.6 622.2 176.6 622.6 176.5 623.0 176.5 623.4 176.5 623.8 176.4 624.2 176.4 624.6 176.4 625.0 176.3 625.4 176.3 625.8 176.3 626.2 176.2 626.6 176.2 627.0 176.2 627.4 176.1 627.8 176.1 628.2 176.0 628.6 176.0 629.0 175.9 629.4 175.9 629.8 175.8 630.2 175.7 630.6 175.6 631.0 175.4 631.4 175.2 631.8 175.0 632.2 174.7 632.6 174.5 633.0 174.2 633.4 174.0 633.8 173.9 634.2 173.7 634.6 173.6 635.0 173.5 635.4 173.4 635.8 173.4 636.2 173.3 636.6 173.2 637.0 173.1 637.4 173.1 637.8 172.9 638.2 172.5 638.6 172.2 639.0 172.4 639.4 172.9 639.8 173.4 640.2 173.6 640.6 173.8 641.0 174.0 641.4 174.3 641.8 174.7 642.2 175.2 642.6 175.6 643.0 175.8 643.4 175.8 643.8 175.7 644.2 175.7 644.6 175.5 645.0 175.4 645.4 175.3 645.8 175.3 646.2 175.2 646.6 175.2 647.0 175.2 647.4 175.1 647.8 175.1 648.2 175.1 648.6 175.1 649.0 175.1 649.4 175.1 649.8 175.1 650.2 175.1 650.6 175.2 651.0 175.3 651.4 175.4 651.8 175.5 652.2 175.6 652.6 175.8 653.0 175.9 653.4 176.1 653.8 176.2 654.2 176.4 654.6 176.5 655.0 176.7 655.4 177.0 655.8 177.2 656.2 177.4 656.6 177.6 657.0 177.9 657.4 178.1 657.8 178.3 658.2 178.5 658.6 178.7 659.0 178.8 659.4 179.0 659.8 179.1 660.2 179.3 660.6 179.4 661.0 179.5 661.4 179.7 661.8 179.8 662.2 179.9 662.6 180.0 663.0 180.1 663.4 180.3 663.8 180.4 664.2 180.5 664.6 180.6 665.0 180.7 665.4 180.8 665.8 180.9 666.2 181.0 666.6 181.1 667.0 181.2 667.4 181.3 667.8 181.4" fill="none" stroke="#b93289" stroke-width="1.7" stroke-linejoin="round"/>
<path d="M399.0 177.1 399.4 177.1 399.8 177.1 400.2 177.0 400.6 177.2 401.0 177.5 401.4 177.7 401.8 177.8 402.2 177.7 402.6 177.7 403.0 177.7 403.4 177.8 403.8 177.9 404.2 178.0 404.6 178.2 405.0 178.4 405.4 178.6 405.8 178.3 406.2 177.9 406.6 177.5 407.0 177.1 407.4 176.8 407.8 176.5 408.2 176.4 408.6 176.6 409.0 176.8 409.4 177.1 409.8 176.9 410.2 176.7 410.6 176.6 411.0 176.6 411.4 176.8 411.8 176.9 412.2 176.9 412.6 177.0 413.0 177.0 413.4 177.0 413.8 177.3 414.2 177.5 414.6 177.8 415.0 177.6 415.4 177.4 415.8 177.2 416.2 176.9 416.6 176.5 417.0 176.2 417.4 175.9 417.8 175.8 418.2 175.6 418.6 175.3 419.0 175.0 419.4 174.6 419.8 174.1 420.2 173.5 420.6 172.8 421.0 171.9 421.4 170.9 421.8 169.6 422.2 168.1 422.6 166.4 423.0 164.6 423.4 162.3 423.8 159.6 424.2 156.5 424.6 153.2 425.0 149.8 425.4 146.5 425.8 143.5 426.2 140.8 426.6 138.3 427.0 135.9 427.4 133.4 427.8 131.1 428.2 128.7 428.6 126.3 429.0 123.7 429.4 121.0 429.8 118.3 430.2 115.5 430.6 112.7 431.0 110.0 431.4 107.4 431.8 104.9 432.2 102.6 432.6 100.5 433.0 98.5 433.4 96.6 433.8 94.8 434.2 93.1 434.6 91.4 435.0 89.8 435.4 88.2 435.8 86.6 436.2 85.1 436.6 83.7 437.0 82.3 437.4 80.9 437.8 79.5 438.2 78.1 438.6 76.7 439.0 75.3 439.4 73.8 439.8 72.3 440.2 70.6 440.6 68.8 441.0 66.8 441.4 64.7 441.8 62.6 442.2 60.5 442.6 58.5 443.0 56.7 443.4 55.2 443.8 54.1 444.2 53.5 444.6 53.7 445.0 55.4 445.4 58.2 445.8 61.4 446.2 64.3 446.6 67.6 447.0 71.3 447.4 75.2 447.8 79.3 448.2 83.9 448.6 89.4 449.0 95.2 449.4 101.2 449.8 107.3 450.2 113.9 450.6 120.3 451.0 125.6 451.4 129.9 451.8 133.6 452.2 137.0 452.6 140.0 453.0 142.8 453.4 145.5 453.8 147.9 454.2 150.3 454.6 152.5 455.0 154.5 455.4 156.4 455.8 158.2 456.2 159.8 456.6 161.4 457.0 162.9 457.4 164.3 457.8 165.6 458.2 166.9 458.6 168.1 459.0 169.3 459.4 170.4 459.8 171.6 460.2 172.7 460.6 173.7 461.0 174.8 461.4 175.8 461.8 176.7 462.2 177.7 462.6 178.6 463.0 179.4 463.4 180.3 463.8 181.0 464.2 181.8 464.6 182.4 465.0 183.1 465.4 183.7 465.8 184.3 466.2 184.9 466.6 185.5 467.0 186.0 467.4 186.6 467.8 187.2 468.2 187.7 468.6 188.2 469.0 188.8 469.4 189.3 469.8 189.9 470.2 190.4 470.6 191.0 471.0 191.6 471.4 192.2 471.8 192.8 472.2 193.5 472.6 194.1 473.0 194.7 473.4 195.3 473.8 195.8 474.2 196.3 474.6 196.8 475.0 197.2 475.4 197.5 475.8 197.8 476.2 198.2 476.6 198.5 477.0 198.8 477.4 199.1 477.8 199.4 478.2 199.7 478.6 199.9 479.0 200.1 479.4 200.3 479.8 200.4 480.2 200.5 480.6 200.5 481.0 200.5 481.4 200.5 481.8 200.5 482.2 200.4 482.6 200.4 483.0 200.3 483.4 200.2 483.8 200.1 484.2 200.0 484.6 199.7 485.0 199.3 485.4 198.8 485.8 198.3 486.2 197.7 486.6 197.1 487.0 196.5 487.4 195.9 487.8 195.2 488.2 194.4 488.6 193.7 489.0 192.9 489.4 192.2 489.8 191.6 490.2 191.1 490.6 190.6 491.0 190.2 491.4 189.7 491.8 189.3 492.2 189.0 492.6 188.8 493.0 188.7 493.4 188.7 493.8 188.7 494.2 188.8 494.6 188.9 495.0 189.0 495.4 189.1 495.8 189.2 496.2 189.4 496.6 189.5 497.0 189.7 497.4 189.9 497.8 190.1 498.2 190.4 498.6 190.8 499.0 191.2 499.4 191.6 499.8 192.1 500.2 192.5 500.6 192.9 501.0 193.4 501.4 193.8 501.8 194.2 502.2 194.6 502.6 195.1 503.0 195.5 503.4 196.0 503.8 196.5 504.2 197.0 504.6 197.5 505.0 198.0 505.4 198.5 505.8 199.0 506.2 199.5 506.6 200.1 507.0 200.7 507.4 201.3 507.8 201.9 508.2 202.5 508.6 203.1 509.0 203.7 509.4 204.3 509.8 205.0 510.2 205.6 510.6 206.3 511.0 206.9 511.4 207.6 511.8 208.3 512.2 209.1 512.6 210.1 513.0 211.2 513.4 212.3 513.8 213.2 514.2 213.8 514.6 214.0 515.0 213.7 515.4 213.1 515.8 212.3 516.2 211.2 516.6 210.0 517.0 207.2 517.4 202.9 517.8 197.8 518.2 192.6 518.6 188.0 519.0 184.2 519.4 181.1 519.8 178.0 520.2 175.0 520.6 172.2 521.0 169.6 521.4 167.0 521.8 164.5 522.2 162.1 522.6 159.7 523.0 157.4 523.4 155.1 523.8 152.6 524.2 150.0 524.6 147.4 525.0 145.2 525.4 144.0 525.8 144.2 526.2 146.4 526.6 150.0 527.0 154.1 527.4 157.6 527.8 160.2 528.2 162.5 528.6 164.3 529.0 165.5 529.4 166.2 529.8 166.4 530.2 166.2 530.6 165.7 531.0 165.1 531.4 164.5 531.8 163.8 532.2 163.3 532.6 162.8 533.0 162.3 533.4 162.0 533.8 161.7 534.2 161.7 534.6 161.8 535.0 162.0 535.4 162.2 535.8 162.5 536.2 162.9 536.6 163.2 537.0 163.6 537.4 164.1 537.8 164.7 538.2 165.5 538.6 166.3 539.0 167.0 539.4 167.7 539.8 168.2 540.2 168.6 540.6 168.8 541.0 169.0 541.4 169.1 541.8 169.2 542.2 169.3 542.6 169.4 543.0 169.5 543.4 169.6 543.8 169.7 544.2 169.8 544.6 169.8 545.0 169.9 545.4 170.0 545.8 170.1 546.2 170.3 546.6 170.6 547.0 171.1 547.4 171.6 547.8 172.2 548.2 172.8 548.6 173.4 549.0 174.0 549.4 174.5 549.8 175.0 550.2 175.6 550.6 176.2 551.0 176.8 551.4 177.4 551.8 177.9 552.2 178.4 552.6 178.8 553.0 179.2 553.4 179.5 553.8 179.9 554.2 180.2 554.6 180.4 555.0 180.7 555.4 181.0 555.8 181.2 556.2 181.4 556.6 181.5 557.0 181.6 557.4 181.7 557.8 181.8 558.2 181.9 558.6 182.0 559.0 182.0 559.4 182.0 559.8 182.1 560.2 182.0 560.6 182.0 561.0 181.9 561.4 181.8 561.8 181.6 562.2 181.3 562.6 181.0 563.0 180.8 563.4 180.5 563.8 180.3 564.2 180.2 564.6 180.2 565.0 180.3 565.4 180.6 565.8 181.0 566.2 181.5 566.6 181.9 567.0 182.1 567.4 182.3 567.8 182.5 568.2 182.7 568.6 182.9 569.0 183.0 569.4 183.2 569.8 183.3 570.2 183.5 570.6 183.6 571.0 183.7 571.4 183.7 571.8 183.8 572.2 183.8 572.6 183.9 573.0 183.9 573.4 183.9 573.8 184.0 574.2 184.0 574.6 184.0 575.0 184.1 575.4 184.1 575.8 184.1 576.2 184.2 576.6 184.2 577.0 184.2 577.4 184.2 577.8 184.2 578.2 184.3 578.6 184.3 579.0 184.3 579.4 184.3 579.8 184.3 580.2 184.3 580.6 184.3 581.0 184.3 581.4 184.3 581.8 184.3 582.2 184.3 582.6 184.2 583.0 184.2 583.4 184.2 583.8 184.1 584.2 184.1 584.6 184.0 585.0 184.0 585.4 183.9 585.8 183.9 586.2 183.8 586.6 183.7 587.0 183.7 587.4 183.6 587.8 183.5 588.2 183.5 588.6 183.4 589.0 183.3 589.4 183.3 589.8 183.2 590.2 183.1 590.6 183.1 591.0 183.0 591.4 183.0 591.8 182.9 592.2 182.8 592.6 182.7 593.0 182.7 593.4 182.6 593.8 182.5 594.2 182.4 594.6 182.3 595.0 182.3 595.4 182.2 595.8 182.1 596.2 182.0 596.6 181.9 597.0 181.8 597.4 181.8 597.8 181.7 598.2 181.6 598.6 181.5 599.0 181.4 599.4 181.3 599.8 181.2 600.2 181.1 600.6 181.0 601.0 180.9 601.4 180.9 601.8 180.8 602.2 180.7 602.6 180.5 603.0 180.4 603.4 180.3 603.8 180.2 604.2 180.1 604.6 180.0 605.0 179.9 605.4 179.8 605.8 179.7 606.2 179.6 606.6 179.5 607.0 179.4 607.4 179.3 607.8 179.2 608.2 179.1 608.6 179.0 609.0 178.9 609.4 178.8 609.8 178.7 610.2 178.6 610.6 178.6 611.0 178.5 611.4 178.4 611.8 178.3 612.2 178.2 612.6 178.1 613.0 178.0 613.4 178.0 613.8 177.9 614.2 177.8 614.6 177.7 615.0 177.6 615.4 177.6 615.8 177.5 616.2 177.4 616.6 177.3 617.0 177.3 617.4 177.2 617.8 177.1 618.2 177.1 618.6 177.0 619.0 176.9 619.4 176.9 619.8 176.8 620.2 176.8 620.6 176.7 621.0 176.7 621.4 176.6 621.8 176.6 622.2 176.6 622.6 176.5 623.0 176.5 623.4 176.4 623.8 176.4 624.2 176.4 624.6 176.4 625.0 176.3 625.4 176.3 625.8 176.3 626.2 176.2 626.6 176.2 627.0 176.2 627.4 176.1 627.8 176.1 628.2 176.0 628.6 176.0 629.0 176.0 629.4 175.9 629.8 175.8 630.2 175.8 630.6 175.7 631.0 175.5 631.4 175.3 631.8 175.1 632.2 174.9 632.6 174.7 633.0 174.5 633.4 174.3 633.8 174.2 634.2 174.1 634.6 174.0 635.0 173.9 635.4 173.8 635.8 173.8 636.2 173.7 636.6 173.6 637.0 173.6 637.4 173.5 637.8 173.3 638.2 172.8 638.6 172.5 639.0 172.7 639.4 173.3 639.8 173.8 640.2 174.0 640.6 174.2 641.0 174.3 641.4 174.6 641.8 175.0 642.2 175.4 642.6 175.8 643.0 175.9 643.4 175.9 643.8 175.9 644.2 175.8 644.6 175.7 645.0 175.6 645.4 175.5 645.8 175.5 646.2 175.5 646.6 175.4 647.0 175.4 647.4 175.4 647.8 175.4 648.2 175.4 648.6 175.4 649.0 175.4 649.4 175.4 649.8 175.4 650.2 175.4 650.6 175.5 651.0 175.5 651.4 175.6 651.8 175.7 652.2 175.9 652.6 176.0 653.0 176.1 653.4 176.2 653.8 176.4 654.2 176.5 654.6 176.7 655.0 176.8 655.4 177.0 655.8 177.2 656.2 177.4 656.6 177.6 657.0 177.8 657.4 178.0 657.8 178.2 658.2 178.4 658.6 178.6 659.0 178.7 659.4 178.9 659.8 179.0 660.2 179.2 660.6 179.3 661.0 179.4 661.4 179.5 661.8 179.7 662.2 179.8 662.6 179.9 663.0 180.0 663.4 180.1 663.8 180.2 664.2 180.3 664.6 180.4 665.0 180.5 665.4 180.6 665.8 180.7 666.2 180.8 666.6 180.9 667.0 180.9 667.4 181.0 667.8 181.1" fill="none" stroke="#a41e98" stroke-width="1.7" stroke-linejoin="round"/>
<path d="M399.0 176.9 399.4 176.9 399.8 176.9 400.2 176.8 400.6 177.2 401.0 177.6 401.4 178.1 401.8 178.2 402.2 178.1 402.6 177.9 403.0 177.8 403.4 177.8 403.8 177.9 404.2 177.8 404.6 178.3 405.0 178.7 405.4 179.0 405.8 178.7 406.2 178.0 406.6 177.4 407.0 177.0 407.4 176.8 407.8 176.6 408.2 176.5 408.6 176.6 409.0 176.7 409.4 176.9 409.8 176.7 410.2 176.6 410.6 176.4 411.0 176.5 411.4 176.5 411.8 176.6 412.2 176.8 412.6 177.1 413.0 177.4 413.4 177.6 413.8 177.6 414.2 177.6 414.6 177.5 415.0 177.3 415.4 177.0 415.8 176.7 416.2 176.8 416.6 176.9 417.0 177.0 417.4 176.9 417.8 176.5 418.2 176.1 418.6 175.7 419.0 175.4 419.4 175.0 419.8 174.5 420.2 173.8 420.6 173.1 421.0 172.3 421.4 171.4 421.8 170.2 422.2 168.8 422.6 167.2 423.0 165.5 423.4 163.5 423.8 161.0 424.2 158.3 424.6 155.3 425.0 152.2 425.4 149.2 425.8 146.4 426.2 143.9 426.6 141.5 427.0 139.0 427.4 136.6 427.8 134.3 428.2 131.9 428.6 129.4 429.0 126.8 429.4 124.1 429.8 121.3 430.2 118.4 430.6 115.6 431.0 112.8 431.4 110.2 431.8 107.7 432.2 105.3 432.6 103.2 433.0 101.2 433.4 99.3 433.8 97.5 434.2 95.7 434.6 94.0 435.0 92.4 435.4 90.8 435.8 89.3 436.2 87.7 436.6 86.3 437.0 84.9 437.4 83.5 437.8 82.2 438.2 80.8 438.6 79.4 439.0 78.0 439.4 76.5 439.8 75.0 440.2 73.3 440.6 71.5 441.0 69.4 441.4 67.2 441.8 65.0 442.2 62.8 442.6 60.7 443.0 58.8 443.4 57.3 443.8 56.1 444.2 55.5 444.6 55.6 445.0 57.3 445.4 59.9 445.8 62.9 446.2 65.7 446.6 68.7 447.0 72.0 447.4 75.6 447.8 79.4 448.2 84.0 448.6 89.4 449.0 95.3 449.4 101.3 449.8 107.4 450.2 114.0 450.6 120.4 451.0 125.7 451.4 129.9 451.8 133.7 452.2 137.0 452.6 140.1 453.0 142.9 453.4 145.5 453.8 147.9 454.2 150.3 454.6 152.4 455.0 154.5 455.4 156.4 455.8 158.1 456.2 159.8 456.6 161.4 457.0 162.8 457.4 164.2 457.8 165.6 458.2 166.8 458.6 168.1 459.0 169.2 459.4 170.4 459.8 171.5 460.2 172.6 460.6 173.7 461.0 174.7 461.4 175.7 461.8 176.7 462.2 177.6 462.6 178.5 463.0 179.4 463.4 180.2 463.8 180.9 464.2 181.7 464.6 182.3 465.0 183.0 465.4 183.6 465.8 184.2 466.2 184.8 466.6 185.4 467.0 185.9 467.4 186.5 467.8 187.1 468.2 187.6 468.6 188.1 469.0 188.7 469.4 189.2 469.8 189.7 470.2 190.3 470.6 190.9 471.0 191.5 471.4 192.1 471.8 192.7 472.2 193.4 472.6 194.0 473.0 194.6 473.4 195.2 473.8 195.7 474.2 196.3 474.6 196.7 475.0 197.1 475.4 197.4 475.8 197.7 476.2 198.1 476.6 198.4 477.0 198.7 477.4 199.0 477.8 199.3 478.2 199.6 478.6 199.8 479.0 200.0 479.4 200.2 479.8 200.3 480.2 200.4 480.6 200.4 481.0 200.4 481.4 200.4 481.8 200.4 482.2 200.3 482.6 200.2 483.0 200.2 483.4 200.1 483.8 200.0 484.2 199.9 484.6 199.6 485.0 199.2 485.4 198.7 485.8 198.2 486.2 197.6 486.6 197.0 487.0 196.4 487.4 195.8 487.8 195.1 488.2 194.3 488.6 193.6 489.0 192.8 489.4 192.1 489.8 191.5 490.2 191.1 490.6 190.6 491.0 190.1 491.4 189.7 491.8 189.3 492.2 189.0 492.6 188.7 493.0 188.6 493.4 188.7 493.8 188.7 494.2 188.7 494.6 188.8 495.0 188.9 495.4 189.1 495.8 189.2 496.2 189.3 496.6 189.5 497.0 189.6 497.4 189.8 497.8 190.1 498.2 190.4 498.6 190.8 499.0 191.2 499.4 191.6 499.8 192.0 500.2 192.4 500.6 192.9 501.0 193.3 501.4 193.7 501.8 194.1 502.2 194.6 502.6 195.0 503.0 195.5 503.4 195.9 503.8 196.4 504.2 196.9 504.6 197.4 505.0 197.9 505.4 198.4 505.8 198.9 506.2 199.4 506.6 200.0 507.0 200.6 507.4 201.1 507.8 201.7 508.2 202.3 508.6 203.0 509.0 203.6 509.4 204.2 509.8 204.8 510.2 205.5 510.6 206.1 511.0 206.8 511.4 207.5 511.8 208.2 512.2 209.0 512.6 210.0 513.0 211.1 513.4 212.2 513.8 213.1 514.2 213.7 514.6 213.8 515.0 213.6 515.4 213.0 515.8 212.2 516.2 211.1 516.6 209.9 517.0 207.3 517.4 203.3 517.8 198.6 518.2 193.8 518.6 189.4 519.0 185.8 519.4 182.6 519.8 179.5 520.2 176.5 520.6 173.6 521.0 170.9 521.4 168.2 521.8 165.6 522.2 163.1 522.6 160.6 523.0 158.2 523.4 155.8 523.8 153.3 524.2 150.4 524.6 147.7 525.0 145.4 525.4 144.1 525.8 144.3 526.2 146.6 526.6 150.3 527.0 154.4 527.4 158.0 527.8 160.5 528.2 162.8 528.6 164.7 529.0 166.0 529.4 166.8 529.8 167.2 530.2 167.1 530.6 166.7 531.0 166.1 531.4 165.5 531.8 164.9 532.2 164.4 532.6 164.0 533.0 163.5 533.4 163.2 533.8 163.0 534.2 162.9 534.6 163.0 535.0 163.2 535.4 163.4 535.8 163.7 536.2 164.1 536.6 164.4 537.0 164.8 537.4 165.2 537.8 165.8 538.2 166.5 538.6 167.2 539.0 167.9 539.4 168.5 539.8 169.0 540.2 169.4 540.6 169.6 541.0 169.8 541.4 169.9 541.8 170.0 542.2 170.2 542.6 170.3 543.0 170.4 543.4 170.5 543.8 170.5 544.2 170.6 544.6 170.7 545.0 170.8 545.4 170.9 545.8 171.0 546.2 171.2 546.6 171.5 547.0 172.0 547.4 172.5 547.8 173.1 548.2 173.6 548.6 174.2 549.0 174.7 549.4 175.2 549.8 175.7 550.2 176.3 550.6 176.8 551.0 177.3 551.4 177.9 551.8 178.4 552.2 178.8 552.6 179.2 553.0 179.6 553.4 179.9 553.8 180.2 554.2 180.5 554.6 180.8 555.0 181.0 555.4 181.2 555.8 181.5 556.2 181.6 556.6 181.8 557.0 181.9 557.4 181.9 557.8 182.0 558.2 182.1 558.6 182.1 559.0 182.2 559.4 182.2 559.8 182.2 560.2 182.1 560.6 182.1 561.0 182.0 561.4 181.9 561.8 181.7 562.2 181.4 562.6 181.1 563.0 180.9 563.4 180.6 563.8 180.4 564.2 180.2 564.6 180.2 565.0 180.4 565.4 180.7 565.8 181.1 566.2 181.6 566.6 181.9 567.0 182.2 567.4 182.4 567.8 182.6 568.2 182.8 568.6 182.9 569.0 183.1 569.4 183.3 569.8 183.4 570.2 183.5 570.6 183.6 571.0 183.7 571.4 183.8 571.8 183.8 572.2 183.9 572.6 183.9 573.0 183.9 573.4 184.0 573.8 184.0 574.2 184.0 574.6 184.1 575.0 184.1 575.4 184.1 575.8 184.1 576.2 184.2 576.6 184.2 577.0 184.2 577.4 184.2 577.8 184.2 578.2 184.2 578.6 184.3 579.0 184.3 579.4 184.3 579.8 184.3 580.2 184.3 580.6 184.3 581.0 184.3 581.4 184.3 581.8 184.3 582.2 184.2 582.6 184.2 583.0 184.2 583.4 184.2 583.8 184.1 584.2 184.1 584.6 184.0 585.0 184.0 585.4 183.9 585.8 183.8 586.2 183.8 586.6 183.7 587.0 183.6 587.4 183.6 587.8 183.5 588.2 183.4 588.6 183.4 589.0 183.3 589.4 183.2 589.8 183.2 590.2 183.1 590.6 183.0 591.0 183.0 591.4 182.9 591.8 182.8 592.2 182.8 592.6 182.7 593.0 182.6 593.4 182.5 593.8 182.5 594.2 182.4 594.6 182.3 595.0 182.2 595.4 182.1 595.8 182.1 596.2 182.0 596.6 181.9 597.0 181.8 597.4 181.7 597.8 181.6 598.2 181.5 598.6 181.5 599.0 181.4 599.4 181.3 599.8 181.2 600.2 181.1 600.6 181.0 601.0 180.9 601.4 180.8 601.8 180.7 602.2 180.6 602.6 180.5 603.0 180.4 603.4 180.3 603.8 180.2 604.2 180.1 604.6 180.0 605.0 179.9 605.4 179.8 605.8 179.7 606.2 179.6 606.6 179.5 607.0 179.4 607.4 179.3 607.8 179.2 608.2 179.1 608.6 179.0 609.0 178.9 609.4 178.8 609.8 178.7 610.2 178.6 610.6 178.5 611.0 178.4 611.4 178.3 611.8 178.3 612.2 178.2 612.6 178.1 613.0 178.0 613.4 177.9 613.8 177.8 614.2 177.8 614.6 177.7 615.0 177.6 615.4 177.5 615.8 177.4 616.2 177.4 616.6 177.3 617.0 177.2 617.4 177.2 617.8 177.1 618.2 177.0 618.6 177.0 619.0 176.9 619.4 176.8 619.8 176.8 620.2 176.7 620.6 176.7 621.0 176.6 621.4 176.6 621.8 176.6 622.2 176.5 622.6 176.5 623.0 176.5 623.4 176.4 623.8 176.4 624.2 176.4 624.6 176.3 625.0 176.3 625.4 176.3 625.8 176.2 626.2 176.2 626.6 176.2 627.0 176.2 627.4 176.1 627.8 176.1 628.2 176.1 628.6 176.0 629.0 176.0 629.4 175.9 629.8 175.9 630.2 175.8 630.6 175.7 631.0 175.6 631.4 175.5 631.8 175.3 632.2 175.1 632.6 174.9 633.0 174.8 633.4 174.6 633.8 174.5 634.2 174.5 634.6 174.4 635.0 174.3 635.4 174.2 635.8 174.2 636.2 174.1 636.6 174.1 637.0 174.0 637.4 173.9 637.8 173.7 638.2 173.2 638.6 172.8 639.0 173.0 639.4 173.6 639.8 174.2 640.2 174.4 640.6 174.6 641.0 174.7 641.4 174.9 641.8 175.2 642.2 175.6 642.6 175.9 643.0 176.0 643.4 176.0 643.8 176.0 644.2 175.9 644.6 175.9 645.0 175.8 645.4 175.7 645.8 175.7 646.2 175.7 646.6 175.7 647.0 175.7 647.4 175.6 647.8 175.6 648.2 175.7 648.6 175.7 649.0 175.7 649.4 175.7 649.8 175.7 650.2 175.7 650.6 175.8 651.0 175.8 651.4 175.9 651.8 176.0 652.2 176.1 652.6 176.2 653.0 176.3 653.4 176.4 653.8 176.5 654.2 176.7 654.6 176.8 655.0 176.9 655.4 177.1 655.8 177.3 656.2 177.5 656.6 177.6 657.0 177.8 657.4 178.0 657.8 178.2 658.2 178.3 658.6 178.5 659.0 178.6 659.4 178.8 659.8 178.9 660.2 179.0 660.6 179.2 661.0 179.3 661.4 179.4 661.8 179.5 662.2 179.6 662.6 179.7 663.0 179.8 663.4 179.9 663.8 180.0 664.2 180.1 664.6 180.2 665.0 180.3 665.4 180.4 665.8 180.4 666.2 180.5 666.6 180.6 667.0 180.7 667.4 180.7 667.8 180.8" fill="none" stroke="#8b0ba4" stroke-width="1.7" stroke-linejoin="round"/>
<path d="M399.0 176.6 399.4 176.9 399.8 177.2 400.2 177.5 400.6 177.5 401.0 177.5 401.4 177.4 401.8 177.4 402.2 177.6 402.6 177.8 403.0 177.9 403.4 177.9 403.8 177.9 404.2 177.9 404.6 177.9 405.0 177.8 405.4 177.8 405.8 177.5 406.2 177.2 406.6 176.9 407.0 176.6 407.4 176.6 407.8 176.5 408.2 176.6 408.6 176.7 409.0 176.9 409.4 177.1 409.8 177.0 410.2 177.0 410.6 177.0 411.0 177.1 411.4 177.3 411.8 177.5 412.2 177.5 412.6 177.5 413.0 177.4 413.4 177.4 413.8 177.5 414.2 177.5 414.6 177.5 415.0 177.4 415.4 177.1 415.8 176.9 416.2 176.8 416.6 176.7 417.0 176.5 417.4 176.4 417.8 176.2 418.2 176.0 418.6 175.7 419.0 175.5 419.4 175.2 419.8 174.8 420.2 174.2 420.6 173.6 421.0 172.9 421.4 172.0 421.8 170.8 422.2 169.5 422.6 168.1 423.0 166.5 423.4 164.6 423.8 162.4 424.2 160.0 424.6 157.4 425.0 154.7 425.4 152.0 425.8 149.4 426.2 147.0 426.6 144.6 427.0 142.2 427.4 139.9 427.8 137.5 428.2 135.1 428.6 132.6 429.0 130.0 429.4 127.2 429.8 124.3 430.2 121.4 430.6 118.5 431.0 115.7 431.4 113.0 431.8 110.4 432.2 108.0 432.6 105.9 433.0 103.9 433.4 102.0 433.8 100.1 434.2 98.4 434.6 96.7 435.0 95.0 435.4 93.5 435.8 91.9 436.2 90.4 436.6 88.9 437.0 87.5 437.4 86.1 437.8 84.8 438.2 83.5 438.6 82.1 439.0 80.7 439.4 79.2 439.8 77.7 440.2 76.0 440.6 74.1 441.0 72.0 441.4 69.7 441.8 67.4 442.2 65.1 442.6 62.9 443.0 60.9 443.4 59.3 443.8 58.1 444.2 57.5 444.6 57.6 445.0 59.2 445.4 61.6 445.8 64.4 446.2 67.0 446.6 69.7 447.0 72.7 447.4 76.0 447.8 79.6 448.2 84.0 448.6 89.4 449.0 95.3 449.4 101.3 449.8 107.4 450.2 114.1 450.6 120.5 451.0 125.8 451.4 130.0 451.8 133.7 452.2 137.1 452.6 140.1 453.0 142.9 453.4 145.5 453.8 148.0 454.2 150.3 454.6 152.4 455.0 154.5 455.4 156.3 455.8 158.1 456.2 159.8 456.6 161.3 457.0 162.8 457.4 164.2 457.8 165.5 458.2 166.8 458.6 168.0 459.0 169.2 459.4 170.3 459.8 171.4 460.2 172.5 460.6 173.6 461.0 174.6 461.4 175.6 461.8 176.6 462.2 177.5 462.6 178.4 463.0 179.3 463.4 180.1 463.8 180.9 464.2 181.6 464.6 182.3 465.0 182.9 465.4 183.5 465.8 184.1 466.2 184.7 466.6 185.2 467.0 185.8 467.4 186.4 467.8 186.9 468.2 187.5 468.6 188.0 469.0 188.6 469.4 189.1 469.8 189.6 470.2 190.2 470.6 190.7 471.0 191.3 471.4 192.0 471.8 192.6 472.2 193.3 472.6 193.9 473.0 194.5 473.4 195.1 473.8 195.7 474.2 196.2 474.6 196.6 475.0 197.0 475.4 197.3 475.8 197.7 476.2 198.0 476.6 198.3 477.0 198.6 477.4 198.9 477.8 199.2 478.2 199.5 478.6 199.7 479.0 199.9 479.4 200.1 479.8 200.2 480.2 200.3 480.6 200.3 481.0 200.3 481.4 200.3 481.8 200.3 482.2 200.2 482.6 200.1 483.0 200.1 483.4 200.0 483.8 199.9 484.2 199.7 484.6 199.5 485.0 199.1 485.4 198.6 485.8 198.1 486.2 197.5 486.6 196.9 487.0 196.3 487.4 195.7 487.8 195.0 488.2 194.3 488.6 193.5 489.0 192.7 489.4 192.0 489.8 191.5 490.2 191.0 490.6 190.5 491.0 190.1 491.4 189.6 491.8 189.2 492.2 188.9 492.6 188.7 493.0 188.6 493.4 188.6 493.8 188.7 494.2 188.7 494.6 188.8 495.0 188.9 495.4 189.0 495.8 189.2 496.2 189.3 496.6 189.4 497.0 189.6 497.4 189.8 497.8 190.1 498.2 190.4 498.6 190.7 499.0 191.1 499.4 191.5 499.8 191.9 500.2 192.4 500.6 192.8 501.0 193.2 501.4 193.6 501.8 194.0 502.2 194.5 502.6 194.9 503.0 195.4 503.4 195.8 503.8 196.3 504.2 196.8 504.6 197.3 505.0 197.8 505.4 198.3 505.8 198.8 506.2 199.3 506.6 199.9 507.0 200.5 507.4 201.0 507.8 201.6 508.2 202.2 508.6 202.8 509.0 203.4 509.4 204.0 509.8 204.7 510.2 205.3 510.6 206.0 511.0 206.6 511.4 207.3 511.8 208.1 512.2 208.8 512.6 209.8 513.0 211.0 513.4 212.1 513.8 213.0 514.2 213.6 514.6 213.7 515.0 213.5 515.4 212.9 515.8 212.1 516.2 211.1 516.6 209.9 517.0 207.4 517.4 203.7 517.8 199.4 518.2 194.9 518.6 190.9 519.0 187.4 519.4 184.2 519.8 181.0 520.2 178.0 520.6 175.0 521.0 172.2 521.4 169.5 521.8 166.8 522.2 164.1 522.6 161.6 523.0 159.0 523.4 156.5 523.8 153.9 524.2 150.9 524.6 148.0 525.0 145.6 525.4 144.2 525.8 144.4 526.2 146.8 526.6 150.6 527.0 154.8 527.4 158.3 527.8 160.8 528.2 163.1 528.6 165.0 529.0 166.4 529.4 167.5 529.8 168.0 530.2 168.0 530.6 167.6 531.0 167.1 531.4 166.5 531.8 166.0 532.2 165.5 532.6 165.1 533.0 164.7 533.4 164.4 533.8 164.2 534.2 164.1 534.6 164.2 535.0 164.4 535.4 164.6 535.8 164.9 536.2 165.3 536.6 165.6 537.0 166.0 537.4 166.4 537.8 166.9 538.2 167.6 538.6 168.2 539.0 168.8 539.4 169.4 539.8 169.8 540.2 170.1 540.6 170.4 541.0 170.5 541.4 170.7 541.8 170.8 542.2 171.0 542.6 171.1 543.0 171.2 543.4 171.3 543.8 171.4 544.2 171.5 544.6 171.6 545.0 171.6 545.4 171.8 545.8 171.9 546.2 172.1 546.6 172.5 547.0 172.9 547.4 173.4 547.8 173.9 548.2 174.5 548.6 175.0 549.0 175.5 549.4 176.0 549.8 176.4 550.2 176.9 550.6 177.4 551.0 177.9 551.4 178.4 551.8 178.8 552.2 179.2 552.6 179.6 553.0 179.9 553.4 180.2 553.8 180.5 554.2 180.8 554.6 181.1 555.0 181.3 555.4 181.5 555.8 181.7 556.2 181.9 556.6 182.0 557.0 182.1 557.4 182.1 557.8 182.2 558.2 182.2 558.6 182.3 559.0 182.3 559.4 182.3 559.8 182.3 560.2 182.3 560.6 182.2 561.0 182.1 561.4 182.0 561.8 181.8 562.2 181.5 562.6 181.2 563.0 180.9 563.4 180.7 563.8 180.5 564.2 180.3 564.6 180.3 565.0 180.5 565.4 180.8 565.8 181.2 566.2 181.6 566.6 182.0 567.0 182.3 567.4 182.5 567.8 182.7 568.2 182.8 568.6 183.0 569.0 183.2 569.4 183.3 569.8 183.4 570.2 183.6 570.6 183.7 571.0 183.8 571.4 183.8 571.8 183.9 572.2 183.9 572.6 183.9 573.0 184.0 573.4 184.0 573.8 184.0 574.2 184.0 574.6 184.1 575.0 184.1 575.4 184.1 575.8 184.1 576.2 184.2 576.6 184.2 577.0 184.2 577.4 184.2 577.8 184.2 578.2 184.2 578.6 184.2 579.0 184.2 579.4 184.3 579.8 184.3 580.2 184.3 580.6 184.3 581.0 184.3 581.4 184.3 581.8 184.2 582.2 184.2 582.6 184.2 583.0 184.2 583.4 184.1 583.8 184.1 584.2 184.0 584.6 184.0 585.0 183.9 585.4 183.9 585.8 183.8 586.2 183.7 586.6 183.7 587.0 183.6 587.4 183.5 587.8 183.5 588.2 183.4 588.6 183.3 589.0 183.3 589.4 183.2 589.8 183.1 590.2 183.1 590.6 183.0 591.0 182.9 591.4 182.9 591.8 182.8 592.2 182.7 592.6 182.7 593.0 182.6 593.4 182.5 593.8 182.4 594.2 182.4 594.6 182.3 595.0 182.2 595.4 182.1 595.8 182.0 596.2 181.9 596.6 181.9 597.0 181.8 597.4 181.7 597.8 181.6 598.2 181.5 598.6 181.4 599.0 181.3 599.4 181.2 599.8 181.2 600.2 181.1 600.6 181.0 601.0 180.9 601.4 180.8 601.8 180.7 602.2 180.6 602.6 180.5 603.0 180.4 603.4 180.3 603.8 180.2 604.2 180.1 604.6 179.9 605.0 179.8 605.4 179.7 605.8 179.6 606.2 179.5 606.6 179.4 607.0 179.3 607.4 179.2 607.8 179.1 608.2 179.0 608.6 178.9 609.0 178.8 609.4 178.7 609.8 178.6 610.2 178.6 610.6 178.5 611.0 178.4 611.4 178.3 611.8 178.2 612.2 178.1 612.6 178.1 613.0 178.0 613.4 177.9 613.8 177.8 614.2 177.7 614.6 177.6 615.0 177.6 615.4 177.5 615.8 177.4 616.2 177.3 616.6 177.3 617.0 177.2 617.4 177.1 617.8 177.0 618.2 177.0 618.6 176.9 619.0 176.9 619.4 176.8 619.8 176.7 620.2 176.7 620.6 176.7 621.0 176.6 621.4 176.6 621.8 176.5 622.2 176.5 622.6 176.5 623.0 176.4 623.4 176.4 623.8 176.4 624.2 176.3 624.6 176.3 625.0 176.3 625.4 176.3 625.8 176.2 626.2 176.2 626.6 176.2 627.0 176.1 627.4 176.1 627.8 176.1 628.2 176.1 628.6 176.0 629.0 176.0 629.4 176.0 629.8 175.9 630.2 175.9 630.6 175.8 631.0 175.7 631.4 175.6 631.8 175.5 632.2 175.3 632.6 175.2 633.0 175.1 633.4 175.0 633.8 174.9 634.2 174.8 634.6 174.8 635.0 174.7 635.4 174.6 635.8 174.6 636.2 174.5 636.6 174.5 637.0 174.4 637.4 174.4 637.8 174.2 638.2 173.6 638.6 173.2 639.0 173.4 639.4 174.0 639.8 174.6 640.2 174.8 640.6 174.9 641.0 175.1 641.4 175.3 641.8 175.5 642.2 175.8 642.6 176.0 643.0 176.1 643.4 176.1 643.8 176.1 644.2 176.1 644.6 176.0 645.0 176.0 645.4 175.9 645.8 175.9 646.2 175.9 646.6 175.9 647.0 175.9 647.4 175.9 647.8 175.9 648.2 175.9 648.6 175.9 649.0 175.9 649.4 176.0 649.8 176.0 650.2 176.0 650.6 176.1 651.0 176.1 651.4 176.2 651.8 176.3 652.2 176.3 652.6 176.4 653.0 176.5 653.4 176.6 653.8 176.7 654.2 176.8 654.6 176.9 655.0 177.1 655.4 177.2 655.8 177.3 656.2 177.5 656.6 177.6 657.0 177.8 657.4 177.9 657.8 178.1 658.2 178.2 658.6 178.4 659.0 178.5 659.4 178.7 659.8 178.8 660.2 178.9 660.6 179.1 661.0 179.2 661.4 179.3 661.8 179.4 662.2 179.5 662.6 179.6 663.0 179.7 663.4 179.7 663.8 179.8 664.2 179.9 664.6 180.0 665.0 180.1 665.4 180.1 665.8 180.2 666.2 180.3 666.6 180.4 667.0 180.4 667.4 180.5 667.8 180.5" fill="none" stroke="#7001a7" stroke-width="1.7" stroke-linejoin="round"/>
<path d="M399.0 177.4 399.4 177.3 399.8 177.2 400.2 177.0 400.6 177.1 401.0 177.3 401.4 177.4 401.8 177.5 402.2 177.6 402.6 177.6 403.0 177.6 403.4 177.5 403.8 177.5 404.2 177.4 404.6 177.4 405.0 177.4 405.4 177.4 405.8 177.3 406.2 177.2 406.6 177.1 407.0 177.0 407.4 176.9 407.8 176.8 408.2 176.7 408.6 176.6 409.0 176.5 409.4 176.4 409.8 176.6 410.2 176.8 410.6 177.1 411.0 177.2 411.4 177.2 411.8 177.3 412.2 177.4 412.6 177.6 413.0 177.8 413.4 177.9 413.8 177.9 414.2 177.8 414.6 177.8 415.0 177.5 415.4 177.1 415.8 176.8 416.2 177.0 416.6 177.3 417.0 177.7 417.4 177.5 417.8 176.9 418.2 176.4 418.6 175.9 419.0 175.7 419.4 175.4 419.8 175.0 420.2 174.4 420.6 173.8 421.0 173.2 421.4 172.4 421.8 171.4 422.2 170.2 422.6 168.9 423.0 167.4 423.4 165.7 423.8 163.8 424.2 161.8 424.6 159.5 425.0 157.1 425.4 154.7 425.8 152.3 426.2 150.0 426.6 147.7 427.0 145.4 427.4 143.1 427.8 140.7 428.2 138.4 428.6 135.8 429.0 133.1 429.4 130.3 429.8 127.3 430.2 124.4 430.6 121.4 431.0 118.5 431.4 115.7 431.8 113.1 432.2 110.7 432.6 108.6 433.0 106.5 433.4 104.6 433.8 102.8 434.2 101.0 434.6 99.3 435.0 97.7 435.4 96.1 435.8 94.5 436.2 93.0 436.6 91.5 437.0 90.1 437.4 88.8 437.8 87.4 438.2 86.1 438.6 84.8 439.0 83.4 439.4 81.9 439.8 80.4 440.2 78.7 440.6 76.8 441.0 74.6 441.4 72.2 441.8 69.8 442.2 67.4 442.6 65.1 443.0 63.1 443.4 61.4 443.8 60.2 444.2 59.5 444.6 59.6 445.0 61.1 445.4 63.4 445.8 65.9 446.2 68.3 446.6 70.7 447.0 73.4 447.4 76.4 447.8 79.7 448.2 84.0 448.6 89.4 449.0 95.4 449.4 101.4 449.8 107.5 450.2 114.1 450.6 120.6 451.0 125.9 451.4 130.0 451.8 133.8 452.2 137.1 452.6 140.1 453.0 142.9 453.4 145.5 453.8 148.0 454.2 150.3 454.6 152.4 455.0 154.4 455.4 156.3 455.8 158.1 456.2 159.7 456.6 161.3 457.0 162.7 457.4 164.1 457.8 165.5 458.2 166.7 458.6 167.9 459.0 169.1 459.4 170.3 459.8 171.4 460.2 172.5 460.6 173.5 461.0 174.6 461.4 175.6 461.8 176.5 462.2 177.5 462.6 178.3 463.0 179.2 463.4 180.0 463.8 180.8 464.2 181.5 464.6 182.2 465.0 182.8 465.4 183.4 465.8 184.0 466.2 184.6 466.6 185.1 467.0 185.7 467.4 186.3 467.8 186.8 468.2 187.4 468.6 187.9 469.0 188.5 469.4 189.0 469.8 189.5 470.2 190.1 470.6 190.6 471.0 191.2 471.4 191.9 471.8 192.5 472.2 193.2 472.6 193.8 473.0 194.4 473.4 195.0 473.8 195.6 474.2 196.1 474.6 196.5 475.0 196.9 475.4 197.2 475.8 197.6 476.2 197.9 476.6 198.2 477.0 198.5 477.4 198.8 477.8 199.1 478.2 199.4 478.6 199.6 479.0 199.8 479.4 200.0 479.8 200.1 480.2 200.2 480.6 200.2 481.0 200.2 481.4 200.2 481.8 200.2 482.2 200.1 482.6 200.0 483.0 200.0 483.4 199.9 483.8 199.8 484.2 199.6 484.6 199.4 485.0 199.0 485.4 198.5 485.8 198.0 486.2 197.4 486.6 196.8 487.0 196.2 487.4 195.6 487.8 194.9 488.2 194.2 488.6 193.4 489.0 192.6 489.4 192.0 489.8 191.4 490.2 190.9 490.6 190.5 491.0 190.0 491.4 189.6 491.8 189.2 492.2 188.9 492.6 188.7 493.0 188.6 493.4 188.6 493.8 188.6 494.2 188.7 494.6 188.8 495.0 188.9 495.4 189.0 495.8 189.1 496.2 189.3 496.6 189.4 497.0 189.6 497.4 189.8 497.8 190.0 498.2 190.3 498.6 190.7 499.0 191.1 499.4 191.5 499.8 191.9 500.2 192.3 500.6 192.7 501.0 193.1 501.4 193.6 501.8 194.0 502.2 194.4 502.6 194.8 503.0 195.3 503.4 195.8 503.8 196.2 504.2 196.7 504.6 197.2 505.0 197.7 505.4 198.2 505.8 198.7 506.2 199.3 506.6 199.8 507.0 200.3 507.4 200.9 507.8 201.5 508.2 202.1 508.6 202.7 509.0 203.3 509.4 203.9 509.8 204.5 510.2 205.2 510.6 205.8 511.0 206.5 511.4 207.2 511.8 207.9 512.2 208.7 512.6 209.7 513.0 210.8 513.4 211.9 513.8 212.9 514.2 213.5 514.6 213.6 515.0 213.4 515.4 212.8 515.8 212.0 516.2 211.0 516.6 209.8 517.0 207.5 517.4 204.2 517.8 200.2 518.2 196.1 518.6 192.3 519.0 189.0 519.4 185.7 519.8 182.5 520.2 179.4 520.6 176.4 521.0 173.5 521.4 170.7 521.8 167.9 522.2 165.2 522.6 162.5 523.0 159.8 523.4 157.2 523.8 154.5 524.2 151.4 524.6 148.3 525.0 145.8 525.4 144.3 525.8 144.5 526.2 146.9 526.6 150.8 527.0 155.1 527.4 158.7 527.8 161.1 528.2 163.3 528.6 165.3 529.0 166.9 529.4 168.1 529.8 168.8 530.2 168.9 530.6 168.6 531.0 168.1 531.4 167.6 531.8 167.0 532.2 166.6 532.6 166.2 533.0 165.9 533.4 165.6 533.8 165.4 534.2 165.4 534.6 165.4 535.0 165.6 535.4 165.9 535.8 166.1 536.2 166.5 536.6 166.8 537.0 167.1 537.4 167.5 537.8 168.0 538.2 168.6 538.6 169.2 539.0 169.8 539.4 170.2 539.8 170.6 540.2 170.9 540.6 171.1 541.0 171.3 541.4 171.5 541.8 171.6 542.2 171.8 542.6 171.9 543.0 172.1 543.4 172.2 543.8 172.3 544.2 172.3 544.6 172.4 545.0 172.5 545.4 172.6 545.8 172.8 546.2 173.0 546.6 173.4 547.0 173.8 547.4 174.3 547.8 174.8 548.2 175.3 548.6 175.8 549.0 176.3 549.4 176.7 549.8 177.1 550.2 177.6 550.6 178.0 551.0 178.5 551.4 178.9 551.8 179.3 552.2 179.7 552.6 180.0 553.0 180.3 553.4 180.6 553.8 180.8 554.2 181.1 554.6 181.4 555.0 181.6 555.4 181.8 555.8 182.0 556.2 182.2 556.6 182.3 557.0 182.3 557.4 182.4 557.8 182.4 558.2 182.4 558.6 182.4 559.0 182.4 559.4 182.4 559.8 182.4 560.2 182.4 560.6 182.3 561.0 182.3 561.4 182.1 561.8 181.9 562.2 181.7 562.6 181.4 563.0 181.0 563.4 180.8 563.8 180.5 564.2 180.4 564.6 180.4 565.0 180.5 565.4 180.9 565.8 181.3 566.2 181.7 566.6 182.1 567.0 182.4 567.4 182.5 567.8 182.7 568.2 182.9 568.6 183.1 569.0 183.2 569.4 183.4 569.8 183.5 570.2 183.6 570.6 183.7 571.0 183.8 571.4 183.9 571.8 183.9 572.2 183.9 572.6 184.0 573.0 184.0 573.4 184.0 573.8 184.0 574.2 184.1 574.6 184.1 575.0 184.1 575.4 184.1 575.8 184.1 576.2 184.1 576.6 184.2 577.0 184.2 577.4 184.2 577.8 184.2 578.2 184.2 578.6 184.2 579.0 184.2 579.4 184.2 579.8 184.2 580.2 184.2 580.6 184.2 581.0 184.2 581.4 184.2 581.8 184.2 582.2 184.2 582.6 184.2 583.0 184.1 583.4 184.1 583.8 184.1 584.2 184.0 584.6 184.0 585.0 183.9 585.4 183.8 585.8 183.8 586.2 183.7 586.6 183.6 587.0 183.6 587.4 183.5 587.8 183.4 588.2 183.4 588.6 183.3 589.0 183.2 589.4 183.2 589.8 183.1 590.2 183.0 590.6 183.0 591.0 182.9 591.4 182.8 591.8 182.8 592.2 182.7 592.6 182.6 593.0 182.6 593.4 182.5 593.8 182.4 594.2 182.3 594.6 182.2 595.0 182.2 595.4 182.1 595.8 182.0 596.2 181.9 596.6 181.8 597.0 181.7 597.4 181.6 597.8 181.6 598.2 181.5 598.6 181.4 599.0 181.3 599.4 181.2 599.8 181.1 600.2 181.0 600.6 180.9 601.0 180.8 601.4 180.7 601.8 180.6 602.2 180.5 602.6 180.4 603.0 180.3 603.4 180.2 603.8 180.1 604.2 180.0 604.6 179.9 605.0 179.8 605.4 179.7 605.8 179.6 606.2 179.5 606.6 179.4 607.0 179.3 607.4 179.2 607.8 179.1 608.2 179.0 608.6 178.9 609.0 178.8 609.4 178.7 609.8 178.6 610.2 178.5 610.6 178.4 611.0 178.4 611.4 178.3 611.8 178.2 612.2 178.1 612.6 178.0 613.0 177.9 613.4 177.8 613.8 177.8 614.2 177.7 614.6 177.6 615.0 177.5 615.4 177.4 615.8 177.4 616.2 177.3 616.6 177.2 617.0 177.1 617.4 177.1 617.8 177.0 618.2 176.9 618.6 176.9 619.0 176.8 619.4 176.8 619.8 176.7 620.2 176.7 620.6 176.6 621.0 176.6 621.4 176.5 621.8 176.5 622.2 176.5 622.6 176.4 623.0 176.4 623.4 176.4 623.8 176.3 624.2 176.3 624.6 176.3 625.0 176.3 625.4 176.2 625.8 176.2 626.2 176.2 626.6 176.2 627.0 176.1 627.4 176.1 627.8 176.1 628.2 176.1 628.6 176.0 629.0 176.0 629.4 176.0 629.8 175.9 630.2 175.9 630.6 175.9 631.0 175.8 631.4 175.7 631.8 175.6 632.2 175.5 632.6 175.4 633.0 175.4 633.4 175.3 633.8 175.2 634.2 175.2 634.6 175.1 635.0 175.1 635.4 175.0 635.8 175.0 636.2 175.0 636.6 174.9 637.0 174.9 637.4 174.8 637.8 174.6 638.2 173.9 638.6 173.5 639.0 173.7 639.4 174.4 639.8 175.0 640.2 175.2 640.6 175.3 641.0 175.4 641.4 175.6 641.8 175.8 642.2 176.0 642.6 176.1 643.0 176.2 643.4 176.2 643.8 176.2 644.2 176.2 644.6 176.2 645.0 176.2 645.4 176.1 645.8 176.1 646.2 176.1 646.6 176.1 647.0 176.1 647.4 176.1 647.8 176.2 648.2 176.2 648.6 176.2 649.0 176.2 649.4 176.3 649.8 176.3 650.2 176.3 650.6 176.3 651.0 176.4 651.4 176.5 651.8 176.5 652.2 176.6 652.6 176.7 653.0 176.7 653.4 176.8 653.8 176.9 654.2 177.0 654.6 177.1 655.0 177.2 655.4 177.3 655.8 177.4 656.2 177.5 656.6 177.6 657.0 177.8 657.4 177.9 657.8 178.0 658.2 178.2 658.6 178.3 659.0 178.4 659.4 178.6 659.8 178.7 660.2 178.8 660.6 178.9 661.0 179.0 661.4 179.2 661.8 179.2 662.2 179.3 662.6 179.4 663.0 179.5 663.4 179.6 663.8 179.6 664.2 179.7 664.6 179.8 665.0 179.9 665.4 179.9 665.8 180.0 666.2 180.0 666.6 180.1 667.0 180.2 667.4 180.2 667.8 180.3" fill="none" stroke="#5301a3" stroke-width="1.7" stroke-linejoin="round"/>
<path d="M399.0 177.0 399.4 177.0 399.8 176.9 400.2 176.8 400.6 177.0 401.0 177.3 401.4 177.6 401.8 177.7 402.2 177.6 402.6 177.5 403.0 177.4 403.4 177.6 403.8 177.8 404.2 177.9 404.6 177.7 405.0 177.5 405.4 177.3 405.8 177.2 406.2 177.2 406.6 177.1 407.0 177.0 407.4 176.9 407.8 176.7 408.2 176.6 408.6 176.7 409.0 176.8 409.4 177.0 409.8 176.9 410.2 176.9 410.6 176.9 411.0 177.0 411.4 177.1 411.8 177.3 412.2 177.6 412.6 177.9 413.0 178.3 413.4 178.5 413.8 178.3 414.2 178.0 414.6 177.7 415.0 177.7 415.4 177.7 415.8 177.6 416.2 177.4 416.6 177.1 417.0 176.9 417.4 176.8 417.8 176.8 418.2 176.8 418.6 176.6 419.0 176.0 419.4 175.5 419.8 174.9 420.2 174.7 420.6 174.3 421.0 173.8 421.4 173.0 421.8 172.0 422.2 170.9 422.6 169.7 423.0 168.4 423.4 166.9 423.8 165.3 424.2 163.5 424.6 161.6 425.0 159.6 425.4 157.5 425.8 155.3 426.2 153.1 426.6 150.9 427.0 148.6 427.4 146.3 427.8 143.9 428.2 141.6 428.6 139.0 429.0 136.2 429.4 133.3 429.8 130.3 430.2 127.3 430.6 124.3 431.0 121.3 431.4 118.5 431.8 115.9 432.2 113.4 432.6 111.3 433.0 109.2 433.4 107.3 433.8 105.4 434.2 103.7 434.6 102.0 435.0 100.3 435.4 98.7 435.8 97.2 436.2 95.6 436.6 94.1 437.0 92.7 437.4 91.4 437.8 90.1 438.2 88.8 438.6 87.4 439.0 86.1 439.4 84.6 439.8 83.1 440.2 81.4 440.6 79.4 441.0 77.1 441.4 74.7 441.8 72.2 442.2 69.7 442.6 67.3 443.0 65.2 443.4 63.5 443.8 62.2 444.2 61.5 444.6 61.6 445.0 62.9 445.4 65.1 445.8 67.5 446.2 69.6 446.6 71.8 447.0 74.1 447.4 76.8 447.8 79.9 448.2 84.0 448.6 89.4 449.0 95.4 449.4 101.5 449.8 107.6 450.2 114.2 450.6 120.6 451.0 125.9 451.4 130.1 451.8 133.8 452.2 137.2 452.6 140.2 453.0 143.0 453.4 145.6 453.8 148.0 454.2 150.3 454.6 152.4 455.0 154.4 455.4 156.3 455.8 158.0 456.2 159.7 456.6 161.2 457.0 162.7 457.4 164.1 457.8 165.4 458.2 166.7 458.6 167.9 459.0 169.1 459.4 170.2 459.8 171.3 460.2 172.4 460.6 173.5 461.0 174.5 461.4 175.5 461.8 176.4 462.2 177.4 462.6 178.3 463.0 179.1 463.4 179.9 463.8 180.7 464.2 181.4 464.6 182.1 465.0 182.7 465.4 183.3 465.8 183.9 466.2 184.5 466.6 185.0 467.0 185.6 467.4 186.2 467.8 186.7 468.2 187.3 468.6 187.8 469.0 188.3 469.4 188.9 469.8 189.4 470.2 190.0 470.6 190.5 471.0 191.1 471.4 191.8 471.8 192.4 472.2 193.1 472.6 193.7 473.0 194.3 473.4 194.9 473.8 195.5 474.2 196.0 474.6 196.4 475.0 196.8 475.4 197.1 475.8 197.5 476.2 197.8 476.6 198.1 477.0 198.4 477.4 198.7 477.8 199.0 478.2 199.3 478.6 199.5 479.0 199.7 479.4 199.9 479.8 200.0 480.2 200.1 480.6 200.1 481.0 200.1 481.4 200.1 481.8 200.0 482.2 200.0 482.6 199.9 483.0 199.8 483.4 199.8 483.8 199.7 484.2 199.5 484.6 199.3 485.0 198.9 485.4 198.4 485.8 197.9 486.2 197.3 486.6 196.7 487.0 196.1 487.4 195.5 487.8 194.8 488.2 194.1 488.6 193.3 489.0 192.6 489.4 191.9 489.8 191.3 490.2 190.8 490.6 190.4 491.0 189.9 491.4 189.5 491.8 189.2 492.2 188.8 492.6 188.6 493.0 188.5 493.4 188.5 493.8 188.6 494.2 188.6 494.6 188.7 495.0 188.8 495.4 188.9 495.8 189.1 496.2 189.2 496.6 189.4 497.0 189.5 497.4 189.7 497.8 190.0 498.2 190.3 498.6 190.6 499.0 191.0 499.4 191.4 499.8 191.8 500.2 192.2 500.6 192.7 501.0 193.1 501.4 193.5 501.8 193.9 502.2 194.3 502.6 194.8 503.0 195.2 503.4 195.7 503.8 196.2 504.2 196.6 504.6 197.1 505.0 197.6 505.4 198.1 505.8 198.6 506.2 199.2 506.6 199.7 507.0 200.2 507.4 200.8 507.8 201.4 508.2 201.9 508.6 202.5 509.0 203.1 509.4 203.8 509.8 204.4 510.2 205.0 510.6 205.7 511.0 206.3 511.4 207.0 511.8 207.8 512.2 208.6 512.6 209.6 513.0 210.7 513.4 211.8 513.8 212.8 514.2 213.4 514.6 213.5 515.0 213.2 515.4 212.7 515.8 211.9 516.2 210.9 516.6 209.7 517.0 207.6 517.4 204.6 517.8 200.9 518.2 197.2 518.6 193.8 519.0 190.5 519.4 187.3 519.8 184.1 520.2 180.9 520.6 177.8 521.0 174.9 521.4 171.9 521.8 169.0 522.2 166.2 522.6 163.4 523.0 160.7 523.4 158.0 523.8 155.1 524.2 151.8 524.6 148.6 525.0 146.0 525.4 144.4 525.8 144.6 526.2 147.1 526.6 151.1 527.0 155.5 527.4 159.0 527.8 161.4 528.2 163.6 528.6 165.7 529.0 167.4 529.4 168.7 529.8 169.6 530.2 169.8 530.6 169.6 531.0 169.1 531.4 168.6 531.8 168.1 532.2 167.7 532.6 167.4 533.0 167.1 533.4 166.8 533.8 166.6 534.2 166.6 534.6 166.7 535.0 166.8 535.4 167.1 535.8 167.4 536.2 167.7 536.6 168.0 537.0 168.3 537.4 168.7 537.8 169.2 538.2 169.7 538.6 170.2 539.0 170.7 539.4 171.1 539.8 171.4 540.2 171.7 540.6 171.9 541.0 172.1 541.4 172.3 541.8 172.5 542.2 172.6 542.6 172.8 543.0 172.9 543.4 173.0 543.8 173.1 544.2 173.2 544.6 173.3 545.0 173.4 545.4 173.5 545.8 173.7 546.2 174.0 546.6 174.3 547.0 174.7 547.4 175.2 547.8 175.7 548.2 176.1 548.6 176.6 549.0 177.0 549.4 177.4 549.8 177.8 550.2 178.2 550.6 178.6 551.0 179.0 551.4 179.4 551.8 179.7 552.2 180.1 552.6 180.4 553.0 180.6 553.4 180.9 553.8 181.2 554.2 181.4 554.6 181.7 555.0 181.9 555.4 182.1 555.8 182.3 556.2 182.4 556.6 182.5 557.0 182.6 557.4 182.6 557.8 182.6 558.2 182.6 558.6 182.6 559.0 182.6 559.4 182.6 559.8 182.5 560.2 182.5 560.6 182.4 561.0 182.4 561.4 182.3 561.8 182.0 562.2 181.8 562.6 181.5 563.0 181.1 563.4 180.8 563.8 180.6 564.2 180.5 564.6 180.4 565.0 180.6 565.4 180.9 565.8 181.3 566.2 181.8 566.6 182.2 567.0 182.4 567.4 182.6 567.8 182.8 568.2 183.0 568.6 183.1 569.0 183.3 569.4 183.4 569.8 183.5 570.2 183.7 570.6 183.8 571.0 183.8 571.4 183.9 571.8 184.0 572.2 184.0 572.6 184.0 573.0 184.0 573.4 184.0 573.8 184.1 574.2 184.1 574.6 184.1 575.0 184.1 575.4 184.1 575.8 184.1 576.2 184.1 576.6 184.2 577.0 184.2 577.4 184.2 577.8 184.2 578.2 184.2 578.6 184.2 579.0 184.2 579.4 184.2 579.8 184.2 580.2 184.2 580.6 184.2 581.0 184.2 581.4 184.2 581.8 184.2 582.2 184.2 582.6 184.2 583.0 184.1 583.4 184.1 583.8 184.0 584.2 184.0 584.6 183.9 585.0 183.9 585.4 183.8 585.8 183.8 586.2 183.7 586.6 183.6 587.0 183.5 587.4 183.5 587.8 183.4 588.2 183.3 588.6 183.3 589.0 183.2 589.4 183.1 589.8 183.1 590.2 183.0 590.6 182.9 591.0 182.9 591.4 182.8 591.8 182.7 592.2 182.7 592.6 182.6 593.0 182.5 593.4 182.4 593.8 182.4 594.2 182.3 594.6 182.2 595.0 182.1 595.4 182.0 595.8 182.0 596.2 181.9 596.6 181.8 597.0 181.7 597.4 181.6 597.8 181.5 598.2 181.4 598.6 181.3 599.0 181.3 599.4 181.2 599.8 181.1 600.2 181.0 600.6 180.9 601.0 180.8 601.4 180.7 601.8 180.6 602.2 180.5 602.6 180.4 603.0 180.3 603.4 180.2 603.8 180.1 604.2 180.0 604.6 179.9 605.0 179.8 605.4 179.7 605.8 179.6 606.2 179.5 606.6 179.3 607.0 179.2 607.4 179.1 607.8 179.0 608.2 178.9 608.6 178.9 609.0 178.8 609.4 178.7 609.8 178.6 610.2 178.5 610.6 178.4 611.0 178.3 611.4 178.2 611.8 178.1 612.2 178.1 612.6 178.0 613.0 177.9 613.4 177.8 613.8 177.7 614.2 177.6 614.6 177.6 615.0 177.5 615.4 177.4 615.8 177.3 616.2 177.2 616.6 177.2 617.0 177.1 617.4 177.0 617.8 177.0 618.2 176.9 618.6 176.8 619.0 176.8 619.4 176.7 619.8 176.7 620.2 176.6 620.6 176.6 621.0 176.5 621.4 176.5 621.8 176.5 622.2 176.4 622.6 176.4 623.0 176.4 623.4 176.4 623.8 176.3 624.2 176.3 624.6 176.3 625.0 176.3 625.4 176.2 625.8 176.2 626.2 176.2 626.6 176.2 627.0 176.1 627.4 176.1 627.8 176.1 628.2 176.1 628.6 176.1 629.0 176.0 629.4 176.0 629.8 176.0 630.2 175.9 630.6 175.9 631.0 175.9 631.4 175.8 631.8 175.8 632.2 175.7 632.6 175.7 633.0 175.6 633.4 175.6 633.8 175.6 634.2 175.5 634.6 175.5 635.0 175.5 635.4 175.4 635.8 175.4 636.2 175.4 636.6 175.3 637.0 175.3 637.4 175.3 637.8 175.0 638.2 174.3 638.6 173.8 639.0 174.0 639.4 174.7 639.8 175.4 640.2 175.6 640.6 175.7 641.0 175.8 641.4 175.9 641.8 176.0 642.2 176.1 642.6 176.2 643.0 176.3 643.4 176.3 643.8 176.3 644.2 176.3 644.6 176.3 645.0 176.3 645.4 176.3 645.8 176.3 646.2 176.4 646.6 176.4 647.0 176.4 647.4 176.4 647.8 176.4 648.2 176.5 648.6 176.5 649.0 176.5 649.4 176.5 649.8 176.6 650.2 176.6 650.6 176.6 651.0 176.7 651.4 176.7 651.8 176.8 652.2 176.8 652.6 176.9 653.0 176.9 653.4 177.0 653.8 177.1 654.2 177.1 654.6 177.2 655.0 177.3 655.4 177.3 655.8 177.4 656.2 177.5 656.6 177.6 657.0 177.7 657.4 177.8 657.8 178.0 658.2 178.1 658.6 178.2 659.0 178.3 659.4 178.5 659.8 178.6 660.2 178.7 660.6 178.8 661.0 178.9 661.4 179.0 661.8 179.1 662.2 179.2 662.6 179.3 663.0 179.3 663.4 179.4 663.8 179.5 664.2 179.5 664.6 179.6 665.0 179.6 665.4 179.7 665.8 179.8 666.2 179.8 666.6 179.9 667.0 179.9 667.4 179.9 667.8 180.0" fill="none" stroke="#330598" stroke-width="1.7" stroke-linejoin="round"/>
<path d="M399.0 176.8 399.4 177.1 399.8 177.4 400.2 177.7 400.6 177.6 401.0 177.5 401.4 177.3 401.8 177.2 402.2 177.3 402.6 177.4 403.0 177.4 403.4 177.4 403.8 177.4 404.2 177.3 404.6 177.3 405.0 177.3 405.4 177.2 405.8 177.2 406.2 177.3 406.6 177.4 407.0 177.3 407.4 177.1 407.8 176.8 408.2 176.7 408.6 176.6 409.0 176.5 409.4 176.5 409.8 176.8 410.2 177.0 410.6 177.3 411.0 177.3 411.4 177.1 411.8 177.0 412.2 177.0 412.6 177.2 413.0 177.4 413.4 177.5 413.8 177.4 414.2 177.3 414.6 177.2 415.0 177.2 415.4 177.1 415.8 177.1 416.2 177.1 416.6 177.0 417.0 177.0 417.4 176.8 417.8 176.6 418.2 176.3 418.6 176.0 419.0 175.9 419.4 175.6 419.8 175.4 420.2 174.9 420.6 174.5 421.0 174.0 421.4 173.4 421.8 172.6 422.2 171.6 422.6 170.5 423.0 169.3 423.4 168.0 423.8 166.7 424.2 165.3 424.6 163.7 425.0 162.0 425.4 160.2 425.8 158.2 426.2 156.2 426.6 154.0 427.0 151.8 427.4 149.5 427.8 147.2 428.2 144.8 428.6 142.2 429.0 139.4 429.4 136.4 429.8 133.4 430.2 130.3 430.6 127.2 431.0 124.2 431.4 121.3 431.8 118.6 432.2 116.1 432.6 113.9 433.0 111.9 433.4 109.9 433.8 108.1 434.2 106.3 434.6 104.6 435.0 103.0 435.4 101.4 435.8 99.8 436.2 98.2 436.6 96.8 437.0 95.4 437.4 94.0 437.8 92.7 438.2 91.4 438.6 90.1 439.0 88.7 439.4 87.3 439.8 85.8 440.2 84.1 440.6 82.1 441.0 79.7 441.4 77.2 441.8 74.6 442.2 72.0 442.6 69.5 443.0 67.3 443.4 65.5 443.8 64.2 444.2 63.5 444.6 63.6 445.0 64.8 445.4 66.8 445.8 69.0 446.2 70.9 446.6 72.8 447.0 74.8 447.4 77.2 447.8 80.0 448.2 84.0 448.6 89.4 449.0 95.4 449.4 101.5 449.8 107.6 450.2 114.3 450.6 120.7 451.0 126.0 451.4 130.2 451.8 133.9 452.2 137.2 452.6 140.2 453.0 143.0 453.4 145.6 453.8 148.0 454.2 150.3 454.6 152.4 455.0 154.4 455.4 156.3 455.8 158.0 456.2 159.6 456.6 161.2 457.0 162.6 457.4 164.0 457.8 165.4 458.2 166.6 458.6 167.8 459.0 169.0 459.4 170.1 459.8 171.2 460.2 172.3 460.6 173.4 461.0 174.4 461.4 175.4 461.8 176.4 462.2 177.3 462.6 178.2 463.0 179.0 463.4 179.8 463.8 180.6 464.2 181.3 464.6 182.0 465.0 182.6 465.4 183.2 465.8 183.8 466.2 184.4 466.6 184.9 467.0 185.5 467.4 186.1 467.8 186.6 468.2 187.2 468.6 187.7 469.0 188.2 469.4 188.8 469.8 189.3 470.2 189.9 470.6 190.4 471.0 191.0 471.4 191.7 471.8 192.3 472.2 193.0 472.6 193.6 473.0 194.2 473.4 194.8 473.8 195.4 474.2 195.9 474.6 196.3 475.0 196.7 475.4 197.0 475.8 197.4 476.2 197.7 476.6 198.0 477.0 198.3 477.4 198.6 477.8 198.9 478.2 199.2 478.6 199.4 479.0 199.6 479.4 199.8 479.8 199.9 480.2 200.0 480.6 200.0 481.0 200.0 481.4 200.0 481.8 199.9 482.2 199.9 482.6 199.8 483.0 199.7 483.4 199.7 483.8 199.6 484.2 199.4 484.6 199.2 485.0 198.8 485.4 198.3 485.8 197.7 486.2 197.2 486.6 196.6 487.0 196.0 487.4 195.4 487.8 194.7 488.2 194.0 488.6 193.2 489.0 192.5 489.4 191.8 489.8 191.2 490.2 190.8 490.6 190.3 491.0 189.9 491.4 189.5 491.8 189.1 492.2 188.8 492.6 188.6 493.0 188.5 493.4 188.5 493.8 188.5 494.2 188.6 494.6 188.7 495.0 188.8 495.4 188.9 495.8 189.0 496.2 189.2 496.6 189.3 497.0 189.5 497.4 189.7 497.8 189.9 498.2 190.2 498.6 190.6 499.0 191.0 499.4 191.3 499.8 191.8 500.2 192.2 500.6 192.6 501.0 193.0 501.4 193.4 501.8 193.8 502.2 194.3 502.6 194.7 503.0 195.1 503.4 195.6 503.8 196.1 504.2 196.6 504.6 197.1 505.0 197.5 505.4 198.0 505.8 198.6 506.2 199.1 506.6 199.6 507.0 200.1 507.4 200.7 507.8 201.2 508.2 201.8 508.6 202.4 509.0 203.0 509.4 203.6 509.8 204.2 510.2 204.9 510.6 205.5 511.0 206.2 511.4 206.9 511.8 207.6 512.2 208.4 512.6 209.4 513.0 210.6 513.4 211.7 513.8 212.6 514.2 213.2 514.6 213.4 515.0 213.1 515.4 212.6 515.8 211.8 516.2 210.8 516.6 209.7 517.0 207.7 517.4 205.0 517.8 201.7 518.2 198.4 518.6 195.2 519.0 192.1 519.4 188.9 519.8 185.6 520.2 182.3 520.6 179.2 521.0 176.2 521.4 173.2 521.8 170.2 522.2 167.2 522.6 164.3 523.0 161.5 523.4 158.7 523.8 155.7 524.2 152.3 524.6 148.9 525.0 146.2 525.4 144.5 525.8 144.7 526.2 147.3 526.6 151.4 527.0 155.8 527.4 159.4 527.8 161.7 528.2 163.9 528.6 166.0 529.0 167.9 529.4 169.4 529.8 170.3 530.2 170.7 530.6 170.5 531.0 170.1 531.4 169.6 531.8 169.2 532.2 168.9 532.6 168.5 533.0 168.2 533.4 168.0 533.8 167.8 534.2 167.8 534.6 167.9 535.0 168.0 535.4 168.3 535.8 168.6 536.2 168.9 536.6 169.2 537.0 169.5 537.4 169.8 537.8 170.3 538.2 170.7 538.6 171.2 539.0 171.6 539.4 171.9 539.8 172.2 540.2 172.4 540.6 172.7 541.0 172.9 541.4 173.1 541.8 173.3 542.2 173.4 542.6 173.6 543.0 173.7 543.4 173.9 543.8 174.0 544.2 174.1 544.6 174.2 545.0 174.3 545.4 174.4 545.8 174.6 546.2 174.9 546.6 175.2 547.0 175.6 547.4 176.1 547.8 176.5 548.2 177.0 548.6 177.4 549.0 177.8 549.4 178.2 549.8 178.5 550.2 178.9 550.6 179.2 551.0 179.6 551.4 179.9 551.8 180.2 552.2 180.5 552.6 180.8 553.0 181.0 553.4 181.2 553.8 181.5 554.2 181.7 554.6 182.0 555.0 182.2 555.4 182.4 555.8 182.6 556.2 182.7 556.6 182.8 557.0 182.8 557.4 182.8 557.8 182.8 558.2 182.8 558.6 182.7 559.0 182.7 559.4 182.7 559.8 182.6 560.2 182.6 560.6 182.6 561.0 182.5 561.4 182.4 561.8 182.2 562.2 181.9 562.6 181.6 563.0 181.2 563.4 180.9 563.8 180.7 564.2 180.5 564.6 180.5 565.0 180.7 565.4 181.0 565.8 181.4 566.2 181.8 566.6 182.2 567.0 182.5 567.4 182.7 567.8 182.9 568.2 183.0 568.6 183.2 569.0 183.3 569.4 183.5 569.8 183.6 570.2 183.7 570.6 183.8 571.0 183.9 571.4 183.9 571.8 184.0 572.2 184.0 572.6 184.0 573.0 184.0 573.4 184.1 573.8 184.1 574.2 184.1 574.6 184.1 575.0 184.1 575.4 184.1 575.8 184.1 576.2 184.1 576.6 184.2 577.0 184.2 577.4 184.2 577.8 184.2 578.2 184.2 578.6 184.2 579.0 184.2 579.4 184.2 579.8 184.2 580.2 184.2 580.6 184.2 581.0 184.2 581.4 184.2 581.8 184.2 582.2 184.2 582.6 184.1 583.0 184.1 583.4 184.1 583.8 184.0 584.2 184.0 584.6 183.9 585.0 183.8 585.4 183.8 585.8 183.7 586.2 183.7 586.6 183.6 587.0 183.5 587.4 183.4 587.8 183.4 588.2 183.3 588.6 183.2 589.0 183.2 589.4 183.1 589.8 183.0 590.2 183.0 590.6 182.9 591.0 182.8 591.4 182.8 591.8 182.7 592.2 182.6 592.6 182.6 593.0 182.5 593.4 182.4 593.8 182.3 594.2 182.2 594.6 182.2 595.0 182.1 595.4 182.0 595.8 181.9 596.2 181.8 596.6 181.7 597.0 181.7 597.4 181.6 597.8 181.5 598.2 181.4 598.6 181.3 599.0 181.2 599.4 181.1 599.8 181.0 600.2 181.0 600.6 180.9 601.0 180.8 601.4 180.7 601.8 180.6 602.2 180.5 602.6 180.4 603.0 180.3 603.4 180.2 603.8 180.1 604.2 179.9 604.6 179.8 605.0 179.7 605.4 179.6 605.8 179.5 606.2 179.4 606.6 179.3 607.0 179.2 607.4 179.1 607.8 179.0 608.2 178.9 608.6 178.8 609.0 178.7 609.4 178.6 609.8 178.5 610.2 178.5 610.6 178.4 611.0 178.3 611.4 178.2 611.8 178.1 612.2 178.0 612.6 177.9 613.0 177.8 613.4 177.8 613.8 177.7 614.2 177.6 614.6 177.5 615.0 177.4 615.4 177.3 615.8 177.3 616.2 177.2 616.6 177.1 617.0 177.0 617.4 177.0 617.8 176.9 618.2 176.8 618.6 176.8 619.0 176.7 619.4 176.7 619.8 176.6 620.2 176.6 620.6 176.5 621.0 176.5 621.4 176.5 621.8 176.4 622.2 176.4 622.6 176.4 623.0 176.4 623.4 176.3 623.8 176.3 624.2 176.3 624.6 176.3 625.0 176.2 625.4 176.2 625.8 176.2 626.2 176.2 626.6 176.2 627.0 176.1 627.4 176.1 627.8 176.1 628.2 176.1 628.6 176.1 629.0 176.0 629.4 176.0 629.8 176.0 630.2 176.0 630.6 176.0 631.0 176.0 631.4 176.0 631.8 175.9 632.2 175.9 632.6 175.9 633.0 175.9 633.4 175.9 633.8 175.9 634.2 175.9 634.6 175.9 635.0 175.9 635.4 175.8 635.8 175.8 636.2 175.8 636.6 175.8 637.0 175.7 637.4 175.7 637.8 175.4 638.2 174.7 638.6 174.1 639.0 174.3 639.4 175.1 639.8 175.8 640.2 176.0 640.6 176.1 641.0 176.2 641.4 176.2 641.8 176.3 642.2 176.3 642.6 176.4 643.0 176.4 643.4 176.4 643.8 176.5 644.2 176.5 644.6 176.5 645.0 176.5 645.4 176.5 645.8 176.6 646.2 176.6 646.6 176.6 647.0 176.6 647.4 176.6 647.8 176.7 648.2 176.7 648.6 176.8 649.0 176.8 649.4 176.8 649.8 176.9 650.2 176.9 650.6 176.9 651.0 177.0 651.4 177.0 651.8 177.0 652.2 177.1 652.6 177.1 653.0 177.1 653.4 177.2 653.8 177.2 654.2 177.3 654.6 177.3 655.0 177.4 655.4 177.4 655.8 177.5 656.2 177.5 656.6 177.6 657.0 177.7 657.4 177.8 657.8 177.9 658.2 178.0 658.6 178.1 659.0 178.2 659.4 178.4 659.8 178.5 660.2 178.6 660.6 178.7 661.0 178.8 661.4 178.9 661.8 179.0 662.2 179.0 662.6 179.1 663.0 179.2 663.4 179.2 663.8 179.3 664.2 179.3 664.6 179.4 665.0 179.4 665.4 179.5 665.8 179.5 666.2 179.6 666.6 179.6 667.0 179.6 667.4 179.7 667.8 179.7" fill="none" stroke="#0d0887" stroke-width="1.7" stroke-linejoin="round"/>
<path d="M439.7 97 V20.4 H545.8 V178 M534.8 20.4 V167" fill="none" stroke="#1faa4a" stroke-width="1.3" stroke-dasharray="4.5 3"/>
<path d="M444.7 300 M445.3 23 H525.5 V170 M520.7 23 V189.4 M445.3 23 V62" fill="none" stroke="#2a7de1" stroke-width="1.3" stroke-dasharray="4.5 3"/>
<path d="M398.8 8.6 H668.5 V224.6 H398.8 Z" fill="none" stroke="#3a3a3a" stroke-width="1"/>
<line x1="398.80" y1="224.6" x2="398.80" y2="228.20" stroke="#3a3a3a" stroke-width="1"/>
<text x="398.80" y="242.60" font-size="13.60" fill="#111" text-anchor="middle" font-weight="normal" >1700</text>
<line x1="418.06" y1="224.6" x2="418.06" y2="226.60" stroke="#3a3a3a" stroke-width="1"/>
<line x1="437.33" y1="224.6" x2="437.33" y2="228.20" stroke="#3a3a3a" stroke-width="1"/>
<text x="437.33" y="242.60" font-size="13.60" fill="#111" text-anchor="middle" font-weight="normal" >1600</text>
<line x1="456.59" y1="224.6" x2="456.59" y2="226.60" stroke="#3a3a3a" stroke-width="1"/>
<line x1="475.86" y1="224.6" x2="475.86" y2="228.20" stroke="#3a3a3a" stroke-width="1"/>
<text x="475.86" y="242.60" font-size="13.60" fill="#111" text-anchor="middle" font-weight="normal" >1500</text>
<line x1="495.12" y1="224.6" x2="495.12" y2="226.60" stroke="#3a3a3a" stroke-width="1"/>
<line x1="514.39" y1="224.6" x2="514.39" y2="228.20" stroke="#3a3a3a" stroke-width="1"/>
<text x="514.39" y="242.60" font-size="13.60" fill="#111" text-anchor="middle" font-weight="normal" >1400</text>
<line x1="533.65" y1="224.6" x2="533.65" y2="226.60" stroke="#3a3a3a" stroke-width="1"/>
<line x1="552.92" y1="224.6" x2="552.92" y2="228.20" stroke="#3a3a3a" stroke-width="1"/>
<text x="552.92" y="242.60" font-size="13.60" fill="#111" text-anchor="middle" font-weight="normal" >1300</text>
<line x1="572.18" y1="224.6" x2="572.18" y2="226.60" stroke="#3a3a3a" stroke-width="1"/>
<line x1="591.45" y1="224.6" x2="591.45" y2="228.20" stroke="#3a3a3a" stroke-width="1"/>
<text x="591.45" y="242.60" font-size="13.60" fill="#111" text-anchor="middle" font-weight="normal" >1200</text>
<line x1="610.71" y1="224.6" x2="610.71" y2="226.60" stroke="#3a3a3a" stroke-width="1"/>
<line x1="629.97" y1="224.6" x2="629.97" y2="228.20" stroke="#3a3a3a" stroke-width="1"/>
<text x="629.97" y="242.60" font-size="13.60" fill="#111" text-anchor="middle" font-weight="normal" >1100</text>
<line x1="649.24" y1="224.6" x2="649.24" y2="226.60" stroke="#3a3a3a" stroke-width="1"/>
<line x1="668.50" y1="224.6" x2="668.50" y2="228.20" stroke="#3a3a3a" stroke-width="1"/>
<text x="668.50" y="242.60" font-size="13.60" fill="#111" text-anchor="middle" font-weight="normal" >1000</text>
<text x="533.50" y="268.00" font-size="13.80" fill="#111" text-anchor="middle" font-weight="normal" >Wavenumber (cm<tspan dy="-5" font-size="9">-1</tspan><tspan dy="5">)</tspan></text>
<text x="0.00" y="0.00" font-size="14.20" fill="#111" text-anchor="middle" font-weight="normal" transform="translate(389.2 116.8) rotate(-90)">Absorbance (a.u.)</text>
<path d="M403.6 14.2 V31 M402.1 14.2 H405.1 M402.1 31 H405.1" stroke="#111" stroke-width="1.3" fill="none"/>
<text x="411.00" y="29.00" font-size="14.50" fill="#111" text-anchor="start" font-weight="normal" >0.05</text>
<line x1="460.60" y1="50.60" x2="460.80" y2="64.70" stroke="#4e5e76" stroke-width="3.00"/>
<line x1="476.60" y1="50.60" x2="476.60" y2="64.70" stroke="#4e5e76" stroke-width="3.00"/>
<circle cx="460.80" cy="64.70" r="6.20" fill="url(#gP)" stroke="#e0708a" stroke-width="0.6"/>
<circle cx="476.60" cy="64.70" r="6.20" fill="url(#gP)" stroke="#e0708a" stroke-width="0.6"/>
<circle cx="468.60" cy="29.90" r="4.00" fill="url(#gH)" stroke="#c4c4c4" stroke-width="0.6"/>
<circle cx="468.60" cy="40.60" r="6.00" fill="url(#gC)" stroke="#8a94a8" stroke-width="0.6"/>
<circle cx="460.60" cy="50.60" r="5.80" fill="url(#gO)" stroke="#a83a3a" stroke-width="0.6"/>
<circle cx="476.60" cy="50.60" r="5.80" fill="url(#gO)" stroke="#a83a3a" stroke-width="0.6"/>
<line x1="468.60" y1="32.90" x2="468.60" y2="35.90" stroke="#d01010" stroke-width="1.80"/>
<line x1="463.10" y1="46.60" x2="465.10" y2="44.60" stroke="#d01010" stroke-width="1.80"/>
<line x1="474.10" y1="46.60" x2="472.10" y2="44.60" stroke="#d01010" stroke-width="1.80"/>
<text x="475.80" y="36.10" font-size="9.50" fill="#111" text-anchor="start" font-weight="normal" >bi-HCOO<tspan dy="-2" font-size="8.5">*</tspan></text>
<text x="473.00" y="104.70" font-size="9.60" fill="#222" text-anchor="start" font-weight="normal" >H<tspan dy="2.5" font-size="7">2</tspan><tspan dy="-2.5"> flushing</tspan></text>
<rect x="491.2" y="111.8" width="6.8" height="47" fill="url(#gArrowB)"/>
<path d="M483.9 158.3 L505.1 158.3 L494.6 170.2 Z" fill="#3c089c"/>
<line x1="558.20" y1="144.90" x2="558.40" y2="159.00" stroke="#4e5e76" stroke-width="3.00"/>
<line x1="574.20" y1="144.90" x2="574.20" y2="159.00" stroke="#4e5e76" stroke-width="3.00"/>
<circle cx="558.40" cy="159.00" r="6.20" fill="url(#gP)" stroke="#e0708a" stroke-width="0.6"/>
<circle cx="574.20" cy="159.00" r="6.20" fill="url(#gB)" stroke="#6a9ae0" stroke-width="0.6"/>
<circle cx="566.20" cy="124.20" r="4.00" fill="url(#gH)" stroke="#c4c4c4" stroke-width="0.6"/>
<circle cx="566.20" cy="134.90" r="6.00" fill="url(#gC)" stroke="#8a94a8" stroke-width="0.6"/>
<circle cx="558.20" cy="144.90" r="5.80" fill="url(#gO)" stroke="#a83a3a" stroke-width="0.6"/>
<circle cx="574.20" cy="144.90" r="5.80" fill="url(#gO)" stroke="#a83a3a" stroke-width="0.6"/>
<line x1="566.20" y1="127.20" x2="566.20" y2="130.20" stroke="#d01010" stroke-width="1.80"/>
<line x1="560.70" y1="140.90" x2="562.70" y2="138.90" stroke="#d01010" stroke-width="1.80"/>
<line x1="571.70" y1="140.90" x2="569.70" y2="138.90" stroke="#d01010" stroke-width="1.80"/>
<text x="625.20" y="118.90" font-size="10.00" fill="#7a44b8" text-anchor="start" font-weight="normal" >H<tspan dy="2.5" font-size="7">3</tspan><tspan dy="-2.5">CO</tspan><tspan dy="-2.5" font-size="7.5">*</tspan></text>
<line x1="632.10" y1="143.90" x2="632.10" y2="156.40" stroke="#4e5e76" stroke-width="3.00"/>
<circle cx="632.10" cy="156.40" r="6.20" fill="url(#gP)" stroke="#e0708a" stroke-width="0.6"/>
<circle cx="644.60" cy="129.70" r="3.30" fill="url(#gH)" stroke="#c4c4c4" stroke-width="0.6"/>
<circle cx="644.60" cy="140.60" r="3.30" fill="url(#gH)" stroke="#c4c4c4" stroke-width="0.6"/>
<circle cx="639.80" cy="134.00" r="5.70" fill="url(#gC)" stroke="#8a94a8" stroke-width="0.6"/>
<circle cx="632.10" cy="143.90" r="5.80" fill="url(#gO)" stroke="#a83a3a" stroke-width="0.6"/>
<circle cx="635.40" cy="132.30" r="3.90" fill="url(#gH)" stroke="#c4c4c4" stroke-width="0.6"/>
<circle cx="643.10" cy="131.20" r="0.9" fill="#d01010"/>
<circle cx="643.10" cy="139.40" r="0.9" fill="#d01010"/>
<line x1="635.10" y1="140.40" x2="636.60" y2="138.90" stroke="#d01010" stroke-width="1.60"/>
<text x="346.00" y="300.00" font-size="19.50" fill="#000" text-anchor="start" font-weight="bold" >c</text>
<line x1="398.6" y1="340.4" x2="668.4" y2="340.4" stroke="#999" stroke-width="1.2" stroke-dasharray="4.2 3"/>
<path d="M398.6 301.2 H668.4 V516.9 H398.6 Z" fill="none" stroke="#3a3a3a" stroke-width="1"/>
<line x1="394.4" y1="496.80" x2="398.6" y2="496.80" stroke="#3a3a3a" stroke-width="1"/>
<text x="390.50" y="502.40" font-size="14.00" fill="#111" text-anchor="end" font-weight="normal" >0.6</text>
<line x1="394.4" y1="457.70" x2="398.6" y2="457.70" stroke="#3a3a3a" stroke-width="1"/>
<text x="390.50" y="463.30" font-size="14.00" fill="#111" text-anchor="end" font-weight="normal" >0.7</text>
<line x1="394.4" y1="418.60" x2="398.6" y2="418.60" stroke="#3a3a3a" stroke-width="1"/>
<text x="390.50" y="424.20" font-size="14.00" fill="#111" text-anchor="end" font-weight="normal" >0.8</text>
<line x1="394.4" y1="379.50" x2="398.6" y2="379.50" stroke="#3a3a3a" stroke-width="1"/>
<text x="390.50" y="385.10" font-size="14.00" fill="#111" text-anchor="end" font-weight="normal" >0.9</text>
<line x1="394.4" y1="340.40" x2="398.6" y2="340.40" stroke="#3a3a3a" stroke-width="1"/>
<text x="390.50" y="346.00" font-size="14.00" fill="#111" text-anchor="end" font-weight="normal" >1.0</text>
<line x1="394.4" y1="301.30" x2="398.6" y2="301.30" stroke="#3a3a3a" stroke-width="1"/>
<text x="390.50" y="306.90" font-size="14.00" fill="#111" text-anchor="end" font-weight="normal" >1.1</text>
<line x1="396.4" y1="516.35" x2="398.6" y2="516.35" stroke="#3a3a3a" stroke-width="1"/>
<line x1="396.4" y1="477.25" x2="398.6" y2="477.25" stroke="#3a3a3a" stroke-width="1"/>
<line x1="396.4" y1="438.15" x2="398.6" y2="438.15" stroke="#3a3a3a" stroke-width="1"/>
<line x1="396.4" y1="399.05" x2="398.6" y2="399.05" stroke="#3a3a3a" stroke-width="1"/>
<line x1="396.4" y1="359.95" x2="398.6" y2="359.95" stroke="#3a3a3a" stroke-width="1"/>
<line x1="396.4" y1="320.85" x2="398.6" y2="320.85" stroke="#3a3a3a" stroke-width="1"/>
<line x1="410.40" y1="516.9" x2="410.40" y2="520.6" stroke="#3a3a3a" stroke-width="1"/>
<text x="410.40" y="536.20" font-size="14.00" fill="#111" text-anchor="middle" font-weight="normal" >0</text>
<line x1="468.90" y1="516.9" x2="468.90" y2="520.6" stroke="#3a3a3a" stroke-width="1"/>
<text x="468.90" y="536.20" font-size="14.00" fill="#111" text-anchor="middle" font-weight="normal" >50</text>
<line x1="527.40" y1="516.9" x2="527.40" y2="520.6" stroke="#3a3a3a" stroke-width="1"/>
<text x="527.40" y="536.20" font-size="14.00" fill="#111" text-anchor="middle" font-weight="normal" >100</text>
<line x1="585.90" y1="516.9" x2="585.90" y2="520.6" stroke="#3a3a3a" stroke-width="1"/>
<text x="585.90" y="536.20" font-size="14.00" fill="#111" text-anchor="middle" font-weight="normal" >150</text>
<line x1="644.40" y1="516.9" x2="644.40" y2="520.6" stroke="#3a3a3a" stroke-width="1"/>
<text x="644.40" y="536.20" font-size="14.00" fill="#111" text-anchor="middle" font-weight="normal" >200</text>
<line x1="439.65" y1="516.9" x2="439.65" y2="518.9" stroke="#3a3a3a" stroke-width="1"/>
<line x1="498.15" y1="516.9" x2="498.15" y2="518.9" stroke="#3a3a3a" stroke-width="1"/>
<line x1="556.65" y1="516.9" x2="556.65" y2="518.9" stroke="#3a3a3a" stroke-width="1"/>
<line x1="615.15" y1="516.9" x2="615.15" y2="518.9" stroke="#3a3a3a" stroke-width="1"/>
<text x="533.50" y="559.00" font-size="14.00" fill="#111" text-anchor="middle" font-weight="normal" >Reaction time (min)</text>
<text x="0.00" y="0.00" font-size="14.30" fill="#111" text-anchor="middle" font-weight="normal" transform="translate(366.8 409.6) rotate(-90)">Normalized intensity (a.u.)</text>
<circle cx="410.40" cy="340.40" r="3.05" fill="#2ea35a" stroke="#1a1a1a" stroke-width="0.9"/>
<circle cx="422.10" cy="341.18" r="3.05" fill="#2ea35a" stroke="#1a1a1a" stroke-width="0.9"/>
<circle cx="433.80" cy="353.30" r="3.05" fill="#2ea35a" stroke="#1a1a1a" stroke-width="0.9"/>
<circle cx="445.50" cy="363.08" r="3.05" fill="#2ea35a" stroke="#1a1a1a" stroke-width="0.9"/>
<circle cx="457.20" cy="372.85" r="3.05" fill="#2ea35a" stroke="#1a1a1a" stroke-width="0.9"/>
<circle cx="468.90" cy="383.80" r="3.05" fill="#2ea35a" stroke="#1a1a1a" stroke-width="0.9"/>
<circle cx="480.60" cy="394.75" r="3.05" fill="#2ea35a" stroke="#1a1a1a" stroke-width="0.9"/>
<circle cx="492.30" cy="404.13" r="3.05" fill="#2ea35a" stroke="#1a1a1a" stroke-width="0.9"/>
<circle cx="504.00" cy="412.74" r="3.05" fill="#2ea35a" stroke="#1a1a1a" stroke-width="0.9"/>
<circle cx="515.70" cy="423.29" r="3.05" fill="#2ea35a" stroke="#1a1a1a" stroke-width="0.9"/>
<circle cx="527.40" cy="430.33" r="3.05" fill="#2ea35a" stroke="#1a1a1a" stroke-width="0.9"/>
<circle cx="539.10" cy="439.32" r="3.05" fill="#2ea35a" stroke="#1a1a1a" stroke-width="0.9"/>
<circle cx="550.80" cy="446.75" r="3.05" fill="#2ea35a" stroke="#1a1a1a" stroke-width="0.9"/>
<circle cx="562.50" cy="454.18" r="3.05" fill="#2ea35a" stroke="#1a1a1a" stroke-width="0.9"/>
<circle cx="574.20" cy="460.44" r="3.05" fill="#2ea35a" stroke="#1a1a1a" stroke-width="0.9"/>
<circle cx="585.90" cy="466.69" r="3.05" fill="#2ea35a" stroke="#1a1a1a" stroke-width="0.9"/>
<circle cx="597.60" cy="472.95" r="3.05" fill="#2ea35a" stroke="#1a1a1a" stroke-width="0.9"/>
<circle cx="609.30" cy="478.81" r="3.05" fill="#2ea35a" stroke="#1a1a1a" stroke-width="0.9"/>
<circle cx="621.00" cy="483.51" r="3.05" fill="#2ea35a" stroke="#1a1a1a" stroke-width="0.9"/>
<circle cx="632.70" cy="488.20" r="3.05" fill="#2ea35a" stroke="#1a1a1a" stroke-width="0.9"/>
<circle cx="644.40" cy="491.72" r="3.05" fill="#2ea35a" stroke="#1a1a1a" stroke-width="0.9"/>
<circle cx="656.10" cy="493.67" r="3.05" fill="#2ea35a" stroke="#1a1a1a" stroke-width="0.9"/>
<circle cx="410.40" cy="340.40" r="3.05" fill="#2e6fe0" stroke="#1a1a1a" stroke-width="0.9"/>
<circle cx="422.10" cy="336.10" r="3.05" fill="#2e6fe0" stroke="#1a1a1a" stroke-width="0.9"/>
<circle cx="433.80" cy="337.27" r="3.05" fill="#2e6fe0" stroke="#1a1a1a" stroke-width="0.9"/>
<circle cx="445.50" cy="338.05" r="3.05" fill="#2e6fe0" stroke="#1a1a1a" stroke-width="0.9"/>
<circle cx="457.20" cy="340.40" r="3.05" fill="#2e6fe0" stroke="#1a1a1a" stroke-width="0.9"/>
<circle cx="468.90" cy="344.31" r="3.05" fill="#2e6fe0" stroke="#1a1a1a" stroke-width="0.9"/>
<circle cx="480.60" cy="349.00" r="3.05" fill="#2e6fe0" stroke="#1a1a1a" stroke-width="0.9"/>
<circle cx="492.30" cy="353.30" r="3.05" fill="#2e6fe0" stroke="#1a1a1a" stroke-width="0.9"/>
<circle cx="504.00" cy="358.00" r="3.05" fill="#2e6fe0" stroke="#1a1a1a" stroke-width="0.9"/>
<circle cx="515.70" cy="363.08" r="3.05" fill="#2e6fe0" stroke="#1a1a1a" stroke-width="0.9"/>
<circle cx="527.40" cy="368.16" r="3.05" fill="#2e6fe0" stroke="#1a1a1a" stroke-width="0.9"/>
<circle cx="539.10" cy="373.24" r="3.05" fill="#2e6fe0" stroke="#1a1a1a" stroke-width="0.9"/>
<circle cx="550.80" cy="377.94" r="3.05" fill="#2e6fe0" stroke="#1a1a1a" stroke-width="0.9"/>
<circle cx="562.50" cy="383.41" r="3.05" fill="#2e6fe0" stroke="#1a1a1a" stroke-width="0.9"/>
<circle cx="574.20" cy="387.32" r="3.05" fill="#2e6fe0" stroke="#1a1a1a" stroke-width="0.9"/>
<circle cx="585.90" cy="391.62" r="3.05" fill="#2e6fe0" stroke="#1a1a1a" stroke-width="0.9"/>
<circle cx="597.60" cy="396.31" r="3.05" fill="#2e6fe0" stroke="#1a1a1a" stroke-width="0.9"/>
<circle cx="609.30" cy="399.44" r="3.05" fill="#2e6fe0" stroke="#1a1a1a" stroke-width="0.9"/>
<circle cx="621.00" cy="403.74" r="3.05" fill="#2e6fe0" stroke="#1a1a1a" stroke-width="0.9"/>
<circle cx="632.70" cy="406.87" r="3.05" fill="#2e6fe0" stroke="#1a1a1a" stroke-width="0.9"/>
<circle cx="644.40" cy="410.39" r="3.05" fill="#2e6fe0" stroke="#1a1a1a" stroke-width="0.9"/>
<circle cx="656.10" cy="412.34" r="3.05" fill="#2e6fe0" stroke="#1a1a1a" stroke-width="0.9"/>
<circle cx="573.9" cy="315.8" r="3.05" fill="#2e6fe0" stroke="#1a1a1a" stroke-width="0.9"/>
<circle cx="573.9" cy="328" r="3.05" fill="#2ea35a" stroke="#1a1a1a" stroke-width="0.9"/>
<text x="588.70" y="319.40" font-size="10.20" fill="#222" text-anchor="start" font-weight="normal" >bi-HCOO-In-In</text>
<text x="588.70" y="331.60" font-size="10.20" fill="#222" text-anchor="start" font-weight="normal" >bi-HCOO-Ni-In</text>
<text x="420.30" y="322.20" font-size="10.50" fill="#3a7ee0" text-anchor="start" font-weight="normal" >1578 v<tspan dy="2.5" font-size="7.5">as</tspan><tspan dy="-2.5">(O-C-O)</tspan></text>
<text x="584.90" y="453.90" font-size="10.60" fill="#3aa866" text-anchor="start" font-weight="normal" >1348 δ(C-H)</text>
<circle cx="439.00" cy="461.50" r="5.20" fill="url(#gB)" stroke="#6a9ae0" stroke-width="0.6"/>
<circle cx="447.80" cy="461.50" r="5.20" fill="url(#gP)" stroke="#e0708a" stroke-width="0.6"/>
<circle cx="458.20" cy="461.50" r="5.20" fill="url(#gO)" stroke="#a83a3a" stroke-width="0.6"/>
<circle cx="468.60" cy="461.50" r="5.20" fill="url(#gP)" stroke="#e0708a" stroke-width="0.6"/>
<circle cx="492.40" cy="461.50" r="5.20" fill="url(#gB)" stroke="#6a9ae0" stroke-width="0.6"/>
<circle cx="502.60" cy="461.50" r="5.20" fill="url(#gB)" stroke="#6a9ae0" stroke-width="0.6"/>
<circle cx="431.00" cy="469.80" r="5.20" fill="url(#gB)" stroke="#6a9ae0" stroke-width="0.6"/>
<circle cx="440.20" cy="469.80" r="5.20" fill="url(#gO)" stroke="#a83a3a" stroke-width="0.6"/>
<circle cx="450.80" cy="469.80" r="5.20" fill="url(#gP)" stroke="#e0708a" stroke-width="0.6"/>
<circle cx="461.40" cy="469.80" r="5.20" fill="url(#gO)" stroke="#a83a3a" stroke-width="0.6"/>
<circle cx="472.20" cy="469.80" r="5.20" fill="url(#gP)" stroke="#e0708a" stroke-width="0.6"/>
<circle cx="507.00" cy="469.80" r="5.20" fill="url(#gB)" stroke="#6a9ae0" stroke-width="0.6"/>
<circle cx="425.20" cy="479.20" r="5.20" fill="url(#gB)" stroke="#6a9ae0" stroke-width="0.6"/>
<circle cx="434.20" cy="479.20" r="5.20" fill="url(#gP)" stroke="#e0708a" stroke-width="0.6"/>
<circle cx="444.80" cy="479.20" r="5.20" fill="url(#gO)" stroke="#a83a3a" stroke-width="0.6"/>
<circle cx="455.60" cy="479.20" r="5.20" fill="url(#gP)" stroke="#e0708a" stroke-width="0.6"/>
<circle cx="466.20" cy="479.20" r="5.20" fill="url(#gO)" stroke="#a83a3a" stroke-width="0.6"/>
<circle cx="477.40" cy="479.20" r="5.20" fill="url(#gP)" stroke="#e0708a" stroke-width="0.6"/>
<circle cx="488.50" cy="479.20" r="5.20" fill="url(#gO)" stroke="#a83a3a" stroke-width="0.6"/>
<circle cx="501.10" cy="479.20" r="5.20" fill="url(#gB)" stroke="#6a9ae0" stroke-width="0.6"/>
<circle cx="429.60" cy="489.20" r="5.20" fill="url(#gB)" stroke="#6a9ae0" stroke-width="0.6"/>
<circle cx="440.20" cy="489.20" r="5.20" fill="url(#gB)" stroke="#6a9ae0" stroke-width="0.6"/>
<circle cx="450.80" cy="489.20" r="5.20" fill="url(#gB)" stroke="#6a9ae0" stroke-width="0.6"/>
<circle cx="461.40" cy="489.20" r="5.20" fill="url(#gB)" stroke="#6a9ae0" stroke-width="0.6"/>
<circle cx="472.00" cy="489.20" r="5.20" fill="url(#gB)" stroke="#6a9ae0" stroke-width="0.6"/>
<circle cx="482.60" cy="489.20" r="5.20" fill="url(#gB)" stroke="#6a9ae0" stroke-width="0.6"/>
<circle cx="493.20" cy="489.20" r="5.20" fill="url(#gB)" stroke="#6a9ae0" stroke-width="0.6"/>
<circle cx="469.60" cy="451.40" r="5.30" fill="url(#gO)" stroke="#a83a3a" stroke-width="0.6"/>
<circle cx="476.50" cy="458.30" r="5.30" fill="url(#gO)" stroke="#a83a3a" stroke-width="0.6"/>
<circle cx="474.50" cy="445.50" r="5.30" fill="url(#gC)" stroke="#8a94a8" stroke-width="0.6"/>
<circle cx="474.20" cy="436.80" r="3.50" fill="url(#gH)" stroke="#c4c4c4" stroke-width="0.6"/>
<circle cx="482.00" cy="463.50" r="5.30" fill="url(#gO)" stroke="#a83a3a" stroke-width="0.6"/>
<circle cx="486.00" cy="470.60" r="5.30" fill="url(#gO)" stroke="#a83a3a" stroke-width="0.6"/>
<circle cx="488.60" cy="478.20" r="5.50" fill="url(#gO)" stroke="#a83a3a" stroke-width="0.6"/>
<circle cx="498.20" cy="468.20" r="5.30" fill="url(#gC)" stroke="#8a94a8" stroke-width="0.6"/>
<circle cx="505.30" cy="463.50" r="3.50" fill="url(#gH)" stroke="#c4c4c4" stroke-width="0.6"/>
</svg></body></html>
